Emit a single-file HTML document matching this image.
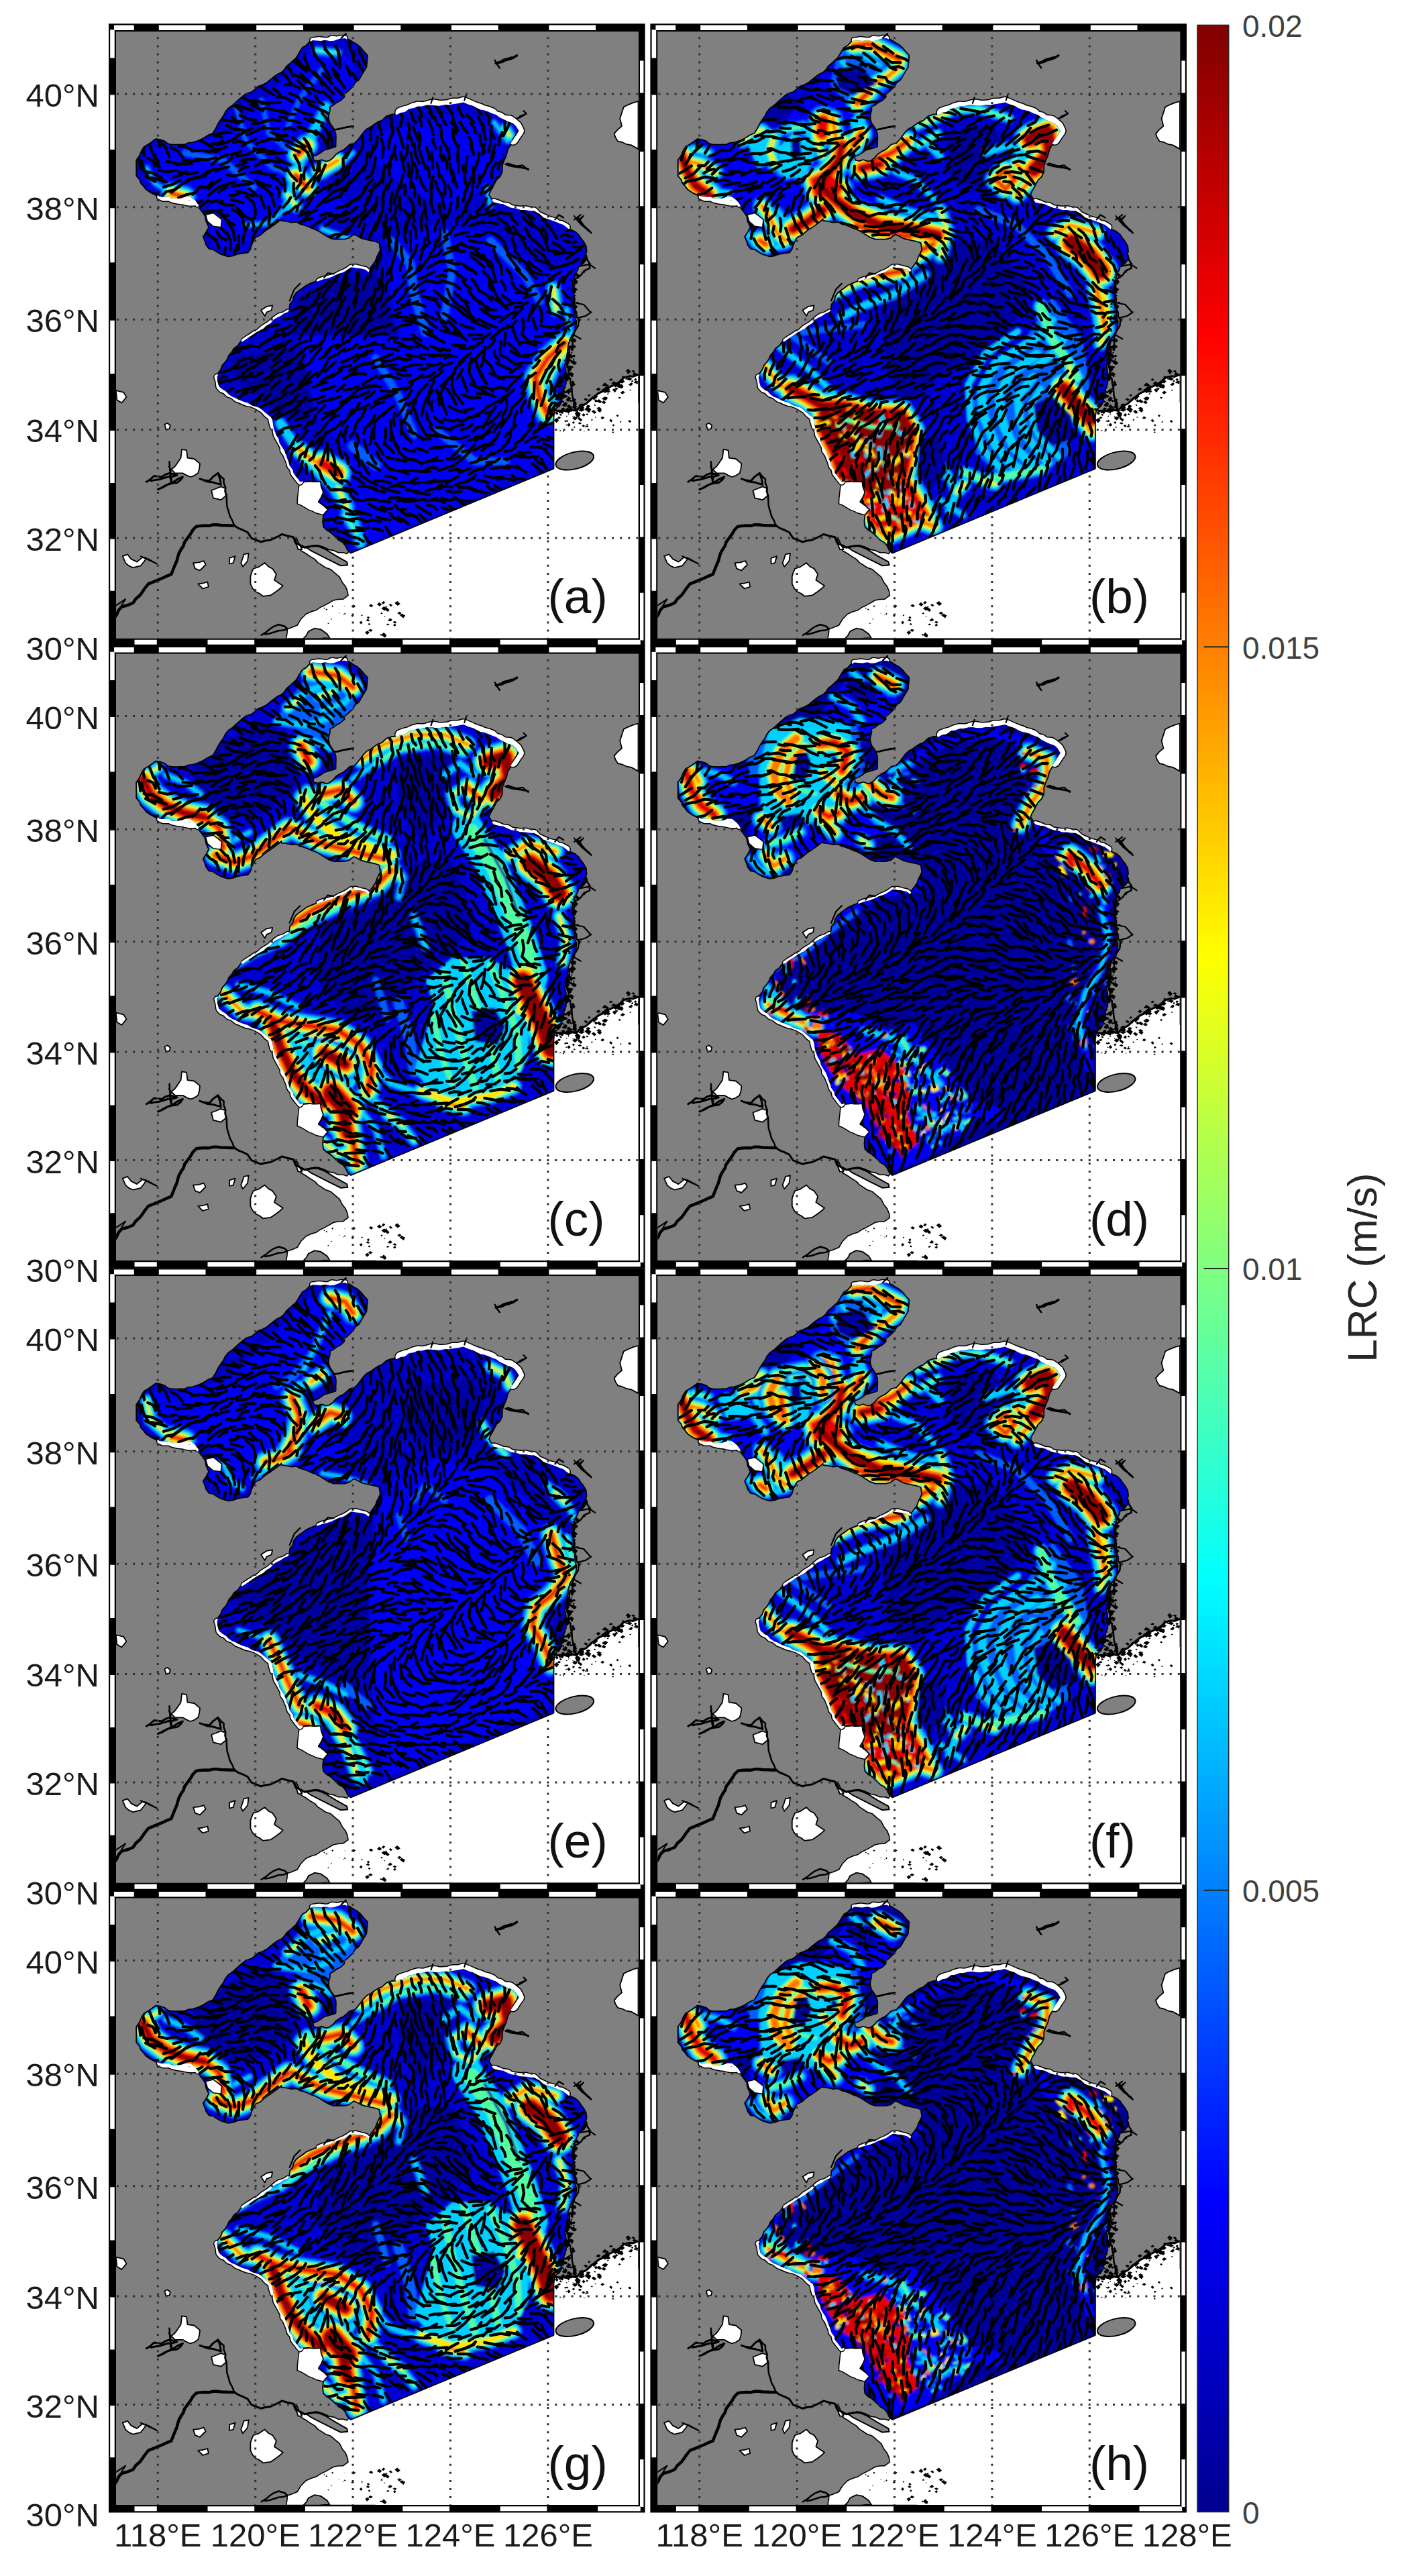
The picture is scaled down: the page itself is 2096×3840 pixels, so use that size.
<!DOCTYPE html>
<html><head><meta charset="utf-8"><title>LRC</title>
<style>html,body{margin:0;padding:0;background:#fff}svg{display:block}text{font-family:"Liberation Sans",Arial,sans-serif}</style></head><body>
<svg width="2096" height="3840" viewBox="0 0 2096 3840">
<defs>
<clipPath id="inner"><rect x="173.0" y="47.3" width="778.8" height="904.2"/></clipPath>
<clipPath id="seaclip"><path d="M465.9 59.9 L471.6 60.4 L478.4 60.9 L485.4 59.8 L491.5 61.3 L497.8 60.8 L506.0 57.8 L514.2 57.1 L521.2 60.6 L526.5 64.1 L531.7 66.8 L537.0 71.3 L542.4 78.0 L547.0 82.7 L546.3 91.8 L545.5 99.7 L541.7 105.7 L537.0 114.0 L533.9 119.0 L528.9 122.2 L525.6 128.2 L521.8 131.9 L516.7 136.8 L511.4 139.6 L512.5 144.2 L507.7 148.8 L501.5 152.1 L496.3 156.0 L491.1 158.4 L491.0 164.2 L489.0 172.0 L489.1 177.3 L491.1 184.0 L496.6 191.7 L499.7 199.7 L500.0 205.3 L499.7 211.6 L499.7 218.0 L490.8 220.7 L482.6 223.0 L477.1 227.2 L471.7 230.4 L465.5 232.5 L466.9 239.5 L473.9 241.0 L479.4 239.1 L486.0 241.5 L491.1 240.5 L497.2 235.9 L501.1 231.0 L506.9 226.9 L512.4 224.5 L516.7 221.0 L521.8 216.0 L529.0 214.6 L533.8 209.5 L537.5 204.6 L543.0 197.3 L548.0 192.5 L552.8 190.2 L559.7 185.3 L564.3 182.3 L569.4 180.5 L577.1 173.7 L584.3 171.4 L591.4 171.1 L597.0 168.0 L603.6 166.9 L609.8 162.2 L616.9 160.9 L623.6 158.6 L628.9 158.5 L636.4 156.8 L642.5 156.6 L647.7 157.6 L654.8 157.8 L662.7 156.3 L668.1 156.6 L675.6 155.3 L683.7 154.0 L690.9 152.4 L697.7 155.5 L705.3 158.1 L710.8 160.9 L716.3 163.4 L721.5 164.2 L727.9 166.6 L734.8 169.5 L739.4 171.0 L744.9 175.1 L751.3 178.2 L756.9 181.1 L764.8 183.7 L769.4 188.2 L773.4 195.0 L769.4 201.4 L764.8 207.9 L761.0 214.6 L756.3 222.1 L754.0 231.2 L750.6 239.1 L748.0 246.5 L747.8 256.2 L744.5 263.1 L739.6 267.5 L736.4 273.3 L733.8 278.5 L730.4 284.2 L727.9 290.4 L731.8 296.3 L736.4 301.7 L742.5 303.3 L750.4 304.3 L756.3 307.4 L763.1 309.9 L769.1 310.5 L776.2 313.1 L783.6 312.9 L788.7 313.9 L796.1 314.5 L803.8 318.5 L810.4 324.5 L818.4 326.9 L827.4 330.2 L834.0 332.9 L839.7 335.0 L844.5 338.7 L849.8 342.9 L856.9 346.2 L861.6 350.1 L864.7 354.8 L869.2 360.7 L872.9 367.2 L873.7 374.7 L872.1 379.9 L872.9 387.1 L868.0 392.5 L861.6 397.1 L860.2 402.4 L856.3 408.0 L855.9 413.7 L853.0 420.0 L852.7 426.3 L853.0 432.8 L854.5 438.6 L853.5 446.0 L853.0 453.8 L856.2 460.6 L856.0 466.0 L856.5 473.8 L858.4 478.6 L858.0 486.0 L855.6 493.2 L852.4 498.7 L849.0 505.0 L847.1 511.3 L845.6 517.2 L845.0 525.0 L843.9 531.1 L843.1 537.2 L841.0 545.0 L842.7 552.2 L843.4 559.4 L843.0 565.0 L843.0 571.9 L839.7 579.0 L840.0 585.0 L837.1 592.0 L836.0 600.0 L831.4 605.6 L826.0 611.0 L824.6 621.8 L824.6 698.0 L522.8 823.5 L518.8 819.4 L515.5 812.6 L511.4 807.8 L506.0 804.9 L501.9 800.9 L497.2 796.4 L492.0 791.8 L487.8 789.6 L482.9 785.0 L482.0 777.2 L482.9 767.9 L490.1 759.4 L486.4 756.4 L481.4 750.5 L475.8 748.0 L479.7 741.8 L482.9 733.8 L479.6 724.7 L478.7 716.7 L471.8 717.1 L466.0 717.2 L460.6 716.3 L452.5 716.9 L447.4 718.2 L441.4 710.6 L437.4 705.3 L436.4 700.5 L431.8 693.9 L430.1 687.8 L427.9 683.0 L426.0 676.9 L423.4 670.8 L419.5 665.1 L416.5 659.9 L415.2 653.8 L411.8 648.4 L408.6 640.5 L407.2 634.5 L406.2 626.8 L403.3 620.0 L403.3 621.8 L398.4 617.4 L391.7 612.0 L386.2 607.6 L380.5 606.0 L374.6 603.9 L369.1 600.6 L363.5 599.1 L357.9 596.8 L351.0 593.2 L346.2 591.5 L340.7 587.7 L337.1 583.6 L332.3 580.9 L326.5 576.3 L324.4 569.1 L323.6 562.1 L325.5 557.2 L329.8 551.7 L332.2 545.0 L336.5 540.5 L339.9 535.2 L341.8 530.3 L346.4 525.1 L349.4 519.9 L355.7 515.4 L358.2 511.2 L363.5 508.0 L370.2 503.4 L373.6 501.3 L380.5 496.6 L385.2 493.7 L392.4 489.9 L397.6 485.3 L403.5 481.7 L407.8 476.5 L411.8 473.9 L418.2 471.1 L423.8 467.1 L428.9 465.3 L432.2 460.8 L433.1 453.6 L437.0 449.3 L438.9 442.0 L442.2 437.2 L446.5 433.8 L452.7 429.5 L457.0 426.1 L462.8 423.4 L468.9 421.0 L475.5 418.7 L480.6 416.8 L489.1 414.7 L494.0 413.1 L501.1 409.5 L506.9 407.6 L513.0 405.2 L518.5 401.4 L523.6 398.3 L530.9 399.6 L538.3 400.2 L544.9 402.0 L549.4 405.7 L552.0 400.8 L556.8 394.6 L560.7 389.1 L562.4 383.6 L565.0 378.6 L567.9 372.5 L566.1 361.4 L558.8 358.9 L553.1 357.7 L544.9 356.1 L538.3 354.0 L532.3 350.5 L527.2 348.4 L519.9 354.0 L513.0 355.8 L504.6 355.7 L497.7 355.8 L490.1 353.0 L482.9 348.4 L477.0 344.7 L469.8 341.0 L464.4 339.2 L458.8 336.6 L452.4 334.2 L447.3 332.9 L442.2 329.9 L433.9 330.6 L427.3 329.0 L420.0 328.1 L420.4 324.5 L414.6 329.6 L409.8 333.2 L403.3 337.9 L397.6 341.6 L392.8 345.1 L386.8 350.3 L380.5 352.9 L377.6 357.9 L374.1 364.9 L372.4 371.2 L369.1 375.7 L362.9 376.5 L354.1 377.9 L347.0 380.5 L340.7 381.4 L335.9 380.2 L328.7 377.8 L323.1 374.4 L318.5 371.2 L312.2 370.0 L308.3 365.2 L306.0 358.2 L303.7 352.9 L308.2 346.3 L312.2 338.7 L308.1 329.8 L306.6 321.7 L302.6 316.0 L298.2 310.5 L295.2 304.6 L290.7 298.6 L283.8 293.2 L277.3 293.1 L269.9 295.5 L263.9 296.0 L256.5 296.3 L252.2 293.6 L245.8 293.6 L238.3 293.2 L232.4 290.1 L224.5 286.1 L218.4 281.8 L215.2 277.6 L210.6 272.5 L208.9 267.3 L204.1 261.9 L204.2 253.3 L204.1 246.3 L204.1 239.1 L208.5 232.9 L211.9 225.0 L215.5 219.2 L221.6 215.8 L226.1 212.7 L232.6 207.9 L238.7 209.0 L245.1 211.2 L249.2 214.8 L255.3 216.4 L262.2 216.5 L269.0 216.3 L275.3 216.4 L281.4 213.7 L287.4 213.2 L295.2 210.7 L301.5 208.0 L307.2 204.6 L311.6 201.8 L317.9 199.3 L322.7 191.5 L325.5 185.4 L329.3 179.4 L333.8 173.3 L336.5 167.7 L340.7 162.3 L346.5 158.3 L351.7 153.7 L357.8 148.1 L362.5 144.0 L368.1 140.0 L375.6 138.0 L380.5 133.9 L385.4 129.5 L391.7 127.4 L398.4 123.9 L403.3 119.7 L409.2 115.0 L414.4 111.3 L420.4 108.3 L424.7 104.2 L428.1 99.1 L433.9 94.3 L437.4 91.2 L441.8 87.2 L445.7 80.9 L448.3 76.5 L451.7 71.3 L456.8 68.7 L461.7 63.2Z"/></clipPath>
<filter id="b6" x="-20%" y="-20%" width="140%" height="140%"><feGaussianBlur stdDeviation="6"/></filter>
<filter id="b3" x="-20%" y="-20%" width="140%" height="140%"><feGaussianBlur stdDeviation="1.8"/></filter>
<filter id="b10" x="-20%" y="-20%" width="140%" height="140%"><feGaussianBlur stdDeviation="10"/></filter>
<linearGradient id="jet" x1="0" y1="1" x2="0" y2="0">
<stop offset="0" stop-color="#00008F"/>
<stop offset="0.125" stop-color="#0000FF"/>
<stop offset="0.375" stop-color="#00FFFF"/>
<stop offset="0.625" stop-color="#FFFF00"/>
<stop offset="0.875" stop-color="#FF0000"/>
<stop offset="1" stop-color="#800000"/>
</linearGradient>
<g id="base" clip-path="url(#inner)">
<rect x="162.0" y="35.2" width="799.6" height="927.8" fill="#808080"/>
<path d="M522.8 823.5 L824.6 698.0 L825.1 611.0 L832.8 612.0 L840.0 612.0 L847.1 613.0 L853.4 613.0 L859.4 612.3 L865.7 607.0 L873.9 601.8 L880.7 596.8 L885.8 591.2 L893.2 586.5 L899.0 583.3 L905.5 578.8 L912.2 575.4 L918.9 571.5 L925.4 567.4 L931.0 563.5 L938.6 560.8 L944.9 560.3 L952.0 558.2 L952.0 952.0 L426.6 952.0 L426.6 951.6 L428.0 943.9 L428.4 937.5 L434.0 935.7 L443.2 932.0 L448.8 922.7 L456.2 915.3 L464.1 911.8 L470.9 909.8 L477.6 905.4 L483.9 902.4 L489.4 899.4 L496.8 895.0 L503.6 893.5 L511.6 893.1 L519.0 887.6 L518.1 881.8 L515.3 874.6 L510.3 868.2 L506.1 859.9 L499.7 854.7 L493.1 848.8 L485.1 846.0 L478.3 841.4 L473.8 838.6 L469.3 833.6 L463.6 830.3 L455.9 825.0 L448.8 821.0 L445.9 814.3 L444.1 809.5 L442.3 803.5 L439.5 804.4 L442.2 811.2 L446.9 817.3 L453.1 816.0 L459.9 815.5 L467.9 814.1 L474.6 812.7 L481.6 815.9 L489.4 819.2 L497.2 820.6 L504.2 823.8 L511.7 823.7 L517.2 825.6 L520.9 821.0Z" fill="#fff" stroke="#000" stroke-width="1.6" stroke-linejoin="round"/>
<path d="M522.8 823.5 L824.6 698.0 L825.1 611.0 L840.0 614.0 L952.0 600.0 L952.0 952.0 L560.0 952.0Z" fill="#fff"/>
<path d="M452.5 951.6 L456.8 947.0 L459.9 941.2 L469.1 936.6 L478.3 938.4 L487.6 944.9 L491.7 951.6 L485.1 951.1 L477.6 951.9 L472.0 952.1 L465.3 952.1 L458.6 952.2Z" fill="#808080" stroke="#000" stroke-width="1.8"/>
<path d="M456.2 815.5 L470.9 812.7 L485.7 819.2 L500.5 828.4 L517.2 837.7 L518.1 842.3 L507.9 843.2 L493.1 835.8 L478.3 828.4 L463.6 821.0Z" fill="#808080" stroke="#000" stroke-width="2"/>
<path d="M951.5 151.0 L943.9 153.1 L937.3 155.8 L929.8 159.5 L927.1 167.8 L924.2 176.6 L927.0 187.9 L920.4 193.6 L915.6 199.3 L917.5 204.9 L921.3 210.7 L927.1 211.8 L934.4 215.2 L941.2 216.4 L951.5 222.1Z" fill="#fff" stroke="#000" stroke-width="1.8"/>
<path d="M447.4 718.2 L453.2 718.6 L459.3 717.9 L465.5 716.9 L473.2 716.5 L478.7 716.7 L481.0 725.2 L482.9 733.8 L479.3 740.9 L475.8 748.0 L480.1 752.3 L484.7 755.2 L490.1 759.4 L482.9 767.9 L471.6 765.1 L465.1 761.9 L460.1 760.1 L454.5 756.6 L448.6 753.1 L443.1 750.9 L443.4 743.1 L444.5 733.8 L445.3 726.2Z" fill="#fff" stroke="#000" stroke-width="1.5"/>
<ellipse cx="856.8" cy="686.5" rx="29" ry="12.5" transform="rotate(-14 856.8 686.5)" fill="#808080" stroke="#000" stroke-width="2"/>
<path d="M271.0 669.8 L278.1 671.2 L279.5 682.6 L289.5 684.0 L298.0 691.1 L297.2 698.5 L295.2 705.3 L289.9 708.8 L283.8 711.0 L277.7 708.4 L272.4 705.3 L261.0 705.3 L255.3 699.7 L260.2 696.0 L263.9 691.1 L269.6 682.6 L270.4 675.7Z" fill="#fff" stroke="#000" stroke-width="1.8" stroke-linejoin="round"/>
<path d="M315.1 731.0 L321.7 728.5 L329.3 725.3 L336.4 728.1 L336.4 739.5 L329.3 745.2 L317.9 742.3Z" fill="#fff" stroke="#000" stroke-width="1.8" stroke-linejoin="round"/>
<path d="M182.8 829.1 L189.9 826.3 L195.6 833.4 L204.1 837.6 L212.7 830.5 L218.4 831.9 L214.8 837.0 L209.8 843.3 L198.4 846.2 L192.0 843.4 L187.1 839.1Z" fill="#fff" stroke="#000" stroke-width="1.8" stroke-linejoin="round"/>
<path d="M288.1 839.1 L296.6 838.4 L303.7 836.2 L306.6 841.9 L302.9 845.5 L298.0 850.4 L290.9 847.6Z" fill="#fff" stroke="#000" stroke-width="1.8" stroke-linejoin="round"/>
<path d="M295.2 870.4 L302.6 869.5 L309.4 867.5 L310.8 874.6 L302.3 877.5Z" fill="#fff" stroke="#000" stroke-width="1.8" stroke-linejoin="round"/>
<path d="M342.1 831.9 L350.7 829.1 L347.8 839.1 L342.1 840.5Z" fill="#fff" stroke="#000" stroke-width="1.8" stroke-linejoin="round"/>
<path d="M363.5 826.3 L370.6 824.8 L369.1 836.2 L362.0 844.8 L359.2 839.1 L361.7 832.2Z" fill="#fff" stroke="#000" stroke-width="1.8" stroke-linejoin="round"/>
<path d="M377.7 847.6 L386.2 844.8 L394.8 839.1 L400.4 844.8 L406.1 847.6 L411.8 856.1 L409.0 864.7 L417.5 870.4 L421.8 873.2 L417.0 877.8 L411.8 881.7 L403.3 887.4 L391.9 888.8 L386.9 884.8 L380.5 881.7 L376.3 876.6 L373.4 870.4 L373.4 859.0 L375.3 853.1Z" fill="#fff" stroke="#000" stroke-width="1.8" stroke-linejoin="round"/>
<path d="M437.4 802.1 L443.1 804.9 L446.0 811.4 L450.2 819.1 L444.5 819.1 L442.3 812.9 L439.2 807.7Z" fill="#fff" stroke="#000" stroke-width="1.8" stroke-linejoin="round"/>
<path d="M245.4 632.8 L249.7 630.8 L253.9 634.2 L252.5 639.3 L247.4 639.9Z" fill="#fff" stroke="#000" stroke-width="1.8" stroke-linejoin="round"/>
<path d="M172.8 582.0 L184.2 584.8 L188.5 591.9 L181.4 600.5 L174.3 596.2 L173.6 588.8Z" fill="#fff" stroke="#000" stroke-width="1.8" stroke-linejoin="round"/>
<path d="M389.1 462.5 L397.6 456.8 L406.1 455.4 L404.7 462.5 L397.6 465.3 L394.8 471.0Z" fill="#fff" stroke="#000" stroke-width="1.8" stroke-linejoin="round"/>
<path d="M170.0 921.6 L173.7 916.7 L176.7 909.8 L181.4 904.5 L190.8 902.0 L198.4 898.8 L202.4 892.8 L208.7 887.3 L212.7 881.7 L216.0 876.8 L221.2 870.4 L227.6 867.8 L235.4 864.7 L242.3 861.8 L249.6 858.3 L255.3 856.1 L258.4 848.2 L261.0 841.9 L263.8 835.5 L264.8 831.2 L266.7 824.8 L270.3 818.3 L273.2 814.2 L275.3 807.8 L279.2 802.6 L283.8 796.4 L287.5 790.0 L292.3 785.0 L298.0 783.9 L305.8 783.5 L312.5 783.7 L317.9 782.2 L323.6 782.3 L329.5 782.9 L336.9 783.2 L342.1 783.5 L349.2 783.6" fill="none" stroke="#000" stroke-width="4.5" stroke-linecap="round" stroke-linejoin="round"/>
<path d="M349.2 783.6 L355.8 787.7 L361.5 789.8 L369.1 793.5 L374.8 802.1 L382.9 805.3 L389.1 807.8 L395.5 806.0 L403.3 804.9 L409.8 801.9 L413.8 800.0 L420.4 796.4 L428.2 798.8 L437.4 800.7 L443.1 810.6 L449.0 813.4 L454.5 816.3 L464.0 814.3 L471.6 813.5 L480.3 815.5 L488.6 819.1" fill="none" stroke="#000" stroke-width="3" stroke-linecap="round" stroke-linejoin="round"/>
<path d="M325.0 705.3 L329.2 710.4 L333.6 713.9 L333.5 719.7 L336.2 726.7 L335.4 732.4 L337.8 738.8 L337.9 745.2 L338.4 754.5 L340.7 762.2 L342.8 769.6 L346.6 776.4 L349.2 783.6" fill="none" stroke="#000" stroke-width="2.5" stroke-linecap="round" stroke-linejoin="round"/>
<path d="M218.4 718.2 L224.0 714.7 L229.7 709.6 L241.1 711.0 L245.9 707.7 L252.5 705.3 L263.9 708.2 L258.3 710.0 L250.2 710.8 L245.2 712.4 L237.0 714.7 L230.7 715.6 L225.1 716.7" fill="none" stroke="#000" stroke-width="3" stroke-linecap="round" stroke-linejoin="round"/>
<path d="M235.4 729.5 L242.5 726.7 L249.7 722.4 L255.9 720.6 L263.9 719.6 L269.1 715.6 L272.4 711.0 L265.5 713.8 L260.8 717.0 L253.0 721.0 L247.0 723.6 L241.8 726.3" fill="none" stroke="#000" stroke-width="3" stroke-linecap="round" stroke-linejoin="round"/>
<path d="M252.5 688.3 L253.1 697.6 L253.9 705.3 L253.7 712.0 L255.3 719.6 L255.7 713.7 L253.4 706.8 L254.4 700.7 L252.1 695.4" fill="none" stroke="#000" stroke-width="2.5" stroke-linecap="round" stroke-linejoin="round"/>
<path d="M298.0 713.9 L305.0 716.1 L312.2 716.7 L317.7 710.6 L325.0 705.3 L328.1 714.2 L329.3 722.4 L322.3 720.4 L317.5 718.9 L309.6 718.1 L303.5 715.9" fill="none" stroke="#000" stroke-width="3" stroke-linecap="round" stroke-linejoin="round"/>
<path d="M209.8 829.1 L215.4 832.0 L221.2 833.4 L226.7 836.5 L234.0 840.5 L228.9 838.0 L221.2 834.5 L216.6 831.8" fill="none" stroke="#000" stroke-width="2" stroke-linecap="round" stroke-linejoin="round"/>
<path d="M389.6 946.8 L396.0 942.9 L402.5 937.5 L408.1 933.8 L415.5 931.0 L424.7 933.8 L428.4 937.5 L422.9 939.4 L414.7 940.3 L409.8 942.0 L401.6 944.5 L395.3 945.5" fill="none" stroke="#000" stroke-width="2.5" stroke-linecap="round" stroke-linejoin="round"/>
<path d="M770.5 82.7 L764.7 86.3 L759.1 88.4 L752.5 90.1 L747.8 92.6 L739.2 94.1 L746.4 92.1 L751.0 89.2 L758.7 87.1 L763.3 85.8" fill="none" stroke="#000" stroke-width="3.5" stroke-linecap="round" stroke-linejoin="round"/>
<path d="M737.8 89.8 L741.3 96.3 L744.9 101.2 L740.4 95.1" fill="none" stroke="#000" stroke-width="2.5" stroke-linecap="round" stroke-linejoin="round"/>
<path d="M170.0 904.5 L178.5 898.8 L187.1 893.1 L181.4 901.7" fill="none" stroke="#000" stroke-width="2" stroke-linecap="round" stroke-linejoin="round"/>
<path d="M753.5 244.8 L761.9 247.7 L770.5 249.1 L778.1 250.1 L787.6 251.9 L781.7 250.8 L773.2 248.8 L767.9 247.5 L759.4 247.0" fill="none" stroke="#000" stroke-width="2.5" stroke-linecap="round" stroke-linejoin="round"/>
<path d="M770.5 176.6 L776.1 174.5 L781.9 170.9 L775.3 173.3" fill="none" stroke="#000" stroke-width="2.5" stroke-linecap="round" stroke-linejoin="round"/>
<path d="M855.9 321.7 L859.6 327.2 L862.6 330.7 L867.3 335.9 L873.0 340.0 L876.0 343.2 L881.5 347.3 L878.0 342.9 L872.0 339.6 L868.0 334.8 L864.7 330.2 L861.1 325.3" fill="none" stroke="#000" stroke-width="2" stroke-linecap="round" stroke-linejoin="round"/>
<path d="M861.6 330.2 L865.8 326.7 L870.1 321.7 L864.9 325.5" fill="none" stroke="#000" stroke-width="2" stroke-linecap="round" stroke-linejoin="round"/>
<path d="M497.2 193.6 L504.2 193.0 L511.4 190.8 L517.6 188.9 L525.6 187.9 L519.4 189.7 L510.7 190.4 L505.1 192.1" fill="none" stroke="#000" stroke-width="2" stroke-linecap="round" stroke-linejoin="round"/>
<path d="M508.5 57.1 L515.7 51.4" fill="none" stroke="#000" stroke-width="2" stroke-linecap="round" stroke-linejoin="round"/>
<path d="M465.9 59.9 L471.6 60.4 L478.4 60.9 L485.4 59.8 L491.5 61.3 L497.8 60.8 L506.0 57.8 L514.2 57.1 L521.2 60.6 L526.5 64.1 L531.7 66.8 L537.0 71.3 L542.4 78.0 L547.0 82.7 L546.3 91.8 L545.5 99.7 L541.7 105.7 L537.0 114.0 L533.9 119.0 L528.9 122.2 L525.6 128.2 L521.8 131.9 L516.7 136.8 L511.4 139.6 L512.5 144.2 L507.7 148.8 L501.5 152.1 L496.3 156.0 L491.1 158.4 L491.0 164.2 L489.0 172.0 L489.1 177.3 L491.1 184.0 L496.6 191.7 L499.7 199.7 L500.0 205.3 L499.7 211.6 L499.7 218.0 L490.8 220.7 L482.6 223.0 L477.1 227.2 L471.7 230.4 L465.5 232.5 L466.9 239.5 L473.9 241.0 L479.4 239.1 L486.0 241.5 L491.1 240.5 L497.2 235.9 L501.1 231.0 L506.9 226.9 L512.4 224.5 L516.7 221.0 L521.8 216.0 L529.0 214.6 L533.8 209.5 L537.5 204.6 L543.0 197.3 L548.0 192.5 L552.8 190.2 L559.7 185.3 L564.3 182.3 L569.4 180.5 L577.1 173.7 L584.3 171.4 L591.4 171.1 L597.0 168.0 L603.6 166.9 L609.8 162.2 L616.9 160.9 L623.6 158.6 L628.9 158.5 L636.4 156.8 L642.5 156.6 L647.7 157.6 L654.8 157.8 L662.7 156.3 L668.1 156.6 L675.6 155.3 L683.7 154.0 L690.9 152.4 L697.7 155.5 L705.3 158.1 L710.8 160.9 L716.3 163.4 L721.5 164.2 L727.9 166.6 L734.8 169.5 L739.4 171.0 L744.9 175.1 L751.3 178.2 L756.9 181.1 L764.8 183.7 L769.4 188.2 L773.4 195.0 L769.4 201.4 L764.8 207.9 L761.0 214.6 L756.3 222.1 L754.0 231.2 L750.6 239.1 L748.0 246.5 L747.8 256.2 L744.5 263.1 L739.6 267.5 L736.4 273.3 L733.8 278.5 L730.4 284.2 L727.9 290.4 L731.8 296.3 L736.4 301.7 L742.5 303.3 L750.4 304.3 L756.3 307.4 L763.1 309.9 L769.1 310.5 L776.2 313.1 L783.6 312.9 L788.7 313.9 L796.1 314.5 L803.8 318.5 L810.4 324.5 L818.4 326.9 L827.4 330.2 L834.0 332.9 L839.7 335.0 L844.5 338.7 L849.8 342.9 L856.9 346.2 L861.6 350.1 L864.7 354.8 L869.2 360.7 L872.9 367.2 L873.7 374.7 L872.1 379.9 L872.9 387.1 L868.0 392.5 L861.6 397.1 L860.2 402.4 L856.3 408.0 L855.9 413.7 L853.0 420.0 L852.7 426.3 L853.0 432.8 L854.5 438.6 L853.5 446.0 L853.0 453.8 L856.2 460.6 L856.0 466.0 L856.5 473.8 L858.4 478.6 L858.0 486.0 L855.6 493.2 L852.4 498.7 L849.0 505.0 L847.1 511.3 L845.6 517.2 L845.0 525.0 L843.9 531.1 L843.1 537.2 L841.0 545.0 L842.7 552.2 L843.4 559.4 L843.0 565.0 L843.0 571.9 L839.7 579.0 L840.0 585.0 L837.1 592.0 L836.0 600.0 L831.4 605.6 L826.0 611.0 L824.6 621.8 L824.6 698.0 L522.8 823.5 L518.8 819.4 L515.5 812.6 L511.4 807.8 L506.0 804.9 L501.9 800.9 L497.2 796.4 L492.0 791.8 L487.8 789.6 L482.9 785.0 L482.0 777.2 L482.9 767.9 L490.1 759.4 L486.4 756.4 L481.4 750.5 L475.8 748.0 L479.7 741.8 L482.9 733.8 L479.6 724.7 L478.7 716.7 L471.8 717.1 L466.0 717.2 L460.6 716.3 L452.5 716.9 L447.4 718.2 L441.4 710.6 L437.4 705.3 L436.4 700.5 L431.8 693.9 L430.1 687.8 L427.9 683.0 L426.0 676.9 L423.4 670.8 L419.5 665.1 L416.5 659.9 L415.2 653.8 L411.8 648.4 L408.6 640.5 L407.2 634.5 L406.2 626.8 L403.3 620.0 L403.3 621.8 L398.4 617.4 L391.7 612.0 L386.2 607.6 L380.5 606.0 L374.6 603.9 L369.1 600.6 L363.5 599.1 L357.9 596.8 L351.0 593.2 L346.2 591.5 L340.7 587.7 L337.1 583.6 L332.3 580.9 L326.5 576.3 L324.4 569.1 L323.6 562.1 L325.5 557.2 L329.8 551.7 L332.2 545.0 L336.5 540.5 L339.9 535.2 L341.8 530.3 L346.4 525.1 L349.4 519.9 L355.7 515.4 L358.2 511.2 L363.5 508.0 L370.2 503.4 L373.6 501.3 L380.5 496.6 L385.2 493.7 L392.4 489.9 L397.6 485.3 L403.5 481.7 L407.8 476.5 L411.8 473.9 L418.2 471.1 L423.8 467.1 L428.9 465.3 L432.2 460.8 L433.1 453.6 L437.0 449.3 L438.9 442.0 L442.2 437.2 L446.5 433.8 L452.7 429.5 L457.0 426.1 L462.8 423.4 L468.9 421.0 L475.5 418.7 L480.6 416.8 L489.1 414.7 L494.0 413.1 L501.1 409.5 L506.9 407.6 L513.0 405.2 L518.5 401.4 L523.6 398.3 L530.9 399.6 L538.3 400.2 L544.9 402.0 L549.4 405.7 L552.0 400.8 L556.8 394.6 L560.7 389.1 L562.4 383.6 L565.0 378.6 L567.9 372.5 L566.1 361.4 L558.8 358.9 L553.1 357.7 L544.9 356.1 L538.3 354.0 L532.3 350.5 L527.2 348.4 L519.9 354.0 L513.0 355.8 L504.6 355.7 L497.7 355.8 L490.1 353.0 L482.9 348.4 L477.0 344.7 L469.8 341.0 L464.4 339.2 L458.8 336.6 L452.4 334.2 L447.3 332.9 L442.2 329.9 L433.9 330.6 L427.3 329.0 L420.0 328.1 L420.4 324.5 L414.6 329.6 L409.8 333.2 L403.3 337.9 L397.6 341.6 L392.8 345.1 L386.8 350.3 L380.5 352.9 L377.6 357.9 L374.1 364.9 L372.4 371.2 L369.1 375.7 L362.9 376.5 L354.1 377.9 L347.0 380.5 L340.7 381.4 L335.9 380.2 L328.7 377.8 L323.1 374.4 L318.5 371.2 L312.2 370.0 L308.3 365.2 L306.0 358.2 L303.7 352.9 L308.2 346.3 L312.2 338.7 L308.1 329.8 L306.6 321.7 L302.6 316.0 L298.2 310.5 L295.2 304.6 L290.7 298.6 L283.8 293.2 L277.3 293.1 L269.9 295.5 L263.9 296.0 L256.5 296.3 L252.2 293.6 L245.8 293.6 L238.3 293.2 L232.4 290.1 L224.5 286.1 L218.4 281.8 L215.2 277.6 L210.6 272.5 L208.9 267.3 L204.1 261.9 L204.2 253.3 L204.1 246.3 L204.1 239.1 L208.5 232.9 L211.9 225.0 L215.5 219.2 L221.6 215.8 L226.1 212.7 L232.6 207.9 L238.7 209.0 L245.1 211.2 L249.2 214.8 L255.3 216.4 L262.2 216.5 L269.0 216.3 L275.3 216.4 L281.4 213.7 L287.4 213.2 L295.2 210.7 L301.5 208.0 L307.2 204.6 L311.6 201.8 L317.9 199.3 L322.7 191.5 L325.5 185.4 L329.3 179.4 L333.8 173.3 L336.5 167.7 L340.7 162.3 L346.5 158.3 L351.7 153.7 L357.8 148.1 L362.5 144.0 L368.1 140.0 L375.6 138.0 L380.5 133.9 L385.4 129.5 L391.7 127.4 L398.4 123.9 L403.3 119.7 L409.2 115.0 L414.4 111.3 L420.4 108.3 L424.7 104.2 L428.1 99.1 L433.9 94.3 L437.4 91.2 L441.8 87.2 L445.7 80.9 L448.3 76.5 L451.7 71.3 L456.8 68.7 L461.7 63.2Z" fill="none" stroke="#000" stroke-width="3.6" stroke-linejoin="round"/>
<path d="M597.0 168.0 L603.0 165.9 L609.5 164.3 L616.9 160.9 L623.2 159.3 L631.0 159.7 L637.3 158.2 L642.5 156.6 L647.9 156.2 L654.5 157.5 L660.1 157.5 L668.1 156.6 L674.6 154.6 L683.7 154.4 L690.9 152.4 L697.6 155.4 L704.5 158.4 L710.8 160.9 L715.2 162.2 L720.7 164.9 L727.9 166.6 L732.9 168.6 L738.5 173.7 L744.9 175.1 L750.3 179.3 L759.5 179.9 L764.8 183.7 L770.2 188.4 L773.4 195.0 L769.6 200.2 L764.8 207.9" fill="none" stroke="#000" stroke-width="18" stroke-linejoin="round" stroke-linecap="round"/>
<path d="M447.4 718.2 L442.4 711.9 L437.4 705.3 L436.1 699.0 L432.3 694.6 L430.5 687.8 L428.0 682.0 L426.0 676.9 L422.1 671.6 L421.6 666.1 L417.9 659.3 L414.4 653.0 L411.8 648.4 L410.4 640.6 L406.9 635.7 L404.9 628.6 L403.3 620.0 L403.3 621.8 L398.0 617.9 L392.3 611.3 L386.2 607.6 L381.2 604.7 L374.6 602.2 L367.8 600.8 L363.5 599.1 L356.2 595.9 L353.2 595.0 L346.2 589.3 L340.7 587.7 L335.5 582.5 L330.3 580.5 L326.5 576.3 L325.4 567.7 L323.6 562.1" fill="none" stroke="#000" stroke-width="11" stroke-linejoin="round" stroke-linecap="round"/>
<path d="M363.5 508.0 L370.5 503.2 L376.3 499.6 L380.5 496.6 L386.1 494.1 L391.4 489.1 L397.6 485.3 L401.3 483.0 L408.6 476.6 L411.8 473.9 L416.3 470.9 L423.3 469.0 L428.9 465.3" fill="none" stroke="#000" stroke-width="10" stroke-linejoin="round" stroke-linecap="round"/>
<path d="M295.2 304.6 L289.3 298.2 L283.8 293.2 L278.5 294.1 L269.2 295.9 L263.9 296.0 L256.1 294.3 L249.7 295.0 L245.8 294.3 L238.3 293.2 L243.7 295.6 L252.1 295.2 L256.5 297.6 L265.1 299.6 L271.1 300.2 L275.4 301.2 L282.3 302.5 L288.8 302.4" fill="none" stroke="#000" stroke-width="11" stroke-linejoin="round" stroke-linecap="round"/>
<path d="M736.4 301.7 L743.0 304.0 L749.4 306.8 L756.3 307.4 L761.4 310.9 L770.2 312.2 L776.2 313.1 L783.8 312.6 L790.5 314.5 L796.1 314.5 L802.1 320.7 L810.4 324.5 L818.7 328.1 L827.4 330.2 L831.8 333.6 L837.2 334.5 L844.5 338.7" fill="none" stroke="#000" stroke-width="13" stroke-linejoin="round" stroke-linecap="round"/>
<path d="M465.9 59.9 L472.0 59.6 L479.8 60.4 L485.2 61.1 L491.5 61.3 L498.6 60.3 L507.9 57.1 L514.2 57.1 L508.4 56.7 L502.6 58.2 L494.6 56.9 L490.1 59.6 L485.0 59.9 L476.8 58.7 L472.2 59.1" fill="none" stroke="#000" stroke-width="10" stroke-linejoin="round" stroke-linecap="round"/>
<path d="M475.5 418.7 L480.3 416.6 L487.0 414.8 L494.0 413.1 L499.7 411.5 L506.9 407.6 L512.7 405.3 L519.4 401.4 L523.6 398.3 L530.8 398.1 L538.3 400.2 L544.8 401.6 L549.4 405.7" fill="none" stroke="#000" stroke-width="10" stroke-linejoin="round" stroke-linecap="round"/>
<path d="M597.0 168.0 L603.0 165.9 L609.5 164.3 L616.9 160.9 L623.2 159.3 L631.0 159.7 L637.3 158.2 L642.5 156.6 L647.9 156.2 L654.5 157.5 L660.1 157.5 L668.1 156.6 L674.6 154.6 L683.7 154.4 L690.9 152.4 L697.6 155.4 L704.5 158.4 L710.8 160.9 L715.2 162.2 L720.7 164.9 L727.9 166.6 L732.9 168.6 L738.5 173.7 L744.9 175.1 L750.3 179.3 L759.5 179.9 L764.8 183.7 L770.2 188.4 L773.4 195.0 L769.6 200.2 L764.8 207.9" fill="none" stroke="#fff" stroke-width="15" stroke-linejoin="round" stroke-linecap="round"/>
<path d="M447.4 718.2 L442.4 711.9 L437.4 705.3 L436.1 699.0 L432.3 694.6 L430.5 687.8 L428.0 682.0 L426.0 676.9 L422.1 671.6 L421.6 666.1 L417.9 659.3 L414.4 653.0 L411.8 648.4 L410.4 640.6 L406.9 635.7 L404.9 628.6 L403.3 620.0 L403.3 621.8 L398.0 617.9 L392.3 611.3 L386.2 607.6 L381.2 604.7 L374.6 602.2 L367.8 600.8 L363.5 599.1 L356.2 595.9 L353.2 595.0 L346.2 589.3 L340.7 587.7 L335.5 582.5 L330.3 580.5 L326.5 576.3 L325.4 567.7 L323.6 562.1" fill="none" stroke="#fff" stroke-width="8" stroke-linejoin="round" stroke-linecap="round"/>
<path d="M363.5 508.0 L370.5 503.2 L376.3 499.6 L380.5 496.6 L386.1 494.1 L391.4 489.1 L397.6 485.3 L401.3 483.0 L408.6 476.6 L411.8 473.9 L416.3 470.9 L423.3 469.0 L428.9 465.3" fill="none" stroke="#fff" stroke-width="7" stroke-linejoin="round" stroke-linecap="round"/>
<path d="M295.2 304.6 L289.3 298.2 L283.8 293.2 L278.5 294.1 L269.2 295.9 L263.9 296.0 L256.1 294.3 L249.7 295.0 L245.8 294.3 L238.3 293.2 L243.7 295.6 L252.1 295.2 L256.5 297.6 L265.1 299.6 L271.1 300.2 L275.4 301.2 L282.3 302.5 L288.8 302.4" fill="none" stroke="#fff" stroke-width="8" stroke-linejoin="round" stroke-linecap="round"/>
<path d="M736.4 301.7 L743.0 304.0 L749.4 306.8 L756.3 307.4 L761.4 310.9 L770.2 312.2 L776.2 313.1 L783.8 312.6 L790.5 314.5 L796.1 314.5 L802.1 320.7 L810.4 324.5 L818.7 328.1 L827.4 330.2 L831.8 333.6 L837.2 334.5 L844.5 338.7" fill="none" stroke="#fff" stroke-width="10" stroke-linejoin="round" stroke-linecap="round"/>
<path d="M465.9 59.9 L472.0 59.6 L479.8 60.4 L485.2 61.1 L491.5 61.3 L498.6 60.3 L507.9 57.1 L514.2 57.1 L508.4 56.7 L502.6 58.2 L494.6 56.9 L490.1 59.6 L485.0 59.9 L476.8 58.7 L472.2 59.1" fill="none" stroke="#fff" stroke-width="7" stroke-linejoin="round" stroke-linecap="round"/>
<path d="M475.5 418.7 L480.3 416.6 L487.0 414.8 L494.0 413.1 L499.7 411.5 L506.9 407.6 L512.7 405.3 L519.4 401.4 L523.6 398.3 L530.8 398.1 L538.3 400.2 L544.8 401.6 L549.4 405.7" fill="none" stroke="#fff" stroke-width="7" stroke-linejoin="round" stroke-linecap="round"/>
<path d="M774.8 173.7 L784.8 169.4 L780.5 165.2" fill="none" stroke="#000" stroke-width="2.2" stroke-linecap="round" stroke-linejoin="round"/>
<path d="M756.3 243.4 L770.5 247.7 L779.1 246.3 L787.6 253.4" fill="none" stroke="#000" stroke-width="2.2" stroke-linecap="round" stroke-linejoin="round"/>
<path d="M861.6 324.5 L870.1 335.9 L881.5 347.3" fill="none" stroke="#000" stroke-width="2.2" stroke-linecap="round" stroke-linejoin="round"/>
<path d="M855.9 327.3 L865.8 320.2" fill="none" stroke="#000" stroke-width="2.2" stroke-linecap="round" stroke-linejoin="round"/>
<path d="M827.4 327.3 L833.1 320.2 L840.2 324.5" fill="none" stroke="#000" stroke-width="2.2" stroke-linecap="round" stroke-linejoin="round"/>
<path d="M692.3 149.5 L695.1 141.0" fill="none" stroke="#000" stroke-width="2.2" stroke-linecap="round" stroke-linejoin="round"/>
<path d="M642.5 153.8 L645.3 145.3" fill="none" stroke="#000" stroke-width="2.2" stroke-linecap="round" stroke-linejoin="round"/>
<path d="M861.6 397.1 L878.6 394.2 L887.2 399.9" fill="none" stroke="#000" stroke-width="2.2" stroke-linecap="round" stroke-linejoin="round"/>
<path d="M855.9 451.1 L870.1 454.0 L880.1 465.3" fill="none" stroke="#000" stroke-width="2.2" stroke-linecap="round" stroke-linejoin="round"/>
<path d="M861.6 473.9 L872.9 471.0 L881.5 465.3" fill="none" stroke="#000" stroke-width="2.2" stroke-linecap="round" stroke-linejoin="round"/>
<path d="M855.9 499.5 L865.8 505.2" fill="none" stroke="#000" stroke-width="2.2" stroke-linecap="round" stroke-linejoin="round"/>
<path d="M431.7 448.3 L438.8 431.2 L447.4 422.7" fill="none" stroke="#000" stroke-width="2.2" stroke-linecap="round" stroke-linejoin="round"/>
<path d="M482.9 414.1 L488.6 407.0 L497.2 408.4" fill="none" stroke="#000" stroke-width="2.2" stroke-linecap="round" stroke-linejoin="round"/>
<path d="M497.2 193.6 L511.4 190.8 L527.0 187.9" fill="none" stroke="#000" stroke-width="2.2" stroke-linecap="round" stroke-linejoin="round"/>
<path d="M508.5 57.1 L515.7 50.0" fill="none" stroke="#000" stroke-width="2.2" stroke-linecap="round" stroke-linejoin="round"/>
<path d="M275.3 216.4 L279.5 222.1 L272.4 224.9" fill="none" stroke="#000" stroke-width="2.2" stroke-linecap="round" stroke-linejoin="round"/>
<path d="M525.6 71.3 L537.0 77.0" fill="none" stroke="#000" stroke-width="2.2" stroke-linecap="round" stroke-linejoin="round"/>
<path d="M863.1 392.4l2.7 -2.4l3.1 1.6l-2.4 2.6ZM877.9 394.1l1.7 -1.9l2.1 0.9l-2.1 2.0ZM863.8 390.2l1.5 -1.4l1.3 0.9l-1.1 1.0ZM866.1 391.9l2.8 -2.8l3.1 2.5l-2.4 2.1ZM854.0 402.5l3.3 -2.6l3.1 2.2l-2.1 3.5ZM854.1 387.0l3.9 -4.3l3.1 2.4l-4.5 3.4ZM846.5 413.2l3.1 -3.3l3.0 1.7l-2.5 3.6ZM860.3 410.8l1.8 -1.1l2.2 1.1l-1.6 1.5ZM856.5 400.1l3.1 -2.1l3.3 2.0l-2.4 3.7ZM854.1 416.7l2.0 -1.7l2.7 1.8l-1.3 2.4ZM869.1 405.6l2.3 -1.8l2.0 1.3l-2.2 1.7ZM855.3 409.8l3.9 -3.5l4.5 4.0l-2.8 2.7ZM837.4 441.3l2.0 -2.1l2.7 1.2l-2.3 2.2ZM847.7 431.3l1.6 -1.9l1.5 1.5l-1.2 1.7ZM849.3 431.7l3.3 -2.1l3.1 2.8l-3.7 3.2ZM834.4 422.8l1.5 -1.2l1.6 0.8l-1.1 1.3ZM853.1 432.5l3.7 -4.4l4.5 3.4l-3.5 2.6ZM855.7 421.3l3.3 -3.8l2.6 2.9l-2.9 3.4ZM832.8 448.9l2.9 -3.0l3.8 2.7l-2.9 3.1ZM850.3 465.6l3.8 -4.2l3.9 3.7l-4.2 3.5ZM849.5 459.0l3.0 -2.0l3.6 3.3l-3.4 3.1ZM840.1 454.3l2.6 -2.9l2.2 2.5l-1.6 2.5ZM853.3 457.1l2.7 -2.7l3.7 1.8l-1.7 2.1ZM853.5 456.8l3.8 -3.7l4.0 3.9l-3.0 3.8ZM848.9 472.2l3.8 -4.3l3.9 3.2l-3.0 2.6ZM839.6 478.4l3.3 -3.8l3.2 2.0l-2.9 2.5ZM850.5 471.0l2.7 -2.2l3.6 3.0l-2.4 1.8ZM837.5 462.8l3.3 -3.1l3.2 3.2l-2.0 2.2ZM861.8 477.4l2.1 -1.4l1.7 1.8l-1.8 2.0ZM840.9 482.4l3.2 -2.3l3.5 1.9l-1.9 2.8ZM852.4 497.9l2.4 -2.4l2.6 2.1l-2.5 2.0ZM831.3 498.0l3.8 -4.0l3.4 3.0l-3.7 4.4ZM844.3 496.1l3.5 -4.1l3.8 3.1l-2.5 3.6ZM839.8 503.5l2.0 -2.3l2.8 2.2l-1.9 2.2ZM837.0 494.8l2.4 -1.5l2.5 2.0l-2.5 2.1ZM841.2 482.7l3.5 -2.5l3.5 3.4l-2.4 2.4ZM832.7 518.3l3.2 -3.8l3.5 3.4l-2.1 2.4ZM844.1 517.7l3.1 -2.8l4.0 2.6l-2.4 2.6ZM826.4 519.8l3.6 -4.3l4.0 3.1l-2.6 3.3ZM835.1 511.6l3.9 -3.6l4.1 3.8l-3.7 3.5ZM849.8 519.4l2.5 -3.0l3.4 1.7l-2.2 1.7ZM831.2 517.2l2.7 -2.1l2.5 2.3l-3.1 1.8ZM847.1 538.2l2.1 -2.1l2.1 1.5l-2.0 1.4ZM844.6 539.8l2.1 -1.5l2.4 1.6l-1.8 1.8ZM843.5 533.3l3.1 -3.0l3.4 3.1l-3.0 3.4ZM828.9 532.3l3.8 -3.0l3.7 4.0l-2.7 4.5ZM842.5 540.7l3.3 -2.5l2.8 3.3l-2.8 3.6ZM840.3 529.2l1.5 -1.1l1.9 1.6l-1.8 1.0ZM828.7 555.0l3.2 -2.3l2.7 1.8l-2.0 3.0ZM834.9 552.4l2.0 -1.4l2.6 2.1l-2.3 1.3ZM821.1 545.9l3.4 -2.7l3.7 2.8l-2.9 3.3ZM828.8 548.0l2.0 -1.7l2.4 1.5l-1.4 1.4ZM847.7 558.3l3.5 -3.6l4.6 3.1l-3.0 3.4ZM823.9 557.4l2.1 -2.5l2.7 2.1l-2.3 1.8ZM830.2 584.1l3.4 -3.6l3.6 3.2l-2.2 2.8ZM852.0 572.9l3.1 -3.0l2.9 3.3l-3.1 2.5ZM838.6 578.1l2.5 -3.0l2.9 2.3l-2.6 2.9ZM836.1 567.2l2.1 -1.8l1.8 1.3l-1.8 1.4ZM828.5 570.2l2.8 -3.3l3.2 3.0l-2.7 3.0ZM837.2 568.4l1.6 -1.9l1.4 1.3l-1.1 1.4ZM854.3 600.3l2.6 -2.3l3.0 1.8l-2.0 2.5ZM848.6 597.4l2.2 -1.4l2.1 1.2l-1.6 2.4ZM832.9 594.3l1.6 -1.9l2.2 0.9l-1.9 1.4ZM829.9 592.0l2.8 -3.3l3.5 2.2l-3.3 3.1ZM852.7 597.5l2.6 -1.9l2.2 2.2l-1.8 2.3ZM843.7 595.9l3.0 -2.5l3.7 2.4l-3.5 3.5ZM852.4 607.1l3.7 -4.0l4.4 2.7l-2.8 3.8ZM842.9 609.9l3.4 -2.4l3.2 3.7l-3.9 3.8ZM855.4 602.9l2.6 -2.5l2.2 2.1l-1.6 1.7ZM845.4 610.8l2.4 -2.2l2.3 1.7l-2.5 2.7ZM853.5 607.5l3.1 -3.2l2.8 2.3l-2.3 3.3ZM841.6 611.2l2.3 -2.1l2.9 2.4l-2.0 1.9ZM831.0 605.5l1.7 -1.6l1.9 1.6l-1.4 1.9ZM821.5 622.9l1.7 -1.4l2.2 1.6l-1.3 1.2ZM832.7 614.3l1.9 -1.9l2.1 1.9l-2.2 2.1ZM834.4 612.6l2.5 -2.1l3.3 2.5l-1.8 2.0ZM827.0 615.2l2.7 -1.9l3.0 2.6l-2.5 2.9ZM825.8 626.3l4.1 -3.2l3.4 3.4l-3.8 3.9ZM840.9 628.1l1.7 -1.6l2.2 0.9l-1.1 1.8ZM831.8 622.9l1.9 -2.0l2.3 1.3l-1.4 2.0ZM835.1 615.4l2.5 -3.0l3.0 2.0l-2.3 2.6ZM856.6 616.5l4.0 -4.0l5.2 3.9l-4.4 4.5ZM857.9 620.0l3.6 -3.9l3.8 2.7l-2.5 3.8ZM856.4 609.3l2.1 -1.8l2.1 2.3l-1.3 1.7ZM843.3 627.3l2.0 -1.3l2.2 1.7l-2.3 1.3ZM836.5 610.6l2.2 -2.3l2.6 1.4l-1.6 1.7ZM844.8 613.4l3.1 -3.4l3.4 2.1l-3.6 3.6ZM845.4 632.8l2.9 -2.2l2.4 3.1l-3.2 2.4ZM847.0 612.4l4.5 -4.4l4.2 2.3l-4.0 3.7ZM857.5 622.4l2.0 -1.4l2.0 1.3l-2.2 1.8ZM873.4 605.6l3.1 -2.1l3.9 1.6l-3.4 3.4ZM862.8 603.8l3.6 -2.4l4.0 2.9l-4.3 3.5ZM867.3 619.0l2.8 -3.2l2.4 2.7l-2.0 2.5ZM860.8 623.7l2.4 -1.9l2.1 1.7l-2.1 2.5ZM865.6 603.7l2.7 -2.4l3.7 2.7l-2.7 1.6ZM865.6 607.5l3.2 -2.8l2.6 3.5l-3.4 2.3ZM863.3 609.1l3.1 -2.4l3.1 2.3l-3.1 2.4ZM862.2 612.1l4.3 -4.1l5.4 3.0l-4.8 2.8ZM853.1 623.2l3.6 -2.6l3.8 3.6l-3.5 2.4ZM870.1 595.1l2.7 -1.8l3.7 2.1l-2.5 2.7ZM886.0 597.2l2.5 -2.1l2.0 1.8l-2.5 3.0ZM885.0 603.7l1.6 -1.2l1.6 1.4l-1.0 1.3ZM881.7 613.2l3.3 -2.3l4.2 3.5l-3.1 2.7ZM871.4 609.9l4.5 -4.1l5.5 4.5l-3.2 5.2ZM875.9 589.6l2.2 -2.1l2.7 1.6l-2.6 1.8ZM873.2 618.1l1.9 -2.2l2.1 1.6l-1.8 1.4ZM889.3 608.7l3.3 -2.2l4.3 2.2l-3.8 2.5ZM883.2 593.3l3.1 -2.0l2.6 1.9l-3.7 3.7ZM889.1 598.1l3.7 -3.1l4.3 3.6l-2.3 2.7ZM884.8 591.1l3.2 -2.3l3.6 2.1l-3.0 2.6ZM886.9 598.3l1.9 -2.3l2.2 1.5l-1.6 1.9ZM896.6 600.3l3.0 -3.5l3.9 3.0l-2.5 2.5ZM896.9 594.5l3.1 -2.6l4.1 2.1l-1.9 3.2ZM898.2 594.0l3.8 -2.9l4.3 2.0l-2.5 3.3ZM888.4 580.8l3.6 -3.3l3.4 2.5l-3.0 2.7ZM890.0 611.7l3.5 -3.9l3.7 3.4l-2.6 3.7ZM896.1 581.7l3.9 -2.6l4.4 4.2l-2.3 2.9ZM897.3 574.8l4.2 -4.6l4.3 3.0l-4.0 2.6ZM903.0 584.3l3.0 -3.5l4.2 2.3l-2.2 2.3ZM913.7 573.9l4.0 -3.3l4.3 2.4l-4.5 4.8ZM900.4 579.4l4.1 -2.6l3.6 3.9l-3.3 4.7ZM910.9 572.5l3.6 -4.2l3.8 2.0l-2.6 2.8ZM902.9 575.1l2.2 -2.2l2.8 1.6l-2.2 2.5ZM899.7 579.7l4.3 -4.3l4.1 3.8l-2.8 5.1ZM904.6 587.7l1.6 -1.6l1.6 1.1l-1.8 1.1ZM905.0 580.4l2.3 -2.2l2.1 2.4l-2.8 1.4ZM918.5 575.2l4.3 -3.9l3.9 3.6l-4.2 3.5ZM922.8 577.6l3.0 -3.3l3.7 2.5l-3.5 2.1ZM916.6 579.4l2.2 -1.9l2.8 2.1l-2.4 1.6ZM912.8 580.9l3.0 -1.9l3.5 2.8l-2.8 3.4ZM907.7 566.5l3.0 -2.6l3.2 2.0l-3.2 1.9ZM922.3 576.4l3.9 -2.9l3.4 2.7l-2.4 3.1ZM918.5 570.4l3.3 -2.1l4.2 2.0l-2.5 2.3ZM925.3 585.5l1.7 -1.4l1.7 1.1l-2.0 1.1ZM921.4 593.1l1.9 -1.7l2.4 1.0l-1.4 2.2ZM924.0 567.4l2.8 -1.8l2.3 3.0l-2.9 2.9ZM923.8 574.4l2.2 -2.0l3.0 1.6l-1.8 2.6ZM924.6 567.5l3.4 -2.2l3.5 3.2l-3.9 3.3ZM933.5 565.3l4.0 -3.3l5.1 2.5l-3.3 2.9ZM926.8 561.9l2.1 -1.9l2.1 1.6l-2.6 2.2ZM931.9 565.2l1.7 -1.7l1.7 1.1l-1.1 1.2ZM924.7 585.4l3.6 -2.8l3.7 2.2l-4.2 3.0ZM938.1 581.6l1.6 -1.2l1.6 0.9l-1.8 1.2ZM934.2 556.0l2.7 -2.0l2.2 1.6l-2.6 1.7ZM940.8 568.3l1.9 -2.0l1.8 1.8l-1.9 1.3ZM936.6 573.7l2.7 -2.3l3.6 1.7l-2.1 2.2ZM932.7 553.0l3.4 -3.2l4.4 3.7l-2.6 3.4ZM944.4 571.1l3.5 -4.1l4.6 2.2l-3.4 2.3ZM941.2 553.5l2.7 -2.1l2.9 1.8l-1.8 2.2ZM939.1 571.5l2.2 -1.5l2.2 1.7l-1.5 2.1ZM948.2 572.0l1.6 -1.3l1.6 0.8l-1.3 1.0ZM945.0 565.6l2.5 -1.9l2.0 1.8l-2.8 2.3ZM942.6 557.7l2.9 -2.8l4.0 2.1l-2.7 3.4ZM912.5 633.8l1.9 -1.6l2.0 1.3l-2.1 2.2ZM869.9 642.3l0.9 -0.6l1.0 0.6l-0.7 1.0ZM843.6 620.8l1.2 -1.2l1.1 0.6l-1.1 1.0ZM852.8 629.8l2.0 -1.8l2.3 1.6l-2.2 2.3ZM863.0 625.4l2.4 -1.9l2.9 2.2l-2.4 2.8ZM918.4 619.8l1.9 -1.7l2.2 1.4l-1.5 2.0ZM886.6 622.1l1.2 -1.0l1.1 1.0l-0.8 0.8ZM833.6 618.1l2.1 -1.4l2.2 2.0l-1.8 1.4ZM924.1 641.1l0.9 -0.7l1.0 0.9l-0.7 0.9ZM854.8 636.5l1.4 -1.1l1.7 1.4l-1.5 1.3ZM873.2 636.2l1.9 -2.1l2.5 1.1l-1.6 1.9ZM853.1 620.5l0.8 -0.8l1.1 0.9l-0.6 0.8ZM873.4 633.9l1.5 -1.8l2.1 0.8l-1.6 1.0ZM830.6 623.6l2.1 -2.5l1.8 1.5l-1.3 2.0ZM880.7 626.2l1.4 -1.5l1.8 0.9l-1.1 1.3ZM912.2 644.4l1.5 -1.5l1.7 1.5l-1.0 1.1ZM838.7 643.0l1.3 -1.1l1.1 0.9l-0.8 1.2ZM842.8 633.8l1.3 -1.0l1.4 0.9l-1.0 0.8ZM833.9 641.8l1.4 -0.9l1.2 1.1l-1.6 1.0ZM923.6 629.5l1.5 -1.7l1.6 0.8l-1.4 1.5ZM895.3 623.3l2.5 -2.8l3.5 1.9l-2.7 2.6ZM846.6 615.8l1.1 -0.7l0.9 0.8l-1.2 0.9ZM884.4 615.3l1.2 -1.4l1.0 1.0l-1.3 1.3ZM908.1 627.0l2.2 -2.5l2.8 2.5l-1.5 2.6ZM871.8 636.2l1.3 -1.4l1.0 1.1l-0.9 1.0ZM867.1 634.7l2.3 -1.8l2.7 1.6l-1.7 2.6ZM862.6 617.8l1.4 -1.5l1.3 1.3l-1.3 1.4ZM846.8 618.2l1.1 -0.9l1.1 0.5l-1.0 0.9ZM861.5 631.1l2.5 -1.8l3.3 1.7l-2.6 1.7ZM936.1 627.9l2.5 -1.9l2.6 2.3l-1.8 1.9ZM572.2 947.1l2.0 -1.4l2.0 2.2l-1.4 1.9ZM548.6 930.4l1.6 -1.6l2.2 1.7l-1.6 1.5ZM561.9 901.3l3.5 -3.6l3.8 3.2l-3.0 2.9ZM535.7 928.0l2.7 -2.5l2.2 2.4l-2.4 2.6ZM566.1 946.2l1.5 -1.3l2.0 1.4l-1.1 1.5ZM595.6 917.1l3.6 -2.4l5.0 2.9l-2.7 4.0ZM568.5 946.6l3.5 -3.8l3.9 3.8l-2.2 3.9ZM573.5 908.8l3.4 -3.0l3.8 3.5l-2.5 2.6ZM568.8 899.0l2.7 -2.9l2.9 1.7l-2.9 3.0ZM577.9 925.2l3.7 -4.0l3.3 2.7l-2.5 2.3ZM544.2 942.6l3.5 -2.3l3.2 2.6l-3.9 3.4ZM588.2 899.0l4.0 -2.9l4.7 4.1l-4.1 2.8ZM572.4 918.7l1.0 -0.8l1.0 0.9l-0.8 1.0ZM574.2 904.9l1.4 -1.4l1.5 0.8l-0.9 1.6ZM567.2 914.7l1.6 -1.9l1.9 1.5l-1.3 1.2ZM549.8 903.0l2.9 -2.5l3.7 2.2l-2.5 2.6ZM592.2 914.0l3.1 -2.3l3.6 2.1l-3.5 2.4ZM586.0 932.2l2.4 -2.7l2.4 2.2l-2.3 2.1ZM523.3 918.1l1.8 -1.6l2.5 1.2l-1.9 1.8ZM538.2 917.6l1.4 -1.6l1.3 1.1l-1.1 1.5ZM585.4 927.5l2.6 -1.7l3.5 1.5l-2.2 2.2ZM575.8 931.8l2.0 -2.3l2.8 1.0l-2.0 1.8ZM547.0 920.6l1.9 -2.0l2.3 2.1l-2.3 2.3ZM548.7 940.6l2.9 -3.0l4.1 1.6l-2.6 2.5ZM568.5 907.0l4.0 -2.9l4.1 2.3l-3.3 4.1ZM523.7 904.2l2.9 -2.9l3.7 1.9l-3.2 3.1ZM579.7 901.6l2.4 -1.5l3.2 2.6l-2.7 1.5ZM545.5 924.5l2.6 -1.7l3.3 1.8l-2.4 1.8ZM513.4 903.9l0.7 -0.6l0.7 0.7l-0.5 0.6ZM482.3 906.5l1.0 -0.9l1.1 1.0l-0.7 1.1ZM488.2 929.1l1.1 -0.9l1.3 1.1l-1.3 0.9ZM479.3 904.6l1.3 -1.4l1.6 0.8l-1.2 0.8ZM485.1 909.0l1.5 -1.4l1.9 0.8l-1.2 1.0ZM494.2 903.4l1.4 -1.1l1.6 1.3l-1.6 1.7ZM512.7 915.0l1.4 -1.2l1.4 1.3l-1.1 1.2ZM504.8 914.3l0.9 -0.8l1.0 0.5l-1.0 0.6ZM510.7 916.4l1.0 -0.7l0.8 0.7l-0.8 0.9ZM492.8 922.5l1.0 -0.6l1.1 1.1l-0.6 1.0Z" fill="#000"/>
<path d="M873.9 380.0 L875.5 387.4 L878.3 391.4 L879.2 399.8 L870.8 403.5 L866.2 410.0 L862.3 413.2 L855.4 417.0 L856.0 425.1 L854.3 431.2 L854.8 440.8 L856.8 446.0 L855.5 454.2 L856.4 460.1 L859.4 465.8 L859.5 471.9 L862.8 476.6 L862.0 485.6 L856.7 494.3 L855.9 496.8 L852.8 505.4 L853.9 514.2 L848.2 518.2 L848.8 525.2 L845.7 530.9 L846.8 536.7 L844.9 545.0 L847.7 549.4 L846.8 559.8 L850.2 564.8 L850.6 571.0 L852.4 577.9 L852.8 584.6 L853.1 588.9 L855.7 600.1 L855.4 604.4 L859.4 612.3" fill="none" stroke="#000" stroke-width="2.5"/>
<path d="M825.1 611.0 L831.3 612.4 L840.0 612.0 L847.4 613.8 L851.4 610.9 L859.4 612.3 L864.9 605.7 L873.9 601.8 L881.0 594.7 L885.8 591.2 L892.6 585.8 L899.0 583.3 L904.6 579.0 L912.2 575.4 L920.5 571.9 L925.4 567.4 L929.6 563.0 L938.6 560.8 L943.5 561.4 L952.0 558.2" fill="none" stroke="#000" stroke-width="3"/>
</g>
<g id="grid" clip-path="url(#inner)" stroke="#303030" stroke-width="3" stroke-dasharray="3 9.1" fill="none">
<path d="M235.3 55.3 V951.5"/>
<path d="M380.7 55.3 V951.5"/>
<path d="M526.1 55.3 V951.5"/>
<path d="M671.5 55.3 V951.5"/>
<path d="M816.9 55.3 V951.5"/>
<path d="M174.0 140.1 H951.8"/>
<path d="M174.0 308.8 H951.8"/>
<path d="M174.0 476.2 H951.8"/>
<path d="M174.0 640.4 H951.8"/>
<path d="M174.0 802.1 H951.8"/>
</g>
<g id="frame">
<path d="M162.0 35.2H961.6V963.0H162.0Z M173.0 47.3V951.5H951.8V47.3Z" fill="#000" fill-rule="evenodd"/>
<path d="M170.0 37.4h29.8v7.7h-29.8ZM236.8 37.4h69.7v7.7h-69.7ZM382.2 37.4h69.7v7.7h-69.7ZM527.6 37.4h69.7v7.7h-69.7ZM673.0 37.4h69.7v7.7h-69.7ZM818.4 37.4h69.7v7.7h-69.7ZM200.5 953.7h33.3v7.1h-33.3ZM309.5 953.7h69.7v7.1h-69.7ZM454.9 953.7h69.7v7.1h-69.7ZM600.3 953.7h69.7v7.1h-69.7ZM745.7 953.7h69.7v7.1h-69.7ZM891.1 953.7h63.7v7.1h-63.7ZM164.2 44.3v42.2h6.6v-42.2ZM164.2 141.6v81.5h6.6v-81.5ZM164.2 310.3v80.9h6.6v-80.9ZM164.2 477.7v79.3h6.6v-79.3ZM164.2 641.9v78.0h6.6v-78.0ZM164.2 803.6v77.2h6.6v-77.2ZM954.0 90.5v48.1h5.4v-48.1ZM954.0 226.1v81.2h5.4v-81.2ZM954.0 394.2v80.5h5.4v-80.5ZM954.0 560.0v78.9h5.4v-78.9ZM954.0 722.9v77.7h5.4v-77.7ZM954.0 883.8v70.7h5.4v-70.7Z" fill="#fff"/>
</g>
<g id="isl"><path d="M835.0 592.9l2.1 -2.4l1.9 1.7l-2.0 2.1ZM850.1 521.0l2.9 -3.2l2.3 3.1l-2.0 3.1ZM850.8 560.8l2.0 -1.6l1.7 1.9l-1.8 1.4ZM845.0 526.1l2.0 -1.9l2.2 1.9l-1.3 2.3ZM843.8 613.0l3.5 -3.9l3.0 2.7l-2.3 3.7ZM835.3 564.2l2.7 -2.9l3.1 1.5l-3.1 1.7ZM851.7 597.7l3.5 -4.1l3.9 2.2l-3.1 3.7ZM835.3 589.5l4.1 -2.5l4.5 2.1l-3.3 4.8ZM851.9 518.0l3.9 -4.0l3.3 3.1l-4.0 2.6ZM840.5 537.8l3.8 -4.3l5.1 3.6l-3.6 2.4ZM848.0 558.0l3.5 -2.2l2.9 2.0l-4.1 2.4ZM843.9 547.9l3.9 -2.6l3.7 3.7l-2.5 2.7ZM853.7 507.8l2.1 -1.9l2.2 2.3l-2.2 2.0ZM838.6 558.8l3.8 -2.5l4.4 2.5l-2.9 3.3ZM850.4 525.8l1.7 -1.0l1.5 0.9l-1.9 1.5ZM848.7 579.7l1.9 -2.3l2.0 1.5l-1.7 2.0ZM830.5 589.5l3.7 -3.2l3.6 3.8l-4.2 4.2ZM851.2 540.6l3.6 -4.2l4.5 4.0l-3.2 3.8ZM840.1 590.9l2.9 -2.4l3.8 2.1l-3.0 2.7ZM836.9 582.8l1.7 -1.7l1.5 1.2l-1.8 1.1ZM840.1 605.2l3.0 -3.0l2.5 1.5l-3.1 2.9ZM849.7 575.3l2.2 -1.6l3.1 1.2l-2.0 2.2ZM822.8 610.1l3.4 -2.2l3.6 3.0l-3.8 2.1ZM830.9 587.3l2.6 -3.1l3.4 1.4l-1.6 1.6ZM826.0 590.9l3.6 -3.9l4.7 3.8l-3.5 4.0ZM847.6 564.7l1.7 -1.6l2.4 1.2l-1.7 1.2ZM844.0 558.0l3.6 -2.8l3.9 2.2l-3.4 4.2ZM847.7 547.5l3.0 -2.2l3.7 1.9l-2.9 3.6ZM849.2 538.7l2.4 -2.4l2.2 1.9l-2.6 1.8ZM842.7 544.0l1.9 -1.9l2.5 1.6l-1.7 1.5ZM852.6 531.3l2.8 -2.8l2.7 1.7l-1.7 2.2ZM844.9 551.1l3.2 -3.2l4.2 3.1l-3.2 3.4ZM841.3 564.6l4.0 -4.5l4.1 4.1l-3.4 4.2ZM850.0 507.7l4.1 -3.5l5.4 3.7l-2.5 2.6ZM852.3 541.4l3.3 -3.1l4.3 2.3l-2.3 2.8ZM827.1 604.9l2.8 -2.2l2.9 1.6l-3.2 2.1ZM830.5 591.8l2.7 -1.6l3.1 2.1l-2.3 1.9ZM829.7 575.2l4.0 -3.6l4.7 3.0l-2.5 2.5ZM840.5 584.8l2.3 -2.1l3.0 1.8l-2.0 2.1ZM823.5 601.1l3.3 -3.1l4.0 2.0l-3.6 3.5ZM853.7 535.5l1.6 -1.5l1.4 1.0l-1.6 1.7ZM839.2 557.7l3.0 -2.6l3.1 2.2l-2.6 2.4ZM849.9 518.5l2.3 -2.4l3.1 2.1l-1.8 2.0ZM832.2 586.3l3.7 -2.3l5.1 3.1l-3.9 3.5ZM837.3 598.4l1.7 -1.3l2.2 1.9l-1.3 1.6ZM834.8 590.9l2.1 -2.3l1.9 1.5l-2.0 1.9ZM836.6 609.4l2.6 -1.9l3.4 1.4l-1.6 2.1ZM832.3 593.5l2.8 -1.8l2.7 2.9l-3.1 1.8ZM836.8 610.1l1.9 -1.5l2.6 1.1l-2.0 2.2ZM844.3 605.7l4.0 -2.7l4.9 4.3l-3.6 2.4ZM846.3 536.9l2.6 -2.7l2.4 1.3l-2.6 3.1ZM846.7 558.2l3.4 -3.4l4.4 1.8l-3.5 2.9ZM851.1 547.5l1.8 -2.1l2.4 1.9l-2.1 1.4ZM851.0 570.3l3.0 -3.0l2.6 2.7l-1.8 2.7ZM850.9 508.0l1.8 -1.4l1.6 1.6l-1.6 1.9ZM844.6 594.2l3.1 -2.9l4.0 2.4l-2.6 2.6ZM849.1 507.7l3.2 -2.7l3.4 1.8l-2.2 3.6ZM834.0 593.0l4.0 -3.7l5.0 2.4l-4.7 3.5ZM846.7 520.2l1.7 -1.0l2.1 1.6l-1.3 1.3ZM828.0 605.4l3.9 -4.3l4.1 3.0l-3.3 3.2ZM843.7 582.4l4.2 -2.8l4.1 3.4l-4.5 5.0ZM826.5 595.2l3.6 -2.6l3.8 1.9l-2.2 3.1ZM832.9 601.6l1.6 -1.6l1.5 0.9l-1.1 1.8ZM837.6 604.1l2.8 -2.8l2.8 2.0l-3.0 2.8ZM839.1 602.7l3.7 -4.1l3.5 3.3l-3.5 2.6ZM845.5 529.2l4.1 -2.5l5.6 4.3l-3.4 4.0ZM841.9 538.3l1.6 -1.6l1.5 1.3l-1.2 0.9ZM843.4 548.2l4.1 -3.7l5.7 3.0l-4.5 3.7ZM852.3 507.5l3.4 -3.2l3.6 1.7l-3.8 2.1ZM852.1 516.8l2.3 -1.8l2.2 1.8l-2.5 1.8ZM853.0 413.7l1.8 -2.1l1.5 1.4l-1.6 2.0ZM856.5 419.7l2.2 -2.4l2.8 1.8l-2.3 1.5ZM847.2 479.2l2.2 -1.5l3.0 1.6l-2.2 2.0ZM846.5 472.4l2.6 -2.2l3.1 2.7l-2.6 2.7ZM850.7 451.4l2.8 -2.5l2.3 2.0l-2.5 1.7ZM853.6 410.3l1.5 -1.8l1.3 1.0l-1.0 1.3ZM854.3 401.0l1.4 -1.0l1.5 0.8l-1.1 1.7ZM854.8 433.4l2.4 -2.4l2.6 1.8l-2.4 1.6ZM846.4 404.7l1.2 -1.1l1.1 1.0l-1.2 0.9ZM852.4 470.9l1.8 -1.6l1.5 1.5l-1.2 2.1ZM852.9 458.2l1.6 -1.0l1.4 1.1l-1.1 1.8ZM850.9 431.3l1.9 -1.6l1.7 1.7l-2.1 1.8ZM857.0 424.4l1.3 -1.3l1.3 0.8l-1.5 0.8ZM855.3 433.7l1.3 -1.4l1.0 0.8l-1.4 0.8ZM846.7 491.2l1.9 -1.5l2.2 1.7l-1.3 1.4ZM858.5 451.4l2.1 -2.0l2.6 1.9l-2.3 1.7ZM846.0 476.7l1.6 -1.0l2.1 0.9l-1.4 1.3ZM846.1 429.4l2.0 -1.8l2.2 1.8l-2.2 1.8ZM847.0 457.5l1.9 -1.5l2.3 1.1l-1.7 1.4ZM846.6 493.7l2.2 -1.8l2.6 1.1l-2.4 1.7ZM852.6 441.6l2.9 -2.7l3.2 1.6l-2.0 2.0ZM843.6 489.9l2.7 -2.1l3.4 2.1l-3.1 2.2ZM849.6 417.2l2.3 -1.6l2.7 2.3l-1.4 2.7ZM852.4 435.3l2.9 -2.8l3.9 2.7l-3.3 3.0ZM847.4 453.5l2.3 -2.6l2.0 2.3l-2.0 1.7Z" fill="#000"/><path d="M306.6 320.2 L317.9 317.4 L323.5 321.7 L330.7 327.3 L329.3 338.7 L317.9 337.3 L309.4 330.2Z" fill="#fff" stroke="#000" stroke-width="1.5"/></g>
<path id="stk0" d="M468.9 82.3l-2.5 -11.3l-2.0 -7.6M488.7 77.9l-3.8 -5.4l-2.8 -10.6M505.4 85.8l-1.6 -10.5l-4.1 -6.8M526.1 80.1l-3.7 -6.2l-1.4 -11.4M454.8 101.9l-7.7 -8.3l-11.1 -13.3M459.8 99.4l-5.7 -12.3l-0.1 -6.4M483.8 97.5l-10.3 -9.5l-4.9 -9.2M501.9 96.0l-6.6 -10.7l-10.8 -11.8M506.7 101.0l-0.2 -15.8l-2.4 -10.3M527.9 92.1l-1.7 -4.8l1.7 -9.4M546.0 98.5l-4.5 -10.2l-6.9 -15.5M437.1 113.2l-5.1 -9.8l-5.0 -5.0M456.8 106.5l-7.1 -5.7l-11.1 -9.7M474.1 115.9l-8.7 -8.5l-9.9 -8.2M492.2 116.4l-3.6 -8.0l-7.9 -10.9M505.0 113.5l-1.8 -3.0l-7.4 -8.3M522.0 112.7l-1.3 -6.4l-4.8 -7.9M547.5 113.8l-6.9 -8.8l-7.5 -13.2M413.9 121.0l-5.5 -5.3l-7.5 -2.5M434.9 125.7l-8.1 -11.6l-11.1 -10.0M455.5 122.3l-5.9 -6.1l-11.7 -4.8M466.4 127.8l-8.2 -8.0l-10.7 -10.1M480.7 127.2l-3.9 -10.3l-7.0 -8.7M495.1 124.7l-8.7 -9.5l-5.2 -5.5M514.0 131.0l-6.2 -9.1l-10.6 -12.1M534.1 135.3l-1.6 -13.9l-6.4 -12.0M407.8 141.2l-9.6 -5.7l-10.2 -6.5M417.7 141.4l-4.2 -4.6l-7.1 -5.4M447.0 131.4l-10.7 -5.0l-11.4 -0.3M462.8 139.1l-8.1 -7.4l-10.7 -11.7M478.1 138.0l-14.5 -6.0l-10.7 -0.6M497.3 139.9l-9.8 -10.4l-10.3 -11.0M509.2 141.5l-2.1 -4.1l-7.9 -6.8M383.2 156.2l-13.7 -6.7l-11.3 -6.6M400.3 155.6l-10.9 -3.5l-13.7 -2.9M417.8 152.8l-15.6 0.3l-11.5 1.2M436.2 152.3l-10.6 -6.7l-12.8 -1.5M449.9 152.5l-6.1 -8.5l-12.0 -5.0M469.0 151.9l-7.4 -0.5l-8.7 -5.1M482.0 155.9l-6.9 -4.5l-5.1 -9.1M496.5 152.0l-5.2 -7.3l-10.1 -8.2M360.5 166.2l-8.9 -7.5l-10.4 -4.0M377.4 165.2l-14.3 -5.3l-11.2 -3.3M392.2 165.4l-9.8 -5.4l-7.4 -3.2M409.4 164.2l-12.1 -3.1l-8.5 2.1M430.8 170.2l-7.8 -4.9l-13.3 -0.4M440.3 170.3l-11.1 -0.5l-11.3 -3.1M464.8 171.0l-11.6 -2.4l-13.5 -6.4M481.3 166.2l-9.7 -6.0l-12.3 -5.4M493.4 172.8l-9.0 -6.8l-6.7 -2.6M628.1 174.2l-0.2 -6.4l-5.6 -7.7M644.2 175.1l-2.9 -11.7l-6.1 -6.8M658.4 174.1l-5.6 -11.6l-6.4 -6.9M674.5 169.7l-9.1 -12.3l-3.3 -8.6M690.6 174.8l-4.0 -7.1l-3.4 -8.1M717.7 170.5l-8.0 -10.6l-10.4 -8.2M356.8 183.6l-10.3 -2.9l-14.9 -2.0M362.5 180.9l-9.9 -0.1l-6.4 -5.7M381.3 178.9l-9.5 -0.8l-14.1 -6.0M400.0 179.1l-14.7 4.4l-9.4 1.2M417.4 180.1l-12.8 -1.9l-11.7 3.8M430.0 179.8l-5.2 -4.9l-8.5 -0.5M447.4 183.5l-8.3 -3.1l-5.7 -0.7M467.0 182.6l-6.8 -3.2l-6.1 -2.8M481.8 184.1l-11.5 -4.8l-7.0 -3.1M497.8 191.7l-10.0 -13.8l-7.7 -9.2M583.9 190.6l-0.1 -12.5l-6.1 -9.7M596.4 189.0l3.2 -11.9l-1.0 -6.3M620.1 183.1l-4.9 -5.8l-2.2 -10.3M628.2 187.5l-0.4 -4.4l-3.5 -10.0M652.7 186.2l-3.6 -8.2l-9.1 -11.2M664.9 186.1l-5.0 -8.3l-2.9 -12.1M682.7 194.7l-6.0 -12.6l-3.0 -12.5M706.1 182.7l-4.3 -5.5l-5.9 -5.3M719.6 193.7l-1.0 -8.7l-5.6 -11.0M729.0 185.7l0.7 -11.2l-5.3 -5.8M752.7 193.8l-0.2 -11.4l-1.1 -8.4M330.4 204.5l-10.9 -2.9l-13.2 -6.6M344.4 197.7l-12.2 0.5l-12.0 2.7M363.4 193.8l-15.0 -1.2l-10.8 -5.9M376.1 190.9l-10.5 5.6l-13.5 6.7M394.8 188.5l-13.4 7.1l-13.5 5.6M415.0 191.5l-11.7 -0.4l-17.6 0.3M428.3 202.0l-11.1 -0.0l-13.3 -4.5M440.2 193.8l-7.9 -3.4l-9.1 2.5M459.4 195.7l-5.6 -4.8l-9.6 -1.2M471.8 201.3l-5.8 -5.4l-11.7 -1.4M490.8 206.5l-4.3 -12.3l-7.4 -6.9M552.7 208.2l-0.4 -15.3l4.9 -10.6M569.1 201.0l-2.7 -9.4l-1.9 -8.7M582.6 204.5l3.6 -8.2l-2.3 -10.2M607.8 206.8l2.7 -13.3l-2.1 -11.0M623.1 208.8l-4.9 -12.5l-2.0 -7.1M645.8 200.6l-1.5 -7.8l-5.8 -13.6M658.1 203.3l-0.5 -9.6l-2.1 -7.4M679.5 198.8l-0.9 -10.3l-6.3 -6.5M696.6 198.0l-4.9 -6.4l-6.6 -9.8M708.9 198.2l-1.7 -7.4l-5.9 -6.6M723.7 207.9l-2.1 -10.3l-1.0 -11.5M737.2 206.2l-4.8 -6.4l0.5 -11.9M750.4 202.3l7.5 -14.4l3.6 -9.9M765.3 208.9l6.7 -10.6l4.3 -12.7M238.1 219.4l-0.2 -6.0l-2.6 -7.8M316.5 219.9l-12.2 -8.3l-11.7 -3.5M332.0 210.3l-10.7 4.0l-8.7 0.6M352.0 205.9l-15.5 6.9l-11.9 2.9M363.8 212.1l-9.5 -1.5l-6.0 2.2M381.2 207.6l-12.4 5.1l-7.9 4.9M396.5 209.9l-7.5 0.9l-7.3 4.0M416.3 209.2l-11.7 -2.3l-14.4 3.3M435.5 212.9l-13.0 -4.1l-9.8 -4.9M454.7 218.5l-6.5 -4.4l-12.4 -9.0M463.7 223.5l-5.6 -11.5l-4.9 -5.9M487.9 217.4l-6.0 -13.1l-11.1 -9.5M495.3 219.2l-0.8 -9.5l-2.6 -11.9M541.1 214.5l-1.3 -11.1l-2.4 -6.4M558.1 222.6l3.6 -7.3l0.9 -12.1M579.1 221.5l2.1 -14.2l4.3 -10.5M601.3 219.8l-4.2 -15.0l-4.6 -13.6M615.1 216.8l-1.7 -7.5l-4.5 -11.9M624.6 219.8l2.3 -11.8l-2.4 -10.6M650.2 221.4l-5.0 -9.9l0.4 -5.4M669.4 223.4l-8.1 -10.1l-2.7 -7.4M681.3 218.1l-4.7 -10.5l-2.6 -15.3M703.1 222.9l-0.1 -10.2l-3.6 -8.3M722.8 227.6l-6.2 -14.7l-1.4 -12.3M728.3 226.2l3.0 -12.3l0.1 -12.1M743.0 216.1l2.4 -11.4l3.4 -7.8M215.1 231.7l-2.0 -9.6l2.8 -5.2M236.4 241.3l-7.6 -10.1l-5.6 -14.5M252.3 234.1l-5.6 -14.7l-9.4 -9.4M272.3 234.2l-8.2 -9.6l-9.7 -5.0M286.0 223.2l-9.7 -4.6l-9.2 -0.8M312.0 226.6l-9.9 -2.8l-15.9 1.6M329.2 222.3l-7.6 3.7l-12.8 -1.5M338.0 218.5l-8.6 3.4l-11.1 1.2M358.9 225.2l-7.0 3.7l-6.9 0.9M381.0 223.3l-12.9 7.3l-14.9 1.9M394.4 221.4l-7.2 2.2l-8.9 -2.6M410.9 226.3l-11.8 -1.2l-15.4 2.3M427.1 227.5l-17.0 1.0l-11.1 0.7M446.4 226.6l-10.9 -4.7l-8.9 -5.6M458.8 227.5l-9.1 -7.8l-13.6 -5.0M469.5 237.6l-7.3 -13.8l-5.5 -13.3M486.2 236.0l3.3 -15.0l-0.9 -13.8M515.9 235.0l5.3 -10.0l5.9 -13.3M527.9 239.4l6.9 -10.4l5.8 -10.2M551.9 234.2l2.5 -8.3l2.0 -8.9M570.0 234.6l1.8 -15.3l-3.5 -13.1M590.8 237.7l-3.4 -11.2l1.8 -9.4M601.5 239.1l5.8 -11.9l0.3 -10.9M625.0 243.4l-5.9 -13.6l-1.3 -15.4M640.2 237.6l-2.4 -12.1l-2.4 -6.3M660.0 239.3l-3.5 -7.9l0.6 -13.5M669.5 238.2l0.2 -8.8l-4.6 -10.3M683.8 241.9l-1.6 -13.7l1.5 -10.9M705.9 229.8l-1.3 -5.5l-2.8 -9.4M719.0 230.4l1.2 -8.2l2.2 -7.6M731.9 240.4l2.0 -10.7l4.5 -15.1M209.5 251.5l-1.4 -10.4l-2.6 -9.1M231.8 247.8l-3.5 -8.6l-8.0 -3.2M237.6 249.1l-4.0 -7.5l-2.5 -10.9M265.0 246.0l-6.3 -4.1l-10.3 -1.1M285.8 243.4l-12.8 1.1l-9.9 -0.2M297.4 239.8l-11.9 -0.1l-12.9 -1.1M322.0 235.0l-13.6 3.3l-16.2 -1.4M339.6 230.0l-14.8 7.1l-8.9 8.4M346.6 234.5l-6.7 6.8l-10.8 4.5M366.7 242.0l-7.0 3.7l-7.6 1.4M380.7 237.3l-13.1 0.0l-9.7 2.2M401.8 241.7l-12.4 0.7l-8.8 5.0M417.0 242.4l-16.0 -3.7l-11.2 0.6M432.6 245.8l-8.6 -3.2l-11.8 -7.4M447.6 254.1l-1.8 -10.4l-7.0 -12.0M468.8 253.5l-5.7 -13.7l-4.6 -12.2M476.3 255.0l-0.1 -10.9l0.6 -14.9M511.9 249.2l-0.4 -12.2l5.5 -8.2M519.3 254.9l2.8 -9.8l8.3 -9.5M541.8 254.9l4.3 -11.6l2.0 -15.4M556.9 251.7l1.8 -11.1l1.5 -5.2M576.2 249.4l7.3 -12.8l2.0 -9.9M602.8 255.4l-2.3 -11.9l-3.3 -16.7M613.2 257.3l1.5 -14.0l-1.9 -14.6M634.9 251.8l-5.7 -15.4l-3.5 -12.1M644.6 250.9l0.3 -9.3l-1.5 -14.4M666.5 252.1l-0.6 -10.3l-5.0 -10.1M683.6 257.0l-0.5 -14.1l-1.5 -9.7M694.1 257.3l0.3 -11.0l2.2 -13.3M706.4 256.1l6.0 -15.8l1.8 -12.5M724.8 249.8l9.0 -12.6l3.2 -10.6M742.6 251.7l2.5 -10.3l7.4 -4.8M222.3 266.0l-8.3 -14.5l-2.9 -11.8M241.3 265.4l-13.3 -7.4l-13.6 -2.7M262.1 254.0l-12.8 2.4l-12.2 -2.9M277.3 255.7l-6.8 4.9l-11.8 3.3M294.9 256.7l-15.1 2.7l-13.8 -3.3M311.3 254.7l-11.8 8.8l-14.8 3.3M322.6 251.8l-4.7 1.2l-10.6 6.4M341.0 248.9l-9.8 1.7l-9.4 4.5M364.7 258.8l-15.0 3.3l-11.4 -1.2M370.2 248.7l-8.0 1.5l-5.6 5.4M387.9 254.3l-6.1 2.2l-9.1 0.7M409.5 261.1l-11.6 -1.3l-16.4 -2.8M425.1 254.8l-6.0 -4.2l-8.6 -3.4M442.8 269.6l-8.4 -8.1l-7.2 -10.8M453.4 267.2l-0.4 -8.8l2.8 -8.8M465.8 267.5l6.9 -10.9l1.9 -15.6M474.7 269.9l5.8 -13.9l4.5 -10.3M499.8 260.5l7.7 -4.5l5.0 -7.4M510.1 264.7l3.0 -7.6l4.5 -7.8M527.7 266.4l10.5 -10.8l8.7 -11.4M545.6 266.0l7.2 -4.6l3.1 -7.3M570.7 272.7l1.3 -14.1l0.9 -11.7M580.7 261.0l-0.3 -7.6l2.1 -9.3M608.7 262.3l0.4 -10.9l-1.3 -8.9M620.6 266.0l1.5 -11.3l-4.5 -10.6M640.2 264.0l-0.7 -9.0l-2.2 -5.8M654.5 263.9l-0.4 -8.3l-3.1 -13.7M676.4 272.5l-3.7 -15.5l-2.1 -13.5M694.1 274.8l-1.8 -15.0l-3.1 -13.3M706.4 271.9l0.2 -8.7l-1.3 -13.2M715.9 268.5l7.0 -11.8l3.4 -11.1M733.2 265.5l0.4 -13.8l6.1 -8.8M231.1 270.6l-4.8 -2.7l-9.1 -4.9M248.1 271.1l-9.0 -2.9l-13.6 -3.1M268.6 268.6l-11.3 6.2l-13.3 4.0M281.1 267.5l-8.5 6.5l-13.5 9.2M305.9 262.8l-15.5 1.5l-12.6 6.4M315.8 271.6l-6.4 6.9l-8.9 1.0M328.9 267.3l-10.5 6.6l-7.8 7.7M350.2 271.4l-12.9 3.4l-9.9 3.6M372.7 274.5l-11.7 0.7l-14.2 2.5M376.9 273.2l-7.1 -2.5l-7.3 -1.2M403.3 277.6l-12.5 -3.6l-9.8 -5.3M420.2 275.7l-6.1 -7.4l-9.1 -4.3M425.0 285.0l-0.4 -7.6l-1.5 -11.3M442.3 280.9l5.8 -8.2l0.8 -11.9M450.4 285.9l8.1 -11.1l7.5 -8.6M465.2 278.7l4.4 -10.6l9.0 -8.9M489.2 284.2l9.6 -11.6l6.1 -6.0M501.2 275.8l9.1 -7.8l9.3 -9.6M514.7 284.4l6.7 -11.4l8.3 -7.1M542.4 282.8l4.6 -7.0l7.9 -7.6M551.1 284.8l11.8 -8.9l8.0 -10.8M578.4 281.3l1.2 -5.6l4.2 -8.9M598.1 279.4l0.2 -9.8l2.8 -9.6M612.3 279.8l-0.1 -15.7l2.6 -11.1M635.8 284.5l-7.2 -11.0l-3.0 -10.7M644.9 279.5l-1.6 -9.3l2.8 -6.7M663.5 289.6l-0.4 -15.7l-5.8 -12.1M681.6 279.2l-4.8 -13.6l-2.1 -10.6M693.2 287.2l4.8 -11.0l6.7 -14.5M711.3 278.7l3.6 -6.8l-0.1 -10.3M723.5 287.2l11.9 -10.7l6.3 -12.0M235.1 288.6l-9.6 0.3l-5.6 -4.9M257.4 284.0l-9.4 1.5l-6.0 6.1M268.0 277.8l-5.2 3.5l-7.1 5.3M290.4 287.8l-11.9 2.2l-12.2 4.8M298.5 278.0l-6.0 7.2l-5.7 4.5M327.5 277.9l-9.4 7.2l-7.9 6.5M338.8 278.9l-8.5 4.1l-4.0 3.5M358.6 286.6l-9.7 5.1l-6.2 -0.5M377.6 292.2l-12.8 -4.8l-12.4 -2.0M384.1 291.9l-3.7 -2.6l-8.5 -8.0M406.0 290.5l-8.8 -8.4l-13.5 -8.9M416.3 292.6l0.3 -6.5l-4.4 -7.5M439.1 292.1l-1.7 -12.1l0.6 -7.1M441.1 296.6l5.4 -5.4l5.5 -9.4M457.1 297.9l7.1 -6.3l10.3 -12.3M471.9 288.1l11.8 -7.4l8.7 -5.2M485.7 295.8l10.7 -9.7l13.8 -5.3M507.0 293.7l5.3 -12.6l9.6 -11.2M532.4 297.6l9.3 -10.7l4.1 -6.5M548.5 301.0l4.8 -13.4l5.5 -13.9M569.9 301.7l2.0 -14.1l5.0 -12.0M587.3 303.1l3.4 -12.1l5.0 -15.4M603.4 290.5l0.8 -4.5l-0.8 -10.4M617.9 293.2l0.5 -10.6l-3.3 -8.9M643.3 294.6l-0.5 -8.7l-1.1 -11.0M660.8 293.9l-8.0 -11.5l-3.8 -12.3M672.2 294.0l0.2 -7.7l-4.5 -10.0M690.4 300.3l2.6 -11.3l2.2 -9.5M700.1 298.3l3.7 -12.7l0.7 -12.3M717.4 288.8l3.2 -8.8l7.1 -4.9M301.5 298.7l-6.0 3.4l-11.6 2.2M310.5 298.7l-11.4 8.7l-5.9 3.7M331.2 300.0l-6.3 -1.2l-11.2 2.4M348.1 305.8l-12.5 -0.2l-10.3 -4.9M362.4 302.3l-10.9 -3.0l-6.8 -2.0M377.8 301.9l-7.4 -6.2l-3.4 -3.4M394.8 310.1l-4.4 -10.5l-1.6 -8.0M409.5 307.6l-2.4 -8.8l-2.8 -7.5M422.6 309.0l7.3 -8.8l3.5 -5.8M442.4 314.9l1.8 -8.0l7.4 -8.5M448.9 316.4l9.2 -10.3l8.9 -13.4M472.7 307.1l7.2 -4.7l3.7 -5.8M485.6 301.5l10.3 -5.2l7.7 -2.6M500.7 310.2l9.4 -1.6l12.6 -6.8M517.5 308.7l7.8 -9.2l11.5 -5.4M543.0 309.2l3.8 -6.9l2.3 -9.2M557.3 315.8l3.5 -10.5l1.2 -11.1M581.3 315.2l1.3 -14.6l2.2 -13.2M597.2 314.2l-1.5 -9.7l-0.0 -10.5M617.5 317.8l-1.9 -13.7l-5.7 -8.9M626.3 305.8l-1.8 -9.1l-0.1 -5.2M646.3 316.5l-3.4 -12.8l-0.3 -7.6M662.4 310.2l-2.5 -10.1l-1.4 -11.3M679.9 311.4l2.5 -6.6l0.1 -11.9M694.4 315.9l2.4 -13.4l6.9 -13.1M710.1 315.9l10.0 -9.2l5.0 -10.6M724.6 312.8l9.3 -8.3l13.2 -4.6M330.5 313.3l-15.6 1.5l-10.5 0.6M340.3 321.4l-4.7 -0.1l-10.6 -5.3M361.0 323.4l-7.5 -7.5l-7.5 -3.5M373.5 327.0l-9.9 -5.9l-10.3 -11.8M379.5 324.8l1.5 -10.2l-2.5 -9.8M400.8 334.5l1.5 -14.6l-1.7 -12.2M407.8 322.8l3.5 -6.5l6.1 -8.3M423.1 319.6l8.5 -3.6l9.5 -8.4M446.2 321.8l5.4 -2.3l8.8 -4.3M453.8 326.1l10.0 -9.3l8.5 -4.0M477.8 321.0l10.1 -3.2l6.4 1.0M490.9 321.8l16.0 -1.2l10.0 -5.8M509.5 322.0l12.9 -5.1l9.8 -8.3M523.5 328.8l12.2 -7.1l9.6 -8.8M541.6 326.8l9.7 -11.7l9.1 -11.2M566.4 326.8l3.7 -13.7l1.5 -13.0M583.4 326.7l5.7 -8.5l2.1 -11.8M608.8 330.4l-0.5 -9.7l-5.9 -7.7M617.4 329.7l-2.2 -11.9l1.6 -7.4M636.5 328.2l-2.4 -12.3l-1.6 -15.7M660.3 328.0l-4.1 -12.2l-1.5 -12.0M666.0 324.8l4.2 -10.8l2.2 -12.8M688.2 322.4l4.8 -10.2l2.6 -9.1M698.7 325.3l9.2 -0.8l7.8 -5.6M710.4 320.4l12.2 -1.2l14.0 -5.4M729.8 321.3l7.5 -1.7l8.1 -2.2M743.4 316.0l9.7 2.5l9.6 0.1M777.1 314.1l8.3 4.8l10.9 7.3M796.9 314.8l8.4 4.5l5.0 10.1M336.5 347.5l-9.4 -10.6l-10.4 -9.6M349.1 335.5l-11.3 -8.0l-8.1 -6.8M364.7 343.3l-2.9 -16.7l-3.0 -11.0M376.0 344.0l2.7 -6.2l-2.9 -11.2M387.2 338.8l2.4 -5.0l7.2 -10.2M392.6 345.9l12.9 -10.6l8.7 -6.9M447.0 331.3l9.6 -3.6l9.8 -2.0M462.5 340.7l9.0 -7.3l14.1 -9.5M484.9 336.4l11.8 -8.6l12.8 -7.7M504.3 330.4l9.4 0.2l4.7 -4.7M516.9 348.9l6.7 -11.6l8.3 -13.3M534.8 337.8l3.5 -10.5l6.4 -6.9M559.0 343.0l4.7 -11.6l3.0 -11.4M579.4 347.6l-4.3 -11.3l0.7 -16.5M594.3 349.2l-2.0 -12.5l-2.6 -11.7M604.9 347.1l1.6 -12.3l5.3 -14.3M629.1 344.2l-1.8 -13.1l2.7 -14.9M648.0 344.6l1.5 -8.1l4.3 -7.9M662.5 345.8l-1.0 -14.7l1.4 -11.0M680.3 334.5l1.5 -8.9l5.6 -3.9M690.9 335.8l5.3 -5.6l4.7 -10.5M700.5 336.4l9.8 -3.0l9.0 -2.9M717.3 332.0l12.8 -0.4l11.7 2.3M742.8 325.0l10.9 7.7l8.0 9.6M762.2 323.1l3.6 5.3l5.3 5.7M779.1 322.4l5.3 7.0l10.2 8.4M787.8 322.1l7.1 14.0l11.9 8.1M808.4 321.1l5.2 9.1l2.3 6.7M322.6 357.7l-9.1 -5.2l-6.2 -6.4M337.4 357.7l-9.5 -4.4l-4.7 -8.9M350.1 358.0l-3.1 -15.8l-7.4 -10.7M362.1 362.0l1.7 -13.1l7.0 -15.3M375.5 362.8l1.5 -9.3l7.1 -13.4M486.7 354.9l12.8 -5.2l15.0 -1.6M502.5 354.3l14.0 -11.9l8.6 -6.1M534.9 359.9l5.3 -14.8l3.8 -11.1M549.8 355.1l5.5 -11.3l4.8 -10.8M572.2 354.2l1.2 -12.9l-1.9 -9.7M582.5 360.8l-2.9 -9.6l2.1 -12.9M605.6 361.4l-3.2 -13.8l2.3 -14.2M620.2 355.6l-0.3 -12.3l-5.0 -9.6M638.2 358.9l-0.4 -14.6l-3.5 -10.7M652.7 360.6l3.5 -9.4l-0.1 -10.0M662.5 353.6l8.6 -6.0l5.9 -9.7M678.0 351.4l6.9 -3.0l12.5 -2.1M696.1 352.3l12.4 -0.4l7.8 -0.2M709.6 349.2l8.5 1.1l8.4 -4.5M731.2 346.1l5.3 1.8l7.9 5.7M753.1 340.3l7.2 6.4l7.6 2.1M765.6 338.3l7.1 11.0l9.2 6.5M783.6 340.1l6.2 13.0l9.0 7.5M808.1 339.1l5.8 7.4l1.5 10.9M816.8 335.1l9.2 13.0l4.1 7.4M836.7 351.5l6.0 -1.7l9.8 3.5M845.4 344.2l9.2 -1.3l7.2 2.4M326.8 369.9l-3.3 -8.7l-5.8 -7.1M343.6 371.7l-0.3 -13.9l-4.5 -9.9M355.3 371.8l0.7 -11.7l-0.1 -8.7M580.7 373.3l-0.8 -14.2l-4.3 -13.8M591.3 373.8l0.4 -13.1l-0.2 -7.2M612.1 374.5l-0.2 -16.5l-0.2 -13.2M628.1 373.9l3.7 -6.3l1.5 -12.0M641.2 378.5l6.7 -8.2l2.2 -13.0M653.8 367.2l7.4 -6.8l5.6 -4.4M667.3 370.5l12.6 -3.4l8.2 -5.4M688.6 364.9l11.4 3.8l13.4 2.0M699.9 358.5l8.1 1.9l10.8 1.2M723.3 362.2l7.4 3.5l7.3 2.5M739.4 349.1l11.2 10.2l5.3 11.6M763.3 354.3l2.6 9.2l2.3 6.9M776.6 356.2l4.2 3.9l3.6 9.4M792.9 356.6l8.1 5.8l9.6 10.2M806.8 346.8l5.8 11.7l3.7 11.3M824.5 361.3l9.2 5.3l8.2 7.2M842.1 358.8l8.9 2.6l7.3 -0.8M854.9 367.7l8.7 1.3l8.6 -3.6M335.6 384.8l-1.6 -6.1l2.2 -10.0M348.6 383.5l2.7 -11.3l2.7 -7.8M565.4 388.7l2.4 -8.2l-1.4 -11.2M586.0 389.5l3.9 -13.8l0.5 -14.5M600.1 385.1l-1.8 -9.5l-0.0 -8.0M611.3 387.6l7.8 -11.9l2.3 -10.5M626.1 387.1l4.6 -15.7l10.2 -10.2M643.8 382.7l9.4 -2.6l5.4 -7.5M661.0 379.2l12.5 -5.1l9.1 -4.1M679.0 372.6l8.7 2.4l5.3 -0.7M701.3 376.6l8.6 3.6l9.4 6.5M709.0 373.7l11.8 11.0l9.6 5.5M736.0 371.7l3.6 12.4l4.5 7.1M751.6 365.7l6.0 12.0l11.1 6.6M767.6 374.7l6.3 5.9l0.9 9.4M787.5 370.1l5.2 8.0l6.8 4.0M796.8 371.9l12.5 7.6l8.7 11.9M816.9 372.8l7.1 1.7l10.2 1.5M827.2 378.7l14.6 -2.1l11.0 0.2M844.1 385.9l10.8 -8.1l10.3 -6.7M561.2 401.2l1.5 -9.1l-1.0 -14.6M576.9 409.3l7.3 -13.4l2.0 -8.6M596.3 403.2l0.5 -5.9l4.0 -10.4M609.7 404.2l1.4 -7.4l1.7 -11.9M625.3 403.3l8.8 -12.1l6.8 -8.6M637.4 399.3l8.7 -5.0l8.5 -4.5M656.4 389.8l11.0 -0.6l6.9 -1.3M667.6 390.5l10.7 3.3l7.9 -1.2M690.7 393.8l6.0 4.4l6.6 5.4M701.1 381.8l8.7 6.0l11.9 10.6M720.3 379.8l6.0 13.0l6.8 7.4M739.1 385.6l7.5 10.1l1.6 13.4M756.6 379.8l6.9 9.0l11.4 14.6M773.0 383.9l9.9 6.8l9.2 11.7M787.6 390.1l8.4 7.3l10.8 6.7M798.8 386.6l11.3 3.7l14.2 6.8M820.0 401.0l10.8 -2.7l15.7 -3.9M846.9 393.3l9.6 -3.2l6.1 -4.6M862.4 400.8l6.4 -10.2l3.9 -8.5M500.5 420.3l0.5 -5.1l4.8 -8.0M510.7 424.0l3.2 -13.4l8.0 -8.9M532.6 419.6l2.1 -9.5l0.5 -5.0M552.1 411.6l0.3 -7.3l5.4 -7.4M568.9 423.3l0.6 -11.3l0.3 -11.2M584.2 417.8l-1.5 -12.8l1.6 -8.3M600.5 413.7l7.4 -9.2l5.9 -5.1M608.3 414.6l11.6 -8.2l7.1 -12.6M624.1 416.1l10.9 -4.6l11.5 -6.4M650.3 411.8l9.8 -1.5l4.8 1.5M662.1 403.1l8.6 -1.1l10.6 4.3M679.1 406.4l4.6 3.8l10.6 6.7M695.0 400.2l9.7 2.3l5.3 6.0M720.7 404.6l7.3 7.8l6.4 9.1M733.1 393.0l2.2 12.3l4.0 15.1M755.1 400.6l5.2 6.9l2.7 8.0M769.6 401.0l5.4 5.4l9.8 10.5M785.0 399.6l8.1 9.8l6.5 5.8M793.7 405.0l9.2 3.7l14.3 0.5M818.9 415.3l7.0 -4.0l9.4 -5.9M839.7 420.9l4.4 -9.2l7.9 -7.5M466.8 435.2l15.3 -7.7l9.4 -8.3M488.7 428.6l5.2 -3.9l4.3 -7.9M506.1 436.2l8.1 -8.6l3.6 -14.4M528.8 432.3l3.5 -11.4l-0.1 -14.2M541.6 430.6l2.1 -8.1l5.4 -9.1M563.9 431.3l2.8 -7.5l-1.9 -6.4M575.2 434.4l0.2 -9.1l4.7 -8.2M588.1 435.1l8.0 -6.2l8.2 -9.5M605.0 431.4l7.2 -2.4l5.1 -5.5M617.2 431.7l6.7 -6.6l12.6 -7.5M637.5 419.4l8.1 0.8l10.8 1.3M655.9 417.4l5.4 1.7l11.0 3.5M669.5 421.4l9.8 3.6l6.6 5.6M689.3 417.3l5.2 8.7l7.8 4.3M703.4 415.7l5.2 6.8l6.4 11.7M730.0 417.5l-0.4 10.4l4.3 4.7M747.4 418.5l4.7 7.4l1.4 6.3M762.9 420.4l4.8 8.9l5.8 4.0M775.6 425.5l8.9 6.2l6.1 0.9M784.2 433.9l10.7 -7.6l15.5 -2.3M806.6 424.5l9.0 -4.1l8.8 -3.9M831.7 428.1l1.8 -7.0l5.5 -7.6M448.2 446.1l8.6 -3.1l4.5 -6.9M468.8 448.7l4.5 -3.4l3.0 -8.7M480.4 443.7l4.1 -8.7l5.1 -6.0M501.8 448.2l4.9 -10.8l2.9 -12.0M506.8 446.6l4.4 -14.0l10.2 -8.4M527.2 452.0l2.2 -8.0l4.8 -12.5M552.9 455.0l4.3 -12.5l2.7 -12.2M566.2 448.0l3.6 -10.3l0.6 -13.7M575.3 448.8l10.9 -7.4l5.7 -7.9M592.4 451.0l10.0 -10.8l6.7 -11.5M609.5 441.3l8.3 -2.2l14.2 -6.3M629.0 441.3l10.6 2.5l12.2 1.6M647.2 432.8l8.5 7.5l13.0 8.7M666.8 431.0l4.6 12.3l10.6 10.5M677.6 435.9l10.3 10.0l10.2 5.3M698.9 433.2l5.5 8.1l11.2 11.4M713.9 433.1l12.1 6.6l6.4 8.5M733.8 426.2l6.9 15.7l7.9 9.7M748.4 440.1l3.8 3.0l8.6 5.7M770.2 436.5l6.5 -1.1l9.7 3.6M780.7 444.2l11.4 -4.3l7.4 -1.7M804.3 449.0l7.3 -10.5l2.1 -4.8M818.3 447.9l1.2 -9.0l2.5 -11.7M852.9 446.5l-8.5 -5.2l-5.5 -7.6M434.9 462.5l8.8 -3.8l9.1 -1.5M449.8 467.7l12.5 -10.3l9.5 -5.9M474.2 456.3l7.3 -5.4l4.1 -4.4M478.6 468.0l8.1 -11.3l11.1 -11.0M503.5 469.1l2.5 -12.6l8.3 -13.1M527.7 458.2l1.4 -4.7l2.8 -8.9M540.5 463.5l4.9 -11.8l6.6 -7.4M549.3 467.2l7.3 -8.2l6.5 -14.2M568.9 458.0l6.6 -9.9l5.5 -4.9M589.2 462.3l13.2 -5.4l8.0 -9.4M598.9 454.1l10.2 0.1l13.6 -5.0M617.7 452.8l9.1 1.2l6.9 2.9M636.3 444.1l12.7 4.0l7.1 10.0M658.3 444.6l8.8 8.0l10.2 4.5M677.5 450.4l9.3 6.8l5.6 2.5M691.7 449.4l5.4 7.4l3.7 12.5M706.1 445.1l12.8 7.3l8.0 11.7M726.1 456.9l5.1 5.1l8.2 0.2M732.8 442.8l11.8 7.1l12.1 11.0M752.6 456.1l12.4 -4.2l11.7 -1.2M768.2 458.2l7.5 -1.9l10.6 -5.5M791.2 468.4l8.3 -13.1l6.8 -9.4M819.9 464.1l-3.7 -10.2l-0.5 -13.1M839.3 464.1l-4.9 -8.8l-10.5 -9.3M865.6 460.2l-12.3 -5.3l-14.1 -2.2M421.9 475.6l13.7 -0.8l11.5 -6.4M440.3 478.8l6.8 -11.6l8.2 -8.4M460.6 486.2l7.1 -13.1l7.6 -12.4M480.7 481.8l9.3 -7.2l4.9 -10.1M497.3 476.7l4.4 -10.5l7.4 -11.6M509.5 481.4l7.5 -13.2l2.8 -10.9M522.1 479.4l7.7 -11.7l9.9 -6.6M545.6 483.4l5.4 -11.9l7.9 -10.8M565.6 472.3l6.7 -4.9l8.2 -7.1M581.8 472.0l7.8 -2.2l6.7 -3.6M590.5 472.5l14.0 0.2l14.9 3.7M611.8 469.7l10.0 2.8l11.0 -0.2M628.2 466.3l13.6 6.4l8.9 4.0M651.1 465.3l5.7 10.8l8.3 5.6M661.0 467.0l7.1 4.2l12.2 10.0M680.8 458.8l11.1 10.0l10.9 7.0M693.0 461.5l5.8 6.0l10.7 10.1M716.2 460.3l10.2 7.5l10.9 7.3M730.6 470.9l9.8 1.2l6.7 -0.2M744.7 479.7l13.8 -10.4l9.6 -4.8M764.3 474.2l5.5 -5.8l9.2 -9.1M786.9 477.9l4.7 -13.4l2.7 -10.0M807.2 479.7l0.6 -12.5l-3.6 -10.5M840.8 476.8l-9.9 -6.6l-15.1 -5.3M854.8 470.5l-13.7 -2.9l-8.3 -2.4M395.6 486.9l8.0 -0.4l11.4 -2.6M412.6 492.6l13.5 -2.8l7.9 -4.9M438.2 492.4l7.0 -10.2l10.3 -8.2M456.7 492.1l0.9 -8.4l6.5 -4.6M474.4 492.0l6.7 -8.9l4.8 -7.9M494.6 488.8l3.4 -10.6l1.0 -5.6M502.2 487.6l6.3 -6.3l4.2 -4.5M519.6 496.2l5.4 -9.2l8.1 -11.2M537.6 489.6l7.2 -8.3l11.0 -5.8M549.5 493.3l8.1 -2.5l13.6 -4.4M563.7 487.4l9.8 -0.2l10.0 -4.3M586.3 492.3l11.1 -6.8l15.7 -2.1M601.7 477.9l11.9 1.3l11.7 4.1M618.5 479.5l12.4 6.1l13.2 8.6M633.1 473.5l11.3 10.4l6.5 5.0M657.1 479.1l4.9 7.1l6.8 5.9M668.5 478.7l12.5 12.6l7.1 8.6M685.9 483.7l11.0 4.0l9.4 2.5M703.2 478.2l12.0 5.5l14.0 5.7M713.0 475.8l13.1 7.1l13.6 5.0M745.0 491.9l9.1 -4.0l3.1 -2.9M756.3 488.7l6.9 -3.7l7.2 -7.2M778.9 495.9l2.1 -8.8l-1.9 -12.6M800.2 491.0l-2.9 -5.7l-2.9 -10.9M834.2 485.0l-14.0 3.0l-14.6 -2.9M847.2 480.3l-10.5 4.7l-7.9 5.8M863.6 475.0l-9.8 8.1l-13.3 7.8M372.9 502.5l11.6 -8.5l12.7 -3.7M393.4 511.5l10.7 -6.2l7.7 -8.7M405.2 503.9l10.0 -3.8l7.7 -4.0M422.6 501.2l7.1 -3.4l9.0 -7.3M446.6 505.4l5.6 -11.1l3.2 -5.8M462.2 508.1l3.8 -13.3l7.0 -10.7M477.9 514.4l6.0 -9.9l2.8 -11.4M496.8 504.8l4.7 -8.6l10.6 -7.7M510.0 508.2l3.7 -12.9l5.1 -11.5M523.1 503.2l11.8 -7.2l7.8 -7.3M542.8 505.2l8.1 -11.3l14.0 -5.7M552.8 500.8l13.9 -3.0l11.0 0.1M578.5 506.5l4.1 -3.2l10.0 0.7M599.6 505.3l11.4 0.4l6.3 -1.0M614.3 498.0l6.3 5.6l7.0 4.0M631.4 494.0l5.6 3.9l11.5 4.1M638.5 493.2l11.9 10.8l11.8 6.7M656.2 492.1l15.7 4.0l11.8 4.2M677.3 492.8l8.8 6.4l9.6 8.4M699.4 499.5l11.1 -0.8l7.6 0.8M705.9 505.7l14.7 -1.7l9.6 -6.6M732.1 505.0l11.3 -10.3l8.8 -5.9M751.9 515.3l1.0 -10.6l0.8 -8.6M774.9 513.3l-6.4 -11.3l-4.6 -14.5M794.5 512.9l-7.7 -5.7l-8.7 -8.8M826.9 502.7l-12.5 -2.6l-16.4 2.0M833.4 495.1l-8.1 2.1l-13.6 0.3M843.3 492.8l-3.4 8.0l-8.2 10.0M350.7 521.2l13.4 -4.2l7.7 -1.8M362.7 520.0l13.5 -4.2l7.9 0.9M386.0 517.6l5.7 -5.6l7.8 -5.5M395.7 523.1l12.4 -5.6l14.1 -5.2M410.1 521.1l13.4 -5.4l9.5 -8.7M432.7 522.1l11.7 -9.3l12.3 -4.1M448.9 527.1l7.7 -9.0l13.2 -3.0M463.1 523.7l10.8 -8.1l9.4 -10.3M485.9 525.5l8.5 -8.5l9.7 -2.9M501.6 519.4l10.3 -7.4l8.9 -4.5M513.8 523.6l11.9 -4.8l7.1 -6.2M535.5 518.2l12.8 -3.0l11.0 -5.1M551.4 514.6l8.1 -1.5l12.3 1.0M571.1 518.2l11.9 1.2l10.6 2.8M588.1 508.9l11.2 4.2l12.0 7.0M594.0 516.2l12.1 0.3l17.9 0.9M614.8 505.6l8.5 6.9l14.3 7.9M641.8 515.8l5.8 2.1l8.6 5.7M647.4 518.1l10.4 2.7l12.5 1.0M674.5 514.0l6.6 0.8l11.3 0.2M685.5 518.9l11.0 0.8l9.3 -3.8M703.9 519.6l9.9 -7.2l6.0 -3.4M727.5 518.4l6.2 -5.5l4.2 -6.8M745.9 525.4l-0.2 -6.0l1.3 -10.9M774.2 529.4l-5.2 -8.1l-10.9 -9.3M799.3 515.0l-15.2 -4.6l-10.7 -0.2M804.8 510.9l-7.7 -1.8l-9.3 2.2M820.5 516.3l-7.7 6.5l-7.1 1.6M840.7 510.7l-8.0 5.1l-3.5 8.4M335.8 531.9l12.5 -5.4l9.0 -2.8M357.4 537.2l10.9 -3.2l6.9 1.0M374.2 539.4l12.2 -3.3l9.9 -5.6M388.3 536.2l8.2 -6.3l10.9 -1.4M407.5 537.4l8.9 -8.3l8.5 -8.3M425.3 540.9l14.3 -6.5l10.0 -11.0M445.2 543.3l5.7 -9.1l3.2 -4.8M464.3 536.6l5.8 -7.4l8.6 -10.5M477.0 534.8l6.8 -3.7l7.7 -9.7M488.6 534.6l14.4 -6.3l9.4 -8.0M509.4 539.9l14.2 -5.9l9.7 -5.2M528.3 538.8l11.6 -10.1l8.2 -6.1M542.3 530.5l9.1 -6.5l3.9 -1.2M557.1 538.6l15.3 -5.7l12.5 -5.3M569.0 538.3l10.8 -0.2l16.3 -5.3M593.2 533.7l12.0 3.2l7.2 -2.0M605.6 529.4l16.5 1.9l10.8 3.8M627.1 528.4l9.4 -0.0l9.5 3.1M643.0 529.6l15.3 0.2l12.4 -1.1M663.6 534.3l7.5 -3.9l9.8 1.3M685.2 539.7l8.8 -7.4l7.0 -5.4M701.1 541.7l9.4 -8.8l8.5 -9.6M717.4 546.2l3.7 -13.6l2.0 -15.2M743.4 537.4l-5.2 -6.5l-1.6 -7.1M767.4 542.3l-11.9 -8.6l-9.5 -4.6M786.4 532.1l-13.5 -1.9l-11.2 -6.7M800.7 524.5l-10.0 5.0l-9.6 -0.4M818.7 518.2l-10.9 9.3l-9.1 9.1M835.3 523.3l-9.4 11.8l-7.7 11.8M330.1 555.6l13.4 -4.7l12.7 -9.1M347.3 549.2l8.7 -0.8l11.8 -5.2M361.4 557.5l11.7 -8.7l7.0 -3.2M377.3 548.5l10.7 -9.3l9.7 -3.9M404.6 548.0l6.8 -5.9l6.3 -5.2M409.2 554.7l12.5 -8.4l11.2 -5.3M429.4 555.2l12.1 -4.2l10.0 -7.6M447.7 549.0l5.3 -2.2l9.1 -5.9M473.3 561.7l8.9 -12.3l5.8 -10.3M484.7 554.0l6.8 -6.6l8.6 -8.3M504.3 549.5l11.4 -3.6l7.1 -0.8M521.0 551.9l8.9 -3.8l12.4 -5.9M538.0 543.5l11.2 -1.5l7.8 -1.0M555.7 548.1l11.5 -2.7l5.7 -5.1M569.5 546.6l9.9 -1.6l11.7 -1.3M584.1 548.7l8.9 2.3l11.4 1.5M599.7 548.5l17.3 -4.9l12.1 0.3M625.6 550.1l7.9 0.4l6.5 -4.1M636.8 542.5l9.8 2.3l10.6 -3.3M654.6 550.7l6.8 -6.4l12.6 -3.3M673.8 559.7l6.4 -12.3l11.5 -10.9M699.6 556.1l0.7 -14.2l2.7 -8.4M719.6 564.9l-7.2 -16.8l-3.4 -10.9M736.9 555.6l-5.9 -11.1l-8.9 -8.7M762.2 551.5l-10.3 -4.5l-12.3 -6.1M776.4 545.8l-5.9 3.3l-10.1 6.6M792.0 541.0l-9.6 -0.4l-14.0 2.6M804.3 537.5l-4.8 6.9l-4.8 3.9M827.5 533.4l-5.8 12.0l-7.9 6.9M834.1 536.6l-1.9 7.6l2.5 9.5M325.2 568.3l5.9 -6.3l6.4 -1.2M341.7 568.2l11.4 -4.5l10.9 -3.5M363.2 565.4l5.8 -4.5l6.0 -5.2M370.0 561.2l10.0 -0.5l11.0 -5.2M394.1 565.6l9.9 -4.8l5.1 -8.4M403.7 566.3l6.6 -6.1l10.8 -2.3M428.9 564.7l4.1 -6.8l4.5 -4.8M446.3 573.4l6.6 -7.3l9.4 -12.2M455.0 571.3l9.1 -9.5l8.1 -5.8M477.2 569.2l13.4 -8.4l10.9 -4.0M488.5 563.5l8.4 -3.2l12.4 -9.0M512.2 565.0l9.8 -6.1l9.5 -8.4M522.2 559.4l11.1 -2.6l12.0 0.9M540.6 572.5l12.3 -7.0l8.4 -4.9M564.9 563.9l11.6 -3.6l6.4 -2.1M568.7 560.3l11.8 0.7l15.2 3.6M592.3 556.8l8.2 2.9l11.8 -0.2M610.1 569.6l7.8 -2.7l12.3 -8.0M630.6 562.3l10.5 -2.0l6.8 -4.8M640.8 567.3l12.1 -7.9l7.2 -6.8M657.1 575.5l11.8 -10.6l9.2 -9.2M680.7 565.0l5.4 -7.4l2.9 -7.2M708.1 572.2l-3.9 -6.2l-2.9 -6.9M724.9 572.0l-7.9 -15.6l-5.6 -9.7M751.1 565.5l-12.3 -5.7l-8.4 -2.8M769.2 561.5l-14.4 0.7l-12.0 1.2M779.1 557.4l-6.3 6.0l-5.5 5.6M798.4 556.1l-11.1 7.6l-9.8 13.1M815.5 550.8l-4.9 9.5l-5.7 12.0M826.2 547.6l-6.6 11.0l-4.8 12.2M844.4 557.7l-6.5 7.9l-3.9 10.1M313.6 580.5l13.0 -8.8l13.3 -5.3M329.7 584.8l7.9 -0.3l9.9 -5.9M352.6 584.5l8.1 -3.5l9.1 -2.1M362.6 586.2l9.7 -6.8l15.7 -5.1M375.7 585.1l12.7 -9.3l11.5 -3.9M404.5 580.2l6.9 -7.8l5.2 -4.1M421.3 584.1l7.3 -8.4l7.3 -3.3M433.9 586.2l3.7 -2.7l9.1 -5.7M446.1 579.2l7.0 -6.7l10.5 -3.4M466.9 576.9l12.0 -4.8l8.7 -2.5M479.2 581.6l11.1 -2.4l9.0 -3.4M502.6 582.9l7.1 -5.7l3.7 -3.6M512.5 581.6l12.6 -1.8l9.3 -4.3M532.2 581.7l13.1 -5.6l12.2 -1.9M546.8 577.8l8.6 -2.7l12.8 1.6M567.1 582.4l16.2 1.4l13.4 -3.8M586.5 580.2l6.9 0.3l9.9 -2.1M603.6 581.3l7.2 -4.2l4.2 -5.0M621.0 591.1l6.2 -8.6l9.6 -10.2M638.7 589.6l4.1 -13.0l4.6 -8.1M656.7 586.2l6.9 -12.0l4.9 -10.7M676.9 585.5l-3.1 -11.8l0.5 -13.3M696.8 583.4l-5.3 -13.0l-2.6 -8.1M726.8 586.1l-13.7 -8.2l-11.7 -5.5M734.7 583.3l-5.7 -4.2l-10.4 -3.0M754.3 579.1l-10.6 -1.5l-11.3 3.2M766.7 568.2l-6.6 7.3l-5.2 7.6M788.3 560.1l-3.8 14.7l-6.6 11.6M796.6 570.0l-0.3 9.5l-0.7 15.0M820.4 568.8l2.1 6.8l-1.6 11.7M834.9 562.1l-3.9 11.0l-7.6 9.9M352.5 596.8l7.1 -7.5l9.1 -3.8M375.1 600.3l7.0 -4.5l8.7 -7.9M393.5 597.7l3.8 -5.7l5.9 -4.5M403.9 598.5l12.3 -3.7l11.7 -9.5M431.3 602.4l6.6 -5.8l5.5 -8.2M443.7 598.9l8.7 -1.2l3.4 -5.9M459.6 596.9l12.5 -2.0l11.3 -4.6M474.4 600.8l12.2 -4.0l15.6 -3.8M489.1 596.7l6.6 -1.8l12.4 -4.3M507.1 599.9l12.1 -5.8l11.2 -10.0M522.3 592.8l12.1 -2.1l16.0 -6.9M543.2 595.1l8.6 -5.5l6.3 -5.9M557.8 598.8l9.1 -4.7l12.5 -5.3M572.6 593.7l11.3 -4.8l8.0 -4.5M596.0 598.5l11.5 -5.7l5.7 -11.0M609.0 603.4l9.6 -7.1l5.2 -10.1M638.7 601.2l0.8 -12.1l5.8 -7.1M655.1 603.4l-1.3 -11.4l-3.0 -11.5M679.8 602.5l-4.7 -9.5l-8.7 -13.4M689.9 602.1l-7.2 -9.9l-4.5 -4.9M715.3 593.0l-14.1 0.0l-12.7 -5.4M738.4 591.2l-12.5 -4.0l-14.9 -0.7M753.6 590.1l-12.3 8.8l-11.7 5.5M765.9 580.9l-12.4 11.6l-7.7 7.8M782.5 585.9l-2.3 4.7l-7.1 8.0M794.5 587.4l-4.4 8.0l-1.8 12.4M813.5 582.2l-2.8 11.7l-4.1 10.9M827.7 582.2l-1.6 7.5l-7.4 7.3M367.4 612.6l11.9 -8.9l8.5 -9.8M379.5 611.7l15.4 -8.2l11.4 -3.8M401.6 615.0l5.2 -1.3l8.7 -6.9M414.4 611.3l10.3 -8.1l14.3 -7.0M431.0 614.1l8.6 -4.9l8.7 -7.1M453.6 616.4l7.3 -3.0l11.2 -5.1M473.8 615.1l4.6 -4.2l5.8 -6.0M483.7 615.9l13.4 -2.7l11.2 -6.2M501.2 612.7l7.3 -7.9l13.1 -9.8M518.7 621.5l10.1 -7.9l6.9 -12.8M528.5 611.4l11.3 -2.9l10.5 -6.2M552.6 608.6l9.9 -7.0l9.6 -2.4M571.1 619.2l7.9 -8.4l8.2 -6.1M592.9 619.4l7.2 -8.9l5.1 -9.4M611.6 616.4l3.0 -8.0l5.2 -9.6M628.6 619.2l2.2 -11.3l5.9 -15.8M644.4 612.2l-2.0 -8.9l1.8 -5.6M665.8 617.6l-5.6 -14.5l-3.0 -13.3M694.3 614.6l-12.8 -2.5l-12.1 -6.5M705.4 608.7l-6.5 2.2l-7.2 1.1M728.8 605.3l-11.3 9.3l-10.9 5.6M738.7 606.5l-4.6 7.1l-10.3 2.5M755.6 595.9l-0.7 13.6l-6.6 12.7M771.6 600.1l-7.8 6.9l-3.9 10.5M783.5 597.5l-5.8 8.6l-0.7 8.1M800.9 596.4l-1.6 11.3l-5.3 16.0M823.0 600.5l-4.0 6.4l-1.6 10.0M840.3 597.0l-13.5 8.0l-8.3 12.1M391.8 627.6l15.6 -6.3l9.9 -6.4M411.2 624.6l11.3 -6.8l9.2 -4.1M429.9 625.5l5.0 -4.7l9.8 -8.6M441.3 626.3l10.3 -3.8l6.7 -2.6M459.3 630.2l8.2 -2.7l3.2 -8.2M479.9 625.3l9.1 -6.1l9.7 -2.4M491.6 626.2l8.0 -6.1l5.2 -0.6M510.5 633.4l9.9 -13.0l4.5 -11.0M532.3 629.5l7.3 -8.0l5.5 -11.8M550.5 634.8l2.6 -5.2l5.8 -10.6M558.9 629.0l6.1 -6.6l6.6 -6.1M587.9 634.1l-1.1 -6.0l1.3 -11.9M600.4 629.1l4.8 -6.1l3.1 -11.4M623.7 628.4l-2.5 -7.1l-3.0 -11.4M643.8 633.3l-6.5 -8.3l-1.7 -11.2M659.5 630.4l-7.8 -4.7l-4.5 -4.1M677.2 627.7l-6.6 -0.9l-9.4 -1.7M695.7 625.8l-7.5 2.4l-8.1 -3.0M713.8 619.6l-10.3 2.4l-7.1 1.0M733.3 613.4l-5.2 9.6l-7.8 15.2M746.9 613.6l-8.2 9.6l-11.0 9.7M761.8 615.9l-8.0 11.0l-7.5 10.3M771.0 613.8l-4.2 8.2l-0.3 11.9M794.4 620.1l-0.8 9.1l-5.3 5.1M815.4 619.7l-0.5 8.8l-6.3 4.6M829.6 609.5l-7.2 9.4l-5.7 8.3M415.6 643.9l8.4 -5.6l10.3 -2.1M434.8 640.7l3.8 -5.0l9.3 -1.8M453.6 639.1l4.8 -6.7l7.8 -1.2M468.8 650.4l10.6 -8.9l8.8 -11.3M485.9 645.0l13.7 -6.4l9.9 -10.0M510.7 650.5l4.5 -9.9l2.5 -4.9M522.0 651.8l7.2 -11.2l1.6 -8.8M542.2 646.1l1.4 -6.8l7.4 -8.2M557.6 654.0l-0.4 -10.7l1.3 -16.7M582.4 656.7l0.7 -14.3l-1.5 -15.4M598.2 647.2l0.3 -9.1l-1.7 -12.3M615.2 646.0l-5.2 -11.4l-7.5 -6.3M634.3 647.6l-5.9 -10.9l-8.0 -14.5M656.2 649.1l-6.0 -3.3l-9.6 -9.0M671.9 640.8l-10.7 -3.2l-10.5 -0.3M690.5 633.2l-7.6 0.6l-9.9 4.9M704.2 632.3l-5.8 4.7l-10.4 4.0M717.9 635.3l-5.3 1.2l-8.2 6.8M736.9 632.3l-12.0 12.6l-6.7 9.1M750.4 625.5l-8.7 9.3l-5.2 8.9M769.1 633.9l-10.4 10.4l-6.1 6.7M796.0 632.4l-10.3 12.7l-8.1 8.5M806.2 629.8l-3.1 10.8l-8.3 5.6M825.0 630.3l-10.7 3.6l-15.8 8.6M407.5 655.5l6.6 -7.8l7.0 -3.3M431.7 668.8l5.0 -9.5l7.2 -11.0M443.6 657.6l6.3 -5.2l8.3 -10.6M462.5 665.2l7.7 -4.5l7.4 -9.0M478.6 662.4l3.0 -10.3l3.9 -5.3M502.4 657.9l2.4 -8.0l3.2 -5.6M514.1 658.7l-0.4 -9.1l2.5 -7.0M531.2 668.4l3.1 -13.0l-2.3 -8.6M551.4 661.9l2.5 -10.4l1.6 -10.9M572.7 662.7l2.2 -13.2l-0.2 -11.1M593.6 667.4l-6.9 -12.2l-2.6 -9.2M612.8 658.9l-6.0 -5.5l-7.1 -9.8M631.4 655.4l-12.6 -9.2l-9.7 -3.8M641.4 654.3l-10.0 -0.1l-5.6 -2.7M663.8 651.8l-16.2 -2.7l-12.0 -0.1M679.2 652.1l-12.1 0.8l-8.7 -3.6M698.8 649.7l-13.0 4.2l-12.7 0.4M712.1 649.4l-5.5 4.3l-7.2 3.0M730.6 644.1l-13.5 6.1l-8.1 6.5M744.7 643.8l-6.2 11.2l-11.5 9.1M761.1 645.8l-0.2 5.8l-5.9 10.0M785.8 644.5l-7.7 10.9l-10.1 6.2M801.5 650.7l-10.3 3.3l-7.4 5.6M818.2 656.3l-11.0 -1.8l-5.3 3.8M831.8 652.0l-5.6 2.6l-9.4 -3.1M421.7 679.9l9.5 -11.9l6.3 -7.9M435.6 673.2l10.1 -6.4l6.3 -5.5M454.5 681.2l3.6 -13.6l8.1 -9.9M466.5 682.7l4.4 -10.5l7.1 -13.8M488.6 686.3l0.2 -10.0l-1.2 -16.0M510.0 682.8l-4.2 -12.9l-1.7 -11.7M534.4 682.5l-1.8 -9.3l-3.4 -12.6M548.3 674.8l-3.6 -11.6l-2.0 -7.8M570.9 677.2l-2.9 -5.4l-8.2 -11.4M586.9 675.0l-8.0 -9.0l-4.4 -4.1M595.5 673.7l-4.8 -7.8l-2.9 -6.8M618.3 672.6l-7.6 -0.6l-9.2 -3.7M637.0 674.1l-10.5 -4.3l-6.5 -1.6M659.6 666.7l-12.2 0.5l-6.5 1.5M681.2 665.3l-16.5 -0.2l-10.9 3.2M691.0 663.7l-10.1 10.5l-7.1 6.6M707.3 662.8l-7.2 8.1l-10.9 2.7M723.9 662.2l-10.1 4.9l-7.7 4.2M735.6 661.2l-10.0 5.0l-7.1 5.2M757.3 659.2l-9.4 10.3l-13.7 8.1M769.5 666.0l-8.1 5.8l-8.5 1.0M791.5 674.1l-9.6 0.2l-9.4 -0.5M814.0 668.8l-12.6 -2.7l-10.3 0.3M825.5 668.4l-8.7 -4.3l-6.6 -2.8M429.9 694.8l3.2 -12.2l4.1 -14.5M445.2 686.3l3.2 -8.2l7.9 -5.3M461.5 686.3l6.2 -5.5l1.2 -7.6M478.4 692.9l4.6 -14.0l2.3 -9.1M500.4 697.7l-2.6 -15.9l-4.7 -11.6M518.8 691.1l-0.7 -9.3l-3.7 -6.0M535.8 694.3l-1.6 -7.9l-5.2 -7.5M560.5 691.3l-3.5 -4.9l-4.2 -7.8M568.9 686.6l-5.8 -8.7l-0.8 -4.7M605.2 687.8l-17.4 -3.8l-11.9 -2.5M616.3 686.2l-11.9 -3.9l-9.5 -8.5M629.3 691.7l-10.6 -6.3l-16.4 -1.6M651.1 682.0l-10.3 5.4l-12.7 2.6M659.0 686.4l-8.7 0.4l-8.1 0.4M685.4 680.4l-8.3 3.9l-10.8 0.0M702.6 670.4l-11.0 11.5l-10.5 8.7M717.4 679.4l-5.5 8.3l-9.7 2.6M732.3 675.2l-7.0 7.9l-9.7 2.3M744.9 683.2l-7.3 5.4l-12.0 0.5M767.3 677.9l-7.1 5.2l-8.0 1.0M782.7 679.1l-16.0 0.4l-11.5 6.0M802.2 680.1l-12.9 1.6l-16.0 -0.5M810.9 691.6l-7.5 -1.0l-5.4 -6.7M830.8 690.9l-8.6 -9.0l-11.2 -12.1M442.1 710.1l6.4 -10.1l2.4 -12.1M456.8 706.4l0.6 -8.1l-1.5 -6.3M479.9 713.8l-3.1 -11.0l-7.0 -8.7M499.8 708.0l-0.3 -9.8l-5.8 -7.2M510.0 711.0l-1.7 -4.7l-5.5 -9.3M537.6 705.2l-8.7 -2.1l-6.6 -7.5M550.1 706.5l-6.1 -8.4l-5.6 -11.4M566.1 701.2l-11.7 -7.6l-6.2 -4.0M583.4 700.1l-5.1 -3.1l-5.8 -6.5M609.0 706.8l-9.6 -4.0l-15.5 -3.1M625.4 702.6l-11.0 -1.6l-12.5 0.7M641.1 702.6l-10.4 0.2l-11.6 -0.9M651.6 697.7l-9.6 -0.9l-8.1 3.9M677.1 693.5l-9.5 3.0l-13.4 4.8M685.7 700.4l-9.2 -0.5l-6.3 2.0M701.9 698.0l-10.3 3.5l-7.6 3.2M719.7 698.2l-11.4 2.9l-8.9 5.7M732.3 692.2l-6.3 1.4l-5.9 6.1M759.6 698.0l-13.2 -1.9l-15.1 2.7M771.7 697.4l-6.3 -1.7l-9.7 -1.2M784.1 704.1l-8.3 -5.1l-4.9 -4.9M812.1 708.2l-10.0 -10.3l-8.7 -7.0M821.3 708.7l-9.5 -14.0l-4.9 -11.2M469.6 721.2l-2.7 -6.4l-2.5 -12.0M485.2 721.5l-5.6 -10.6l-4.0 -10.2M509.8 720.5l-10.1 -6.9l-8.5 -12.4M521.9 722.6l-5.2 -5.8l-8.6 -0.4M542.1 721.1l-7.0 -6.0l-9.2 -4.4M562.3 723.0l-11.2 -5.2l-13.5 -9.3M582.1 720.2l-10.3 -3.0l-13.1 -0.4M590.3 713.8l-9.4 -4.2l-5.9 0.3M622.1 712.7l-11.3 6.2l-16.9 0.7M626.5 719.3l-9.5 1.6l-5.3 -3.0M649.0 715.2l-7.8 4.4l-10.1 -0.4M666.9 716.9l-12.6 0.7l-15.0 0.3M682.6 710.4l-11.2 6.0l-6.4 4.2M706.5 712.5l-11.1 5.1l-16.8 5.0M708.9 708.5l-4.3 4.5l-10.2 4.4M728.6 719.8l-7.8 -2.6l-9.0 -1.1M749.6 710.7l-10.9 1.9l-16.4 -3.2M767.4 716.0l-12.8 -2.5l-13.2 0.9M781.9 714.5l-11.9 -0.8l-7.5 -5.6M502.6 730.3l-9.5 0.0l-4.6 -5.1M523.0 734.0l-12.6 -3.7l-13.8 -0.9M532.3 736.1l-7.5 -6.3l-12.2 -2.6M560.3 728.2l-15.2 -2.9l-9.6 -0.4M574.0 733.6l-10.6 -1.7l-6.5 -3.3M595.3 734.2l-15.0 -3.4l-13.3 -5.5M602.9 725.8l-12.1 -2.1l-9.3 2.0M625.8 735.6l-12.7 -4.2l-7.1 -1.5M640.2 737.2l-8.3 -1.1l-13.5 -5.0M658.1 722.6l-8.8 5.6l-14.2 3.1M673.2 725.8l-8.9 -1.2l-11.0 4.4M687.7 732.8l-13.4 0.9l-8.1 -2.0M708.6 732.1l-11.1 -5.4l-14.7 -0.2M726.8 734.8l-12.7 -2.1l-13.5 -6.0M740.3 731.7l-8.3 -2.3l-5.8 -5.1M762.3 734.7l-14.8 -4.4l-10.5 -6.7M491.2 747.5l-7.9 -8.4l-9.1 -4.1M514.9 744.6l-11.4 2.4l-11.5 -1.4M522.3 747.4l-10.3 1.3l-6.4 -1.5M540.2 746.4l-11.3 -1.8l-6.2 -7.0M562.9 745.1l-13.8 -0.6l-8.5 2.0M581.4 748.3l-9.4 -1.4l-4.9 0.4M601.3 743.6l-7.9 -1.9l-13.5 1.0M622.0 745.3l-12.3 -2.2l-17.1 3.8M631.5 744.4l-16.2 2.6l-13.2 0.6M650.8 742.4l-11.7 4.0l-8.9 -1.8M662.5 749.1l-9.5 -3.7l-8.9 -0.4M678.8 743.8l-9.8 2.1l-11.5 -3.5M697.8 755.3l-9.9 -5.8l-10.3 -8.9M715.6 748.5l-16.4 -1.1l-11.1 -2.1M506.9 757.6l-11.9 -1.9l-12.9 1.2M526.0 763.4l-15.4 -7.7l-12.3 -2.5M539.4 765.4l-11.6 1.4l-11.5 -0.9M552.9 767.9l-14.7 -4.5l-9.3 -1.6M574.2 762.3l-12.6 -4.2l-11.6 -6.9M584.6 757.4l-6.3 1.4l-10.4 -3.3M604.9 759.3l-10.9 -0.4l-5.2 -6.2M619.9 769.2l-13.5 -0.9l-8.7 -6.3M642.5 767.2l-9.6 -5.8l-12.4 -7.9M651.2 759.4l-5.0 -5.0l-9.3 -1.2M673.9 765.2l-4.3 -5.1l-10.2 -3.4M685.9 761.2l-9.6 -2.3l-6.6 -5.1M501.9 772.5l-13.6 2.5l-12.4 -1.8M510.6 779.1l-8.3 0.2l-6.7 -5.7M527.3 777.0l-12.5 -3.2l-12.9 -2.7M542.7 775.8l-9.4 -3.1l-13.5 2.1M566.6 777.3l-10.9 -2.3l-11.4 2.9M581.5 775.2l-9.6 -1.3l-9.7 -3.1M598.4 777.8l-11.0 -5.4l-6.3 -7.2M608.5 780.7l-7.4 -5.9l-8.2 -3.9M626.9 777.4l-7.0 -7.4l-11.3 -4.5M643.3 781.0l-8.9 -5.8l-9.2 -8.6M502.3 787.1l-6.8 2.1l-11.6 2.0M523.0 800.2l-7.7 -4.6l-11.6 -4.4M543.2 790.7l-12.8 0.5l-16.4 0.4M549.1 786.8l-6.4 1.0l-11.4 -1.4M570.4 791.5l-4.6 -1.8l-10.6 -2.1M589.2 806.7l-7.3 -9.8l-7.4 -11.7M520.2 807.6l-13.8 -5.5l-14.8 -3.2M534.2 810.7l-13.3 -1.4l-11.3 -1.5M541.7 807.1l-8.0 -4.7l-13.5 -3.0M558.2 814.4l-9.3 -6.5l-5.9 -10.4" fill="none" stroke="#000" stroke-width="4.3" stroke-linecap="round" stroke-linejoin="round"/>
<path id="stk1" d="M437.0 75.9l12.9 -2.1l15.4 -4.3M462.9 72.6l6.1 -3.3l11.3 0.9M470.4 69.1l11.4 2.8l9.5 0.6M493.6 65.3l7.6 6.0l12.1 5.4M509.5 69.0l6.9 4.9l7.6 5.5M439.7 88.2l6.1 -1.3l8.6 -1.7M451.2 85.0l12.1 1.0l13.4 0.3M461.9 83.7l13.3 6.5l8.1 8.5M480.0 79.1l6.6 4.6l10.2 8.8M496.4 77.6l11.9 11.1l8.8 8.0M513.2 87.6l8.0 5.2l13.6 0.5M529.4 83.4l12.1 4.4l9.9 6.0M421.0 104.2l15.1 0.7l10.2 6.1M444.0 104.1l10.3 -0.1l7.7 -0.4M455.4 95.1l15.7 6.1l9.9 5.4M475.7 96.2l13.1 0.3l9.2 4.9M490.4 100.3l5.6 2.3l9.7 3.2M515.2 95.5l4.8 5.2l7.8 3.2M521.9 100.4l11.1 -1.2l6.5 2.9M395.3 124.0l9.8 -0.7l10.5 -3.1M407.1 118.6l12.6 1.5l14.2 0.7M437.3 108.9l8.3 3.7l10.7 6.4M441.9 118.6l14.5 1.8l14.3 4.4M472.6 113.9l7.5 2.3l5.2 8.0M481.1 114.6l9.2 4.4l8.4 1.4M501.6 114.1l10.7 1.4l4.7 7.1M516.2 121.9l7.7 2.5l11.6 -3.2M387.1 130.4l13.6 4.2l9.9 -0.2M408.1 132.1l10.9 2.7l11.4 0.7M425.8 133.2l11.0 -0.1l11.6 4.5M436.7 125.4l7.3 10.3l12.6 5.3M460.4 133.7l8.4 0.8l10.4 1.0M469.8 129.8l11.0 5.5l11.0 4.8M485.4 130.7l14.0 4.6l10.7 7.7M503.3 124.8l15.8 4.9l10.6 3.7M353.1 154.1l10.6 -3.4l7.4 2.2M368.4 148.9l11.5 0.5l8.9 3.5M386.4 147.9l10.0 -2.0l8.0 -2.4M397.9 144.8l10.7 3.6l15.9 8.3M410.9 141.1l10.2 4.1l14.0 4.2M430.7 142.1l10.0 4.8l7.8 -0.8M443.4 144.8l9.2 6.8l13.4 1.3M462.6 147.1l13.5 3.2l8.9 1.8M476.9 155.2l15.6 -3.3l13.5 -0.3M335.6 164.2l6.9 -6.9l10.5 -1.0M353.7 160.0l13.2 0.3l16.2 -0.8M379.7 160.9l7.2 4.4l6.3 1.1M387.7 160.5l11.7 8.1l11.9 5.8M411.7 165.3l9.3 -2.1l8.0 2.5M415.9 164.5l16.3 6.1l12.2 2.7M441.0 161.3l8.8 0.9l8.8 -0.4M450.2 162.1l12.7 3.7l15.1 -0.4M477.1 170.6l8.9 -3.5l9.0 -0.6M616.8 171.1l-7.9 -3.0l-9.2 -1.1M626.7 173.5l-6.2 -5.8l-11.7 -6.8M652.9 166.8l-14.0 -2.6l-14.0 -2.3M665.5 165.2l-10.2 1.6l-5.7 3.2M673.9 158.6l-9.0 5.0l-4.7 3.3M701.0 155.6l-11.4 8.4l-5.6 3.2M705.7 155.6l-4.9 7.6l-3.1 9.1M730.1 161.2l-5.3 7.4l-9.3 7.9M323.4 181.7l10.9 -3.2l14.7 -0.1M353.4 182.3l8.5 1.7l5.8 -1.4M362.4 181.3l11.7 1.6l14.7 4.2M383.9 184.8l13.1 0.3l10.9 -1.0M399.9 174.0l4.6 5.5l9.5 2.6M408.4 174.7l10.4 4.4l13.3 2.8M429.3 181.1l14.1 4.1l14.7 -0.9M446.1 183.1l13.4 -4.0l10.4 1.3M470.7 174.8l6.6 -0.6l9.7 1.7M588.5 190.5l-9.2 -10.8l-5.9 -8.6M612.4 187.8l-10.9 -5.1l-16.2 -7.6M619.4 181.3l-12.3 -3.1l-9.9 -2.7M643.4 171.5l-13.4 3.3l-7.6 4.9M652.9 175.9l-7.1 7.3l-11.5 5.2M674.6 172.6l-11.5 2.3l-13.7 5.3M688.9 175.8l-12.6 8.8l-10.3 6.2M705.8 178.4l-8.2 3.8l-2.9 6.4M721.4 168.0l-6.4 9.3l-2.3 10.4M741.2 171.8l-5.2 10.2l-10.8 5.1M318.2 203.6l6.6 -2.3l12.3 -6.6M338.1 196.7l14.9 -1.7l10.0 3.2M355.7 190.5l8.4 1.1l6.7 -0.2M377.5 198.9l6.9 -0.7l7.6 -0.9M391.6 188.1l10.0 6.1l10.1 4.0M412.7 194.3l5.6 0.0l10.3 5.7M423.0 199.2l9.9 -1.6l13.4 -2.7M448.4 201.2l5.5 -2.5l8.5 -2.9M452.2 198.1l12.9 -4.4l14.6 -3.3M474.8 203.1l8.1 -5.9l7.9 -9.5M556.3 204.1l0.7 -5.6l-3.6 -8.9M583.9 199.0l-9.2 -10.1l-11.4 -5.3M590.4 204.8l-8.6 -7.4l-8.3 -3.4M615.7 196.3l-12.5 2.3l-15.8 3.9M634.6 193.1l-11.9 4.8l-10.9 -0.6M648.4 189.6l-10.4 2.9l-6.0 5.6M663.0 186.7l-2.0 4.0l-7.8 6.9M675.1 185.2l-5.3 8.9l-7.9 14.5M697.1 180.2l-3.0 10.9l-8.2 12.6M715.0 185.6l-10.4 8.6l-12.6 10.0M728.8 190.8l-8.3 10.5l-4.6 4.7M755.9 186.5l-14.6 4.7l-12.2 6.7M767.4 193.7l-13.7 6.1l-12.4 3.1M231.2 221.1l1.4 -10.0l2.5 -15.8M286.6 216.5l6.8 -5.3l7.7 -3.3M293.2 217.5l9.4 -3.7l11.0 -5.3M308.8 212.3l11.5 -1.4l10.6 -5.8M328.1 203.2l16.2 0.3l11.1 3.5M345.3 205.0l14.9 2.1l10.5 1.8M364.4 209.5l8.4 -0.3l12.2 -2.6M379.2 210.8l11.3 -4.2l7.2 0.4M396.4 209.2l9.0 4.8l14.4 1.7M415.9 213.5l14.2 -0.4l11.2 0.4M426.8 209.4l13.8 -2.9l7.9 -1.3M450.6 218.9l5.9 -6.3l9.8 -6.1M466.4 217.1l4.8 -5.3l7.6 -6.4M484.7 222.5l7.8 -9.1l5.5 -6.1M548.2 217.6l-6.1 -6.6l-6.0 -5.8M567.6 215.4l-7.0 -4.8l-10.4 -5.9M589.7 218.0l-9.9 -6.8l-14.4 -9.9M608.5 206.6l-16.1 1.2l-12.2 6.3M622.7 205.0l-7.9 1.5l-10.8 0.9M631.9 207.5l-8.7 2.0l-4.3 3.5M655.8 200.5l-10.3 7.5l-7.2 9.9M667.6 208.6l-6.4 6.0l-3.2 5.7M690.9 205.1l-7.1 8.7l-5.1 4.2M711.6 200.8l-8.3 6.7l-11.0 9.3M718.0 202.9l-9.4 8.4l-3.8 3.3M741.4 201.4l-10.8 10.8l-12.7 6.5M754.1 210.5l-7.8 -0.1l-9.6 4.6M208.5 238.5l3.0 -10.6l4.2 -8.9M220.7 234.6l8.4 -9.8l9.9 -9.0M243.6 228.3l5.2 -8.5l2.0 -4.3M250.3 232.7l7.2 -2.3l11.6 -7.2M269.5 224.4l11.3 -0.3l5.6 -5.1M285.8 233.5l10.1 -7.3l12.2 -3.6M303.6 230.8l12.5 -1.9l13.9 -0.2M325.5 230.0l9.3 -2.9l7.1 -2.9M337.3 221.8l4.7 -0.5l10.7 4.8M355.1 226.9l9.0 0.8l13.2 5.4M371.8 228.1l14.9 1.5l14.3 -1.3M388.1 218.2l7.8 4.0l13.1 0.3M400.4 222.9l15.1 2.4l9.9 -2.0M421.1 231.9l13.0 -8.2l8.8 -7.4M445.6 237.8l9.1 -7.1l7.0 -7.7M459.3 231.4l4.5 -3.3l9.4 -8.8M476.9 236.4l4.8 -12.1l4.1 -16.0M543.1 236.1l-6.8 -5.6l-5.3 -10.5M561.7 228.1l-4.7 -5.6l-7.9 -3.0M577.4 229.1l-13.0 -0.6l-9.7 -4.8M596.9 222.5l-11.3 -0.9l-6.3 -2.9M613.0 216.5l-6.5 3.2l-10.8 7.1M623.9 216.2l-6.5 4.1l-6.0 4.7M644.6 216.1l-7.4 5.7l-12.3 10.2M663.5 216.4l-6.5 10.4l-3.4 6.1M672.8 216.3l-3.9 3.8l-8.3 8.7M702.7 222.2l-12.5 6.7l-7.2 3.0M711.8 222.7l-8.9 2.3l-5.7 4.4M728.6 226.6l-7.8 4.0l-10.8 0.8M751.0 229.2l-11.4 -4.1l-15.1 1.6M214.3 245.5l6.5 -10.3l1.2 -4.9M233.5 247.1l9.8 -0.2l5.2 -5.9M246.7 251.9l11.1 -9.8l11.8 -4.0M260.0 238.5l12.8 0.5l12.6 -3.8M280.3 240.6l10.3 -3.8l15.7 -0.5M299.7 238.7l13.4 4.0l8.6 -0.9M314.0 242.6l10.2 3.1l12.4 -0.1M334.8 244.4l10.9 -2.5l8.0 1.9M340.8 246.2l14.2 -4.5l11.4 -2.2M366.6 240.4l9.6 -2.7l15.1 -2.2M383.2 245.6l7.0 -1.8l10.0 0.2M393.2 239.6l9.4 -0.8l15.0 -5.8M416.4 252.2l11.9 -10.2l8.3 -9.0M438.0 250.5l1.8 -3.8l7.4 -8.0M456.8 250.1l1.8 -8.7l7.0 -10.8M494.4 253.2l-1.8 -13.3l-1.2 -13.5M517.7 249.4l-4.8 -7.7l-9.0 -6.0M538.9 252.8l-11.6 -9.7l-11.3 -7.4M557.1 245.9l-11.0 -6.3l-15.2 -5.5M572.7 234.9l-13.6 2.7l-13.3 0.5M593.5 240.6l-12.4 2.3l-8.8 -0.7M608.3 234.6l-15.7 4.0l-12.4 1.5M625.4 230.6l-13.7 7.6l-8.3 10.4M642.1 230.5l-13.3 7.2l-12.2 7.6M659.0 235.5l-7.3 6.1l-9.0 7.1M676.1 231.1l-7.7 5.7l-13.0 5.7M690.6 236.9l-9.3 5.4l-6.4 0.1M706.5 232.2l-11.7 3.4l-14.1 6.4M719.5 242.8l-8.4 -3.0l-7.6 2.6M747.7 240.0l-13.7 -3.9l-10.1 -3.2M201.9 260.3l8.8 -4.7l12.7 -8.3M214.2 265.3l12.4 -6.2l10.2 -10.5M241.7 258.1l8.0 -4.6l7.6 -1.4M254.3 259.8l10.3 -10.1l12.8 -5.1M266.3 258.2l11.2 2.6l8.9 -2.2M280.1 256.1l12.0 0.1l15.2 1.2M298.4 261.3l15.2 -7.0l12.4 -1.4M321.9 258.0l12.8 -1.2l8.4 -0.2M337.4 256.3l10.4 -4.8l9.2 -5.4M360.1 255.6l11.7 -3.2l7.0 -3.9M372.1 262.4l9.3 -6.1l3.5 -3.1M387.9 266.8l9.7 -5.9l6.3 -8.8M414.6 266.4l7.6 -8.7l5.2 -3.5M426.2 260.1l2.8 -3.2l6.6 -7.6M445.7 272.1l0.6 -12.3l0.0 -15.9M462.4 265.9l3.5 -6.8l0.5 -11.5M484.0 268.7l-0.9 -9.0l-5.2 -7.1M514.3 261.6l-8.2 -4.5l-7.5 -6.7M532.5 257.5l-7.1 -4.7l-11.0 -1.1M546.1 256.7l-9.9 -7.2l-12.3 -3.1M563.5 256.3l-9.7 -1.2l-13.7 -6.0M571.6 256.4l-5.4 5.4l-8.3 0.1M590.4 258.2l-8.9 1.9l-6.5 1.5M610.1 248.6l-3.9 3.2l-6.6 6.1M624.4 253.4l-7.9 4.7l-3.5 6.1M641.9 252.8l-6.2 6.5l-4.4 3.1M665.0 253.3l-8.5 4.0l-5.1 1.7M681.0 247.1l-9.4 5.1l-3.7 7.7M698.9 248.6l-9.4 1.7l-10.5 7.3M714.8 258.2l-13.8 -2.3l-9.9 1.7M725.3 256.8l-8.1 -1.6l-5.4 -4.4M747.7 256.7l-7.7 -2.6l-11.0 -4.2M211.8 274.6l4.3 -4.0l9.9 -2.0M228.9 268.5l13.7 -4.6l12.9 1.3M246.4 272.0l8.2 -4.1l6.6 -2.0M259.4 270.3l11.9 -2.1l9.1 1.1M273.5 275.9l13.4 -2.6l8.3 -1.2M293.6 277.5l12.1 -1.9l14.0 -4.7M314.5 277.4l10.3 -0.3l6.0 -5.3M335.3 272.6l7.0 -4.3l6.4 -3.1M342.7 278.3l10.5 -5.7l9.2 -7.6M365.4 274.5l8.9 -1.5l9.6 -6.1M380.0 274.1l9.3 -3.1l4.1 -7.3M406.5 280.2l4.6 -7.5l2.7 -6.0M419.6 281.3l0.3 -12.7l6.1 -13.4M437.9 285.2l2.2 -16.3l2.1 -12.7M459.5 286.8l-4.7 -14.6l0.1 -8.8M484.4 280.1l-7.3 -9.5l-9.4 -11.6M503.6 281.2l-13.8 -3.7l-9.3 -9.5M515.2 279.8l-6.3 -5.3l-8.1 -5.7M539.4 275.2l-13.1 -0.6l-15.6 -1.9M557.1 267.7l-9.6 3.5l-14.2 6.3M574.4 264.1l-10.1 8.5l-15.0 5.7M584.7 269.3l-7.1 3.8l-9.3 8.4M610.2 266.3l-10.0 6.4l-14.3 8.7M619.9 265.8l-8.1 1.7l-10.8 6.9M639.0 257.3l-6.9 9.1l-11.5 9.0M655.3 265.0l-10.2 6.3l-4.8 1.4M679.9 264.2l-14.3 4.7l-12.4 8.5M691.5 263.7l-10.1 2.4l-12.9 6.9M703.3 276.6l-4.7 -5.3l-9.7 -0.9M729.1 275.7l-14.7 -8.9l-10.4 -3.1M738.5 278.8l-9.9 -12.6l-5.8 -7.6M231.9 290.6l11.2 -2.2l10.7 -8.0M255.0 292.0l15.7 -2.3l11.2 -0.9M270.3 295.9l6.0 -6.6l10.4 -4.3M290.1 285.3l13.6 -2.4l11.0 -3.7M308.8 285.8l8.5 -4.9l10.4 -2.1M322.8 296.1l9.7 -6.6l10.4 -3.1M336.6 290.6l10.3 -5.3l9.2 -6.5M352.9 291.5l6.3 -8.6l10.6 -4.7M376.5 297.7l8.4 -8.4l4.3 -7.8M396.2 299.2l0.1 -10.3l4.3 -8.4M416.0 298.4l-1.0 -9.6l0.4 -14.5M438.5 299.7l-0.3 -8.9l-5.3 -10.4M460.7 297.5l-5.0 -9.9l-9.3 -10.5M473.7 299.4l-10.6 -11.9l-5.7 -9.3M491.1 290.9l-12.1 -4.1l-7.7 -7.2M509.1 295.2l-14.3 -7.1l-9.8 -2.1M531.0 281.2l-8.7 -1.9l-14.4 3.3M551.5 287.7l-12.8 1.4l-12.2 5.0M565.2 276.6l-11.9 5.4l-9.7 7.3M578.4 281.3l-7.9 3.6l-9.4 8.1M593.6 285.4l-12.8 7.1l-6.8 3.9M610.1 282.2l-10.5 4.6l-9.7 10.0M635.5 284.2l-13.1 6.2l-7.2 5.1M640.2 278.9l-6.8 1.9l-8.2 4.8M669.3 284.0l-9.1 1.6l-11.9 -3.0M680.1 286.5l-9.9 2.6l-14.0 2.6M699.8 287.7l-13.1 -2.0l-11.0 -5.7M716.0 294.2l-4.5 -5.9l-9.6 -9.1M726.8 292.9l-7.4 -8.4l-8.6 -3.4M283.2 305.1l8.1 -7.9l7.1 -2.2M300.5 310.1l2.3 -5.9l8.1 -6.9M318.5 309.3l7.3 -9.1l7.1 -12.2M331.9 313.6l4.4 -12.5l10.0 -12.8M343.8 306.2l5.9 -7.3l10.8 -7.6M371.5 315.9l4.2 -11.0l1.2 -12.1M384.3 309.6l3.7 -9.8l2.3 -7.3M413.1 314.4l-5.1 -11.7l0.6 -9.2M437.0 316.2l-6.5 -9.5l-11.9 -11.7M455.4 312.3l-6.0 -5.0l-11.0 -7.8M474.0 303.4l-10.3 -1.1l-10.2 -7.0M486.2 304.4l-6.7 -2.9l-10.7 -0.4M508.8 305.4l-10.5 -0.2l-11.3 -0.1M521.8 307.9l-14.3 1.7l-8.9 -4.2M541.9 305.9l-11.6 -1.2l-14.4 2.5M554.6 297.4l-10.6 3.8l-9.4 9.7M577.0 297.5l-16.0 0.9l-11.4 5.9M590.7 300.5l-15.7 6.5l-11.5 2.1M604.4 297.5l-5.1 2.1l-8.9 2.8M620.6 292.6l-14.1 3.5l-12.4 5.1M637.1 299.7l-5.7 2.3l-9.7 0.1M660.2 306.0l-8.2 -4.0l-13.0 1.4M676.0 302.3l-9.8 -3.4l-8.9 -2.9M690.2 298.7l-13.3 -1.8l-11.6 -1.5M700.6 309.9l-5.3 -4.8l-3.8 -7.9M717.6 305.6l-3.8 -8.6l-5.7 -2.7M734.6 310.6l-3.5 -13.0l0.2 -8.2M738.2 318.3l5.3 -10.1l6.0 -14.1M314.5 325.8l3.1 -7.0l2.9 -6.9M334.7 329.2l-0.1 -7.2l2.6 -10.9M337.3 328.9l10.5 -9.4l4.6 -15.0M362.0 321.5l3.8 -7.3l2.2 -6.8M388.3 331.0l-1.7 -10.2l-4.1 -8.4M406.2 321.6l-1.9 -10.0l-3.3 -8.0M422.3 323.5l-5.6 -9.2l-3.5 -8.7M436.4 327.0l-5.8 -13.1l-8.3 -11.1M461.6 323.3l-5.5 -4.0l-8.0 -9.8M481.0 316.9l-12.2 -2.7l-7.8 -0.2M489.2 322.7l-5.8 -1.8l-8.2 -4.2M513.8 319.1l-11.0 -1.1l-15.8 4.8M528.3 315.9l-6.9 -0.7l-11.3 3.0M544.1 314.1l-10.8 0.4l-5.9 5.4M563.7 312.4l-10.2 8.9l-11.8 6.5M576.9 312.4l-13.1 7.4l-8.9 8.0M597.2 310.5l-8.9 -0.2l-6.8 4.1M610.1 307.8l-7.2 5.7l-6.0 3.3M633.0 315.2l-8.2 0.7l-12.1 -4.2M652.3 318.7l-13.8 0.0l-10.4 -3.0M668.9 324.8l-12.7 -3.6l-9.5 -7.0M675.6 324.0l-6.1 -3.4l-9.0 -8.8M695.3 330.4l-7.6 -12.7l-1.9 -14.4M711.1 334.1l-3.5 -13.8l1.2 -11.2M725.0 323.5l-2.3 -12.0l1.8 -7.5M734.9 318.3l6.5 -7.7l5.4 -4.0M744.1 322.0l12.7 -6.1l8.5 -11.1M760.0 322.9l10.0 -4.3l11.7 -1.3M782.3 316.1l4.3 3.2l9.3 2.0M793.6 312.9l8.2 6.2l13.5 10.2M317.1 343.6l4.0 -10.7l1.5 -10.1M337.9 348.4l0.1 -13.3l-3.1 -11.9M355.9 344.9l1.1 -8.1l-1.4 -11.2M379.3 338.2l-2.1 -8.4l-3.8 -9.9M398.5 343.0l-9.6 -14.0l-6.6 -10.0M417.0 338.2l-9.5 -10.3l-4.4 -5.4M470.5 339.5l-9.0 -3.4l-15.0 -3.8M481.5 330.0l-6.6 -0.1l-11.3 -4.3M511.1 336.0l-15.7 2.3l-13.5 -1.6M521.8 330.7l-10.2 0.4l-5.9 6.1M538.5 333.7l-15.2 0.8l-11.0 0.7M552.5 332.6l-6.0 3.8l-7.2 4.3M578.2 331.8l-13.8 4.4l-13.0 5.8M590.0 326.7l-14.4 0.4l-10.3 5.9M606.9 327.8l-9.3 0.4l-15.2 0.5M618.4 331.9l-11.6 -1.2l-6.9 -2.1M633.4 330.8l-8.8 -4.3l-9.7 -2.2M649.5 333.2l-4.9 -6.4l-6.8 -2.0M669.2 344.0l-7.5 -6.6l-8.2 -11.2M680.0 341.5l-2.9 -7.5l-0.2 -10.8M699.2 339.3l3.4 -14.1l2.0 -9.2M712.8 342.4l-0.3 -7.7l5.2 -8.4M729.5 337.6l5.5 -5.7l6.9 -8.0M735.5 333.3l13.5 -0.3l9.1 -5.3M752.5 334.8l13.1 1.1l11.0 2.1M769.1 329.9l9.6 -1.6l7.0 0.7M789.4 323.9l9.5 3.5l10.0 3.7M818.0 325.5l0.3 7.6l5.8 8.7M823.3 319.5l8.9 11.5l4.4 14.1M312.0 355.6l2.8 -13.1l-2.4 -10.8M334.4 356.9l-3.8 -14.9l-1.6 -11.3M346.7 352.1l-2.2 -5.7l1.9 -9.1M371.1 363.9l-4.0 -14.1l-3.4 -9.5M393.8 358.7l-6.0 -10.5l-8.3 -13.3M502.4 345.3l-13.9 -1.2l-15.7 1.9M517.6 349.9l-13.9 -0.3l-10.1 1.1M526.8 344.6l-9.5 -1.8l-13.3 0.9M548.4 340.9l-15.9 2.9l-10.9 3.6M561.8 345.3l-9.6 -0.5l-13.5 -0.4M578.7 351.6l-14.4 1.7l-12.7 -3.9M594.3 354.3l-11.8 -4.0l-12.4 -2.7M617.5 353.0l-8.6 -3.8l-10.0 -4.8M634.5 345.7l-10.6 0.7l-15.4 -4.9M644.8 363.4l-4.2 -12.6l-8.3 -12.7M660.7 356.3l-8.1 -9.8l-8.7 -9.9M671.0 360.4l-4.0 -6.6l1.6 -11.2M688.7 357.8l2.4 -12.9l-1.4 -16.0M696.4 353.8l4.9 -9.9l9.2 -11.6M711.2 352.7l9.5 -5.2l12.0 -10.7M732.5 345.1l12.9 2.7l9.9 -0.1M741.5 348.1l11.3 -0.1l9.1 -0.2M766.0 345.2l9.5 3.4l7.2 3.2M786.1 339.1l9.7 10.3l9.0 5.1M800.6 341.9l6.8 5.2l7.8 11.0M823.2 343.8l1.5 5.0l3.1 9.1M840.6 345.8l0.9 9.1l3.8 4.6M331.6 374.5l-10.5 -9.6l-4.6 -8.8M351.2 378.1l-8.9 -10.4l-4.3 -13.7M360.8 368.3l-4.3 -8.2l-1.6 -7.1M379.2 371.4l-4.8 -8.8l-7.3 -5.5M586.9 373.2l-8.7 -5.4l-5.9 -6.8M604.7 372.8l-6.3 -11.1l-11.3 -8.3M612.9 363.8l-2.8 -6.9l-8.5 -1.7M640.3 372.6l-10.7 -12.7l-8.6 -7.6M647.5 372.5l-4.9 -15.2l-0.9 -9.5M662.6 369.7l1.5 -12.3l6.8 -8.9M674.6 381.8l5.1 -16.5l1.4 -12.4M693.9 366.3l5.7 -9.9l1.9 -4.8M708.1 363.2l8.1 -6.6l3.4 -2.1M721.4 365.5l12.1 3.7l7.2 -2.3M741.0 358.3l9.4 6.3l11.2 1.6M749.7 355.8l9.9 7.6l13.0 6.7M778.8 357.6l6.7 7.4l5.9 3.7M794.5 347.3l5.1 14.1l5.4 11.6M810.9 351.1l4.5 11.5l6.9 13.1M825.4 359.3l5.4 8.1l4.2 4.7M848.0 354.6l4.2 7.0l1.6 6.7M352.8 384.5l-7.4 -5.9l-3.7 -6.2M575.8 388.2l-11.7 -8.0l-9.9 -2.5M589.6 379.7l-5.3 -5.1l-5.3 -5.1M610.0 395.6l-4.5 -10.4l-7.8 -14.9M618.9 387.5l-2.8 -11.2l-1.7 -14.6M643.2 385.6l-2.7 -12.6l0.0 -6.6M649.5 382.8l-1.2 -8.3l3.8 -6.4M660.6 388.3l7.0 -10.6l10.6 -11.6M683.5 383.2l12.2 -10.8l7.6 -7.1M695.1 381.6l3.7 -6.0l8.5 -1.9M708.9 376.4l10.2 2.4l15.6 0.3M737.4 372.9l3.3 1.9l8.6 7.2M754.3 370.7l4.5 7.9l5.7 4.1M764.1 368.8l10.5 6.5l11.6 6.0M790.0 374.9l6.6 4.3l1.1 9.9M801.5 375.4l4.4 9.4l3.7 6.0M813.6 375.6l4.7 10.2l8.9 4.6M838.8 370.8l6.6 7.3l3.4 7.5M858.4 368.0l5.6 12.2l1.1 10.4M570.6 399.4l-6.5 -2.6l-5.3 -5.1M584.6 401.3l-4.3 -6.7l-7.4 -9.9M603.4 396.3l-1.4 -6.2l-5.5 -7.5M607.8 407.5l3.1 -8.7l0.5 -13.8M625.0 405.4l4.5 -10.9l5.1 -7.8M637.0 402.9l5.6 -9.6l10.4 -10.4M655.7 398.2l5.0 -6.7l8.8 -7.9M670.9 394.6l8.1 -2.8l7.3 -5.8M685.5 390.8l11.1 -0.6l13.5 -2.9M705.2 398.1l8.7 1.4l10.5 -0.8M720.6 389.8l6.8 2.0l5.9 6.1M738.3 387.0l11.7 1.7l9.3 6.5M765.4 383.0l3.3 4.5l3.9 8.3M772.2 383.3l5.3 6.3l5.9 9.6M792.2 384.7l4.4 3.3l8.6 9.0M808.2 380.3l4.3 11.6l9.0 8.4M832.2 387.6l3.9 6.1l6.1 10.8M841.8 384.7l10.5 9.4l4.9 13.0M858.1 381.9l12.1 9.6l8.7 5.3M509.7 414.8l-5.0 -5.4l-5.8 -5.2M524.9 420.5l-9.7 -5.1l-12.9 -10.5M541.5 410.2l-5.4 -8.2l-10.4 -2.8M559.5 421.2l-8.9 -11.4l-3.3 -14.1M573.1 414.9l-3.6 -12.7l-2.1 -7.1M583.3 422.2l0.9 -15.0l-3.5 -11.4M602.1 417.7l4.7 -11.3l0.0 -7.4M614.3 420.8l8.2 -9.3l2.4 -7.4M632.1 416.2l7.9 -5.2l12.2 -9.0M645.8 416.2l10.1 -6.7l5.0 -11.6M665.5 415.5l6.8 0.2l7.5 -3.8M678.3 406.4l12.0 4.0l12.4 2.5M690.2 403.4l13.5 3.9l10.5 2.6M709.8 408.3l13.2 5.7l14.6 0.7M733.1 403.1l7.2 2.9l8.4 8.1M745.5 399.8l5.3 5.1l7.5 11.0M771.2 398.3l5.9 9.7l6.0 8.8M786.6 393.1l2.7 13.6l7.8 14.4M796.8 402.6l3.4 6.2l9.3 7.1M821.8 400.5l6.1 12.3l2.4 7.8M834.7 397.1l2.8 13.0l7.8 7.7M484.6 425.2l-6.4 -4.8l-10.4 -4.8M501.7 426.6l-2.8 -9.1l-8.2 -4.8M516.5 433.6l-7.4 -5.0l-8.6 -6.8M533.7 438.5l-4.3 -6.5l-0.6 -12.2M548.0 428.8l-3.4 -7.0l-6.9 -5.4M559.2 436.2l-0.4 -7.1l-0.6 -10.0M574.6 440.5l5.0 -13.5l-0.9 -11.2M598.0 434.4l-0.4 -11.0l0.7 -11.2M612.0 437.0l5.6 -10.9l4.3 -10.3M619.6 437.5l6.1 -8.1l4.6 -11.5M637.2 428.2l8.5 -9.1l5.0 -5.6M657.2 423.6l6.7 -0.4l11.4 0.4M671.0 426.1l7.7 -1.3l8.0 -0.9M691.2 420.9l10.6 2.1l8.7 7.7M702.9 424.5l9.8 5.4l8.4 1.0M717.4 419.1l12.9 4.7l11.6 6.9M742.1 412.7l5.1 11.7l7.0 6.5M757.4 411.6l8.1 7.5l12.8 11.2M769.8 420.7l7.5 4.6l13.3 9.6M796.1 416.1l3.0 4.8l7.7 9.4M812.4 421.0l8.6 7.2l2.8 6.3M821.5 421.0l8.9 9.2l12.3 7.3M454.4 446.2l-6.3 -5.6l-4.7 -9.5M475.7 448.9l-9.2 -12.4l-5.0 -13.0M491.0 448.2l-2.8 -11.1l-7.8 -6.3M505.2 446.1l-7.0 -10.2l-9.0 -4.3M519.0 445.1l0.4 -5.1l-4.0 -8.5M533.6 453.4l-1.3 -12.8l3.3 -13.3M550.5 454.2l-3.9 -7.7l-0.1 -13.6M564.8 443.1l1.0 -9.4l6.0 -7.4M575.8 453.7l7.6 -13.2l4.3 -12.7M601.0 445.0l4.4 -1.2l7.6 -5.9M609.6 446.3l8.3 -11.2l10.2 -8.2M627.8 444.0l9.3 -4.9l14.2 1.1M647.4 439.9l13.7 0.1l9.5 2.4M659.7 437.4l7.4 2.0l7.2 0.7M685.0 436.8l6.6 3.7l5.6 3.8M695.8 434.1l12.0 3.2l11.7 2.2M712.9 427.8l8.3 8.9l9.6 9.0M725.7 433.3l9.3 4.1l9.4 8.5M753.5 435.7l7.0 7.6l7.0 1.8M768.3 433.9l6.5 5.5l9.3 8.7M785.0 428.5l7.1 9.5l5.3 9.9M800.4 434.4l7.7 6.0l4.8 8.2M812.0 434.3l11.8 8.3l6.2 5.6M834.7 433.0l9.3 -0.1l12.7 4.9M450.2 469.6l-1.6 -12.3l-5.9 -11.5M467.4 460.6l-8.2 -6.4l-2.7 -7.2M481.8 464.7l-7.7 -7.1l-5.1 -11.3M497.7 457.3l-2.1 -6.3l-7.3 -6.6M510.3 465.5l1.8 -9.2l-1.1 -8.5M530.4 473.0l3.6 -17.0l-0.9 -12.8M543.0 469.4l4.0 -12.2l4.5 -7.8M556.8 466.6l2.1 -8.5l3.8 -9.2M570.9 464.6l4.7 -12.4l10.6 -12.5M582.5 468.1l9.4 -11.7l7.3 -6.9M597.8 465.4l12.5 -7.9l13.1 -3.8M621.8 451.0l9.9 -2.0l14.2 2.2M636.2 453.2l7.6 -1.5l11.6 2.4M656.2 449.1l11.3 5.5l6.5 2.3M670.0 457.5l6.0 0.5l10.4 -0.0M693.8 450.9l7.6 5.5l6.2 4.1M705.3 443.5l9.7 11.3l9.4 10.6M719.0 448.2l5.4 10.1l11.0 11.2M738.8 446.7l11.2 6.3l7.8 11.1M757.2 452.6l6.6 7.1l1.7 5.1M772.4 444.7l8.2 8.8l7.4 11.3M786.0 451.2l11.4 1.4l17.0 5.7M803.1 453.8l17.1 3.3l11.8 1.6M816.6 444.6l15.4 5.2l10.7 6.4M839.0 450.3l11.4 -1.9l7.9 2.7M439.1 484.7l-4.6 -8.8l-7.2 -13.5M449.3 486.2l-2.3 -10.9l-3.1 -12.5M469.2 482.9l2.6 -13.8l-0.5 -8.8M488.1 479.7l3.4 -5.1l-1.7 -11.0M500.9 483.5l-0.6 -12.6l-2.7 -14.2M514.0 479.3l6.9 -4.5l1.5 -10.4M526.9 480.1l4.7 -11.6l9.4 -7.9M549.4 482.9l8.9 -12.5l5.3 -7.4M557.6 478.7l7.4 -6.0l9.2 -3.4M572.9 477.8l12.0 -3.6l10.3 -8.8M595.0 477.6l12.5 -3.9l9.0 -7.5M607.3 477.6l13.2 -3.6l13.5 -7.5M629.9 471.6l7.2 -5.4l8.3 -0.5M650.3 463.7l8.4 3.0l7.7 3.3M664.5 465.5l8.2 -0.9l8.2 1.9M676.1 466.3l6.3 7.9l11.5 6.5M703.2 464.0l4.9 3.0l8.0 5.2M706.2 460.6l10.4 8.3l15.8 5.8M733.0 464.8l8.5 4.3l3.9 7.9M746.8 467.4l6.4 7.3l4.6 2.0M763.4 461.9l7.5 5.4l8.8 2.2M776.2 463.4l15.6 2.3l11.1 3.2M794.6 472.3l5.4 -1.3l11.2 3.5M819.8 463.4l6.5 3.6l12.0 -0.1M837.3 472.9l5.4 -7.0l11.1 -1.0M844.4 474.1l10.9 0.5l11.9 -4.2M410.0 488.8l-0.2 -4.2l-4.9 -8.9M431.6 501.3l-7.5 -9.4l-1.7 -13.9M443.7 497.0l-1.2 -8.5l1.7 -8.5M460.5 490.3l4.1 -5.8l-1.3 -10.0M477.0 497.4l4.0 -6.8l3.5 -8.0M492.4 495.4l6.9 -10.7l3.8 -5.6M511.9 492.1l1.1 -9.2l4.9 -4.0M519.6 494.1l3.3 -5.9l2.5 -7.6M540.8 496.4l5.8 -10.2l10.4 -10.0M549.5 487.9l6.1 -4.7l9.9 -5.1M565.8 491.7l10.4 -4.5l8.8 -0.2M589.8 489.9l10.5 -1.8l7.5 -5.6M602.7 488.8l15.3 -3.6l11.4 -0.4M618.5 485.9l10.8 2.5l14.3 -3.0M630.7 489.4l14.5 -1.8l13.5 -0.2M653.7 489.2l13.1 0.6l12.4 -1.6M665.0 480.3l14.6 1.8l13.2 7.7M688.8 480.7l4.7 2.5l9.7 2.6M706.4 482.9l12.8 2.1l10.9 4.4M722.5 485.0l10.2 5.0l9.3 0.5M733.3 482.2l11.1 8.2l10.0 2.5M755.0 488.1l15.8 0.8l12.1 1.2M770.9 479.4l11.1 2.9l12.1 4.6M788.1 486.0l9.0 -0.3l8.5 5.7M807.2 486.5l4.9 1.7l10.0 -2.4M827.0 488.6l9.9 -2.5l5.5 -5.6M844.8 487.4l8.6 -7.3l8.6 -2.5M369.8 517.1l-0.8 -11.0l-2.4 -12.4M386.9 514.4l-2.1 -14.1l-7.6 -12.3M406.6 513.4l-4.5 -10.7l-5.9 -15.5M414.1 515.8l-2.7 -16.3l-0.4 -13.2M430.4 507.7l1.6 -13.4l7.1 -8.9M448.8 504.7l0.9 -11.0l3.2 -6.1M460.3 510.2l2.8 -6.0l5.4 -8.9M482.0 508.5l6.5 -6.5l8.1 -9.5M493.4 504.4l5.9 -5.2l4.5 -7.9M510.0 505.9l14.2 -9.8l9.7 -4.7M525.3 508.3l10.4 -5.4l12.3 -10.2M547.7 506.8l8.6 -11.5l7.8 -5.9M557.0 503.1l11.1 -4.9l11.1 0.7M574.6 502.7l9.6 -4.0l5.7 0.7M589.7 507.3l15.5 -7.1l11.4 -2.4M615.5 500.4l9.7 -1.8l4.5 2.4M629.1 500.5l10.6 3.4l12.1 2.2M640.4 502.7l12.4 2.2l16.8 -0.3M663.5 503.4l6.8 -1.3l11.6 3.6M677.7 492.6l12.6 4.9l9.1 6.6M697.8 501.8l8.9 1.6l14.6 0.5M710.5 501.9l14.6 1.4l9.3 1.6M736.5 497.5l7.6 4.4l4.3 3.4M745.3 491.9l8.7 5.0l6.4 4.8M765.7 495.7l15.0 7.1l9.1 2.5M778.4 501.8l13.3 -1.7l15.0 -2.6M795.2 506.3l7.5 0.3l11.4 -3.3M816.4 500.8l7.8 -3.0l7.3 0.6M828.5 507.4l9.7 -9.9l6.8 -5.5M360.9 524.6l-0.2 -11.1l-2.5 -8.1M372.1 525.5l-4.5 -5.7l-0.1 -10.0M395.1 528.2l1.5 -7.4l-1.6 -7.3M403.3 531.7l10.1 -8.6l7.5 -13.2M421.3 524.5l5.1 -7.3l8.5 -11.1M438.7 526.3l4.7 -7.0l0.1 -8.7M456.9 530.9l8.4 -10.3l3.7 -11.7M467.2 525.5l13.6 -8.6l11.3 -6.5M481.8 527.5l4.7 -9.4l8.0 -13.5M499.3 523.0l7.2 -6.1l8.0 -6.6M514.7 515.2l7.0 -3.6l9.7 -2.8M536.4 528.4l12.8 -9.3l7.1 -7.1M559.0 522.0l8.4 -1.5l4.9 -5.8M569.8 517.4l12.2 -4.2l7.4 -5.4M585.5 523.7l12.0 -4.5l8.7 -3.7M603.0 514.1l12.9 -4.5l9.6 0.8M612.3 512.1l14.9 3.3l9.0 3.5M636.8 510.5l12.0 2.5l14.6 -0.5M649.4 514.6l8.9 1.7l12.9 4.5M671.9 520.9l9.5 -3.7l6.4 1.7M687.4 511.3l12.2 4.1l10.1 1.2M707.5 519.9l10.2 -2.1l12.7 1.3M723.8 512.6l8.1 1.1l14.0 1.9M741.2 511.0l10.4 6.2l8.4 0.7M749.9 520.6l15.9 -3.2l10.3 -6.3M777.4 519.0l6.9 -0.5l9.3 -3.7M794.1 517.5l7.4 -4.0l10.6 -8.0M806.9 523.5l12.9 -12.7l8.1 -7.6M826.1 524.9l10.6 -9.3l9.2 -12.7M842.5 523.9l2.3 -9.6l4.9 -8.2M346.3 539.6l-2.2 -9.1l1.7 -13.0M356.8 547.0l6.4 -16.3l6.4 -10.4M386.0 536.5l-1.0 -11.6l3.8 -8.1M396.6 538.7l2.2 -8.4l5.8 -8.4M412.8 546.3l2.8 -12.4l8.0 -8.4M426.5 536.7l6.8 -9.2l12.7 -6.2M444.8 534.2l7.9 -1.7l7.5 -7.7M459.4 538.2l6.6 -4.1l9.2 -3.0M474.0 530.5l8.0 -6.1l8.4 -1.0M492.3 532.5l7.4 -5.6l9.2 -4.1M506.7 533.5l8.8 -0.8l8.4 -3.3M522.4 535.3l8.4 -1.6l14.2 -2.4M535.8 537.4l15.2 -3.5l13.8 0.9M552.5 543.1l13.0 -10.1l12.6 -4.9M577.2 527.4l14.9 -0.6l11.7 1.3M590.8 529.0l14.5 -0.2l14.3 -1.3M601.5 532.3l12.9 0.0l15.4 -4.6M627.0 532.6l13.6 5.1l12.9 2.0M642.8 530.6l10.4 3.0l9.6 1.0M660.4 528.6l6.8 2.8l11.0 2.1M682.5 523.8l8.7 2.8l12.8 5.3M689.3 526.7l15.2 2.7l13.1 6.1M711.6 522.8l14.2 7.2l13.4 1.5M722.1 530.5l14.3 -0.5l13.1 -0.6M742.1 531.7l13.5 -2.1l8.3 0.8M763.7 536.7l6.5 -0.3l11.7 -4.7M776.5 539.4l7.8 -8.1l12.1 -7.2M795.4 535.2l10.9 -4.2l6.9 -3.9M813.5 543.3l6.0 -10.9l9.9 -12.2M832.0 539.7l8.7 -8.7l4.2 -10.3M339.8 558.5l1.2 -5.3l4.5 -9.7M351.4 549.9l1.5 -9.2l6.0 -4.5M366.8 552.9l5.4 -5.6l5.5 -7.8M382.9 560.4l7.2 -10.5l7.2 -15.0M403.3 551.2l7.8 -1.4l3.9 -6.9M418.4 557.4l7.7 -9.1l10.3 -11.2M435.2 552.4l6.5 -5.8l5.8 -2.4M450.4 551.5l6.8 -2.2l10.9 -7.3M462.9 555.8l10.3 -5.6l6.6 -3.5M483.4 546.4l9.5 -1.1l13.7 -5.0M508.4 549.0l5.6 -4.7l5.0 -4.7M515.9 548.0l9.4 -3.4l8.2 1.7M531.3 552.3l10.3 -2.4l10.3 -5.3M553.7 553.1l9.5 -0.2l8.0 -5.2M570.4 550.9l6.2 -6.2l9.5 -3.1M586.5 541.1l8.8 -0.4l6.9 1.8M605.1 551.1l10.9 -4.2l12.5 -4.2M619.3 551.2l6.7 -2.2l11.0 -0.5M632.9 541.9l14.8 0.1l9.7 -0.5M653.1 546.9l10.6 2.3l5.2 0.1M667.6 545.6l12.5 -2.9l17.2 -1.1M690.4 549.5l7.2 -2.6l10.3 1.2M706.7 551.7l10.8 -4.8l8.1 -0.8M725.9 549.6l8.4 -2.9l11.8 0.9M737.9 545.0l11.6 0.0l17.4 -4.3M761.0 553.3l7.4 -2.8l8.3 -4.9M765.2 548.8l12.7 -6.5l13.0 -2.3M791.8 554.5l5.0 -7.2l9.8 -3.4M813.6 560.7l3.9 -12.4l8.7 -7.9M825.9 550.0l1.0 -6.0l6.5 -10.3M332.6 565.7l-0.5 -7.4l2.5 -9.3M344.9 574.9l3.6 -13.3l8.6 -8.2M352.9 565.7l7.7 -4.0l8.0 -9.5M376.9 573.7l11.2 -8.6l6.5 -6.7M387.6 569.5l10.0 -7.1l6.7 -12.6M402.4 568.7l12.7 -6.3l10.2 -7.6M420.5 564.4l7.3 0.6l11.2 -4.6M439.2 561.6l11.1 -4.4l11.1 -4.4M455.6 560.0l9.0 0.6l11.7 -4.8M471.5 565.4l7.7 -6.6l13.3 -3.8M491.6 567.1l6.8 -1.8l7.7 -3.6M502.3 565.0l10.7 -5.5l15.5 -8.7M518.1 561.6l14.5 -2.0l12.8 -2.5M540.9 563.4l4.9 -3.1l10.4 -3.1M553.5 562.5l10.6 -3.4l12.1 -1.4M579.4 566.9l4.4 -4.4l10.4 -5.0M594.1 560.6l10.4 -0.6l6.1 -5.1M612.8 564.0l12.3 -2.3l8.1 -2.5M623.7 566.5l9.8 -9.6l15.1 -4.9M643.1 558.6l16.7 3.3l11.5 -2.1M657.2 560.1l13.1 -0.9l7.8 -4.7M681.9 565.9l11.6 -6.1l10.2 -4.0M703.1 570.0l4.1 -7.6l8.7 -2.9M712.5 565.8l14.9 -0.9l12.0 -3.5M731.3 562.3l10.6 -4.3l11.1 -0.6M747.8 566.5l9.4 -4.8l7.7 -6.7M769.4 575.7l5.2 -12.7l10.0 -10.2M787.5 563.0l2.9 -3.8l8.7 -8.0M805.3 573.1l8.6 -11.0l4.8 -9.2M821.1 572.2l3.8 -12.6l6.6 -13.9M838.4 565.7l-2.8 -7.0l2.0 -8.8M329.1 585.5l7.4 -7.0l10.1 -7.9M343.9 581.3l9.5 -5.6l10.8 -10.8M364.4 579.6l9.4 -7.1l13.9 -2.0M380.5 576.7l9.7 -5.8l7.2 -1.2M398.6 579.8l4.7 -7.7l8.7 -3.4M420.8 583.1l8.7 -6.8l8.6 -0.9M428.6 582.9l10.5 -5.2l10.3 -5.8M442.9 586.4l14.3 -7.4l10.6 -5.9M462.0 580.5l8.1 -6.4l13.2 -8.4M483.3 584.5l8.3 0.1l9.1 -5.3M501.3 584.2l10.5 -6.2l15.6 -3.7M509.7 579.8l14.3 -3.2l11.1 -8.6M530.3 579.2l11.6 -4.0l13.0 -4.7M556.0 578.5l7.6 -3.3l8.3 -3.1M568.7 579.1l9.4 -3.8l6.0 -1.8M587.8 581.1l8.8 -2.0l10.1 -7.4M607.4 575.4l10.0 -3.4l7.3 0.2M623.9 584.7l6.4 -5.2l6.3 -2.2M638.8 584.0l8.1 -3.6l6.0 -0.9M645.7 578.0l12.4 -1.2l17.0 -2.6M668.2 584.1l15.5 -2.2l10.2 -7.8M689.9 585.6l12.0 -9.7l10.9 -8.6M706.2 581.5l9.6 -4.7l9.8 -1.1M727.2 587.4l9.1 -11.3l4.0 -5.3M745.5 585.5l6.8 -2.1l4.9 -7.8M757.0 586.3l7.5 -9.6l11.4 -8.1M778.3 591.0l8.5 -13.5l6.5 -10.0M792.1 587.2l8.7 -8.0l6.0 -11.5M814.0 591.7l2.9 -9.2l3.6 -11.3M827.0 593.6l0.6 -16.0l1.6 -11.3M357.7 596.6l9.7 -7.4l7.2 -6.4M366.9 593.3l10.5 -1.3l16.1 -0.5M395.3 589.6l9.4 -1.6l8.3 0.7M401.5 593.6l17.1 3.3l11.8 -1.7M423.2 595.3l16.5 -4.4l11.6 -6.1M439.5 601.8l9.0 -8.1l12.4 -3.4M455.8 595.3l10.6 -0.5l14.5 -4.2M476.3 597.5l10.1 -7.6l14.3 -2.2M488.7 605.5l7.8 -10.2l10.3 -5.9M504.1 594.6l14.7 -3.2l9.0 -1.7M525.9 599.0l13.8 -5.0l10.3 -1.2M542.5 594.4l15.2 -1.5l12.0 -6.9M566.3 601.2l5.2 -8.2l4.1 -2.4M580.3 597.2l3.6 -2.0l9.5 -5.1M596.1 608.1l7.9 -9.0l11.4 -12.8M604.6 604.6l12.8 -6.6l10.7 -7.5M626.0 604.8l11.1 -9.9l8.0 -13.0M645.1 594.0l8.2 -6.0l12.7 -5.3M664.5 601.0l5.4 -7.5l10.5 -6.7M679.6 597.7l10.7 -3.3l8.8 -8.0M693.6 597.3l7.0 -4.5l10.2 -3.6M715.7 596.5l7.4 -7.5l6.4 -4.2M727.0 601.5l5.5 -3.6l10.9 -7.2M747.2 605.2l10.6 -11.8l7.5 -10.8M766.1 603.3l1.0 -7.4l5.0 -10.4M785.7 608.4l6.0 -12.8l8.7 -12.4M807.4 604.2l2.5 -7.9l3.4 -12.2M826.6 596.8l1.0 -6.0l-3.8 -10.7M397.3 611.0l10.5 0.7l16.4 -3.2M407.7 610.7l12.2 -0.5l15.9 -0.6M432.5 609.3l15.0 -3.0l12.7 -3.4M446.9 621.0l12.5 -7.2l11.6 -9.4M469.2 617.5l9.2 -8.7l9.4 -7.2M487.5 612.2l6.3 -3.2l5.6 -6.7M503.6 607.6l2.9 -7.5l8.8 -1.7M520.8 614.0l8.2 -6.0l10.6 -8.7M539.8 616.1l2.9 -6.0l5.6 -7.0M553.9 620.1l7.4 -9.7l6.7 -13.0M567.1 619.0l7.6 -9.6l8.8 -9.2M582.2 617.1l8.6 -7.1l13.2 -6.2M610.0 612.8l7.8 -3.7l2.8 -6.5M623.1 613.8l8.1 -9.6l6.0 -4.2M641.8 617.1l5.6 -8.5l9.1 -2.9M649.0 618.3l11.2 -7.0l14.8 -7.9M676.4 619.6l3.9 -9.0l5.7 -4.9M686.3 610.4l9.5 -7.8l5.3 -4.2M712.1 619.5l3.9 -8.5l6.8 -8.7M721.6 611.7l7.0 -5.4l4.9 -7.8M739.6 617.9l9.6 -9.1l4.2 -14.3M765.9 617.3l3.7 -7.8l0.4 -6.2M778.0 619.4l-1.3 -10.6l2.4 -6.5M798.3 624.1l0.3 -14.8l3.3 -12.4M817.0 617.6l-0.2 -8.6l-4.2 -5.9M407.1 622.9l10.9 -0.2l7.5 -1.5M419.7 624.8l11.5 -5.7l13.8 -6.0M442.5 631.0l12.9 -10.7l10.8 -7.5M466.3 624.6l9.1 -5.4l3.1 -4.5M483.2 624.1l4.7 -2.9l6.4 -6.0M488.5 630.6l13.9 -10.0l9.5 -8.7M509.1 628.8l13.2 -4.1l11.0 -9.5M525.1 635.1l7.7 -13.2l6.0 -8.7M546.5 623.7l5.6 -1.4l7.1 -6.7M564.3 626.9l12.1 -8.3l7.0 -7.0M580.2 633.2l5.7 -5.7l4.6 -11.1M596.6 629.6l3.7 -7.9l9.0 -1.9M607.2 630.8l5.9 -9.0l11.1 -4.8M635.9 634.5l7.5 -10.3l4.7 -8.8M641.5 632.9l8.3 -10.1l12.4 -7.6M666.7 631.3l4.6 -3.7l7.1 -7.1M685.1 627.7l5.0 -10.9l3.0 -5.9M701.8 638.7l5.5 -11.6l8.8 -12.7M713.7 632.5l8.0 -6.4l9.5 -9.0M737.8 627.5l4.4 -6.1l7.0 -7.8M754.5 635.9l-0.1 -15.3l5.8 -13.2M772.3 635.5l0.6 -9.5l5.5 -12.4M794.5 632.8l0.8 -14.7l-3.2 -12.6M806.9 634.2l1.1 -10.9l4.1 -11.9M826.7 632.2l-3.6 -9.4l-2.3 -13.2M399.4 637.7l14.1 -2.4l9.4 -2.4M412.3 642.2l6.1 -3.9l11.4 -0.2M431.2 643.2l14.1 -3.7l8.3 -7.8M454.5 652.5l9.9 -10.2l8.7 -13.1M467.6 646.9l8.5 -10.0l13.4 -6.6M490.4 652.8l9.9 -13.7l5.1 -8.0M503.6 646.7l6.3 -10.0l6.1 -11.3M518.8 655.0l7.0 -13.6l3.6 -10.8M536.6 653.0l9.0 -8.1l9.8 -13.2M556.6 647.7l4.2 -7.9l0.3 -6.2M565.8 654.5l7.3 -10.9l8.6 -12.0M586.2 645.7l5.4 -5.3l4.9 -10.7M608.8 646.0l7.8 -7.8l5.7 -5.7M628.9 650.1l2.5 -10.2l3.4 -6.7M641.3 654.5l1.3 -14.0l5.9 -10.4M657.7 644.3l9.1 -6.9l9.2 -12.5M669.1 641.8l7.4 -7.7l8.6 -7.9M697.2 641.9l3.3 -9.7l0.4 -4.3M712.7 645.9l2.5 -3.1l7.0 -7.4M721.9 652.5l7.8 -13.2l5.1 -10.9M748.2 641.3l3.8 -8.6l-0.8 -6.6M756.7 652.5l3.7 -13.1l9.0 -12.4M777.9 655.1l2.2 -11.5l2.7 -16.4M796.0 650.0l1.0 -14.2l3.2 -12.3M819.3 650.4l1.1 -6.9l-4.1 -12.8M412.9 656.0l8.1 -2.8l7.8 -5.3M426.4 660.1l10.1 -2.4l4.7 -2.1M437.6 666.8l9.9 -12.4l9.3 -10.5M458.9 665.2l10.0 -6.5l8.0 -11.0M482.3 660.6l6.0 -8.3l6.9 -6.6M495.8 658.3l1.1 -9.7l4.6 -7.5M519.0 661.7l1.5 -4.9l6.1 -10.7M536.7 661.5l1.6 -8.9l3.0 -13.1M545.8 659.5l4.7 -9.9l7.4 -10.4M564.2 663.1l0.8 -12.0l1.5 -8.6M580.2 664.1l1.4 -9.6l7.3 -11.1M593.4 655.7l3.4 -7.4l7.6 -6.0M620.1 667.9l2.4 -11.1l5.3 -14.0M630.4 663.9l2.7 -5.9l5.5 -10.9M648.7 663.6l3.0 -6.7l4.3 -9.3M665.0 662.0l5.8 -6.2l2.1 -7.0M682.8 662.9l4.8 -5.7l4.2 -5.8M700.1 668.9l9.6 -10.5l10.0 -10.2M719.3 668.8l8.1 -11.9l2.3 -15.8M739.3 667.7l3.6 -12.8l2.1 -10.4M750.4 663.9l3.3 -10.5l8.3 -9.8M768.4 667.3l3.1 -12.3l-2.5 -15.4M787.1 657.7l4.5 -8.1l-0.9 -7.9M805.4 661.9l-0.1 -6.8l3.5 -11.0M435.6 672.5l8.5 -6.7l13.8 -5.8M457.3 673.7l7.2 -4.2l2.7 -9.2M468.2 678.8l8.9 -10.1l6.7 -13.8M488.9 687.3l0.7 -16.2l1.4 -10.7M510.9 684.5l2.9 -16.2l-0.2 -10.6M526.3 682.8l5.0 -10.5l-0.7 -13.9M543.6 673.0l2.5 -9.8l6.7 -5.7M556.2 679.9l4.2 -14.4l8.8 -10.6M566.3 675.3l4.5 -11.3l9.7 -10.0M593.7 673.1l6.5 -6.3l0.6 -7.2M609.5 675.4l9.0 -8.3l4.7 -13.2M623.1 686.6l3.5 -15.0l7.4 -10.6M637.7 681.2l4.3 -9.1l5.4 -5.8M657.1 677.2l4.6 -8.6l-1.2 -10.1M672.8 684.3l4.9 -9.3l9.7 -12.0M690.9 686.2l5.3 -14.9l8.4 -9.3M707.8 675.3l2.1 -10.6l2.1 -11.2M727.2 681.5l8.8 -13.3l6.3 -8.0M745.3 682.6l4.1 -12.4l3.6 -13.1M761.6 679.6l5.8 -8.5l4.4 -13.4M786.8 678.6l0.8 -8.8l-2.7 -8.8M800.0 679.6l2.5 -11.2l1.3 -16.2M822.5 678.5l-4.9 -12.1l-5.4 -14.6M426.3 692.1l4.9 -7.9l9.3 -7.5M444.4 693.8l4.8 -6.9l1.8 -6.2M469.2 695.9l-0.8 -7.8l4.6 -9.2M483.2 693.0l5.6 -10.9l2.0 -5.2M497.8 695.0l5.1 -10.8l-0.5 -9.7M514.9 695.9l3.3 -7.3l-0.6 -10.2M536.7 702.1l1.3 -11.0l-1.7 -14.7M556.7 694.1l2.4 -10.7l-3.5 -8.4M568.7 690.2l2.2 -6.1l0.3 -8.7M585.6 692.8l-3.9 -14.5l1.8 -10.1M606.0 698.0l0.5 -11.5l-0.0 -7.8M610.6 698.4l4.4 -13.9l10.0 -10.0M633.8 696.1l-0.4 -9.9l4.9 -12.6M648.9 695.4l1.2 -5.6l2.0 -9.8M663.5 701.3l6.6 -12.5l1.7 -15.8M685.4 687.9l5.9 -9.8l0.0 -4.8M703.2 696.0l1.3 -6.7l3.1 -12.4M720.9 697.5l5.7 -6.0l7.2 -11.2M735.8 699.0l3.4 -12.5l2.7 -10.4M752.4 693.7l5.0 -6.9l-0.6 -9.5M771.3 692.9l5.4 -10.1l-0.2 -13.4M794.6 692.5l-1.9 -8.6l3.4 -8.5M810.6 698.4l3.0 -12.2l0.5 -13.7M826.6 695.8l-1.1 -6.0l-4.1 -9.9M432.4 713.5l7.3 -11.2l8.9 -13.1M465.5 714.0l-4.5 -8.7l1.0 -11.2M478.1 706.0l-1.1 -7.3l1.6 -7.6M493.8 715.8l-0.3 -10.4l0.6 -15.8M511.6 703.7l0.5 -8.6l3.3 -9.1M523.0 708.1l0.6 -14.7l1.4 -8.9M541.8 709.2l-2.1 -7.2l-2.9 -8.3M562.7 706.5l0.2 -5.1l1.8 -10.1M572.3 711.3l3.7 -11.9l2.0 -7.4M595.0 710.8l4.7 -8.9l0.3 -7.4M610.5 717.7l7.5 -12.0l3.0 -14.6M624.9 711.4l2.2 -8.7l-1.8 -6.2M642.2 713.9l3.5 -11.9l4.7 -7.7M659.4 711.4l5.8 -6.0l7.9 -9.4M682.7 708.6l3.2 -8.4l1.1 -6.9M684.9 708.5l6.4 -12.3l12.2 -6.4M711.3 706.6l7.0 -9.7l3.7 -11.3M727.5 707.9l7.2 -9.9l5.4 -5.4M751.1 707.9l3.3 -10.8l-0.1 -9.1M768.5 706.1l1.9 -8.3l-1.7 -7.1M781.0 718.3l-2.3 -16.0l1.6 -11.9M806.3 706.3l-2.9 -12.3l-3.4 -10.8M824.2 710.3l-0.3 -16.4l-6.0 -10.6M447.9 724.7l3.0 -11.8l-2.8 -7.5M468.2 722.1l-1.1 -11.2l-2.0 -9.0M480.4 726.2l-0.1 -8.9l-0.6 -8.4M505.4 725.9l-4.5 -12.0l-4.0 -7.3M524.4 723.3l-3.6 -12.0l-1.3 -8.7M531.5 731.6l0.2 -13.5l3.5 -14.2M545.4 726.0l2.2 -12.1l4.9 -16.3M564.0 720.2l0.1 -9.9l1.5 -8.7M591.7 727.4l0.9 -8.8l-3.0 -9.7M600.1 722.5l3.1 -7.1l4.0 -6.9M616.2 720.3l-0.2 -8.6l1.4 -7.6M632.8 729.0l5.4 -9.6l0.4 -14.4M652.7 724.9l4.1 -13.3l0.4 -14.9M666.4 726.5l5.1 -13.6l0.3 -8.0M682.1 721.4l3.9 -4.9l2.5 -8.2M703.3 729.7l1.8 -11.5l7.7 -10.0M718.9 726.4l3.8 -11.8l6.1 -11.4M741.6 731.3l1.0 -12.9l2.8 -16.2M750.6 724.8l4.9 -10.3l3.8 -7.5M766.1 723.5l4.2 -3.8l2.8 -8.8M784.6 724.4l4.0 -13.5l4.7 -13.6M495.2 740.7l-4.7 -13.0l-1.2 -13.6M508.4 741.2l-1.8 -11.6l2.7 -16.7M531.5 740.3l0.2 -9.6l-2.4 -10.0M540.3 736.7l-1.8 -8.6l1.3 -13.2M556.6 733.5l0.3 -9.4l1.0 -6.8M580.9 743.6l-3.9 -12.5l0.4 -13.9M593.2 734.3l6.4 -5.3l2.8 -10.7M603.8 744.9l7.5 -13.9l2.1 -8.1M622.5 733.6l3.2 -8.7l1.8 -7.3M644.4 731.6l4.7 -6.8l3.6 -4.9M658.0 742.9l2.6 -17.0l5.1 -11.0M668.7 743.5l10.8 -7.6l9.8 -11.0M690.3 737.8l5.5 -12.8l3.6 -8.3M701.1 745.7l7.4 -11.6l9.4 -11.7M723.7 739.0l3.3 -3.7l8.5 -8.7M743.0 737.9l5.9 -8.0l5.4 -10.9M480.6 756.7l-3.3 -13.0l2.0 -7.2M504.8 749.1l-2.7 -9.6l-2.7 -5.6M521.9 752.7l1.8 -4.7l-0.9 -10.4M539.5 756.9l0.1 -15.0l2.1 -12.6M551.7 754.9l1.9 -11.4l-2.1 -16.6M567.2 755.3l5.4 -7.2l-0.5 -10.2M583.3 760.9l3.8 -9.1l7.4 -12.3M597.2 753.2l7.9 -6.4l3.4 -10.9M619.8 754.1l4.2 -13.5l-0.3 -9.2M632.3 757.3l7.6 -11.7l4.1 -7.9M647.0 754.2l0.3 -7.4l5.7 -7.0M664.9 747.7l7.8 -5.3l4.0 -7.1M680.3 751.8l2.9 -6.5l8.4 -5.3M694.1 754.4l5.2 -7.8l8.3 -3.3M494.1 769.5l-1.0 -13.9l-1.4 -13.1M516.2 779.1l-2.8 -16.5l-3.8 -10.9M528.1 765.6l-2.9 -8.6l-2.7 -9.0M545.6 775.6l-1.3 -11.7l0.2 -8.9M560.1 774.0l0.2 -9.6l3.2 -14.8M577.8 775.2l6.2 -10.9l3.7 -10.3M588.3 777.7l5.1 -11.7l0.6 -14.5M608.1 778.3l4.0 -16.2l2.8 -12.1M626.0 770.9l3.5 -10.3l5.8 -10.4M637.9 768.3l9.2 -13.6l5.4 -9.4M659.0 771.4l5.3 -8.0l8.6 -7.2M488.7 790.2l0.4 -6.8l-2.1 -12.3M509.6 793.9l-4.1 -11.3l-7.5 -14.6M517.8 782.5l1.7 -6.7l-1.6 -12.3M539.5 792.0l-1.7 -14.4l-1.7 -11.3M550.2 783.5l0.5 -5.0l-3.5 -8.8M564.6 786.1l3.0 -13.5l2.6 -8.6M584.3 789.4l4.9 -8.2l0.2 -10.0M600.1 780.5l1.9 -10.3l3.7 -5.6M607.9 789.4l7.4 -6.8l11.3 -9.8M496.0 795.7l0.1 -6.4l-5.1 -10.0M514.8 802.8l-5.0 -9.6l-2.2 -5.4M523.3 806.9l-0.2 -9.3l3.9 -11.6M541.1 800.7l2.5 -11.4l-1.8 -5.5M558.4 799.8l5.0 -10.8l5.9 -14.4M577.9 802.3l6.4 -11.0l2.9 -11.1M515.8 818.6l2.1 -14.4l0.3 -9.7M535.9 816.0l2.7 -8.1l2.1 -5.4M523.5 831.6l-1.8 -11.5l-0.4 -10.1" fill="none" stroke="#000" stroke-width="4.3" stroke-linecap="round" stroke-linejoin="round"/>
</defs>
<rect width="2096" height="3840" fill="#fff"/>
<g transform="translate(0.0,0.0)">
<use href="#base"/><use href="#grid"/>
<g clip-path="url(#seaclip)"><rect x="173.0" y="47.3" width="778.8" height="904.2" fill="#0000cc"/>
<g filter="url(#b3)" stroke-linecap="round" stroke-linejoin="round" fill="none"><path d="M640.0 227.8 L731.0 210.7 L736.7 279.0 L674.1 307.4 L628.6 279.0Z" fill="#0000a0" stroke="#0000a0" stroke-width="0.0"/><path d="M446.5 438.3 L560.3 404.2 L594.4 499.7 L435.1 499.7Z" fill="#0000a0" stroke="#0000a0" stroke-width="0.0"/><path d="M344.1 534.1 L435.1 517.1 L480.6 585.3 L457.9 630.9 L412.4 613.8 L355.5 568.3Z" fill="#0000a0" stroke="#0000a0" stroke-width="0.0"/><path d="M605.8 699.1 L674.1 642.2 L731.0 670.7 L674.1 739.0Z" fill="#0000a0" stroke="#0000a0" stroke-width="0.0"/><path d="M218.9 222.1 L275.8 210.7 L332.7 205.0 L401.0 142.4 L457.9 79.8 L526.2 85.5 L531.8 142.4 L480.6 187.9 L457.9 227.8 L480.6 279.0 L526.2 307.4 L480.6 335.9 L401.0 347.3 L332.7 375.7 L309.9 347.3 L315.6 301.7 L264.4 290.4 L213.2 267.6Z" fill="#0000fa" stroke="#0000fa" stroke-width="0.0"/><path d="M560.3 199.3 L674.1 170.9 L753.7 187.9 L742.4 267.6 L674.1 313.1 L605.8 279.0 L560.3 244.8Z" fill="#0000fa" stroke="#0000fa" stroke-width="0.0"/><path d="M594.4 347.3 L651.3 335.9 L731.0 347.3 L816.3 404.2 L861.9 392.8 L861.9 499.7 L594.4 499.7 L577.4 409.8Z" fill="#0000fa" stroke="#0000fa" stroke-width="0.0"/><path d="M446.5 500.0 L861.9 500.0 L822.0 613.8 L822.0 687.8 L674.1 756.0 L526.2 818.6 L480.6 767.4 L514.8 670.7 L469.3 613.8Z" fill="#0000fa" stroke="#0000fa" stroke-width="0.0"/><path d="M349.8 153.8 L366.8 210.7 L406.7 250.5 L457.9 267.6" stroke="#0060ff" stroke-width="6.0"/><path d="M389.6 148.1 L401.0 199.3 L435.1 227.8" stroke="#0060ff" stroke-width="6.0"/><path d="M366.8 335.9 L401.0 333.0 L429.4 307.4" stroke="#0060ff" stroke-width="9.0"/><path d="M480.6 102.6 L446.5 148.1 L429.4 187.9" stroke="#0060ff" stroke-width="6.0"/><path d="M472.1 75.3 L503.4 78.7" stroke="#0060ff" stroke-width="14.0"/><path d="M218.9 250.5 L230.3 273.3 L253.0 287.5" stroke="#0060ff" stroke-width="9.0"/><path d="M255.9 288.1 L275.8 293.8" stroke="#0060ff" stroke-width="33.0"/><path d="M275.8 227.8 L332.7 239.1 L378.2 279.0" stroke="#0060ff" stroke-width="8.0"/><path d="M486.3 159.5 L463.6 205.0 L440.8 256.2 L429.4 307.4" stroke="#0060ff" stroke-width="18.0"/><path d="M457.9 216.4 L443.7 230.6" stroke="#0060ff" stroke-width="34.0"/><path d="M440.8 261.9 L457.9 279.0" stroke="#0060ff" stroke-width="34.0"/><path d="M474.9 256.2 L503.4 239.1" stroke="#0060ff" stroke-width="28.0"/><path d="M429.4 290.4 L440.8 307.4" stroke="#0060ff" stroke-width="21.0"/><path d="M480.6 341.6 L526.2 358.6 L560.3 367.2" stroke="#0060ff" stroke-width="11.0"/><path d="M526.2 227.8 L503.4 250.5" stroke="#0060ff" stroke-width="10.0"/><path d="M753.7 192.5 L759.4 202.2" stroke="#0060ff" stroke-width="21.0"/><path d="M736.7 182.2 L756.6 210.7" stroke="#0060ff" stroke-width="10.0"/><path d="M583.1 358.6 L611.5 392.8 L617.2 438.3 L634.3 495.2" stroke="#0060ff" stroke-width="12.0"/><path d="M731.0 358.6 L782.2 409.8 L805.0 449.7" stroke="#0060ff" stroke-width="10.0"/><path d="M662.7 347.3 L674.1 404.2 L662.7 472.4" stroke="#0060ff" stroke-width="10.0"/><path d="M725.3 279.0 L731.0 307.4" stroke="#0060ff" stroke-width="9.0"/><path d="M824.9 429.8 L828.9 461.1" stroke="#0060ff" stroke-width="22.0"/><path d="M844.8 461.1 L851.6 499.7" stroke="#0060ff" stroke-width="11.0"/><path d="M850.5 500.0 L839.1 522.8" stroke="#0060ff" stroke-width="10.0"/><path d="M841.9 511.4 L816.3 534.1 L798.1 562.6 L803.8 591.0 L816.3 616.6" stroke="#0060ff" stroke-width="35.0"/><path d="M853.3 511.4 L827.7 542.7 L816.3 568.3" stroke="#0060ff" stroke-width="21.0"/><path d="M822.0 579.7 L830.6 608.1" stroke="#0060ff" stroke-width="11.0"/><path d="M418.0 630.9 L452.2 682.1 L497.7 727.6 L526.2 773.1 L537.5 810.1" stroke="#0060ff" stroke-width="18.0"/><path d="M480.6 690.6 L503.4 704.8" stroke="#0060ff" stroke-width="42.0"/><path d="M446.5 670.7 L469.3 687.8" stroke="#0060ff" stroke-width="29.0"/><path d="M503.4 727.6 L517.6 756.0" stroke="#0060ff" stroke-width="22.0"/><path d="M514.8 767.4 L531.8 795.9" stroke="#0060ff" stroke-width="16.0"/><path d="M526.2 665.0 L560.3 693.5" stroke="#0060ff" stroke-width="14.0"/><path d="M651.3 642.2 L708.2 687.8 L753.7 687.8" stroke="#0060ff" stroke-width="10.0"/><path d="M560.3 534.1 L594.4 591.0 L617.2 647.9" stroke="#0060ff" stroke-width="10.0"/><path d="M366.8 335.9 L401.0 333.0 L429.4 307.4" stroke="#00d0ff" stroke-width="3.0"/><path d="M472.1 75.3 L503.4 78.7" stroke="#00d0ff" stroke-width="8.0"/><path d="M218.9 250.5 L230.3 273.3 L253.0 287.5" stroke="#00d0ff" stroke-width="3.0"/><path d="M255.9 288.1 L275.8 293.8" stroke="#00d0ff" stroke-width="27.0"/><path d="M486.3 159.5 L463.6 205.0 L440.8 256.2 L429.4 307.4" stroke="#00d0ff" stroke-width="12.0"/><path d="M457.9 216.4 L443.7 230.6" stroke="#00d0ff" stroke-width="28.0"/><path d="M440.8 261.9 L457.9 279.0" stroke="#00d0ff" stroke-width="28.0"/><path d="M474.9 256.2 L503.4 239.1" stroke="#00d0ff" stroke-width="22.0"/><path d="M429.4 290.4 L440.8 307.4" stroke="#00d0ff" stroke-width="15.0"/><path d="M480.6 341.6 L526.2 358.6 L560.3 367.2" stroke="#00d0ff" stroke-width="5.0"/><path d="M526.2 227.8 L503.4 250.5" stroke="#00d0ff" stroke-width="4.0"/><path d="M753.7 192.5 L759.4 202.2" stroke="#00d0ff" stroke-width="15.0"/><path d="M736.7 182.2 L756.6 210.7" stroke="#00d0ff" stroke-width="4.0"/><path d="M725.3 279.0 L731.0 307.4" stroke="#00d0ff" stroke-width="3.0"/><path d="M824.9 429.8 L828.9 461.1" stroke="#00d0ff" stroke-width="16.0"/><path d="M844.8 461.1 L851.6 499.7" stroke="#00d0ff" stroke-width="5.0"/><path d="M850.5 500.0 L839.1 522.8" stroke="#00d0ff" stroke-width="4.0"/><path d="M841.9 511.4 L816.3 534.1 L798.1 562.6 L803.8 591.0 L816.3 616.6" stroke="#00d0ff" stroke-width="29.0"/><path d="M853.3 511.4 L827.7 542.7 L816.3 568.3" stroke="#00d0ff" stroke-width="15.0"/><path d="M822.0 579.7 L830.6 608.1" stroke="#00d0ff" stroke-width="5.0"/><path d="M418.0 630.9 L452.2 682.1 L497.7 727.6 L526.2 773.1 L537.5 810.1" stroke="#00d0ff" stroke-width="12.0"/><path d="M480.6 690.6 L503.4 704.8" stroke="#00d0ff" stroke-width="36.0"/><path d="M446.5 670.7 L469.3 687.8" stroke="#00d0ff" stroke-width="23.0"/><path d="M503.4 727.6 L517.6 756.0" stroke="#00d0ff" stroke-width="16.0"/><path d="M514.8 767.4 L531.8 795.9" stroke="#00d0ff" stroke-width="10.0"/><path d="M472.1 75.3 L503.4 78.7" stroke="#50ffa0" stroke-width="2.0"/><path d="M255.9 288.1 L275.8 293.8" stroke="#50ffa0" stroke-width="21.0"/><path d="M457.9 216.4 L443.7 230.6" stroke="#50ffa0" stroke-width="22.0"/><path d="M440.8 261.9 L457.9 279.0" stroke="#50ffa0" stroke-width="22.0"/><path d="M474.9 256.2 L503.4 239.1" stroke="#50ffa0" stroke-width="16.0"/><path d="M429.4 290.4 L440.8 307.4" stroke="#50ffa0" stroke-width="9.0"/><path d="M753.7 192.5 L759.4 202.2" stroke="#50ffa0" stroke-width="9.0"/><path d="M824.9 429.8 L828.9 461.1" stroke="#50ffa0" stroke-width="10.0"/><path d="M841.9 511.4 L816.3 534.1 L798.1 562.6 L803.8 591.0 L816.3 616.6" stroke="#50ffa0" stroke-width="23.0"/><path d="M853.3 511.4 L827.7 542.7 L816.3 568.3" stroke="#50ffa0" stroke-width="9.0"/><path d="M480.6 690.6 L503.4 704.8" stroke="#50ffa0" stroke-width="30.0"/><path d="M446.5 670.7 L469.3 687.8" stroke="#50ffa0" stroke-width="17.0"/><path d="M503.4 727.6 L517.6 756.0" stroke="#50ffa0" stroke-width="10.0"/><path d="M514.8 767.4 L531.8 795.9" stroke="#50ffa0" stroke-width="4.0"/><path d="M255.9 288.1 L275.8 293.8" stroke="#ffe800" stroke-width="15.0"/><path d="M457.9 216.4 L443.7 230.6" stroke="#ffe800" stroke-width="16.0"/><path d="M440.8 261.9 L457.9 279.0" stroke="#ffe800" stroke-width="16.0"/><path d="M474.9 256.2 L503.4 239.1" stroke="#ffe800" stroke-width="10.0"/><path d="M429.4 290.4 L440.8 307.4" stroke="#ffe800" stroke-width="3.0"/><path d="M753.7 192.5 L759.4 202.2" stroke="#ffe800" stroke-width="3.0"/><path d="M824.9 429.8 L828.9 461.1" stroke="#ffe800" stroke-width="4.0"/><path d="M841.9 511.4 L816.3 534.1 L798.1 562.6 L803.8 591.0 L816.3 616.6" stroke="#ffe800" stroke-width="17.0"/><path d="M853.3 511.4 L827.7 542.7 L816.3 568.3" stroke="#ffe800" stroke-width="3.0"/><path d="M480.6 690.6 L503.4 704.8" stroke="#ffe800" stroke-width="24.0"/><path d="M446.5 670.7 L469.3 687.8" stroke="#ffe800" stroke-width="11.0"/><path d="M503.4 727.6 L517.6 756.0" stroke="#ffe800" stroke-width="4.0"/><path d="M255.9 288.1 L275.8 293.8" stroke="#ff7800" stroke-width="9.0"/><path d="M457.9 216.4 L443.7 230.6" stroke="#ff7800" stroke-width="10.0"/><path d="M440.8 261.9 L457.9 279.0" stroke="#ff7800" stroke-width="10.0"/><path d="M474.9 256.2 L503.4 239.1" stroke="#ff7800" stroke-width="4.0"/><path d="M841.9 511.4 L816.3 534.1 L798.1 562.6 L803.8 591.0 L816.3 616.6" stroke="#ff7800" stroke-width="11.0"/><path d="M480.6 690.6 L503.4 704.8" stroke="#ff7800" stroke-width="18.0"/><path d="M446.5 670.7 L469.3 687.8" stroke="#ff7800" stroke-width="5.0"/><path d="M255.9 288.1 L275.8 293.8" stroke="#e80000" stroke-width="3.0"/><path d="M457.9 216.4 L443.7 230.6" stroke="#e80000" stroke-width="4.0"/><path d="M440.8 261.9 L457.9 279.0" stroke="#e80000" stroke-width="4.0"/><path d="M841.9 511.4 L816.3 534.1 L798.1 562.6 L803.8 591.0 L816.3 616.6" stroke="#e80000" stroke-width="5.0"/><path d="M480.6 690.6 L503.4 704.8" stroke="#e80000" stroke-width="12.0"/></g>
<use href="#stk0"/>
</g>
<use href="#isl"/>
<use href="#frame"/>
<text x="816.5" y="914" font-size="73" fill="#111">(a)</text>
</g>
<g transform="translate(807.4,0.0)">
<use href="#base"/><use href="#grid"/>
<g clip-path="url(#seaclip)"><rect x="173.0" y="47.3" width="778.8" height="904.2" fill="#0000d4"/>
<g filter="url(#b3)" stroke-linecap="round" stroke-linejoin="round" fill="none"><path d="M503.4 438.3 L594.4 358.6 L674.1 358.6 L731.0 438.3 L674.1 529.3 L605.8 552.1 L537.5 609.0 L514.8 540.7Z" fill="#0000a0" stroke="#0000a0" stroke-width="0.0"/><path d="M605.8 199.3 L674.1 187.9 L696.9 233.5 L662.7 290.4 L611.5 267.6Z" fill="#0000a0" stroke="#0000a0" stroke-width="0.0"/><path d="M275.8 239.1 L349.8 227.8 L349.8 267.6 L287.2 267.6Z" fill="#0000a0" stroke="#0000a0" stroke-width="0.0"/><path d="M328.6 159.5 L368.4 142.4 L396.8 165.2 L362.7 187.9 L334.2 182.2Z" fill="#0000a0" stroke="#0000a0" stroke-width="0.0"/><path d="M260.3 239.1 L311.5 244.8 L322.9 267.6 L277.3 267.6Z" fill="#0000a0" stroke="#0000a0" stroke-width="0.0"/><path d="M311.5 273.3 L374.1 267.6 L391.1 296.0 L351.3 307.4 L317.2 296.0Z" fill="#0000a0" stroke="#0000a0" stroke-width="0.0"/><path d="M218.9 222.1 L275.8 210.7 L332.7 205.0 L401.0 142.4 L457.9 79.8 L526.2 85.5 L531.8 142.4 L480.6 187.9 L457.9 227.8 L480.6 279.0 L526.2 307.4 L480.6 335.9 L401.0 347.3 L332.7 375.7 L309.9 347.3 L315.6 301.7 L264.4 290.4 L213.2 267.6Z" fill="#0000fa" stroke="#0000fa" stroke-width="0.0"/><path d="M442.4 74.1 L476.5 65.6 L533.4 85.5 L539.1 108.3 L493.6 153.8 L459.4 159.5 L431.0 125.3Z" fill="#0060ff" stroke="#0060ff" stroke-width="0.0"/><path d="M351.3 199.3 L374.1 187.9 L399.7 199.3 L402.5 233.5 L385.5 261.9 L357.0 256.2 L345.6 227.8 L351.3 199.3" stroke="#0060ff" stroke-width="14.0"/><path d="M345.6 205.0 L339.9 224.9 L347.0 244.8" stroke="#0060ff" stroke-width="24.0"/><path d="M362.7 193.6 L391.1 187.9" stroke="#0060ff" stroke-width="17.0"/><path d="M419.6 179.4 L418.2 199.3" stroke="#0060ff" stroke-width="44.0"/><path d="M433.8 176.6 L439.5 210.7" stroke="#0060ff" stroke-width="29.0"/><path d="M408.2 210.7 L419.6 233.5" stroke="#0060ff" stroke-width="22.0"/><path d="M448.0 216.4 L442.4 239.1 L425.3 261.9 L419.6 276.1" stroke="#0060ff" stroke-width="42.0"/><path d="M413.9 276.1 L442.4 301.7 L470.8 321.7 L504.9 335.9 L547.6 341.6 L590.3 350.1" stroke="#0060ff" stroke-width="45.0"/><path d="M476.5 310.3 L519.2 324.5 L561.8 334.5" stroke="#0060ff" stroke-width="23.0"/><path d="M504.9 296.0 L547.6 314.5 L584.6 323.1" stroke="#0060ff" stroke-width="13.0"/><path d="M402.5 267.6 L425.3 256.2 L448.0 279.0 L436.7 296.0 L408.2 290.4Z" fill="#0060ff" stroke="#0060ff" stroke-width="32.0"/><path d="M374.1 341.6 L396.8 330.2 L419.6 313.1" stroke="#0060ff" stroke-width="43.0"/><path d="M328.6 307.4 L339.9 324.5 L351.3 347.3 L362.7 358.6" stroke="#0060ff" stroke-width="29.0"/><path d="M351.3 313.1 L368.4 335.9" stroke="#0060ff" stroke-width="12.0"/><path d="M305.8 347.3 L317.2 364.3 L339.9 370.0 L362.7 367.2" stroke="#0060ff" stroke-width="13.0"/><path d="M325.7 358.6 L334.2 364.3" stroke="#0060ff" stroke-width="33.0"/><path d="M209.1 233.5 L217.6 256.2 L229.0 276.1 L248.9 290.4" stroke="#0060ff" stroke-width="43.0"/><path d="M214.8 239.1 L237.5 244.8 L257.4 256.2" stroke="#0060ff" stroke-width="28.0"/><path d="M226.1 222.1 L248.9 227.8" stroke="#0060ff" stroke-width="16.0"/><path d="M300.1 210.7 L311.5 199.3 L328.6 193.6" stroke="#0060ff" stroke-width="22.0"/><path d="M465.1 68.4 L487.9 65.6 L510.6 77.0 L533.4 88.4" stroke="#0060ff" stroke-width="34.0"/><path d="M499.3 122.5 L516.3 114.0 L533.4 99.7" stroke="#0060ff" stroke-width="29.0"/><path d="M470.8 153.8 L487.9 136.7" stroke="#0060ff" stroke-width="34.0"/><path d="M448.0 91.2 L465.1 114.0 L476.5 133.9" stroke="#0060ff" stroke-width="13.0"/><path d="M482.2 85.5 L504.9 96.9" stroke="#0060ff" stroke-width="12.0"/><path d="M516.3 82.7 L533.4 94.1" stroke="#0060ff" stroke-width="16.0"/><path d="M465.1 216.4 L476.5 199.3" stroke="#0060ff" stroke-width="35.0"/><path d="M493.6 239.1 L522.0 227.8 L544.8 210.7" stroke="#0060ff" stroke-width="35.0"/><path d="M499.3 247.7 L527.7 236.3" stroke="#0060ff" stroke-width="21.0"/><path d="M476.5 250.5 L504.9 244.8" stroke="#0060ff" stroke-width="41.0"/><path d="M527.7 256.2 L556.2 267.6 L584.6 296.0" stroke="#0060ff" stroke-width="13.0"/><path d="M561.8 216.4 L590.3 199.3" stroke="#0060ff" stroke-width="17.0"/><path d="M469.3 335.9 L503.4 347.3 L548.9 352.9" stroke="#0060ff" stroke-width="34.0"/><path d="M560.3 187.9 L605.8 165.2 L651.3 162.3 L696.9 176.6" stroke="#0060ff" stroke-width="17.0"/><path d="M571.7 182.2 L605.8 168.0" stroke="#0060ff" stroke-width="21.0"/><path d="M537.5 222.1 L571.7 210.7 L594.4 233.5" stroke="#0060ff" stroke-width="14.0"/><path d="M728.1 207.9 L753.7 196.5 L759.4 227.8 L733.8 253.4" stroke="#0060ff" stroke-width="50.0"/><path d="M676.9 267.6 L691.2 253.4 L705.4 267.6 L691.2 281.8 L676.9 267.6" stroke="#0060ff" stroke-width="33.0"/><path d="M708.2 244.8 L731.0 267.6 L708.2 290.4" stroke="#0060ff" stroke-width="29.0"/><path d="M662.7 227.8 L696.9 216.4 L719.6 233.5" stroke="#0060ff" stroke-width="14.0"/><path d="M651.3 313.1 L708.2 335.9 L753.7 381.4 L787.9 438.3" stroke="#0060ff" stroke-width="12.0"/><path d="M765.1 347.3 L787.9 335.9 L827.7 347.3" stroke="#0060ff" stroke-width="28.0"/><path d="M790.7 361.5 L816.3 381.4 L833.4 404.2" stroke="#0060ff" stroke-width="54.0"/><path d="M839.1 438.3 L844.8 472.4 L833.4 512.3" stroke="#0060ff" stroke-width="23.0"/><path d="M721.3 505.3 L761.1 442.8 L806.7 505.3 L818.0 579.3 L778.2 619.1 L789.6 676.0 L746.9 704.5 L690.0 715.9 L647.3 676.0 L641.7 596.4 L670.1 539.5Z" fill="#0060ff" stroke="#0060ff" stroke-width="0.0"/><path d="M744.1 457.0 L761.1 505.3 L783.9 539.5 L798.1 562.2" stroke="#0060ff" stroke-width="24.0"/><path d="M786.8 545.2 L789.6 573.6" stroke="#0060ff" stroke-width="22.0"/><path d="M778.2 579.3 L798.1 604.9 L818.0 624.8" stroke="#0060ff" stroke-width="49.0"/><path d="M815.2 639.1 L820.9 644.8" stroke="#0060ff" stroke-width="29.0"/><path d="M744.1 630.5 L761.1 624.8" stroke="#0060ff" stroke-width="12.0"/><path d="M826.6 428.5 L835.1 462.7 L840.8 491.1" stroke="#0060ff" stroke-width="31.0"/><path d="M818.0 437.1 L826.6 476.9 L829.4 513.9" stroke="#0060ff" stroke-width="12.0"/><path d="M630.3 704.5 L661.6 715.9 L690.0 710.2 L721.3 704.5 L746.9 698.8" stroke="#0060ff" stroke-width="21.0"/><path d="M655.9 715.9 L675.8 721.6" stroke="#0060ff" stroke-width="22.0"/><path d="M618.9 732.9 L630.3 721.6" stroke="#0060ff" stroke-width="23.0"/><path d="M567.7 778.5 L584.8 784.2" stroke="#0060ff" stroke-width="30.0"/><path d="M579.1 698.8 L604.7 710.2 L618.9 732.9 L607.5 761.4" stroke="#0060ff" stroke-width="15.0"/><path d="M560.3 665.9 L594.4 688.6 L617.2 722.8" stroke="#0060ff" stroke-width="13.0"/><path d="M554.6 711.4 L583.1 756.9" stroke="#0060ff" stroke-width="13.0"/><path d="M594.4 745.5 L628.6 768.3" stroke="#0060ff" stroke-width="12.0"/><path d="M417.2 602.1 L451.3 602.1 L491.1 613.5 L536.7 613.5 L553.7 641.9 L548.0 676.0 L542.4 704.5 L525.3 732.9 L496.8 741.5 L468.4 715.9 L445.6 710.2 L434.2 676.0 L417.2 641.9Z" fill="#0060ff" stroke="#0060ff" stroke-width="38.0"/><path d="M371.7 579.3 L394.4 590.7 L417.2 604.9" stroke="#0060ff" stroke-width="44.0"/><path d="M479.8 738.6 L542.4 710.2 L576.5 769.9 L513.9 800.1 L491.1 775.6Z" fill="#0060ff" stroke="#0060ff" stroke-width="32.0"/><path d="M383.9 586.2 L418.0 609.0" stroke="#0060ff" stroke-width="35.0"/><path d="M332.7 546.4 L355.5 574.9 L389.6 586.2" stroke="#0060ff" stroke-width="28.0"/><path d="M355.5 518.0 L401.0 552.1 L435.1 586.2" stroke="#0060ff" stroke-width="13.0"/><path d="M349.8 483.8 L389.6 512.3 L429.4 540.7" stroke="#0060ff" stroke-width="10.0"/><path d="M435.1 438.3 L469.3 421.2 L514.8 409.8 L560.3 387.1 L583.1 370.0" stroke="#0060ff" stroke-width="23.0"/><path d="M560.3 375.7 L583.1 364.3" stroke="#0060ff" stroke-width="34.0"/><path d="M503.4 409.8 L537.5 404.2" stroke="#0060ff" stroke-width="34.0"/><path d="M446.5 472.4 L480.6 455.4 L526.2 438.3 L571.7 409.8" stroke="#0060ff" stroke-width="15.0"/><path d="M389.6 495.2 L435.1 489.5 L480.6 483.8" stroke="#0060ff" stroke-width="10.0"/><path d="M594.4 313.1 L605.8 347.3 L594.4 381.4" stroke="#0060ff" stroke-width="22.0"/><path d="M305.8 210.7 L334.2 187.9 L357.0 199.3 L351.3 239.1 L322.9 250.5Z" fill="#00d0ff" stroke="#00d0ff" stroke-width="0.0"/><path d="M351.3 222.1 L374.1 199.3 L402.5 210.7 L396.8 256.2 L362.7 267.6Z" fill="#00d0ff" stroke="#00d0ff" stroke-width="0.0"/><path d="M476.5 159.5 L487.9 199.3 L470.8 210.7 L459.4 182.2Z" fill="#00d0ff" stroke="#00d0ff" stroke-width="0.0"/><path d="M243.2 279.0 L285.9 284.7 L277.3 296.0 L248.9 293.2Z" fill="#00d0ff" stroke="#00d0ff" stroke-width="0.0"/><path d="M351.3 199.3 L374.1 187.9 L399.7 199.3 L402.5 233.5 L385.5 261.9 L357.0 256.2 L345.6 227.8 L351.3 199.3" stroke="#00d0ff" stroke-width="8.0"/><path d="M345.6 205.0 L339.9 224.9 L347.0 244.8" stroke="#00d0ff" stroke-width="18.0"/><path d="M362.7 193.6 L391.1 187.9" stroke="#00d0ff" stroke-width="11.0"/><path d="M419.6 179.4 L418.2 199.3" stroke="#00d0ff" stroke-width="38.0"/><path d="M433.8 176.6 L439.5 210.7" stroke="#00d0ff" stroke-width="23.0"/><path d="M408.2 210.7 L419.6 233.5" stroke="#00d0ff" stroke-width="16.0"/><path d="M448.0 216.4 L442.4 239.1 L425.3 261.9 L419.6 276.1" stroke="#00d0ff" stroke-width="36.0"/><path d="M413.9 276.1 L442.4 301.7 L470.8 321.7 L504.9 335.9 L547.6 341.6 L590.3 350.1" stroke="#00d0ff" stroke-width="39.0"/><path d="M476.5 310.3 L519.2 324.5 L561.8 334.5" stroke="#00d0ff" stroke-width="17.0"/><path d="M504.9 296.0 L547.6 314.5 L584.6 323.1" stroke="#00d0ff" stroke-width="7.0"/><path d="M402.5 267.6 L425.3 256.2 L448.0 279.0 L436.7 296.0 L408.2 290.4Z" fill="#00d0ff" stroke="#00d0ff" stroke-width="26.0"/><path d="M374.1 341.6 L396.8 330.2 L419.6 313.1" stroke="#00d0ff" stroke-width="37.0"/><path d="M328.6 307.4 L339.9 324.5 L351.3 347.3 L362.7 358.6" stroke="#00d0ff" stroke-width="23.0"/><path d="M351.3 313.1 L368.4 335.9" stroke="#00d0ff" stroke-width="6.0"/><path d="M305.8 347.3 L317.2 364.3 L339.9 370.0 L362.7 367.2" stroke="#00d0ff" stroke-width="7.0"/><path d="M325.7 358.6 L334.2 364.3" stroke="#00d0ff" stroke-width="27.0"/><path d="M209.1 233.5 L217.6 256.2 L229.0 276.1 L248.9 290.4" stroke="#00d0ff" stroke-width="37.0"/><path d="M214.8 239.1 L237.5 244.8 L257.4 256.2" stroke="#00d0ff" stroke-width="22.0"/><path d="M226.1 222.1 L248.9 227.8" stroke="#00d0ff" stroke-width="10.0"/><path d="M300.1 210.7 L311.5 199.3 L328.6 193.6" stroke="#00d0ff" stroke-width="16.0"/><path d="M465.1 68.4 L487.9 65.6 L510.6 77.0 L533.4 88.4" stroke="#00d0ff" stroke-width="28.0"/><path d="M499.3 122.5 L516.3 114.0 L533.4 99.7" stroke="#00d0ff" stroke-width="23.0"/><path d="M470.8 153.8 L487.9 136.7" stroke="#00d0ff" stroke-width="28.0"/><path d="M448.0 91.2 L465.1 114.0 L476.5 133.9" stroke="#00d0ff" stroke-width="7.0"/><path d="M482.2 85.5 L504.9 96.9" stroke="#00d0ff" stroke-width="6.0"/><path d="M516.3 82.7 L533.4 94.1" stroke="#00d0ff" stroke-width="10.0"/><path d="M465.1 216.4 L476.5 199.3" stroke="#00d0ff" stroke-width="29.0"/><path d="M493.6 239.1 L522.0 227.8 L544.8 210.7" stroke="#00d0ff" stroke-width="29.0"/><path d="M499.3 247.7 L527.7 236.3" stroke="#00d0ff" stroke-width="15.0"/><path d="M476.5 250.5 L504.9 244.8" stroke="#00d0ff" stroke-width="35.0"/><path d="M527.7 256.2 L556.2 267.6 L584.6 296.0" stroke="#00d0ff" stroke-width="7.0"/><path d="M561.8 216.4 L590.3 199.3" stroke="#00d0ff" stroke-width="11.0"/><path d="M469.3 335.9 L503.4 347.3 L548.9 352.9" stroke="#00d0ff" stroke-width="28.0"/><path d="M560.3 187.9 L605.8 165.2 L651.3 162.3 L696.9 176.6" stroke="#00d0ff" stroke-width="11.0"/><path d="M571.7 182.2 L605.8 168.0" stroke="#00d0ff" stroke-width="15.0"/><path d="M537.5 222.1 L571.7 210.7 L594.4 233.5" stroke="#00d0ff" stroke-width="8.0"/><path d="M728.1 207.9 L753.7 196.5 L759.4 227.8 L733.8 253.4" stroke="#00d0ff" stroke-width="44.0"/><path d="M676.9 267.6 L691.2 253.4 L705.4 267.6 L691.2 281.8 L676.9 267.6" stroke="#00d0ff" stroke-width="27.0"/><path d="M708.2 244.8 L731.0 267.6 L708.2 290.4" stroke="#00d0ff" stroke-width="23.0"/><path d="M662.7 227.8 L696.9 216.4 L719.6 233.5" stroke="#00d0ff" stroke-width="8.0"/><path d="M765.1 347.3 L787.9 335.9 L827.7 347.3" stroke="#00d0ff" stroke-width="22.0"/><path d="M790.7 361.5 L816.3 381.4 L833.4 404.2" stroke="#00d0ff" stroke-width="48.0"/><path d="M839.1 438.3 L844.8 472.4 L833.4 512.3" stroke="#00d0ff" stroke-width="17.0"/><path d="M721.3 513.9 L675.8 542.3 L655.9 579.3 L658.7 619.1 L675.8 661.8 L698.6 690.3 L721.3 704.5" stroke="#00d0ff" stroke-width="13.0"/><path d="M738.4 528.1 L698.6 556.6 L681.5 590.7 L687.2 630.5 L704.2 667.5 L732.7 693.1" stroke="#00d0ff" stroke-width="13.0"/><path d="M732.7 562.2 L709.9 590.7 L712.8 624.8 L727.0 656.1 L755.5 690.3" stroke="#00d0ff" stroke-width="12.0"/><path d="M709.9 494.0 L661.6 528.1 L636.0 573.6 L638.8 624.8 L658.7 670.4 L687.2 701.7" stroke="#00d0ff" stroke-width="10.0"/><path d="M744.1 579.3 L729.9 602.1 L732.7 630.5 L746.9 659.0 L772.5 681.7" stroke="#00d0ff" stroke-width="9.0"/><path d="M761.1 476.9 L744.1 499.7 L721.3 513.9" stroke="#00d0ff" stroke-width="11.0"/><path d="M778.2 505.3 L761.1 528.1 L738.4 545.2" stroke="#00d0ff" stroke-width="11.0"/><path d="M744.1 457.0 L761.1 505.3 L783.9 539.5 L798.1 562.2" stroke="#00d0ff" stroke-width="18.0"/><path d="M786.8 545.2 L789.6 573.6" stroke="#00d0ff" stroke-width="16.0"/><path d="M778.2 579.3 L798.1 604.9 L818.0 624.8" stroke="#00d0ff" stroke-width="43.0"/><path d="M815.2 639.1 L820.9 644.8" stroke="#00d0ff" stroke-width="23.0"/><path d="M744.1 630.5 L761.1 624.8" stroke="#00d0ff" stroke-width="6.0"/><path d="M826.6 428.5 L835.1 462.7 L840.8 491.1" stroke="#00d0ff" stroke-width="25.0"/><path d="M818.0 437.1 L826.6 476.9 L829.4 513.9" stroke="#00d0ff" stroke-width="6.0"/><path d="M630.3 704.5 L661.6 715.9 L690.0 710.2 L721.3 704.5 L746.9 698.8" stroke="#00d0ff" stroke-width="15.0"/><path d="M655.9 715.9 L675.8 721.6" stroke="#00d0ff" stroke-width="16.0"/><path d="M618.9 732.9 L630.3 721.6" stroke="#00d0ff" stroke-width="17.0"/><path d="M567.7 778.5 L584.8 784.2" stroke="#00d0ff" stroke-width="24.0"/><path d="M579.1 698.8 L604.7 710.2 L618.9 732.9 L607.5 761.4" stroke="#00d0ff" stroke-width="9.0"/><path d="M560.3 665.9 L594.4 688.6 L617.2 722.8" stroke="#00d0ff" stroke-width="7.0"/><path d="M554.6 711.4 L583.1 756.9" stroke="#00d0ff" stroke-width="7.0"/><path d="M594.4 745.5 L628.6 768.3" stroke="#00d0ff" stroke-width="6.0"/><path d="M417.2 602.1 L451.3 602.1 L491.1 613.5 L536.7 613.5 L553.7 641.9 L548.0 676.0 L542.4 704.5 L525.3 732.9 L496.8 741.5 L468.4 715.9 L445.6 710.2 L434.2 676.0 L417.2 641.9Z" fill="#00d0ff" stroke="#00d0ff" stroke-width="32.0"/><path d="M371.7 579.3 L394.4 590.7 L417.2 604.9" stroke="#00d0ff" stroke-width="38.0"/><path d="M479.8 738.6 L542.4 710.2 L576.5 769.9 L513.9 800.1 L491.1 775.6Z" fill="#00d0ff" stroke="#00d0ff" stroke-width="26.0"/><path d="M383.9 586.2 L418.0 609.0" stroke="#00d0ff" stroke-width="29.0"/><path d="M332.7 546.4 L355.5 574.9 L389.6 586.2" stroke="#00d0ff" stroke-width="22.0"/><path d="M355.5 518.0 L401.0 552.1 L435.1 586.2" stroke="#00d0ff" stroke-width="7.0"/><path d="M435.1 438.3 L469.3 421.2 L514.8 409.8 L560.3 387.1 L583.1 370.0" stroke="#00d0ff" stroke-width="17.0"/><path d="M560.3 375.7 L583.1 364.3" stroke="#00d0ff" stroke-width="28.0"/><path d="M503.4 409.8 L537.5 404.2" stroke="#00d0ff" stroke-width="28.0"/><path d="M446.5 472.4 L480.6 455.4 L526.2 438.3 L571.7 409.8" stroke="#00d0ff" stroke-width="9.0"/><path d="M594.4 313.1 L605.8 347.3 L594.4 381.4" stroke="#00d0ff" stroke-width="16.0"/><path d="M345.6 205.0 L339.9 224.9 L347.0 244.8" stroke="#50ffa0" stroke-width="12.0"/><path d="M362.7 193.6 L391.1 187.9" stroke="#50ffa0" stroke-width="5.0"/><path d="M419.6 179.4 L418.2 199.3" stroke="#50ffa0" stroke-width="32.0"/><path d="M433.8 176.6 L439.5 210.7" stroke="#50ffa0" stroke-width="17.0"/><path d="M408.2 210.7 L419.6 233.5" stroke="#50ffa0" stroke-width="10.0"/><path d="M448.0 216.4 L442.4 239.1 L425.3 261.9 L419.6 276.1" stroke="#50ffa0" stroke-width="30.0"/><path d="M413.9 276.1 L442.4 301.7 L470.8 321.7 L504.9 335.9 L547.6 341.6 L590.3 350.1" stroke="#50ffa0" stroke-width="33.0"/><path d="M476.5 310.3 L519.2 324.5 L561.8 334.5" stroke="#50ffa0" stroke-width="11.0"/><path d="M402.5 267.6 L425.3 256.2 L448.0 279.0 L436.7 296.0 L408.2 290.4Z" fill="#50ffa0" stroke="#50ffa0" stroke-width="20.0"/><path d="M374.1 341.6 L396.8 330.2 L419.6 313.1" stroke="#50ffa0" stroke-width="31.0"/><path d="M328.6 307.4 L339.9 324.5 L351.3 347.3 L362.7 358.6" stroke="#50ffa0" stroke-width="17.0"/><path d="M325.7 358.6 L334.2 364.3" stroke="#50ffa0" stroke-width="21.0"/><path d="M209.1 233.5 L217.6 256.2 L229.0 276.1 L248.9 290.4" stroke="#50ffa0" stroke-width="31.0"/><path d="M214.8 239.1 L237.5 244.8 L257.4 256.2" stroke="#50ffa0" stroke-width="16.0"/><path d="M226.1 222.1 L248.9 227.8" stroke="#50ffa0" stroke-width="4.0"/><path d="M300.1 210.7 L311.5 199.3 L328.6 193.6" stroke="#50ffa0" stroke-width="10.0"/><path d="M465.1 68.4 L487.9 65.6 L510.6 77.0 L533.4 88.4" stroke="#50ffa0" stroke-width="22.0"/><path d="M499.3 122.5 L516.3 114.0 L533.4 99.7" stroke="#50ffa0" stroke-width="17.0"/><path d="M470.8 153.8 L487.9 136.7" stroke="#50ffa0" stroke-width="22.0"/><path d="M516.3 82.7 L533.4 94.1" stroke="#50ffa0" stroke-width="4.0"/><path d="M465.1 216.4 L476.5 199.3" stroke="#50ffa0" stroke-width="23.0"/><path d="M493.6 239.1 L522.0 227.8 L544.8 210.7" stroke="#50ffa0" stroke-width="23.0"/><path d="M499.3 247.7 L527.7 236.3" stroke="#50ffa0" stroke-width="9.0"/><path d="M476.5 250.5 L504.9 244.8" stroke="#50ffa0" stroke-width="29.0"/><path d="M561.8 216.4 L590.3 199.3" stroke="#50ffa0" stroke-width="5.0"/><path d="M469.3 335.9 L503.4 347.3 L548.9 352.9" stroke="#50ffa0" stroke-width="22.0"/><path d="M560.3 187.9 L605.8 165.2 L651.3 162.3 L696.9 176.6" stroke="#50ffa0" stroke-width="5.0"/><path d="M571.7 182.2 L605.8 168.0" stroke="#50ffa0" stroke-width="9.0"/><path d="M728.1 207.9 L753.7 196.5 L759.4 227.8 L733.8 253.4" stroke="#50ffa0" stroke-width="38.0"/><path d="M676.9 267.6 L691.2 253.4 L705.4 267.6 L691.2 281.8 L676.9 267.6" stroke="#50ffa0" stroke-width="21.0"/><path d="M708.2 244.8 L731.0 267.6 L708.2 290.4" stroke="#50ffa0" stroke-width="17.0"/><path d="M765.1 347.3 L787.9 335.9 L827.7 347.3" stroke="#50ffa0" stroke-width="16.0"/><path d="M790.7 361.5 L816.3 381.4 L833.4 404.2" stroke="#50ffa0" stroke-width="42.0"/><path d="M839.1 438.3 L844.8 472.4 L833.4 512.3" stroke="#50ffa0" stroke-width="11.0"/><path d="M744.1 457.0 L761.1 505.3 L783.9 539.5 L798.1 562.2" stroke="#50ffa0" stroke-width="12.0"/><path d="M786.8 545.2 L789.6 573.6" stroke="#50ffa0" stroke-width="10.0"/><path d="M778.2 579.3 L798.1 604.9 L818.0 624.8" stroke="#50ffa0" stroke-width="37.0"/><path d="M815.2 639.1 L820.9 644.8" stroke="#50ffa0" stroke-width="17.0"/><path d="M826.6 428.5 L835.1 462.7 L840.8 491.1" stroke="#50ffa0" stroke-width="19.0"/><path d="M630.3 704.5 L661.6 715.9 L690.0 710.2 L721.3 704.5 L746.9 698.8" stroke="#50ffa0" stroke-width="9.0"/><path d="M655.9 715.9 L675.8 721.6" stroke="#50ffa0" stroke-width="10.0"/><path d="M618.9 732.9 L630.3 721.6" stroke="#50ffa0" stroke-width="11.0"/><path d="M567.7 778.5 L584.8 784.2" stroke="#50ffa0" stroke-width="18.0"/><path d="M417.2 602.1 L451.3 602.1 L491.1 613.5 L536.7 613.5 L553.7 641.9 L548.0 676.0 L542.4 704.5 L525.3 732.9 L496.8 741.5 L468.4 715.9 L445.6 710.2 L434.2 676.0 L417.2 641.9Z" fill="#50ffa0" stroke="#50ffa0" stroke-width="26.0"/><path d="M371.7 579.3 L394.4 590.7 L417.2 604.9" stroke="#50ffa0" stroke-width="32.0"/><path d="M479.8 738.6 L542.4 710.2 L576.5 769.9 L513.9 800.1 L491.1 775.6Z" fill="#50ffa0" stroke="#50ffa0" stroke-width="20.0"/><path d="M383.9 586.2 L418.0 609.0" stroke="#50ffa0" stroke-width="23.0"/><path d="M332.7 546.4 L355.5 574.9 L389.6 586.2" stroke="#50ffa0" stroke-width="16.0"/><path d="M435.1 438.3 L469.3 421.2 L514.8 409.8 L560.3 387.1 L583.1 370.0" stroke="#50ffa0" stroke-width="11.0"/><path d="M560.3 375.7 L583.1 364.3" stroke="#50ffa0" stroke-width="22.0"/><path d="M503.4 409.8 L537.5 404.2" stroke="#50ffa0" stroke-width="22.0"/><path d="M594.4 313.1 L605.8 347.3 L594.4 381.4" stroke="#50ffa0" stroke-width="10.0"/><path d="M345.6 205.0 L339.9 224.9 L347.0 244.8" stroke="#ffe800" stroke-width="6.0"/><path d="M419.6 179.4 L418.2 199.3" stroke="#ffe800" stroke-width="26.0"/><path d="M433.8 176.6 L439.5 210.7" stroke="#ffe800" stroke-width="11.0"/><path d="M408.2 210.7 L419.6 233.5" stroke="#ffe800" stroke-width="4.0"/><path d="M448.0 216.4 L442.4 239.1 L425.3 261.9 L419.6 276.1" stroke="#ffe800" stroke-width="24.0"/><path d="M413.9 276.1 L442.4 301.7 L470.8 321.7 L504.9 335.9 L547.6 341.6 L590.3 350.1" stroke="#ffe800" stroke-width="27.0"/><path d="M476.5 310.3 L519.2 324.5 L561.8 334.5" stroke="#ffe800" stroke-width="5.0"/><path d="M402.5 267.6 L425.3 256.2 L448.0 279.0 L436.7 296.0 L408.2 290.4Z" fill="#ffe800" stroke="#ffe800" stroke-width="14.0"/><path d="M374.1 341.6 L396.8 330.2 L419.6 313.1" stroke="#ffe800" stroke-width="25.0"/><path d="M328.6 307.4 L339.9 324.5 L351.3 347.3 L362.7 358.6" stroke="#ffe800" stroke-width="11.0"/><path d="M325.7 358.6 L334.2 364.3" stroke="#ffe800" stroke-width="15.0"/><path d="M209.1 233.5 L217.6 256.2 L229.0 276.1 L248.9 290.4" stroke="#ffe800" stroke-width="25.0"/><path d="M214.8 239.1 L237.5 244.8 L257.4 256.2" stroke="#ffe800" stroke-width="10.0"/><path d="M300.1 210.7 L311.5 199.3 L328.6 193.6" stroke="#ffe800" stroke-width="4.0"/><path d="M465.1 68.4 L487.9 65.6 L510.6 77.0 L533.4 88.4" stroke="#ffe800" stroke-width="16.0"/><path d="M499.3 122.5 L516.3 114.0 L533.4 99.7" stroke="#ffe800" stroke-width="11.0"/><path d="M470.8 153.8 L487.9 136.7" stroke="#ffe800" stroke-width="16.0"/><path d="M465.1 216.4 L476.5 199.3" stroke="#ffe800" stroke-width="17.0"/><path d="M493.6 239.1 L522.0 227.8 L544.8 210.7" stroke="#ffe800" stroke-width="17.0"/><path d="M499.3 247.7 L527.7 236.3" stroke="#ffe800" stroke-width="3.0"/><path d="M476.5 250.5 L504.9 244.8" stroke="#ffe800" stroke-width="23.0"/><path d="M469.3 335.9 L503.4 347.3 L548.9 352.9" stroke="#ffe800" stroke-width="16.0"/><path d="M571.7 182.2 L605.8 168.0" stroke="#ffe800" stroke-width="3.0"/><path d="M728.1 207.9 L753.7 196.5 L759.4 227.8 L733.8 253.4" stroke="#ffe800" stroke-width="32.0"/><path d="M676.9 267.6 L691.2 253.4 L705.4 267.6 L691.2 281.8 L676.9 267.6" stroke="#ffe800" stroke-width="15.0"/><path d="M708.2 244.8 L731.0 267.6 L708.2 290.4" stroke="#ffe800" stroke-width="11.0"/><path d="M765.1 347.3 L787.9 335.9 L827.7 347.3" stroke="#ffe800" stroke-width="10.0"/><path d="M790.7 361.5 L816.3 381.4 L833.4 404.2" stroke="#ffe800" stroke-width="36.0"/><path d="M839.1 438.3 L844.8 472.4 L833.4 512.3" stroke="#ffe800" stroke-width="5.0"/><path d="M786.8 545.2 L789.6 573.6" stroke="#ffe800" stroke-width="4.0"/><path d="M778.2 579.3 L798.1 604.9 L818.0 624.8" stroke="#ffe800" stroke-width="31.0"/><path d="M815.2 639.1 L820.9 644.8" stroke="#ffe800" stroke-width="11.0"/><path d="M826.6 428.5 L835.1 462.7 L840.8 491.1" stroke="#ffe800" stroke-width="13.0"/><path d="M655.9 715.9 L675.8 721.6" stroke="#ffe800" stroke-width="4.0"/><path d="M618.9 732.9 L630.3 721.6" stroke="#ffe800" stroke-width="5.0"/><path d="M567.7 778.5 L584.8 784.2" stroke="#ffe800" stroke-width="12.0"/><path d="M417.2 602.1 L451.3 602.1 L491.1 613.5 L536.7 613.5 L553.7 641.9 L548.0 676.0 L542.4 704.5 L525.3 732.9 L496.8 741.5 L468.4 715.9 L445.6 710.2 L434.2 676.0 L417.2 641.9Z" fill="#ffe800" stroke="#ffe800" stroke-width="20.0"/><path d="M371.7 579.3 L394.4 590.7 L417.2 604.9" stroke="#ffe800" stroke-width="26.0"/><path d="M479.8 738.6 L542.4 710.2 L576.5 769.9 L513.9 800.1 L491.1 775.6Z" fill="#ffe800" stroke="#ffe800" stroke-width="14.0"/><path d="M383.9 586.2 L418.0 609.0" stroke="#ffe800" stroke-width="17.0"/><path d="M332.7 546.4 L355.5 574.9 L389.6 586.2" stroke="#ffe800" stroke-width="10.0"/><path d="M435.1 438.3 L469.3 421.2 L514.8 409.8 L560.3 387.1 L583.1 370.0" stroke="#ffe800" stroke-width="5.0"/><path d="M560.3 375.7 L583.1 364.3" stroke="#ffe800" stroke-width="16.0"/><path d="M503.4 409.8 L537.5 404.2" stroke="#ffe800" stroke-width="16.0"/><path d="M594.4 313.1 L605.8 347.3 L594.4 381.4" stroke="#ffe800" stroke-width="4.0"/><path d="M419.6 179.4 L418.2 199.3" stroke="#ff7800" stroke-width="20.0"/><path d="M433.8 176.6 L439.5 210.7" stroke="#ff7800" stroke-width="5.0"/><path d="M448.0 216.4 L442.4 239.1 L425.3 261.9 L419.6 276.1" stroke="#ff7800" stroke-width="18.0"/><path d="M413.9 276.1 L442.4 301.7 L470.8 321.7 L504.9 335.9 L547.6 341.6 L590.3 350.1" stroke="#ff7800" stroke-width="21.0"/><path d="M402.5 267.6 L425.3 256.2 L448.0 279.0 L436.7 296.0 L408.2 290.4Z" fill="#ff7800" stroke="#ff7800" stroke-width="8.0"/><path d="M374.1 341.6 L396.8 330.2 L419.6 313.1" stroke="#ff7800" stroke-width="19.0"/><path d="M328.6 307.4 L339.9 324.5 L351.3 347.3 L362.7 358.6" stroke="#ff7800" stroke-width="5.0"/><path d="M325.7 358.6 L334.2 364.3" stroke="#ff7800" stroke-width="9.0"/><path d="M209.1 233.5 L217.6 256.2 L229.0 276.1 L248.9 290.4" stroke="#ff7800" stroke-width="19.0"/><path d="M214.8 239.1 L237.5 244.8 L257.4 256.2" stroke="#ff7800" stroke-width="4.0"/><path d="M465.1 68.4 L487.9 65.6 L510.6 77.0 L533.4 88.4" stroke="#ff7800" stroke-width="10.0"/><path d="M499.3 122.5 L516.3 114.0 L533.4 99.7" stroke="#ff7800" stroke-width="5.0"/><path d="M470.8 153.8 L487.9 136.7" stroke="#ff7800" stroke-width="10.0"/><path d="M465.1 216.4 L476.5 199.3" stroke="#ff7800" stroke-width="11.0"/><path d="M493.6 239.1 L522.0 227.8 L544.8 210.7" stroke="#ff7800" stroke-width="11.0"/><path d="M476.5 250.5 L504.9 244.8" stroke="#ff7800" stroke-width="17.0"/><path d="M469.3 335.9 L503.4 347.3 L548.9 352.9" stroke="#ff7800" stroke-width="10.0"/><path d="M728.1 207.9 L753.7 196.5 L759.4 227.8 L733.8 253.4" stroke="#ff7800" stroke-width="26.0"/><path d="M676.9 267.6 L691.2 253.4 L705.4 267.6 L691.2 281.8 L676.9 267.6" stroke="#ff7800" stroke-width="9.0"/><path d="M708.2 244.8 L731.0 267.6 L708.2 290.4" stroke="#ff7800" stroke-width="5.0"/><path d="M765.1 347.3 L787.9 335.9 L827.7 347.3" stroke="#ff7800" stroke-width="4.0"/><path d="M790.7 361.5 L816.3 381.4 L833.4 404.2" stroke="#ff7800" stroke-width="30.0"/><path d="M778.2 579.3 L798.1 604.9 L818.0 624.8" stroke="#ff7800" stroke-width="25.0"/><path d="M815.2 639.1 L820.9 644.8" stroke="#ff7800" stroke-width="5.0"/><path d="M826.6 428.5 L835.1 462.7 L840.8 491.1" stroke="#ff7800" stroke-width="7.0"/><path d="M567.7 778.5 L584.8 784.2" stroke="#ff7800" stroke-width="6.0"/><path d="M417.2 602.1 L451.3 602.1 L491.1 613.5 L536.7 613.5 L553.7 641.9 L548.0 676.0 L542.4 704.5 L525.3 732.9 L496.8 741.5 L468.4 715.9 L445.6 710.2 L434.2 676.0 L417.2 641.9Z" fill="#ff7800" stroke="#ff7800" stroke-width="14.0"/><path d="M371.7 579.3 L394.4 590.7 L417.2 604.9" stroke="#ff7800" stroke-width="20.0"/><path d="M479.8 738.6 L542.4 710.2 L576.5 769.9 L513.9 800.1 L491.1 775.6Z" fill="#ff7800" stroke="#ff7800" stroke-width="8.0"/><path d="M383.9 586.2 L418.0 609.0" stroke="#ff7800" stroke-width="11.0"/><path d="M332.7 546.4 L355.5 574.9 L389.6 586.2" stroke="#ff7800" stroke-width="4.0"/><path d="M560.3 375.7 L583.1 364.3" stroke="#ff7800" stroke-width="10.0"/><path d="M503.4 409.8 L537.5 404.2" stroke="#ff7800" stroke-width="10.0"/><path d="M419.6 179.4 L418.2 199.3" stroke="#e80000" stroke-width="14.0"/><path d="M448.0 216.4 L442.4 239.1 L425.3 261.9 L419.6 276.1" stroke="#e80000" stroke-width="12.0"/><path d="M413.9 276.1 L442.4 301.7 L470.8 321.7 L504.9 335.9 L547.6 341.6 L590.3 350.1" stroke="#e80000" stroke-width="15.0"/><path d="M402.5 267.6 L425.3 256.2 L448.0 279.0 L436.7 296.0 L408.2 290.4Z" fill="#e80000" stroke="#e80000" stroke-width="2.0"/><path d="M374.1 341.6 L396.8 330.2 L419.6 313.1" stroke="#e80000" stroke-width="13.0"/><path d="M325.7 358.6 L334.2 364.3" stroke="#e80000" stroke-width="3.0"/><path d="M209.1 233.5 L217.6 256.2 L229.0 276.1 L248.9 290.4" stroke="#e80000" stroke-width="13.0"/><path d="M465.1 68.4 L487.9 65.6 L510.6 77.0 L533.4 88.4" stroke="#e80000" stroke-width="4.0"/><path d="M470.8 153.8 L487.9 136.7" stroke="#e80000" stroke-width="4.0"/><path d="M465.1 216.4 L476.5 199.3" stroke="#e80000" stroke-width="5.0"/><path d="M493.6 239.1 L522.0 227.8 L544.8 210.7" stroke="#e80000" stroke-width="5.0"/><path d="M476.5 250.5 L504.9 244.8" stroke="#e80000" stroke-width="11.0"/><path d="M469.3 335.9 L503.4 347.3 L548.9 352.9" stroke="#e80000" stroke-width="4.0"/><path d="M728.1 207.9 L753.7 196.5 L759.4 227.8 L733.8 253.4" stroke="#e80000" stroke-width="20.0"/><path d="M676.9 267.6 L691.2 253.4 L705.4 267.6 L691.2 281.8 L676.9 267.6" stroke="#e80000" stroke-width="3.0"/><path d="M790.7 361.5 L816.3 381.4 L833.4 404.2" stroke="#e80000" stroke-width="24.0"/><path d="M778.2 579.3 L798.1 604.9 L818.0 624.8" stroke="#e80000" stroke-width="19.0"/><path d="M417.2 602.1 L451.3 602.1 L491.1 613.5 L536.7 613.5 L553.7 641.9 L548.0 676.0 L542.4 704.5 L525.3 732.9 L496.8 741.5 L468.4 715.9 L445.6 710.2 L434.2 676.0 L417.2 641.9Z" fill="#e80000" stroke="#e80000" stroke-width="8.0"/><path d="M371.7 579.3 L394.4 590.7 L417.2 604.9" stroke="#e80000" stroke-width="14.0"/><path d="M479.8 738.6 L542.4 710.2 L576.5 769.9 L513.9 800.1 L491.1 775.6Z" fill="#e80000" stroke="#e80000" stroke-width="2.0"/><path d="M383.9 586.2 L418.0 609.0" stroke="#e80000" stroke-width="5.0"/><path d="M560.3 375.7 L583.1 364.3" stroke="#e80000" stroke-width="4.0"/><path d="M503.4 409.8 L537.5 404.2" stroke="#e80000" stroke-width="4.0"/><path d="M448.0 216.4 L442.4 239.1 L425.3 261.9 L419.6 276.1" stroke="#8c0000" stroke-width="6.0"/><path d="M413.9 276.1 L442.4 301.7 L470.8 321.7 L504.9 335.9 L547.6 341.6 L590.3 350.1" stroke="#8c0000" stroke-width="9.0"/><path d="M374.1 341.6 L396.8 330.2 L419.6 313.1" stroke="#8c0000" stroke-width="7.0"/><path d="M209.1 233.5 L217.6 256.2 L229.0 276.1 L248.9 290.4" stroke="#8c0000" stroke-width="7.0"/><path d="M476.5 250.5 L504.9 244.8" stroke="#8c0000" stroke-width="5.0"/><path d="M728.1 207.9 L753.7 196.5 L759.4 227.8 L733.8 253.4" stroke="#8c0000" stroke-width="14.0"/><path d="M790.7 361.5 L816.3 381.4 L833.4 404.2" stroke="#8c0000" stroke-width="18.0"/><path d="M778.2 579.3 L798.1 604.9 L818.0 624.8" stroke="#8c0000" stroke-width="13.0"/><path d="M417.2 602.1 L451.3 602.1 L491.1 613.5 L536.7 613.5 L553.7 641.9 L548.0 676.0 L542.4 704.5 L525.3 732.9 L496.8 741.5 L468.4 715.9 L445.6 710.2 L434.2 676.0 L417.2 641.9Z" fill="#8c0000" stroke="#8c0000" stroke-width="2.0"/><path d="M371.7 579.3 L394.4 590.7 L417.2 604.9" stroke="#8c0000" stroke-width="8.0"/><path d="M732.7 602.1 L761.1 590.7 L789.6 619.1 L795.3 653.3 L761.1 664.7 L738.4 641.9Z" fill="#0000a0" stroke="#0000a0" stroke-width="0.0"/><path d="M436.7 102.6 L476.5 96.9 L499.3 125.3 L465.1 142.4 L442.4 131.0Z" fill="#0000a0" stroke="#0000a0" stroke-width="0.0"/><path d="M503.9 668.9 L505.0 682.7" stroke="#00d0ff" stroke-width="6.9"/><path d="M464.0 669.6 L464.9 679.6" stroke="#00d0ff" stroke-width="6.3"/><path d="M470.2 649.6 L473.7 661.8" stroke="#00d0ff" stroke-width="4.5"/><path d="M484.9 670.6 L484.3 679.8" stroke="#00d0ff" stroke-width="5.3"/><path d="M507.0 635.7 L503.2 648.7" stroke="#00d0ff" stroke-width="6.5"/><path d="M484.2 654.4 L493.7 663.7" stroke="#00d0ff" stroke-width="5.2"/><path d="M505.3 622.4 L506.0 633.4" stroke="#00d0ff" stroke-width="4.0"/><path d="M533.2 645.0 L541.4 648.8" stroke="#00d0ff" stroke-width="5.9"/><path d="M506.7 619.7 L510.9 632.3" stroke="#00d0ff" stroke-width="6.6"/><path d="M486.6 704.5 L483.2 709.1" stroke="#00d0ff" stroke-width="5.1"/><path d="M513.5 667.7 L515.6 674.1" stroke="#00d0ff" stroke-width="3.9"/><path d="M471.7 647.7 L462.1 648.8" stroke="#00d0ff" stroke-width="3.3"/><path d="M540.0 672.8 L545.9 679.8" stroke="#00d0ff" stroke-width="4.5"/><path d="M500.2 699.7 L486.5 702.3" stroke="#00d0ff" stroke-width="3.6"/><path d="M519.2 707.9 L519.2 711.7" stroke="#00d0ff" stroke-width="5.1"/><path d="M510.1 693.1 L511.9 694.7" stroke="#00d0ff" stroke-width="4.4"/><path d="M451.4 629.8 L450.5 640.5" stroke="#00d0ff" stroke-width="3.3"/><path d="M506.8 734.5 L510.6 735.1" stroke="#00d0ff" stroke-width="5.1"/><path d="M555.1 776.6 L563.9 778.1" stroke="#00d0ff" stroke-width="4.6"/><path d="M520.3 733.0 L517.3 733.8" stroke="#00d0ff" stroke-width="6.7"/><path d="M534.5 726.2 L539.7 726.7" stroke="#00d0ff" stroke-width="3.6"/><path d="M506.9 786.3 L505.1 787.9" stroke="#00d0ff" stroke-width="3.0"/><path d="M507.3 745.6 L513.1 753.9" stroke="#00d0ff" stroke-width="5.2"/><path d="M502.9 738.1 L507.3 742.8" stroke="#00d0ff" stroke-width="4.0"/><path d="M512.6 744.4 L513.6 752.2" stroke="#00d0ff" stroke-width="5.5"/><path d="M536.4 737.4 L542.8 742.0" stroke="#00d0ff" stroke-width="6.2"/><path d="M551.2 750.6 L552.3 754.1" stroke="#00d0ff" stroke-width="6.7"/><path d="M489.6 755.6 L494.3 755.7" stroke="#00d0ff" stroke-width="4.8"/><path d="M515.6 753.0 L510.4 760.5" stroke="#00d0ff" stroke-width="5.7"/><path d="M448.9 634.5 L441.7 634.6" stroke="#50ffa0" stroke-width="6.1"/><path d="M508.4 688.7 L504.1 689.3" stroke="#50ffa0" stroke-width="3.1"/><path d="M530.1 631.9 L526.6 642.0" stroke="#50ffa0" stroke-width="5.5"/><path d="M451.3 624.8 L491.1 636.2 L519.6 636.2" stroke="#50ffa0" stroke-width="6.0"/><path d="M531.1 775.7 L532.5 777.9" stroke="#50ffa0" stroke-width="4.3"/><path d="M521.7 770.7 L527.7 772.5" stroke="#50ffa0" stroke-width="4.8"/><path d="M472.7 663.7 L467.9 670.6" stroke="#ffe800" stroke-width="5.6"/><path d="M427.4 629.6 L414.5 634.0" stroke="#ffe800" stroke-width="6.0"/><path d="M521.3 683.0 L520.8 685.8" stroke="#ffe800" stroke-width="5.2"/><path d="M502.7 718.3 L500.9 724.2" stroke="#ffe800" stroke-width="4.2"/><path d="M477.2 658.9 L470.4 662.7" stroke="#ffe800" stroke-width="3.2"/><path d="M548.1 675.4 L540.5 676.5" stroke="#ffe800" stroke-width="6.6"/><path d="M467.1 623.5 L469.2 632.5" stroke="#ffe800" stroke-width="5.3"/><path d="M469.4 619.6 L468.7 621.8" stroke="#ffe800" stroke-width="5.6"/><path d="M533.5 683.5 L526.2 690.7" stroke="#ffe800" stroke-width="6.2"/><path d="M482.7 670.6 L489.9 676.5" stroke="#ffe800" stroke-width="4.8"/><path d="M503.6 688.4 L496.4 698.4" stroke="#ffe800" stroke-width="5.7"/><path d="M445.3 648.8 L452.7 653.8" stroke="#ffe800" stroke-width="3.3"/><path d="M490.3 670.6 L496.0 680.7" stroke="#ffe800" stroke-width="4.1"/><path d="M465.4 643.6 L463.7 644.8" stroke="#ffe800" stroke-width="5.7"/><path d="M462.7 647.6 L485.5 664.7" stroke="#ffe800" stroke-width="4.0"/><path d="M542.8 741.3 L538.5 741.8" stroke="#ffe800" stroke-width="4.3"/><path d="M497.6 745.5 L487.0 747.0" stroke="#ffe800" stroke-width="5.1"/><path d="M534.3 745.9 L532.8 750.6" stroke="#ffe800" stroke-width="5.2"/><path d="M498.8 731.6 L496.0 732.6" stroke="#ffe800" stroke-width="3.7"/><path d="M497.8 741.7 L502.5 744.4" stroke="#ffe800" stroke-width="5.8"/><path d="M521.8 734.4 L524.1 735.9" stroke="#ffe800" stroke-width="5.7"/><path d="M516.3 786.5 L513.4 789.3" stroke="#ffe800" stroke-width="5.5"/><path d="M547.8 764.9 L544.7 767.1" stroke="#ffe800" stroke-width="6.6"/><path d="M533.1 742.7 L540.2 750.4" stroke="#ffe800" stroke-width="4.0"/><path d="M530.6 741.5 L526.5 747.2" stroke="#ffe800" stroke-width="6.3"/><path d="M519.0 788.8 L517.6 791.2" stroke="#ffe800" stroke-width="5.1"/><path d="M514.8 795.8 L509.4 800.7" stroke="#ffe800" stroke-width="3.1"/><path d="M571.5 771.9 L579.7 773.6" stroke="#ffe800" stroke-width="5.3"/><path d="M510.9 771.0 L502.1 773.8" stroke="#ffe800" stroke-width="6.2"/><path d="M533.3 742.1 L523.3 742.6" stroke="#ffe800" stroke-width="3.5"/><path d="M538.3 737.9 L535.7 739.6" stroke="#ffe800" stroke-width="5.0"/><path d="M478.8 655.9 L485.4 656.4" stroke="#ff7800" stroke-width="3.4"/><path d="M452.4 642.5 L454.0 647.2" stroke="#ff7800" stroke-width="6.5"/><path d="M436.1 621.9 L439.2 622.1" stroke="#ff7800" stroke-width="4.8"/><path d="M460.0 607.9 L457.5 610.9" stroke="#ff7800" stroke-width="7.0"/><path d="M528.8 714.0 L541.6 718.1" stroke="#ff7800" stroke-width="5.4"/><path d="M465.7 646.4 L468.9 647.2" stroke="#ff7800" stroke-width="3.3"/><path d="M528.4 708.0 L520.4 709.3" stroke="#ff7800" stroke-width="5.7"/><path d="M439.3 630.2 L449.5 633.2" stroke="#ff7800" stroke-width="3.7"/><path d="M488.5 688.5 L489.8 699.3" stroke="#ff7800" stroke-width="3.4"/><path d="M545.6 667.2 L541.9 673.7" stroke="#ff7800" stroke-width="5.7"/><path d="M565.0 763.2 L570.3 766.5" stroke="#ff7800" stroke-width="3.4"/><path d="M532.6 741.6 L528.2 751.8" stroke="#ff7800" stroke-width="4.8"/><path d="M531.5 722.8 L526.9 723.2" stroke="#ff7800" stroke-width="5.8"/><path d="M542.9 739.1 L544.3 740.5" stroke="#ff7800" stroke-width="3.5"/><path d="M510.2 790.1 L507.2 791.0" stroke="#ff7800" stroke-width="6.3"/><path d="M494.5 760.5 L494.4 770.5" stroke="#ff7800" stroke-width="3.3"/><path d="M557.9 770.5 L555.6 773.9" stroke="#ff7800" stroke-width="6.7"/><path d="M534.3 781.3 L542.5 781.9" stroke="#ff7800" stroke-width="6.7"/><path d="M533.6 784.2 L541.3 790.1" stroke="#ff7800" stroke-width="4.0"/><path d="M542.0 734.5 L539.6 741.8" stroke="#ff7800" stroke-width="4.0"/><path d="M552.2 741.5 L549.9 743.9" stroke="#ff7800" stroke-width="3.2"/><path d="M442.2 675.6 L443.1 677.5" stroke="#e80000" stroke-width="5.3"/><path d="M518.4 614.4 L520.3 627.4" stroke="#e80000" stroke-width="5.2"/><path d="M431.3 611.2 L432.2 615.2" stroke="#e80000" stroke-width="3.6"/><path d="M502.0 627.4 L498.0 632.6" stroke="#e80000" stroke-width="5.2"/><path d="M536.5 710.0 L541.1 722.3" stroke="#e80000" stroke-width="6.5"/><path d="M471.5 681.1 L478.9 688.6" stroke="#e80000" stroke-width="5.8"/><path d="M450.9 700.2 L452.5 706.9" stroke="#e80000" stroke-width="6.2"/><path d="M469.9 687.8 L464.8 694.3" stroke="#e80000" stroke-width="6.6"/><path d="M439.9 681.6 L433.6 685.1" stroke="#e80000" stroke-width="4.2"/><path d="M450.5 682.2 L438.8 685.0" stroke="#e80000" stroke-width="6.5"/><path d="M442.6 615.8 L445.5 619.0" stroke="#e80000" stroke-width="3.2"/><path d="M528.7 756.7 L522.9 758.1" stroke="#8c0000" stroke-width="3.7"/><path d="M524.3 786.3 L532.6 790.0" stroke="#8c0000" stroke-width="4.1"/><path d="M536.0 765.8 L532.3 769.8" stroke="#8c0000" stroke-width="6.7"/><path d="M509.1 738.3 L508.5 746.0" stroke="#8c0000" stroke-width="5.2"/><path d="M371.2 207.9 L385.5 207.9 L388.3 233.5 L374.1 239.1Z" fill="#0000a0" stroke="#0000a0" stroke-width="0.0"/><path d="M562.3 653.3 L593.6 647.6 L604.9 704.5 L576.5 732.9 L559.4 704.5Z" fill="#0000a0" stroke="#0000a0" stroke-width="0.0"/></g>
<use href="#stk1"/>
</g>
<use href="#isl"/>
<use href="#frame"/>
<text x="816.5" y="914" font-size="73" fill="#111">(b)</text>
</g>
<g transform="translate(0.0,927.5)">
<use href="#base"/><use href="#grid"/>
<g clip-path="url(#seaclip)"><rect x="173.0" y="47.3" width="778.8" height="904.2" fill="#0000d4"/>
<g filter="url(#b3)" stroke-linecap="round" stroke-linejoin="round" fill="none"><path d="M480.6 449.7 L560.3 415.5 L617.2 358.6 L674.1 358.6 L708.2 438.3 L674.1 495.2 L617.2 529.3 L560.3 597.6 L514.8 586.2 L469.3 529.3Z" fill="#0000a0" stroke="#0000a0" stroke-width="0.0"/><path d="M287.2 210.7 L344.1 170.9 L401.0 153.8 L457.9 199.3 L435.1 256.2 L389.6 284.7 L332.7 290.4 L292.9 256.2Z" fill="#0000a0" stroke="#0000a0" stroke-width="0.0"/><path d="M594.4 205.0 L674.1 193.6 L662.7 279.0 L628.6 324.5 L594.4 279.0Z" fill="#0000a0" stroke="#0000a0" stroke-width="0.0"/><path d="M412.4 142.4 L457.9 79.8 L526.2 85.5 L531.8 142.4 L480.6 182.2Z" fill="#0060ff" stroke="#0060ff" stroke-width="0.0"/><path d="M463.6 74.1 L503.4 79.8 L526.2 96.9" stroke="#0060ff" stroke-width="34.0"/><path d="M429.4 125.3 L457.9 102.6 L492.0 91.2" stroke="#0060ff" stroke-width="15.0"/><path d="M480.6 131.0 L514.8 119.7 L526.2 102.6" stroke="#0060ff" stroke-width="14.0"/><path d="M412.4 148.1 L457.9 153.8 L492.0 142.4" stroke="#0060ff" stroke-width="14.0"/><path d="M429.4 128.2 L446.5 114.0" stroke="#0060ff" stroke-width="21.0"/><path d="M474.9 111.1 L497.7 102.6" stroke="#0060ff" stroke-width="21.0"/><path d="M213.2 233.5 L224.6 256.2 L247.3 273.3 L275.8 284.7 L304.2 290.4" stroke="#0060ff" stroke-width="42.0"/><path d="M218.9 227.8 L236.0 216.4" stroke="#0060ff" stroke-width="21.0"/><path d="M247.3 227.8 L275.8 239.1 L298.6 256.2" stroke="#0060ff" stroke-width="12.0"/><path d="M304.2 290.4 L327.0 307.4 L332.7 335.9" stroke="#0060ff" stroke-width="35.0"/><path d="M321.3 347.3 L349.8 358.6 L378.2 347.3 L406.7 324.5 L429.4 307.4" stroke="#0060ff" stroke-width="35.0"/><path d="M349.8 324.5 L372.5 313.1" stroke="#0060ff" stroke-width="11.0"/><path d="M449.3 185.1 L460.7 207.9" stroke="#0060ff" stroke-width="38.0"/><path d="M469.3 176.6 L492.0 187.9" stroke="#0060ff" stroke-width="14.0"/><path d="M452.2 261.9 L469.3 290.4 L503.4 318.8 L548.9 335.9 L583.1 347.3" stroke="#0060ff" stroke-width="31.0"/><path d="M435.1 307.4 L480.6 330.2 L526.2 341.6 L571.7 352.9" stroke="#0060ff" stroke-width="34.0"/><path d="M457.9 250.5 L492.0 279.0 L537.5 307.4 L577.4 324.5" stroke="#0060ff" stroke-width="20.0"/><path d="M480.6 256.2 L509.1 249.4 L526.2 267.6" stroke="#0060ff" stroke-width="35.0"/><path d="M526.2 233.5 L560.3 210.7" stroke="#0060ff" stroke-width="12.0"/><path d="M537.5 205.0 L571.7 182.2 L617.2 168.0 L662.7 168.0 L696.9 182.2" stroke="#0060ff" stroke-width="28.0"/><path d="M560.3 210.7 L594.4 189.1 L651.3 180.5 L691.2 194.8" stroke="#0060ff" stroke-width="18.0"/><path d="M728.1 207.9 L753.7 200.5 L759.4 233.5 L736.7 255.1" stroke="#0060ff" stroke-width="50.0"/><path d="M674.1 256.2 L696.9 244.8 L719.6 267.6 L702.5 290.4 L679.8 279.0 L674.1 256.2" stroke="#0060ff" stroke-width="21.0"/><path d="M696.9 246.0 L716.8 264.8" stroke="#0060ff" stroke-width="33.0"/><path d="M662.7 227.8 L685.5 210.7 L708.2 227.8" stroke="#0060ff" stroke-width="13.0"/><path d="M759.4 347.3 L787.9 330.2 L827.7 341.6" stroke="#0060ff" stroke-width="28.0"/><path d="M790.7 358.6 L816.3 378.5 L833.4 404.2" stroke="#0060ff" stroke-width="54.0"/><path d="M833.4 438.3 L844.8 472.4 L839.1 506.6" stroke="#0060ff" stroke-width="22.0"/><path d="M790.7 511.4 L782.2 545.5 L773.7 579.7" stroke="#0060ff" stroke-width="25.0"/><path d="M779.4 534.1 L794.7 568.3 L810.6 602.4 L822.0 636.6" stroke="#0060ff" stroke-width="56.0"/><path d="M628.6 699.1 L674.1 715.1 L731.0 706.0 L765.1 692.3" stroke="#0060ff" stroke-width="27.0"/><path d="M662.7 716.2 L691.2 723.0" stroke="#0060ff" stroke-width="28.0"/><path d="M594.4 568.3 L611.5 625.2 L617.2 670.7" stroke="#0060ff" stroke-width="16.0"/><path d="M560.3 534.1 L577.4 591.0" stroke="#0060ff" stroke-width="10.0"/><path d="M554.6 659.3 L583.1 687.8 L617.2 699.1" stroke="#0060ff" stroke-width="13.0"/><path d="M537.5 727.6 L560.3 756.0 L571.7 795.9" stroke="#0060ff" stroke-width="12.0"/><path d="M560.3 716.2 L594.4 744.7 L617.2 773.1" stroke="#0060ff" stroke-width="17.0"/><path d="M577.4 733.3 L600.1 750.4" stroke="#0060ff" stroke-width="21.0"/><path d="M617.2 438.3 L634.3 483.8" stroke="#0060ff" stroke-width="13.0"/><path d="M383.9 579.7 L412.4 593.9 L457.9 601.3 L503.4 608.1 L537.5 630.9 L554.6 665.0 L548.9 699.1" stroke="#0060ff" stroke-width="36.0"/><path d="M406.7 599.6 L418.0 633.7 L435.1 670.7 L457.9 699.1 L480.6 716.2" stroke="#0060ff" stroke-width="45.0"/><path d="M494.9 702.0 L517.6 727.6" stroke="#0060ff" stroke-width="58.0"/><path d="M511.9 727.6 L517.6 761.7" stroke="#0060ff" stroke-width="48.0"/><path d="M480.6 773.1 L503.4 793.0 L531.8 784.5" stroke="#0060ff" stroke-width="22.0"/><path d="M503.4 750.4 L526.2 773.1 L531.8 807.3" stroke="#0060ff" stroke-width="35.0"/><path d="M332.7 552.1 L361.1 580.5 L401.0 586.2" stroke="#0060ff" stroke-width="28.0"/><path d="M349.8 512.3 L378.2 495.2 L418.0 478.1 L457.9 449.7 L503.4 426.9 L548.9 409.8" stroke="#0060ff" stroke-width="14.0"/><path d="M418.0 478.1 L457.9 449.7 L503.4 426.9" stroke="#0060ff" stroke-width="16.0"/><path d="M435.1 449.7 L469.3 426.9 L514.8 409.8 L560.3 392.8 L583.1 370.0" stroke="#0060ff" stroke-width="34.0"/><path d="M446.5 438.3 L480.6 422.4" stroke="#0060ff" stroke-width="21.0"/><path d="M355.5 540.7 L401.0 552.1 L446.5 574.9" stroke="#0060ff" stroke-width="12.0"/><path d="M583.1 358.6 L600.1 381.4 L594.4 409.8" stroke="#0060ff" stroke-width="12.0"/><path d="M585.9 364.3 L597.3 381.4" stroke="#0060ff" stroke-width="21.0"/><path d="M463.6 74.1 L503.4 79.8 L526.2 96.9" stroke="#00d0ff" stroke-width="28.0"/><path d="M429.4 125.3 L457.9 102.6 L492.0 91.2" stroke="#00d0ff" stroke-width="9.0"/><path d="M480.6 131.0 L514.8 119.7 L526.2 102.6" stroke="#00d0ff" stroke-width="8.0"/><path d="M412.4 148.1 L457.9 153.8 L492.0 142.4" stroke="#00d0ff" stroke-width="8.0"/><path d="M429.4 128.2 L446.5 114.0" stroke="#00d0ff" stroke-width="15.0"/><path d="M474.9 111.1 L497.7 102.6" stroke="#00d0ff" stroke-width="15.0"/><path d="M213.2 233.5 L224.6 256.2 L247.3 273.3 L275.8 284.7 L304.2 290.4" stroke="#00d0ff" stroke-width="36.0"/><path d="M218.9 227.8 L236.0 216.4" stroke="#00d0ff" stroke-width="15.0"/><path d="M247.3 227.8 L275.8 239.1 L298.6 256.2" stroke="#00d0ff" stroke-width="6.0"/><path d="M304.2 290.4 L327.0 307.4 L332.7 335.9" stroke="#00d0ff" stroke-width="29.0"/><path d="M321.3 347.3 L349.8 358.6 L378.2 347.3 L406.7 324.5 L429.4 307.4" stroke="#00d0ff" stroke-width="29.0"/><path d="M349.8 324.5 L372.5 313.1" stroke="#00d0ff" stroke-width="5.0"/><path d="M449.3 185.1 L460.7 207.9" stroke="#00d0ff" stroke-width="32.0"/><path d="M469.3 176.6 L492.0 187.9" stroke="#00d0ff" stroke-width="8.0"/><path d="M452.2 261.9 L469.3 290.4 L503.4 318.8 L548.9 335.9 L583.1 347.3" stroke="#00d0ff" stroke-width="25.0"/><path d="M435.1 307.4 L480.6 330.2 L526.2 341.6 L571.7 352.9" stroke="#00d0ff" stroke-width="28.0"/><path d="M457.9 250.5 L492.0 279.0 L537.5 307.4 L577.4 324.5" stroke="#00d0ff" stroke-width="14.0"/><path d="M480.6 256.2 L509.1 249.4 L526.2 267.6" stroke="#00d0ff" stroke-width="29.0"/><path d="M526.2 233.5 L560.3 210.7" stroke="#00d0ff" stroke-width="6.0"/><path d="M537.5 205.0 L571.7 182.2 L617.2 168.0 L662.7 168.0 L696.9 182.2" stroke="#00d0ff" stroke-width="22.0"/><path d="M560.3 210.7 L594.4 189.1 L651.3 180.5 L691.2 194.8" stroke="#00d0ff" stroke-width="12.0"/><path d="M728.1 207.9 L753.7 200.5 L759.4 233.5 L736.7 255.1" stroke="#00d0ff" stroke-width="44.0"/><path d="M674.1 256.2 L696.9 244.8 L719.6 267.6 L702.5 290.4 L679.8 279.0 L674.1 256.2" stroke="#00d0ff" stroke-width="15.0"/><path d="M696.9 246.0 L716.8 264.8" stroke="#00d0ff" stroke-width="27.0"/><path d="M662.7 227.8 L685.5 210.7 L708.2 227.8" stroke="#00d0ff" stroke-width="7.0"/><path d="M696.9 307.4 L731.0 358.6 L753.7 415.5 L776.5 472.4 L793.6 529.3" stroke="#00d0ff" stroke-width="46.0"/><path d="M759.4 347.3 L787.9 330.2 L827.7 341.6" stroke="#00d0ff" stroke-width="22.0"/><path d="M790.7 358.6 L816.3 378.5 L833.4 404.2" stroke="#00d0ff" stroke-width="48.0"/><path d="M833.4 438.3 L844.8 472.4 L839.1 506.6" stroke="#00d0ff" stroke-width="16.0"/><path d="M790.7 511.4 L782.2 545.5 L773.7 579.7" stroke="#00d0ff" stroke-width="19.0"/><path d="M779.4 534.1 L794.7 568.3 L810.6 602.4 L822.0 636.6" stroke="#00d0ff" stroke-width="50.0"/><path d="M634.3 534.1 L674.1 500.0 L731.0 500.0 L765.1 522.8 L787.9 568.3 L787.9 647.9 L765.1 693.5 L708.2 710.5 L651.3 704.8 L617.2 670.7 L634.3 613.8 L645.6 568.3Z" fill="#00d0ff" stroke="#00d0ff" stroke-width="0.0"/><path d="M628.6 699.1 L674.1 715.1 L731.0 706.0 L765.1 692.3" stroke="#00d0ff" stroke-width="21.0"/><path d="M662.7 716.2 L691.2 723.0" stroke="#00d0ff" stroke-width="22.0"/><path d="M554.6 659.3 L583.1 687.8 L617.2 699.1" stroke="#00d0ff" stroke-width="7.0"/><path d="M537.5 727.6 L560.3 756.0 L571.7 795.9" stroke="#00d0ff" stroke-width="6.0"/><path d="M560.3 716.2 L594.4 744.7 L617.2 773.1" stroke="#00d0ff" stroke-width="11.0"/><path d="M577.4 733.3 L600.1 750.4" stroke="#00d0ff" stroke-width="15.0"/><path d="M617.2 438.3 L634.3 483.8" stroke="#00d0ff" stroke-width="7.0"/><path d="M429.4 613.8 L480.6 611.0 L526.2 625.2 L543.2 665.0 L526.2 693.5 L480.6 687.8 L446.5 665.0Z" fill="#00d0ff" stroke="#00d0ff" stroke-width="0.0"/><path d="M383.9 579.7 L412.4 593.9 L457.9 601.3 L503.4 608.1 L537.5 630.9 L554.6 665.0 L548.9 699.1" stroke="#00d0ff" stroke-width="30.0"/><path d="M406.7 599.6 L418.0 633.7 L435.1 670.7 L457.9 699.1 L480.6 716.2" stroke="#00d0ff" stroke-width="39.0"/><path d="M494.9 702.0 L517.6 727.6" stroke="#00d0ff" stroke-width="52.0"/><path d="M511.9 727.6 L517.6 761.7" stroke="#00d0ff" stroke-width="42.0"/><path d="M480.6 773.1 L503.4 793.0 L531.8 784.5" stroke="#00d0ff" stroke-width="16.0"/><path d="M503.4 750.4 L526.2 773.1 L531.8 807.3" stroke="#00d0ff" stroke-width="29.0"/><path d="M332.7 552.1 L361.1 580.5 L401.0 586.2" stroke="#00d0ff" stroke-width="22.0"/><path d="M349.8 512.3 L378.2 495.2 L418.0 478.1 L457.9 449.7 L503.4 426.9 L548.9 409.8" stroke="#00d0ff" stroke-width="8.0"/><path d="M418.0 478.1 L457.9 449.7 L503.4 426.9" stroke="#00d0ff" stroke-width="10.0"/><path d="M435.1 449.7 L469.3 426.9 L514.8 409.8 L560.3 392.8 L583.1 370.0" stroke="#00d0ff" stroke-width="28.0"/><path d="M446.5 438.3 L480.6 422.4" stroke="#00d0ff" stroke-width="15.0"/><path d="M355.5 540.7 L401.0 552.1 L446.5 574.9" stroke="#00d0ff" stroke-width="6.0"/><path d="M583.1 358.6 L600.1 381.4 L594.4 409.8" stroke="#00d0ff" stroke-width="6.0"/><path d="M585.9 364.3 L597.3 381.4" stroke="#00d0ff" stroke-width="15.0"/><path d="M463.6 74.1 L503.4 79.8 L526.2 96.9" stroke="#50ffa0" stroke-width="22.0"/><path d="M429.4 128.2 L446.5 114.0" stroke="#50ffa0" stroke-width="9.0"/><path d="M474.9 111.1 L497.7 102.6" stroke="#50ffa0" stroke-width="9.0"/><path d="M213.2 233.5 L224.6 256.2 L247.3 273.3 L275.8 284.7 L304.2 290.4" stroke="#50ffa0" stroke-width="30.0"/><path d="M218.9 227.8 L236.0 216.4" stroke="#50ffa0" stroke-width="9.0"/><path d="M304.2 290.4 L327.0 307.4 L332.7 335.9" stroke="#50ffa0" stroke-width="23.0"/><path d="M321.3 347.3 L349.8 358.6 L378.2 347.3 L406.7 324.5 L429.4 307.4" stroke="#50ffa0" stroke-width="23.0"/><path d="M449.3 185.1 L460.7 207.9" stroke="#50ffa0" stroke-width="26.0"/><path d="M452.2 261.9 L469.3 290.4 L503.4 318.8 L548.9 335.9 L583.1 347.3" stroke="#50ffa0" stroke-width="19.0"/><path d="M435.1 307.4 L480.6 330.2 L526.2 341.6 L571.7 352.9" stroke="#50ffa0" stroke-width="22.0"/><path d="M457.9 250.5 L492.0 279.0 L537.5 307.4 L577.4 324.5" stroke="#50ffa0" stroke-width="8.0"/><path d="M480.6 256.2 L509.1 249.4 L526.2 267.6" stroke="#50ffa0" stroke-width="23.0"/><path d="M537.5 205.0 L571.7 182.2 L617.2 168.0 L662.7 168.0 L696.9 182.2" stroke="#50ffa0" stroke-width="16.0"/><path d="M560.3 210.7 L594.4 189.1 L651.3 180.5 L691.2 194.8" stroke="#50ffa0" stroke-width="6.0"/><path d="M728.1 207.9 L753.7 200.5 L759.4 233.5 L736.7 255.1" stroke="#50ffa0" stroke-width="38.0"/><path d="M674.1 256.2 L696.9 244.8 L719.6 267.6 L702.5 290.4 L679.8 279.0 L674.1 256.2" stroke="#50ffa0" stroke-width="9.0"/><path d="M696.9 246.0 L716.8 264.8" stroke="#50ffa0" stroke-width="21.0"/><path d="M702.5 313.1 L736.7 364.3 L759.4 421.2 L782.2 478.1 L794.7 523.6" stroke="#50ffa0" stroke-width="24.0"/><path d="M759.4 347.3 L787.9 330.2 L827.7 341.6" stroke="#50ffa0" stroke-width="16.0"/><path d="M790.7 358.6 L816.3 378.5 L833.4 404.2" stroke="#50ffa0" stroke-width="42.0"/><path d="M833.4 438.3 L844.8 472.4 L839.1 506.6" stroke="#50ffa0" stroke-width="10.0"/><path d="M790.7 511.4 L782.2 545.5 L773.7 579.7" stroke="#50ffa0" stroke-width="13.0"/><path d="M779.4 534.1 L794.7 568.3 L810.6 602.4 L822.0 636.6" stroke="#50ffa0" stroke-width="44.0"/><path d="M662.7 522.8 L674.1 579.7 L691.2 642.2 L708.2 693.5" stroke="#50ffa0" stroke-width="10.0"/><path d="M691.2 505.7 L708.2 562.6 L731.0 625.2 L742.4 682.1" stroke="#50ffa0" stroke-width="10.0"/><path d="M731.0 511.4 L753.7 562.6 L770.8 613.8 L773.7 665.0" stroke="#50ffa0" stroke-width="10.0"/><path d="M645.6 585.3 L657.0 642.2 L674.1 687.8" stroke="#50ffa0" stroke-width="8.0"/><path d="M628.6 699.1 L674.1 715.1 L731.0 706.0 L765.1 692.3" stroke="#50ffa0" stroke-width="15.0"/><path d="M662.7 716.2 L691.2 723.0" stroke="#50ffa0" stroke-width="16.0"/><path d="M560.3 716.2 L594.4 744.7 L617.2 773.1" stroke="#50ffa0" stroke-width="5.0"/><path d="M577.4 733.3 L600.1 750.4" stroke="#50ffa0" stroke-width="9.0"/><path d="M440.8 622.3 L480.6 636.6 L503.4 670.7" stroke="#50ffa0" stroke-width="6.0"/><path d="M383.9 579.7 L412.4 593.9 L457.9 601.3 L503.4 608.1 L537.5 630.9 L554.6 665.0 L548.9 699.1" stroke="#50ffa0" stroke-width="24.0"/><path d="M406.7 599.6 L418.0 633.7 L435.1 670.7 L457.9 699.1 L480.6 716.2" stroke="#50ffa0" stroke-width="33.0"/><path d="M494.9 702.0 L517.6 727.6" stroke="#50ffa0" stroke-width="46.0"/><path d="M511.9 727.6 L517.6 761.7" stroke="#50ffa0" stroke-width="36.0"/><path d="M480.6 773.1 L503.4 793.0 L531.8 784.5" stroke="#50ffa0" stroke-width="10.0"/><path d="M503.4 750.4 L526.2 773.1 L531.8 807.3" stroke="#50ffa0" stroke-width="23.0"/><path d="M332.7 552.1 L361.1 580.5 L401.0 586.2" stroke="#50ffa0" stroke-width="16.0"/><path d="M418.0 478.1 L457.9 449.7 L503.4 426.9" stroke="#50ffa0" stroke-width="4.0"/><path d="M435.1 449.7 L469.3 426.9 L514.8 409.8 L560.3 392.8 L583.1 370.0" stroke="#50ffa0" stroke-width="22.0"/><path d="M446.5 438.3 L480.6 422.4" stroke="#50ffa0" stroke-width="9.0"/><path d="M585.9 364.3 L597.3 381.4" stroke="#50ffa0" stroke-width="9.0"/><path d="M463.6 74.1 L503.4 79.8 L526.2 96.9" stroke="#ffe800" stroke-width="16.0"/><path d="M429.4 128.2 L446.5 114.0" stroke="#ffe800" stroke-width="3.0"/><path d="M474.9 111.1 L497.7 102.6" stroke="#ffe800" stroke-width="3.0"/><path d="M213.2 233.5 L224.6 256.2 L247.3 273.3 L275.8 284.7 L304.2 290.4" stroke="#ffe800" stroke-width="24.0"/><path d="M218.9 227.8 L236.0 216.4" stroke="#ffe800" stroke-width="3.0"/><path d="M304.2 290.4 L327.0 307.4 L332.7 335.9" stroke="#ffe800" stroke-width="17.0"/><path d="M321.3 347.3 L349.8 358.6 L378.2 347.3 L406.7 324.5 L429.4 307.4" stroke="#ffe800" stroke-width="17.0"/><path d="M449.3 185.1 L460.7 207.9" stroke="#ffe800" stroke-width="20.0"/><path d="M452.2 261.9 L469.3 290.4 L503.4 318.8 L548.9 335.9 L583.1 347.3" stroke="#ffe800" stroke-width="13.0"/><path d="M435.1 307.4 L480.6 330.2 L526.2 341.6 L571.7 352.9" stroke="#ffe800" stroke-width="16.0"/><path d="M480.6 256.2 L509.1 249.4 L526.2 267.6" stroke="#ffe800" stroke-width="17.0"/><path d="M537.5 205.0 L571.7 182.2 L617.2 168.0 L662.7 168.0 L696.9 182.2" stroke="#ffe800" stroke-width="10.0"/><path d="M728.1 207.9 L753.7 200.5 L759.4 233.5 L736.7 255.1" stroke="#ffe800" stroke-width="32.0"/><path d="M674.1 256.2 L696.9 244.8 L719.6 267.6 L702.5 290.4 L679.8 279.0 L674.1 256.2" stroke="#ffe800" stroke-width="3.0"/><path d="M696.9 246.0 L716.8 264.8" stroke="#ffe800" stroke-width="15.0"/><path d="M759.4 347.3 L787.9 330.2 L827.7 341.6" stroke="#ffe800" stroke-width="10.0"/><path d="M790.7 358.6 L816.3 378.5 L833.4 404.2" stroke="#ffe800" stroke-width="36.0"/><path d="M833.4 438.3 L844.8 472.4 L839.1 506.6" stroke="#ffe800" stroke-width="4.0"/><path d="M790.7 511.4 L782.2 545.5 L773.7 579.7" stroke="#ffe800" stroke-width="7.0"/><path d="M779.4 534.1 L794.7 568.3 L810.6 602.4 L822.0 636.6" stroke="#ffe800" stroke-width="38.0"/><path d="M628.6 699.1 L674.1 715.1 L731.0 706.0 L765.1 692.3" stroke="#ffe800" stroke-width="9.0"/><path d="M662.7 716.2 L691.2 723.0" stroke="#ffe800" stroke-width="10.0"/><path d="M577.4 733.3 L600.1 750.4" stroke="#ffe800" stroke-width="3.0"/><path d="M457.9 614.9 L503.4 622.9" stroke="#ffe800" stroke-width="4.0"/><path d="M383.9 579.7 L412.4 593.9 L457.9 601.3 L503.4 608.1 L537.5 630.9 L554.6 665.0 L548.9 699.1" stroke="#ffe800" stroke-width="18.0"/><path d="M406.7 599.6 L418.0 633.7 L435.1 670.7 L457.9 699.1 L480.6 716.2" stroke="#ffe800" stroke-width="27.0"/><path d="M494.9 702.0 L517.6 727.6" stroke="#ffe800" stroke-width="40.0"/><path d="M511.9 727.6 L517.6 761.7" stroke="#ffe800" stroke-width="30.0"/><path d="M480.6 773.1 L503.4 793.0 L531.8 784.5" stroke="#ffe800" stroke-width="4.0"/><path d="M503.4 750.4 L526.2 773.1 L531.8 807.3" stroke="#ffe800" stroke-width="17.0"/><path d="M332.7 552.1 L361.1 580.5 L401.0 586.2" stroke="#ffe800" stroke-width="10.0"/><path d="M435.1 449.7 L469.3 426.9 L514.8 409.8 L560.3 392.8 L583.1 370.0" stroke="#ffe800" stroke-width="16.0"/><path d="M446.5 438.3 L480.6 422.4" stroke="#ffe800" stroke-width="3.0"/><path d="M585.9 364.3 L597.3 381.4" stroke="#ffe800" stroke-width="3.0"/><path d="M463.6 74.1 L503.4 79.8 L526.2 96.9" stroke="#ff7800" stroke-width="10.0"/><path d="M213.2 233.5 L224.6 256.2 L247.3 273.3 L275.8 284.7 L304.2 290.4" stroke="#ff7800" stroke-width="18.0"/><path d="M304.2 290.4 L327.0 307.4 L332.7 335.9" stroke="#ff7800" stroke-width="11.0"/><path d="M321.3 347.3 L349.8 358.6 L378.2 347.3 L406.7 324.5 L429.4 307.4" stroke="#ff7800" stroke-width="11.0"/><path d="M449.3 185.1 L460.7 207.9" stroke="#ff7800" stroke-width="14.0"/><path d="M435.1 307.4 L480.6 330.2 L526.2 341.6 L571.7 352.9" stroke="#ff7800" stroke-width="10.0"/><path d="M480.6 256.2 L509.1 249.4 L526.2 267.6" stroke="#ff7800" stroke-width="11.0"/><path d="M537.5 205.0 L571.7 182.2 L617.2 168.0 L662.7 168.0 L696.9 182.2" stroke="#ff7800" stroke-width="4.0"/><path d="M728.1 207.9 L753.7 200.5 L759.4 233.5 L736.7 255.1" stroke="#ff7800" stroke-width="26.0"/><path d="M696.9 246.0 L716.8 264.8" stroke="#ff7800" stroke-width="9.0"/><path d="M759.4 347.3 L787.9 330.2 L827.7 341.6" stroke="#ff7800" stroke-width="4.0"/><path d="M790.7 358.6 L816.3 378.5 L833.4 404.2" stroke="#ff7800" stroke-width="30.0"/><path d="M779.4 534.1 L794.7 568.3 L810.6 602.4 L822.0 636.6" stroke="#ff7800" stroke-width="32.0"/><path d="M662.7 716.2 L691.2 723.0" stroke="#ff7800" stroke-width="4.0"/><path d="M383.9 579.7 L412.4 593.9 L457.9 601.3 L503.4 608.1 L537.5 630.9 L554.6 665.0 L548.9 699.1" stroke="#ff7800" stroke-width="12.0"/><path d="M406.7 599.6 L418.0 633.7 L435.1 670.7 L457.9 699.1 L480.6 716.2" stroke="#ff7800" stroke-width="21.0"/><path d="M494.9 702.0 L517.6 727.6" stroke="#ff7800" stroke-width="34.0"/><path d="M511.9 727.6 L517.6 761.7" stroke="#ff7800" stroke-width="24.0"/><path d="M503.4 750.4 L526.2 773.1 L531.8 807.3" stroke="#ff7800" stroke-width="11.0"/><path d="M332.7 552.1 L361.1 580.5 L401.0 586.2" stroke="#ff7800" stroke-width="4.0"/><path d="M435.1 449.7 L469.3 426.9 L514.8 409.8 L560.3 392.8 L583.1 370.0" stroke="#ff7800" stroke-width="10.0"/><path d="M463.6 74.1 L503.4 79.8 L526.2 96.9" stroke="#e80000" stroke-width="4.0"/><path d="M213.2 233.5 L224.6 256.2 L247.3 273.3 L275.8 284.7 L304.2 290.4" stroke="#e80000" stroke-width="12.0"/><path d="M304.2 290.4 L327.0 307.4 L332.7 335.9" stroke="#e80000" stroke-width="5.0"/><path d="M321.3 347.3 L349.8 358.6 L378.2 347.3 L406.7 324.5 L429.4 307.4" stroke="#e80000" stroke-width="5.0"/><path d="M449.3 185.1 L460.7 207.9" stroke="#e80000" stroke-width="8.0"/><path d="M435.1 307.4 L480.6 330.2 L526.2 341.6 L571.7 352.9" stroke="#e80000" stroke-width="4.0"/><path d="M480.6 256.2 L509.1 249.4 L526.2 267.6" stroke="#e80000" stroke-width="5.0"/><path d="M728.1 207.9 L753.7 200.5 L759.4 233.5 L736.7 255.1" stroke="#e80000" stroke-width="20.0"/><path d="M696.9 246.0 L716.8 264.8" stroke="#e80000" stroke-width="3.0"/><path d="M790.7 358.6 L816.3 378.5 L833.4 404.2" stroke="#e80000" stroke-width="24.0"/><path d="M779.4 534.1 L794.7 568.3 L810.6 602.4 L822.0 636.6" stroke="#e80000" stroke-width="26.0"/><path d="M383.9 579.7 L412.4 593.9 L457.9 601.3 L503.4 608.1 L537.5 630.9 L554.6 665.0 L548.9 699.1" stroke="#e80000" stroke-width="6.0"/><path d="M406.7 599.6 L418.0 633.7 L435.1 670.7 L457.9 699.1 L480.6 716.2" stroke="#e80000" stroke-width="15.0"/><path d="M494.9 702.0 L517.6 727.6" stroke="#e80000" stroke-width="28.0"/><path d="M511.9 727.6 L517.6 761.7" stroke="#e80000" stroke-width="18.0"/><path d="M503.4 750.4 L526.2 773.1 L531.8 807.3" stroke="#e80000" stroke-width="5.0"/><path d="M435.1 449.7 L469.3 426.9 L514.8 409.8 L560.3 392.8 L583.1 370.0" stroke="#e80000" stroke-width="4.0"/><path d="M213.2 233.5 L224.6 256.2 L247.3 273.3 L275.8 284.7 L304.2 290.4" stroke="#8c0000" stroke-width="6.0"/><path d="M728.1 207.9 L753.7 200.5 L759.4 233.5 L736.7 255.1" stroke="#8c0000" stroke-width="14.0"/><path d="M790.7 358.6 L816.3 378.5 L833.4 404.2" stroke="#8c0000" stroke-width="18.0"/><path d="M779.4 534.1 L794.7 568.3 L810.6 602.4 L822.0 636.6" stroke="#8c0000" stroke-width="20.0"/><path d="M406.7 599.6 L418.0 633.7 L435.1 670.7 L457.9 699.1 L480.6 716.2" stroke="#8c0000" stroke-width="9.0"/><path d="M494.9 702.0 L517.6 727.6" stroke="#8c0000" stroke-width="22.0"/><path d="M511.9 727.6 L517.6 761.7" stroke="#8c0000" stroke-width="12.0"/><path d="M722.5 324.5 L753.7 381.4 L773.7 438.3" stroke="#0000a0" stroke-width="4.0"/><path d="M702.5 579.7 L736.7 574.0 L753.7 602.4 L742.4 630.9 L708.2 625.2Z" fill="#0000a0" stroke="#0000a0" stroke-width="0.0"/><path d="M483.5 642.2 L514.8 659.3" stroke="#0060ff" stroke-width="46.0"/><path d="M483.5 642.2 L514.8 659.3" stroke="#00d0ff" stroke-width="40.0"/><path d="M483.5 642.2 L514.8 659.3" stroke="#50ffa0" stroke-width="34.0"/><path d="M483.5 642.2 L514.8 659.3" stroke="#ffe800" stroke-width="28.0"/><path d="M483.5 642.2 L514.8 659.3" stroke="#ff7800" stroke-width="22.0"/><path d="M483.5 642.2 L514.8 659.3" stroke="#e80000" stroke-width="16.0"/><path d="M483.5 642.2 L514.8 659.3" stroke="#8c0000" stroke-width="10.0"/></g>
<use href="#stk0"/>
</g>
<use href="#isl"/>
<use href="#frame"/>
<text x="816.5" y="914" font-size="73" fill="#111">(c)</text>
</g>
<g transform="translate(807.4,927.5)">
<use href="#base"/><use href="#grid"/>
<g clip-path="url(#seaclip)"><rect x="173.0" y="47.3" width="778.8" height="904.2" fill="#000098"/>
<g filter="url(#b3)" stroke-linecap="round" stroke-linejoin="round" fill="none"><path d="M213.2 222.1 L304.2 205.0 L315.6 279.0 L264.4 290.4 L213.2 267.6Z" fill="#0000fa" stroke="#0000fa" stroke-width="0.0"/><path d="M412.4 142.4 L457.9 79.8 L526.2 85.5 L531.8 142.4 L480.6 182.2Z" fill="#0000fa" stroke="#0000fa" stroke-width="0.0"/><path d="M309.9 296.0 L412.4 301.7 L480.6 279.0 L526.2 307.4 L480.6 335.9 L401.0 347.3 L332.7 375.7 L309.9 347.3Z" fill="#0000fa" stroke="#0000fa" stroke-width="0.0"/><path d="M332.7 552.1 L355.5 495.2 L401.0 461.1 L446.5 432.6 L503.4 404.2 L560.3 392.8" stroke="#0000fa" stroke-width="16.0"/><path d="M537.5 222.1 L571.7 193.6 L617.2 170.9 L674.1 165.2 L731.0 182.2" stroke="#0000fa" stroke-width="14.0"/><path d="M753.7 210.7 L731.0 279.0 L753.7 335.9 L799.3 358.6" stroke="#0000fa" stroke-width="14.0"/><path d="M839.1 415.5 L844.8 483.8 L816.3 552.1 L805.0 609.0 L816.3 665.9" stroke="#0000fa" stroke-width="14.0"/><path d="M548.9 609.0 L594.4 665.9 L628.6 722.8 L674.1 734.2" stroke="#0000fa" stroke-width="24.0"/><path d="M378.9 580.9 L464.2 580.9 L578.0 637.8 L663.4 734.6 L578.0 797.2 L521.1 819.9 L481.3 780.1 L435.8 711.8 L407.3 637.8Z" fill="#0000fa" stroke="#0000fa" stroke-width="0.0"/><path d="M304.2 187.9 L349.8 153.8 L418.0 142.4 L469.3 153.8 L480.6 210.7 L457.9 267.6 L412.4 301.7 L349.8 307.4 L315.6 267.6Z" fill="#0060ff" stroke="#0060ff" stroke-width="0.0"/><path d="M379.8 173.2 L357.0 193.1 L345.6 221.6 L351.3 250.0 L368.4 267.1" stroke="#0060ff" stroke-width="35.0"/><path d="M391.1 187.4 L368.4 210.2 L362.7 235.8 L374.1 255.7" stroke="#0060ff" stroke-width="31.0"/><path d="M396.8 198.8 L379.8 221.6 L385.5 250.0 L408.2 255.7" stroke="#0060ff" stroke-width="18.0"/><path d="M413.9 181.7 L436.7 178.9 L456.6 193.1 L448.0 221.6" stroke="#0060ff" stroke-width="38.0"/><path d="M419.6 224.4 L436.7 238.6" stroke="#0060ff" stroke-width="29.0"/><path d="M442.4 255.7 L459.4 267.1 L476.5 261.4" stroke="#0060ff" stroke-width="38.0"/><path d="M413.9 281.3 L428.1 289.9 L442.4 284.2" stroke="#0060ff" stroke-width="36.0"/><path d="M419.6 295.5 L436.7 312.6" stroke="#0060ff" stroke-width="29.0"/><path d="M334.2 346.8 L345.6 363.8 L362.7 352.4" stroke="#0060ff" stroke-width="30.0"/><path d="M339.9 329.7 L362.7 324.0 L385.5 312.6" stroke="#0060ff" stroke-width="19.0"/><path d="M311.5 352.4 L325.7 369.5 L351.3 375.2" stroke="#0060ff" stroke-width="14.0"/><path d="M328.6 292.7 L342.8 304.1" stroke="#0060ff" stroke-width="31.0"/><path d="M214.8 221.6 L223.3 250.0 L237.5 272.8 L257.4 287.0" stroke="#0060ff" stroke-width="39.0"/><path d="M226.1 221.6 L234.7 238.6" stroke="#0060ff" stroke-width="28.0"/><path d="M243.2 221.6 L266.0 227.3 L285.9 238.6" stroke="#0060ff" stroke-width="12.0"/><path d="M502.1 82.2 L524.9 93.6" stroke="#0060ff" stroke-width="35.0"/><path d="M433.8 110.6 L462.3 124.8 L476.5 147.6" stroke="#0060ff" stroke-width="14.0"/><path d="M462.3 73.6 L482.2 90.7" stroke="#0060ff" stroke-width="12.0"/><path d="M519.2 104.9 L533.4 90.7" stroke="#0060ff" stroke-width="12.0"/><path d="M487.9 238.6 L504.9 255.7 L522.0 261.4" stroke="#0060ff" stroke-width="35.0"/><path d="M476.5 272.8 L499.3 295.5 L527.7 312.6 L547.6 335.4" stroke="#0060ff" stroke-width="12.0"/><path d="M476.5 324.0 L487.9 332.5" stroke="#0060ff" stroke-width="21.0"/><path d="M519.2 221.6 L547.6 210.2" stroke="#0060ff" stroke-width="11.0"/><path d="M465.1 215.9 L476.5 198.8" stroke="#0060ff" stroke-width="11.0"/><path d="M502.3 242.7 L503.0 251.8" stroke="#0060ff" stroke-width="6.9"/><path d="M535.8 271.7 L537.7 273.5" stroke="#0060ff" stroke-width="9.0"/><path d="M523.4 265.9 L519.8 267.6" stroke="#0060ff" stroke-width="5.2"/><path d="M551.4 212.0 L551.1 212.3" stroke="#0060ff" stroke-width="8.1"/><path d="M505.2 246.7 L498.2 248.4" stroke="#0060ff" stroke-width="6.0"/><path d="M520.3 249.2 L516.7 251.3" stroke="#0060ff" stroke-width="6.9"/><path d="M558.6 278.3 L554.5 283.9" stroke="#0060ff" stroke-width="5.6"/><path d="M546.0 225.7 L541.0 225.7" stroke="#0060ff" stroke-width="5.5"/><path d="M483.5 215.0 L485.5 217.2" stroke="#0060ff" stroke-width="7.4"/><path d="M725.3 193.6 L753.7 205.0 L753.7 239.1 L731.0 267.6 L713.9 301.7" stroke="#0060ff" stroke-width="30.0"/><path d="M734.4 236.4 L734.8 239.3" stroke="#0060ff" stroke-width="5.2"/><path d="M720.6 308.7 L716.6 309.4" stroke="#0060ff" stroke-width="7.1"/><path d="M787.9 347.3 L816.3 370.0 L833.4 392.8" stroke="#0060ff" stroke-width="38.0"/><path d="M788.9 410.5 L790.5 413.6" stroke="#0060ff" stroke-width="6.6"/><path d="M834.9 364.0 L836.5 364.3" stroke="#0060ff" stroke-width="8.9"/><path d="M833.4 426.9 L844.8 472.4 L833.4 518.0 L810.6 552.1 L799.3 597.6 L810.6 631.7" stroke="#0060ff" stroke-width="11.0"/><path d="M840.9 602.0 L848.5 602.9" stroke="#0060ff" stroke-width="4.7"/><path d="M825.6 630.6 L828.8 630.8" stroke="#0060ff" stroke-width="6.4"/><path d="M841.4 598.6 L836.4 603.4" stroke="#0060ff" stroke-width="7.5"/><path d="M828.1 499.3 L831.3 503.4" stroke="#0060ff" stroke-width="7.4"/><path d="M818.4 475.2 L818.5 476.1" stroke="#0060ff" stroke-width="8.0"/><path d="M788.8 558.4 L784.9 560.7" stroke="#0060ff" stroke-width="8.0"/><path d="M820.4 532.1 L828.2 537.4" stroke="#0060ff" stroke-width="7.4"/><path d="M841.5 475.6 L841.3 478.9" stroke="#0060ff" stroke-width="8.9"/><path d="M850.8 522.3 L851.0 525.0" stroke="#0060ff" stroke-width="6.4"/><path d="M792.7 513.5 L793.4 519.8" stroke="#0060ff" stroke-width="5.8"/><path d="M794.3 620.1 L798.9 625.3" stroke="#0060ff" stroke-width="7.2"/><path d="M827.3 551.8 L823.8 552.5" stroke="#0060ff" stroke-width="8.3"/><path d="M786.8 476.7 L788.3 482.6" stroke="#0060ff" stroke-width="7.9"/><path d="M842.4 536.2 L843.3 538.3" stroke="#0060ff" stroke-width="8.8"/><path d="M832.6 486.8 L832.0 488.1" stroke="#0060ff" stroke-width="4.5"/><path d="M790.0 566.9 L797.1 568.4" stroke="#0060ff" stroke-width="4.2"/><path d="M339.1 569.6 L373.2 589.5 L407.3 603.7" stroke="#0060ff" stroke-width="30.0"/><path d="M480.6 609.0 L526.2 620.4 L560.3 654.5 L594.4 688.6" stroke="#0060ff" stroke-width="13.0"/><path d="M560.3 722.8 L594.4 756.9 L628.6 745.5" stroke="#0060ff" stroke-width="13.0"/><path d="M537.5 620.4 L548.9 643.1" stroke="#0060ff" stroke-width="16.0"/><path d="M519.3 789.2 L521.2 789.5" stroke="#0060ff" stroke-width="4.7"/><path d="M619.1 698.5 L619.9 704.8" stroke="#0060ff" stroke-width="6.3"/><path d="M565.1 635.9 L565.8 636.5" stroke="#0060ff" stroke-width="4.1"/><path d="M526.2 678.8 L522.6 685.1" stroke="#0060ff" stroke-width="4.5"/><path d="M564.0 636.2 L557.3 638.9" stroke="#0060ff" stroke-width="5.4"/><path d="M541.5 772.5 L541.0 774.0" stroke="#0060ff" stroke-width="6.7"/><path d="M534.2 668.7 L538.3 671.6" stroke="#0060ff" stroke-width="4.8"/><path d="M524.1 657.0 L524.7 658.7" stroke="#0060ff" stroke-width="4.8"/><path d="M623.4 710.9 L623.1 712.3" stroke="#0060ff" stroke-width="6.0"/><path d="M506.0 718.0 L506.1 718.1" stroke="#0060ff" stroke-width="5.9"/><path d="M586.0 773.4 L584.2 773.6" stroke="#0060ff" stroke-width="6.2"/><path d="M565.5 691.8 L569.1 693.1" stroke="#0060ff" stroke-width="7.6"/><path d="M542.2 642.5 L542.7 642.7" stroke="#0060ff" stroke-width="5.1"/><path d="M635.4 728.1 L630.1 728.4" stroke="#0060ff" stroke-width="7.7"/><path d="M583.1 760.8 L585.7 765.0" stroke="#0060ff" stroke-width="5.9"/><path d="M518.8 656.6 L522.7 665.6" stroke="#0060ff" stroke-width="8.7"/><path d="M542.3 789.9 L540.2 791.3" stroke="#0060ff" stroke-width="7.0"/><path d="M546.9 728.0 L539.6 733.7" stroke="#0060ff" stroke-width="4.7"/><path d="M528.8 710.4 L523.3 712.8" stroke="#0060ff" stroke-width="7.3"/><path d="M637.1 719.0 L638.2 720.1" stroke="#0060ff" stroke-width="5.9"/><path d="M503.3 662.7 L504.9 663.4" stroke="#0060ff" stroke-width="6.2"/><path d="M332.7 540.7 L366.8 574.9 L401.0 609.0" stroke="#0060ff" stroke-width="14.0"/><path d="M377.1 566.4 L375.2 571.6" stroke="#0060ff" stroke-width="4.2"/><path d="M412.4 605.0 L413.9 606.3" stroke="#0060ff" stroke-width="8.0"/><path d="M387.6 502.8 L386.1 503.6" stroke="#0060ff" stroke-width="5.3"/><path d="M396.5 557.8 L397.0 558.3" stroke="#0060ff" stroke-width="4.7"/><path d="M344.1 518.0 L389.6 495.2 L429.4 461.1 L469.3 432.6" stroke="#0060ff" stroke-width="8.0"/><path d="M339.9 159.0 L385.5 141.9 L459.4 153.3 L465.1 198.8 L448.0 255.7 L413.9 295.5 L362.7 306.9 L328.6 278.5 L322.9 221.6Z" fill="#00d0ff" stroke="#00d0ff" stroke-width="0.0"/><path d="M379.8 173.2 L357.0 193.1 L345.6 221.6 L351.3 250.0 L368.4 267.1" stroke="#00d0ff" stroke-width="29.0"/><path d="M391.1 187.4 L368.4 210.2 L362.7 235.8 L374.1 255.7" stroke="#00d0ff" stroke-width="25.0"/><path d="M396.8 198.8 L379.8 221.6 L385.5 250.0 L408.2 255.7" stroke="#00d0ff" stroke-width="12.0"/><path d="M413.9 181.7 L436.7 178.9 L456.6 193.1 L448.0 221.6" stroke="#00d0ff" stroke-width="32.0"/><path d="M419.6 224.4 L436.7 238.6" stroke="#00d0ff" stroke-width="23.0"/><path d="M442.4 255.7 L459.4 267.1 L476.5 261.4" stroke="#00d0ff" stroke-width="32.0"/><path d="M413.9 281.3 L428.1 289.9 L442.4 284.2" stroke="#00d0ff" stroke-width="30.0"/><path d="M419.6 295.5 L436.7 312.6" stroke="#00d0ff" stroke-width="23.0"/><path d="M334.2 346.8 L345.6 363.8 L362.7 352.4" stroke="#00d0ff" stroke-width="24.0"/><path d="M339.9 329.7 L362.7 324.0 L385.5 312.6" stroke="#00d0ff" stroke-width="13.0"/><path d="M311.5 352.4 L325.7 369.5 L351.3 375.2" stroke="#00d0ff" stroke-width="8.0"/><path d="M328.6 292.7 L342.8 304.1" stroke="#00d0ff" stroke-width="25.0"/><path d="M214.8 221.6 L223.3 250.0 L237.5 272.8 L257.4 287.0" stroke="#00d0ff" stroke-width="33.0"/><path d="M226.1 221.6 L234.7 238.6" stroke="#00d0ff" stroke-width="22.0"/><path d="M243.2 221.6 L266.0 227.3 L285.9 238.6" stroke="#00d0ff" stroke-width="6.0"/><path d="M502.1 82.2 L524.9 93.6" stroke="#00d0ff" stroke-width="29.0"/><path d="M433.8 110.6 L462.3 124.8 L476.5 147.6" stroke="#00d0ff" stroke-width="8.0"/><path d="M462.3 73.6 L482.2 90.7" stroke="#00d0ff" stroke-width="6.0"/><path d="M519.2 104.9 L533.4 90.7" stroke="#00d0ff" stroke-width="6.0"/><path d="M487.9 238.6 L504.9 255.7 L522.0 261.4" stroke="#00d0ff" stroke-width="29.0"/><path d="M476.5 272.8 L499.3 295.5 L527.7 312.6 L547.6 335.4" stroke="#00d0ff" stroke-width="6.0"/><path d="M476.5 324.0 L487.9 332.5" stroke="#00d0ff" stroke-width="15.0"/><path d="M519.2 221.6 L547.6 210.2" stroke="#00d0ff" stroke-width="5.0"/><path d="M465.1 215.9 L476.5 198.8" stroke="#00d0ff" stroke-width="5.0"/><path d="M553.5 234.7 L561.9 237.4" stroke="#00d0ff" stroke-width="4.7"/><path d="M529.3 231.8 L524.4 239.4" stroke="#00d0ff" stroke-width="8.6"/><path d="M530.0 244.9 L535.6 249.3" stroke="#00d0ff" stroke-width="8.2"/><path d="M532.8 222.0 L530.8 226.4" stroke="#00d0ff" stroke-width="6.4"/><path d="M519.5 232.4 L519.4 232.8" stroke="#00d0ff" stroke-width="4.2"/><path d="M725.3 193.6 L753.7 205.0 L753.7 239.1 L731.0 267.6 L713.9 301.7" stroke="#00d0ff" stroke-width="24.0"/><path d="M736.9 220.1 L736.7 222.3" stroke="#00d0ff" stroke-width="5.4"/><path d="M713.3 196.1 L722.7 196.9" stroke="#00d0ff" stroke-width="7.2"/><path d="M718.8 217.8 L717.6 220.7" stroke="#00d0ff" stroke-width="7.7"/><path d="M756.0 297.4 L760.2 304.8" stroke="#00d0ff" stroke-width="5.9"/><path d="M718.8 286.6 L718.6 287.0" stroke="#00d0ff" stroke-width="5.4"/><path d="M750.4 262.8 L749.2 263.0" stroke="#00d0ff" stroke-width="5.5"/><path d="M753.7 220.6 L759.2 227.7" stroke="#00d0ff" stroke-width="5.3"/><path d="M787.9 347.3 L816.3 370.0 L833.4 392.8" stroke="#00d0ff" stroke-width="32.0"/><path d="M825.4 403.4 L819.0 408.8" stroke="#00d0ff" stroke-width="5.2"/><path d="M802.8 405.2 L802.3 406.5" stroke="#00d0ff" stroke-width="4.6"/><path d="M837.7 412.8 L839.0 418.1" stroke="#00d0ff" stroke-width="5.9"/><path d="M828.1 349.1 L832.1 356.1" stroke="#00d0ff" stroke-width="5.0"/><path d="M833.4 426.9 L844.8 472.4 L833.4 518.0 L810.6 552.1 L799.3 597.6 L810.6 631.7" stroke="#00d0ff" stroke-width="5.0"/><path d="M796.9 612.0 L796.5 614.0" stroke="#00d0ff" stroke-width="8.0"/><path d="M801.8 598.3 L806.0 605.6" stroke="#00d0ff" stroke-width="4.5"/><path d="M841.1 457.7 L845.9 461.2" stroke="#00d0ff" stroke-width="7.3"/><path d="M841.8 632.7 L846.3 637.1" stroke="#00d0ff" stroke-width="6.1"/><path d="M793.9 603.1 L787.7 603.8" stroke="#00d0ff" stroke-width="4.9"/><path d="M339.1 569.6 L373.2 589.5 L407.3 603.7" stroke="#00d0ff" stroke-width="24.0"/><path d="M480.6 609.0 L526.2 620.4 L560.3 654.5 L594.4 688.6" stroke="#00d0ff" stroke-width="7.0"/><path d="M560.3 722.8 L594.4 756.9 L628.6 745.5" stroke="#00d0ff" stroke-width="7.0"/><path d="M537.5 620.4 L548.9 643.1" stroke="#00d0ff" stroke-width="10.0"/><path d="M490.5 644.3 L488.3 648.7" stroke="#00d0ff" stroke-width="8.5"/><path d="M570.9 699.1 L563.6 702.6" stroke="#00d0ff" stroke-width="8.6"/><path d="M573.7 666.2 L575.9 668.0" stroke="#00d0ff" stroke-width="4.2"/><path d="M494.3 611.5 L494.1 611.8" stroke="#00d0ff" stroke-width="7.8"/><path d="M591.2 740.9 L591.9 748.0" stroke="#00d0ff" stroke-width="6.0"/><path d="M584.8 734.0 L584.9 735.0" stroke="#00d0ff" stroke-width="7.3"/><path d="M592.2 670.5 L586.9 676.7" stroke="#00d0ff" stroke-width="7.0"/><path d="M554.2 753.4 L559.4 754.7" stroke="#00d0ff" stroke-width="8.6"/><path d="M538.2 637.2 L537.7 637.6" stroke="#00d0ff" stroke-width="4.9"/><path d="M332.7 540.7 L366.8 574.9 L401.0 609.0" stroke="#00d0ff" stroke-width="8.0"/><path d="M377.1 534.8 L376.1 536.4" stroke="#00d0ff" stroke-width="5.7"/><path d="M375.9 582.8 L377.5 583.1" stroke="#00d0ff" stroke-width="4.7"/><path d="M423.2 589.3 L425.1 592.8" stroke="#00d0ff" stroke-width="4.2"/><path d="M381.1 562.1 L382.5 566.0" stroke="#00d0ff" stroke-width="7.2"/><path d="M387.0 566.6 L382.0 572.1" stroke="#00d0ff" stroke-width="6.9"/><path d="M366.5 512.5 L364.2 522.1" stroke="#00d0ff" stroke-width="4.1"/><path d="M380.8 580.7 L386.3 581.9" stroke="#00d0ff" stroke-width="7.2"/><path d="M412.4 601.1 L412.6 602.9" stroke="#00d0ff" stroke-width="6.8"/><path d="M379.8 173.2 L357.0 193.1 L345.6 221.6 L351.3 250.0 L368.4 267.1" stroke="#50ffa0" stroke-width="23.0"/><path d="M391.1 187.4 L368.4 210.2 L362.7 235.8 L374.1 255.7" stroke="#50ffa0" stroke-width="19.0"/><path d="M396.8 198.8 L379.8 221.6 L385.5 250.0 L408.2 255.7" stroke="#50ffa0" stroke-width="6.0"/><path d="M413.9 181.7 L436.7 178.9 L456.6 193.1 L448.0 221.6" stroke="#50ffa0" stroke-width="26.0"/><path d="M419.6 224.4 L436.7 238.6" stroke="#50ffa0" stroke-width="17.0"/><path d="M442.4 255.7 L459.4 267.1 L476.5 261.4" stroke="#50ffa0" stroke-width="26.0"/><path d="M413.9 281.3 L428.1 289.9 L442.4 284.2" stroke="#50ffa0" stroke-width="24.0"/><path d="M419.6 295.5 L436.7 312.6" stroke="#50ffa0" stroke-width="17.0"/><path d="M334.2 346.8 L345.6 363.8 L362.7 352.4" stroke="#50ffa0" stroke-width="18.0"/><path d="M339.9 329.7 L362.7 324.0 L385.5 312.6" stroke="#50ffa0" stroke-width="7.0"/><path d="M328.6 292.7 L342.8 304.1" stroke="#50ffa0" stroke-width="19.0"/><path d="M214.8 221.6 L223.3 250.0 L237.5 272.8 L257.4 287.0" stroke="#50ffa0" stroke-width="27.0"/><path d="M226.1 221.6 L234.7 238.6" stroke="#50ffa0" stroke-width="16.0"/><path d="M502.1 82.2 L524.9 93.6" stroke="#50ffa0" stroke-width="23.0"/><path d="M487.9 238.6 L504.9 255.7 L522.0 261.4" stroke="#50ffa0" stroke-width="23.0"/><path d="M476.5 324.0 L487.9 332.5" stroke="#50ffa0" stroke-width="9.0"/><path d="M725.3 193.6 L753.7 205.0 L753.7 239.1 L731.0 267.6 L713.9 301.7" stroke="#50ffa0" stroke-width="18.0"/><path d="M787.9 347.3 L816.3 370.0 L833.4 392.8" stroke="#50ffa0" stroke-width="26.0"/><path d="M339.1 569.6 L373.2 589.5 L407.3 603.7" stroke="#50ffa0" stroke-width="18.0"/><path d="M537.5 620.4 L548.9 643.1" stroke="#50ffa0" stroke-width="4.0"/><path d="M515.1 750.3 L514.1 750.9" stroke="#50ffa0" stroke-width="5.9"/><path d="M578.6 745.7 L579.9 748.7" stroke="#50ffa0" stroke-width="7.2"/><path d="M569.4 636.7 L563.5 638.4" stroke="#50ffa0" stroke-width="7.7"/><path d="M625.8 700.4 L630.5 706.7" stroke="#50ffa0" stroke-width="8.2"/><path d="M514.0 671.3 L514.7 673.2" stroke="#50ffa0" stroke-width="5.9"/><path d="M598.5 668.5 L604.0 672.3" stroke="#50ffa0" stroke-width="8.1"/><path d="M508.5 696.8 L500.9 703.1" stroke="#50ffa0" stroke-width="7.1"/><path d="M527.4 762.0 L524.8 762.9" stroke="#50ffa0" stroke-width="6.1"/><path d="M535.1 656.7 L544.6 658.7" stroke="#50ffa0" stroke-width="8.5"/><path d="M509.8 725.0 L503.8 731.5" stroke="#50ffa0" stroke-width="6.4"/><path d="M379.8 173.2 L357.0 193.1 L345.6 221.6 L351.3 250.0 L368.4 267.1" stroke="#ffe800" stroke-width="17.0"/><path d="M391.1 187.4 L368.4 210.2 L362.7 235.8 L374.1 255.7" stroke="#ffe800" stroke-width="13.0"/><path d="M413.9 181.7 L436.7 178.9 L456.6 193.1 L448.0 221.6" stroke="#ffe800" stroke-width="20.0"/><path d="M419.6 224.4 L436.7 238.6" stroke="#ffe800" stroke-width="11.0"/><path d="M442.4 255.7 L459.4 267.1 L476.5 261.4" stroke="#ffe800" stroke-width="20.0"/><path d="M413.9 281.3 L428.1 289.9 L442.4 284.2" stroke="#ffe800" stroke-width="18.0"/><path d="M419.6 295.5 L436.7 312.6" stroke="#ffe800" stroke-width="11.0"/><path d="M334.2 346.8 L345.6 363.8 L362.7 352.4" stroke="#ffe800" stroke-width="12.0"/><path d="M328.6 292.7 L342.8 304.1" stroke="#ffe800" stroke-width="13.0"/><path d="M214.8 221.6 L223.3 250.0 L237.5 272.8 L257.4 287.0" stroke="#ffe800" stroke-width="21.0"/><path d="M226.1 221.6 L234.7 238.6" stroke="#ffe800" stroke-width="10.0"/><path d="M502.1 82.2 L524.9 93.6" stroke="#ffe800" stroke-width="17.0"/><path d="M487.9 238.6 L504.9 255.7 L522.0 261.4" stroke="#ffe800" stroke-width="17.0"/><path d="M476.5 324.0 L487.9 332.5" stroke="#ffe800" stroke-width="3.0"/><path d="M725.3 193.6 L753.7 205.0 L753.7 239.1 L731.0 267.6 L713.9 301.7" stroke="#ffe800" stroke-width="12.0"/><path d="M787.9 347.3 L816.3 370.0 L833.4 392.8" stroke="#ffe800" stroke-width="20.0"/><path d="M770.1 350.2 L773.5 353.4" stroke="#ffe800" stroke-width="6.7"/><path d="M855.6 359.9 L854.7 362.7" stroke="#ffe800" stroke-width="4.0"/><path d="M830.7 366.6 L832.7 369.6" stroke="#ffe800" stroke-width="7.5"/><path d="M840.2 345.7 L848.7 346.7" stroke="#ffe800" stroke-width="8.7"/><path d="M773.9 366.9 L778.4 374.9" stroke="#ffe800" stroke-width="8.6"/><path d="M817.9 364.3 L815.4 366.1" stroke="#ffe800" stroke-width="7.1"/><path d="M805.2 351.2 L803.8 351.9" stroke="#ffe800" stroke-width="5.5"/><path d="M835.7 379.5 L831.2 380.9" stroke="#ffe800" stroke-width="4.6"/><path d="M339.1 569.6 L373.2 589.5 L407.3 603.7" stroke="#ffe800" stroke-width="12.0"/><path d="M379.8 173.2 L357.0 193.1 L345.6 221.6 L351.3 250.0 L368.4 267.1" stroke="#ff7800" stroke-width="11.0"/><path d="M391.1 187.4 L368.4 210.2 L362.7 235.8 L374.1 255.7" stroke="#ff7800" stroke-width="7.0"/><path d="M413.9 181.7 L436.7 178.9 L456.6 193.1 L448.0 221.6" stroke="#ff7800" stroke-width="14.0"/><path d="M419.6 224.4 L436.7 238.6" stroke="#ff7800" stroke-width="5.0"/><path d="M442.4 255.7 L459.4 267.1 L476.5 261.4" stroke="#ff7800" stroke-width="14.0"/><path d="M413.9 281.3 L428.1 289.9 L442.4 284.2" stroke="#ff7800" stroke-width="12.0"/><path d="M419.6 295.5 L436.7 312.6" stroke="#ff7800" stroke-width="5.0"/><path d="M334.2 346.8 L345.6 363.8 L362.7 352.4" stroke="#ff7800" stroke-width="6.0"/><path d="M328.6 292.7 L342.8 304.1" stroke="#ff7800" stroke-width="7.0"/><path d="M214.8 221.6 L223.3 250.0 L237.5 272.8 L257.4 287.0" stroke="#ff7800" stroke-width="15.0"/><path d="M226.1 221.6 L234.7 238.6" stroke="#ff7800" stroke-width="4.0"/><path d="M502.1 82.2 L524.9 93.6" stroke="#ff7800" stroke-width="11.0"/><path d="M487.9 238.6 L504.9 255.7 L522.0 261.4" stroke="#ff7800" stroke-width="11.0"/><path d="M725.3 193.6 L753.7 205.0 L753.7 239.1 L731.0 267.6 L713.9 301.7" stroke="#ff7800" stroke-width="6.0"/><path d="M787.9 347.3 L816.3 370.0 L833.4 392.8" stroke="#ff7800" stroke-width="14.0"/><path d="M808.9 624.0 L806.6 628.7" stroke="#ff7800" stroke-width="7.5"/><path d="M808.6 462.1 L808.1 463.1" stroke="#ff7800" stroke-width="5.6"/><path d="M796.7 534.6 L791.5 537.6" stroke="#ff7800" stroke-width="8.4"/><path d="M820.8 475.9 L820.9 476.0" stroke="#ff7800" stroke-width="8.5"/><path d="M815.6 582.2 L815.6 582.4" stroke="#ff7800" stroke-width="5.3"/><path d="M339.1 569.6 L373.2 589.5 L407.3 603.7" stroke="#ff7800" stroke-width="6.0"/><path d="M406.6 599.3 L414.7 602.2" stroke="#ff7800" stroke-width="8.4"/><path d="M357.8 554.5 L357.6 554.6" stroke="#ff7800" stroke-width="8.0"/><path d="M349.6 536.9 L353.8 545.6" stroke="#ff7800" stroke-width="4.7"/><path d="M387.8 502.6 L392.2 508.6" stroke="#ff7800" stroke-width="4.6"/><path d="M405.7 576.5 L402.2 577.9" stroke="#ff7800" stroke-width="5.2"/><path d="M413.9 181.7 L436.7 178.9 L456.6 193.1 L448.0 221.6" stroke="#e80000" stroke-width="8.0"/><path d="M442.4 255.7 L459.4 267.1 L476.5 261.4" stroke="#e80000" stroke-width="8.0"/><path d="M413.9 281.3 L428.1 289.9 L442.4 284.2" stroke="#e80000" stroke-width="6.0"/><path d="M214.8 221.6 L223.3 250.0 L237.5 272.8 L257.4 287.0" stroke="#e80000" stroke-width="9.0"/><path d="M502.1 82.2 L524.9 93.6" stroke="#e80000" stroke-width="5.0"/><path d="M487.9 238.6 L504.9 255.7 L522.0 261.4" stroke="#e80000" stroke-width="5.0"/><path d="M717.3 195.7 L721.9 197.1" stroke="#e80000" stroke-width="4.1"/><path d="M718.1 214.6 L717.2 214.8" stroke="#e80000" stroke-width="8.3"/><path d="M736.8 221.5 L731.5 223.6" stroke="#e80000" stroke-width="8.2"/><path d="M736.0 243.9 L735.2 245.2" stroke="#e80000" stroke-width="4.3"/><path d="M759.7 265.4 L760.9 267.8" stroke="#e80000" stroke-width="7.7"/><path d="M722.6 255.3 L723.6 255.5" stroke="#e80000" stroke-width="5.1"/><path d="M707.7 308.5 L700.4 309.4" stroke="#e80000" stroke-width="4.1"/><path d="M787.9 347.3 L816.3 370.0 L833.4 392.8" stroke="#e80000" stroke-width="8.0"/><path d="M820.6 337.1 L824.1 339.3" stroke="#e80000" stroke-width="8.3"/><path d="M785.4 355.5 L790.8 362.4" stroke="#e80000" stroke-width="8.8"/><path d="M817.3 397.6 L815.5 397.8" stroke="#e80000" stroke-width="5.0"/><path d="M783.0 378.9 L782.4 378.9" stroke="#e80000" stroke-width="4.1"/><path d="M846.5 377.1 L840.3 378.0" stroke="#e80000" stroke-width="4.6"/><path d="M816.7 372.8 L820.2 379.4" stroke="#e80000" stroke-width="5.3"/><path d="M809.0 426.8 L810.4 436.5" stroke="#e80000" stroke-width="6.4"/><path d="M844.6 384.3 L844.7 390.6" stroke="#e80000" stroke-width="5.7"/><path d="M413.0 609.4 L441.5 615.1 L469.9 646.4 L504.1 637.8 L538.2 666.3 L549.6 700.4 L543.9 734.6 L561.0 774.4 L538.2 791.5 L509.8 768.7 L492.7 734.6 L481.3 711.8 L452.9 694.7 L430.1 666.3 L415.9 637.8Z" fill="#e80000" stroke="#e80000" stroke-width="3.0"/><path d="M373.9 513.0 L371.6 514.4" stroke="#e80000" stroke-width="5.5"/><path d="M372.4 503.3 L367.6 506.7" stroke="#e80000" stroke-width="7.3"/><path d="M356.6 565.4 L353.3 566.2" stroke="#e80000" stroke-width="5.4"/><path d="M369.0 507.4 L373.0 511.8" stroke="#e80000" stroke-width="4.3"/><path d="M397.4 563.2 L397.0 568.6" stroke="#e80000" stroke-width="6.7"/><path d="M416.0 583.4 L424.7 584.4" stroke="#e80000" stroke-width="7.0"/><path d="M393.3 576.4 L399.0 577.9" stroke="#e80000" stroke-width="4.2"/><path d="M294.4 233.0 L325.7 227.3 L325.7 284.2 L300.1 284.2Z" fill="#0000fa" stroke="#0000fa" stroke-width="0.0"/><path d="M371.9 576.3 L371.7 577.6" stroke="#0060ff" stroke-width="4.7"/><path d="M384.1 592.3 L376.3 594.3" stroke="#0060ff" stroke-width="4.1"/><path d="M345.2 572.9 L345.1 573.1" stroke="#0060ff" stroke-width="7.4"/><path d="M412.3 591.8 L410.5 591.8" stroke="#0060ff" stroke-width="8.8"/><path d="M401.7 595.6 L401.0 600.4" stroke="#0060ff" stroke-width="6.7"/><path d="M600.3 696.5 L595.6 697.7" stroke="#0060ff" stroke-width="3.4"/><path d="M568.9 727.8 L561.4 733.2" stroke="#0060ff" stroke-width="3.1"/><path d="M600.3 760.8 L598.7 760.9" stroke="#0060ff" stroke-width="3.3"/><path d="M598.6 696.8 L602.1 705.0" stroke="#0060ff" stroke-width="3.1"/><path d="M568.5 702.7 L569.7 705.2" stroke="#0060ff" stroke-width="6.0"/><path d="M532.0 640.1 L531.5 644.6" stroke="#0060ff" stroke-width="5.7"/><path d="M553.0 633.5 L560.0 633.7" stroke="#0060ff" stroke-width="5.4"/><path d="M608.9 755.4 L607.2 755.9" stroke="#0060ff" stroke-width="4.6"/><path d="M513.5 634.4 L513.4 634.5" stroke="#0060ff" stroke-width="4.6"/><path d="M526.1 713.7 L527.7 716.8" stroke="#00d0ff" stroke-width="5.0"/><path d="M455.1 679.6 L455.2 679.9" stroke="#00d0ff" stroke-width="3.7"/><path d="M459.2 635.6 L459.7 643.0" stroke="#00d0ff" stroke-width="5.8"/><path d="M489.4 646.8 L489.2 648.2" stroke="#00d0ff" stroke-width="3.1"/><path d="M476.9 703.3 L478.7 707.1" stroke="#00d0ff" stroke-width="3.4"/><path d="M507.1 683.1 L498.6 687.9" stroke="#00d0ff" stroke-width="3.1"/><path d="M477.6 666.9 L479.3 674.5" stroke="#00d0ff" stroke-width="3.1"/><path d="M494.5 691.9 L496.0 701.7" stroke="#00d0ff" stroke-width="3.6"/><path d="M441.5 625.9 L444.5 630.6" stroke="#00d0ff" stroke-width="4.5"/><path d="M446.7 686.7 L449.0 686.9" stroke="#00d0ff" stroke-width="4.4"/><path d="M511.3 678.3 L513.1 688.0" stroke="#00d0ff" stroke-width="3.4"/><path d="M435.4 652.4 L431.8 655.3" stroke="#00d0ff" stroke-width="5.4"/><path d="M363.7 593.9 L356.8 600.7" stroke="#00d0ff" stroke-width="5.1"/><path d="M359.0 591.8 L363.4 594.8" stroke="#00d0ff" stroke-width="6.9"/><path d="M569.0 738.5 L560.4 740.0" stroke="#00d0ff" stroke-width="3.7"/><path d="M596.1 712.3 L595.3 714.0" stroke="#00d0ff" stroke-width="5.4"/><path d="M577.6 768.3 L577.0 774.2" stroke="#00d0ff" stroke-width="4.0"/><path d="M603.9 708.4 L601.4 711.9" stroke="#00d0ff" stroke-width="5.6"/><path d="M586.8 685.4 L580.0 691.8" stroke="#00d0ff" stroke-width="5.2"/><path d="M598.6 745.3 L607.3 748.3" stroke="#00d0ff" stroke-width="4.1"/><path d="M524.3 641.1 L525.4 643.7" stroke="#00d0ff" stroke-width="5.1"/><path d="M589.9 772.9 L595.2 776.9" stroke="#00d0ff" stroke-width="3.2"/><path d="M525.5 646.1 L524.0 649.6" stroke="#00d0ff" stroke-width="5.2"/><path d="M521.0 623.0 L519.6 626.2" stroke="#00d0ff" stroke-width="3.1"/><path d="M541.9 679.8 L545.2 683.3" stroke="#00d0ff" stroke-width="5.7"/><path d="M533.2 645.2 L526.2 645.4" stroke="#00d0ff" stroke-width="3.7"/><path d="M547.4 690.3 L551.1 698.0" stroke="#00d0ff" stroke-width="5.3"/><path d="M547.5 670.9 L546.0 674.8" stroke="#00d0ff" stroke-width="5.0"/><path d="M624.4 750.7 L628.1 755.8" stroke="#00d0ff" stroke-width="5.9"/><path d="M547.3 644.2 L547.3 644.9" stroke="#00d0ff" stroke-width="4.3"/><path d="M581.7 675.3 L578.3 677.2" stroke="#00d0ff" stroke-width="4.5"/><path d="M614.7 704.1 L621.1 710.1" stroke="#00d0ff" stroke-width="4.0"/><path d="M558.6 672.0 L558.7 680.9" stroke="#00d0ff" stroke-width="5.0"/><path d="M616.5 729.2 L622.5 736.0" stroke="#00d0ff" stroke-width="3.2"/><path d="M621.7 710.7 L629.3 711.0" stroke="#00d0ff" stroke-width="3.5"/><path d="M524.3 610.8 L523.1 611.1" stroke="#00d0ff" stroke-width="5.0"/><path d="M602.5 721.6 L602.5 722.0" stroke="#00d0ff" stroke-width="4.5"/><path d="M537.7 644.1 L537.6 648.1" stroke="#00d0ff" stroke-width="3.1"/><path d="M559.4 654.7 L549.6 656.5" stroke="#00d0ff" stroke-width="3.1"/><path d="M554.6 690.4 L554.5 691.1" stroke="#00d0ff" stroke-width="3.9"/><path d="M395.3 598.3 L396.4 598.4" stroke="#50ffa0" stroke-width="5.9"/><path d="M342.7 563.5 L346.1 564.1" stroke="#50ffa0" stroke-width="9.0"/><path d="M412.2 591.0 L411.7 591.1" stroke="#50ffa0" stroke-width="6.9"/><path d="M355.8 568.9 L349.8 569.7" stroke="#50ffa0" stroke-width="6.9"/><path d="M537.5 626.1 L542.7 629.5" stroke="#50ffa0" stroke-width="3.9"/><path d="M595.1 760.5 L596.3 762.3" stroke="#50ffa0" stroke-width="3.0"/><path d="M637.8 742.7 L631.2 747.0" stroke="#50ffa0" stroke-width="5.0"/><path d="M551.2 640.6 L554.1 646.7" stroke="#50ffa0" stroke-width="4.0"/><path d="M561.8 697.8 L554.5 701.9" stroke="#50ffa0" stroke-width="5.4"/><path d="M553.1 646.8 L557.2 650.8" stroke="#50ffa0" stroke-width="5.4"/><path d="M607.9 702.5 L610.2 705.0" stroke="#50ffa0" stroke-width="4.1"/><path d="M572.6 739.4 L572.8 739.6" stroke="#50ffa0" stroke-width="4.7"/><path d="M620.4 738.9 L614.7 740.5" stroke="#50ffa0" stroke-width="3.0"/><path d="M584.1 781.2 L583.4 781.6" stroke="#50ffa0" stroke-width="4.4"/><path d="M554.6 695.3 L552.1 700.4" stroke="#50ffa0" stroke-width="4.2"/><path d="M540.3 677.3 L536.1 681.4" stroke="#50ffa0" stroke-width="5.7"/><path d="M596.0 710.2 L593.4 713.9" stroke="#50ffa0" stroke-width="3.3"/><path d="M430.4 620.1 L431.3 621.0" stroke="#ffe800" stroke-width="4.6"/><path d="M443.8 677.9 L440.8 687.0" stroke="#ffe800" stroke-width="4.9"/><path d="M540.8 736.2 L535.8 737.6" stroke="#ffe800" stroke-width="4.4"/><path d="M487.8 702.7 L487.4 707.2" stroke="#ffe800" stroke-width="4.9"/><path d="M542.7 780.9 L534.0 784.0" stroke="#ffe800" stroke-width="3.8"/><path d="M534.3 764.1 L533.8 768.1" stroke="#ffe800" stroke-width="5.1"/><path d="M486.2 668.9 L485.9 669.4" stroke="#ffe800" stroke-width="4.7"/><path d="M451.8 642.4 L451.2 648.6" stroke="#ffe800" stroke-width="3.8"/><path d="M511.5 678.7 L508.0 683.7" stroke="#ffe800" stroke-width="3.2"/><path d="M494.0 653.9 L495.8 655.1" stroke="#ffe800" stroke-width="4.3"/><path d="M499.8 681.1 L502.1 683.2" stroke="#ffe800" stroke-width="5.3"/><path d="M451.8 674.9 L446.5 682.0" stroke="#ffe800" stroke-width="3.9"/><path d="M420.2 627.9 L425.8 630.8" stroke="#ffe800" stroke-width="6.9"/><path d="M474.4 660.7 L467.0 661.2" stroke="#ffe800" stroke-width="4.0"/><path d="M508.6 688.0 L500.8 691.3" stroke="#ffe800" stroke-width="3.1"/><path d="M443.7 674.3 L445.5 682.4" stroke="#ffe800" stroke-width="3.2"/><path d="M525.4 751.4 L524.8 754.2" stroke="#ffe800" stroke-width="4.5"/><path d="M509.7 681.8 L512.2 685.0" stroke="#ffe800" stroke-width="4.2"/><path d="M603.4 693.8 L607.1 698.1" stroke="#ffe800" stroke-width="3.8"/><path d="M617.5 750.7 L617.7 755.4" stroke="#ffe800" stroke-width="4.4"/><path d="M596.2 741.7 L595.5 749.4" stroke="#ffe800" stroke-width="3.3"/><path d="M588.6 692.1 L581.6 695.4" stroke="#ffe800" stroke-width="5.0"/><path d="M583.1 744.7 L583.2 745.2" stroke="#ffe800" stroke-width="5.4"/><path d="M597.1 727.7 L597.1 727.8" stroke="#ffe800" stroke-width="5.6"/><path d="M543.1 669.8 L548.2 675.7" stroke="#ffe800" stroke-width="3.5"/><path d="M550.9 649.9 L549.1 651.0" stroke="#ffe800" stroke-width="3.1"/><path d="M570.4 699.3 L564.3 700.1" stroke="#ffe800" stroke-width="4.2"/><path d="M606.3 733.1 L602.2 740.9" stroke="#ffe800" stroke-width="4.0"/><path d="M570.8 758.6 L567.1 763.4" stroke="#ffe800" stroke-width="3.8"/><path d="M591.0 695.8 L583.4 698.6" stroke="#ffe800" stroke-width="4.3"/><path d="M566.2 667.5 L566.5 668.3" stroke="#ffe800" stroke-width="4.9"/><path d="M565.8 671.9 L567.4 673.3" stroke="#ffe800" stroke-width="3.2"/><path d="M423.4 625.9 L423.3 626.5" stroke="#ff7800" stroke-width="6.8"/><path d="M474.5 674.7 L483.0 679.1" stroke="#ff7800" stroke-width="3.7"/><path d="M546.1 751.4 L547.4 755.2" stroke="#ff7800" stroke-width="4.9"/><path d="M529.8 669.9 L526.6 673.3" stroke="#ff7800" stroke-width="3.3"/><path d="M522.5 772.9 L514.8 775.9" stroke="#ff7800" stroke-width="3.5"/><path d="M479.2 685.3 L483.6 686.3" stroke="#ff7800" stroke-width="4.0"/><path d="M510.3 739.8 L505.4 745.6" stroke="#ff7800" stroke-width="5.0"/><path d="M518.8 702.8 L512.7 706.9" stroke="#ff7800" stroke-width="3.6"/><path d="M509.2 693.2 L508.5 693.4" stroke="#ff7800" stroke-width="4.1"/><path d="M510.1 664.2 L509.6 665.3" stroke="#ff7800" stroke-width="3.3"/><path d="M424.6 624.1 L433.5 627.7" stroke="#ff7800" stroke-width="6.9"/><path d="M518.9 694.2 L511.3 696.3" stroke="#ff7800" stroke-width="6.3"/><path d="M494.8 668.7 L486.0 669.0" stroke="#ff7800" stroke-width="4.1"/><path d="M484.6 683.7 L490.4 686.8" stroke="#ff7800" stroke-width="5.1"/><path d="M496.8 674.4 L496.7 674.6" stroke="#ff7800" stroke-width="6.2"/><path d="M508.4 680.5 L510.4 680.6" stroke="#ff7800" stroke-width="6.6"/><path d="M472.2 703.7 L475.4 705.3" stroke="#ff7800" stroke-width="6.9"/><path d="M610.3 709.2 L619.2 709.4" stroke="#ff7800" stroke-width="4.7"/><path d="M569.7 720.9 L573.1 724.7" stroke="#ff7800" stroke-width="3.4"/><path d="M577.2 728.3 L578.8 729.3" stroke="#ff7800" stroke-width="3.9"/><path d="M513.0 614.4 L511.3 618.8" stroke="#ff7800" stroke-width="3.7"/><path d="M539.1 658.9 L537.4 663.6" stroke="#ff7800" stroke-width="5.9"/><path d="M569.4 658.6 L569.7 661.9" stroke="#ff7800" stroke-width="4.2"/><path d="M574.7 753.4 L576.4 754.2" stroke="#ff7800" stroke-width="5.9"/><path d="M544.8 688.1 L540.4 694.9" stroke="#ff7800" stroke-width="4.0"/><path d="M405.5 588.5 L408.6 589.8" stroke="#e80000" stroke-width="7.6"/><path d="M396.0 607.6 L396.9 608.3" stroke="#e80000" stroke-width="5.2"/><path d="M393.6 605.3 L395.0 607.4" stroke="#e80000" stroke-width="5.7"/><path d="M355.5 576.2 L364.4 578.8" stroke="#e80000" stroke-width="7.9"/><path d="M348.1 576.0 L340.9 583.0" stroke="#e80000" stroke-width="5.5"/><path d="M460.9 636.9 L460.9 637.6" stroke="#8c0000" stroke-width="4.5"/><path d="M506.3 715.5 L508.2 721.0" stroke="#8c0000" stroke-width="6.9"/><path d="M455.9 635.7 L454.8 641.3" stroke="#8c0000" stroke-width="5.7"/><path d="M440.8 627.1 L438.8 632.4" stroke="#8c0000" stroke-width="5.0"/><path d="M466.5 654.6 L471.6 659.5" stroke="#8c0000" stroke-width="5.3"/><path d="M521.0 661.8 L521.3 663.0" stroke="#8c0000" stroke-width="6.0"/><path d="M426.9 658.5 L426.5 659.0" stroke="#8c0000" stroke-width="5.6"/><path d="M479.5 709.4 L472.0 712.8" stroke="#8c0000" stroke-width="4.1"/><path d="M447.4 651.9 L454.3 656.4" stroke="#8c0000" stroke-width="4.1"/><path d="M503.3 667.4 L502.9 674.3" stroke="#8c0000" stroke-width="5.5"/><path d="M508.2 761.4 L501.1 767.1" stroke="#8c0000" stroke-width="6.0"/><path d="M503.5 717.9 L506.5 723.8" stroke="#8c0000" stroke-width="5.2"/><path d="M542.2 750.8 L549.1 754.3" stroke="#8c0000" stroke-width="3.6"/><path d="M491.6 697.2 L500.2 698.8" stroke="#8c0000" stroke-width="3.8"/><path d="M419.3 627.2 L415.2 631.0" stroke="#8c0000" stroke-width="6.6"/><path d="M529.0 772.7 L524.9 781.2" stroke="#8c0000" stroke-width="4.5"/><path d="M450.5 634.4 L448.3 634.7" stroke="#8c0000" stroke-width="4.6"/><path d="M467.2 670.9 L471.6 671.2" stroke="#8c0000" stroke-width="4.3"/><path d="M505.3 702.7 L504.2 703.0" stroke="#8c0000" stroke-width="3.9"/><path d="M506.9 755.4 L511.6 759.3" stroke="#8c0000" stroke-width="4.1"/><path d="M510.4 727.8 L505.3 729.6" stroke="#8c0000" stroke-width="6.9"/><path d="M440.5 658.4 L437.8 658.7" stroke="#8c0000" stroke-width="6.9"/><path d="M510.1 654.6 L509.3 655.1" stroke="#8c0000" stroke-width="3.6"/><path d="M490.5 701.2 L488.4 709.2" stroke="#8c0000" stroke-width="6.6"/><path d="M449.2 657.4 L443.6 663.1" stroke="#8c0000" stroke-width="5.0"/><path d="M492.2 729.4 L492.8 736.9" stroke="#8c0000" stroke-width="6.2"/><path d="M515.5 722.5 L515.7 722.5" stroke="#8c0000" stroke-width="4.1"/><path d="M512.5 735.4 L512.3 738.3" stroke="#8c0000" stroke-width="4.9"/><path d="M534.3 785.7 L537.8 795.0" stroke="#8c0000" stroke-width="6.7"/><path d="M545.8 697.9 L544.3 698.2" stroke="#8c0000" stroke-width="5.7"/><path d="M474.6 677.9 L483.0 677.9" stroke="#8c0000" stroke-width="6.0"/><path d="M468.1 680.9 L468.9 684.5" stroke="#8c0000" stroke-width="4.1"/><path d="M508.4 661.5 L507.0 670.5" stroke="#8c0000" stroke-width="3.7"/><path d="M444.1 658.6 L443.0 663.4" stroke="#8c0000" stroke-width="4.4"/><path d="M545.5 695.6 L545.5 695.6" stroke="#8c0000" stroke-width="6.7"/><path d="M535.2 765.2 L537.5 766.0" stroke="#8c0000" stroke-width="3.6"/><path d="M508.8 748.7 L508.2 749.2" stroke="#8c0000" stroke-width="3.0"/><path d="M491.2 689.0 L491.8 689.9" stroke="#8c0000" stroke-width="6.8"/><path d="M441.4 656.9 L441.5 657.0" stroke="#8c0000" stroke-width="4.8"/><path d="M518.4 666.6 L508.6 668.7" stroke="#8c0000" stroke-width="4.3"/><path d="M483.1 677.3 L483.9 679.0" stroke="#8c0000" stroke-width="6.6"/><path d="M533.1 749.0 L533.6 752.7" stroke="#8c0000" stroke-width="6.2"/><path d="M422.2 644.9 L426.6 652.8" stroke="#8c0000" stroke-width="4.1"/><path d="M459.9 659.6 L457.7 666.5" stroke="#8c0000" stroke-width="6.2"/><path d="M488.8 680.7 L491.2 681.2" stroke="#8c0000" stroke-width="3.1"/><path d="M425.5 627.0 L415.6 627.8" stroke="#8c0000" stroke-width="3.7"/><path d="M449.6 654.1 L446.9 654.9" stroke="#8c0000" stroke-width="3.8"/><path d="M441.8 623.1 L444.8 626.3" stroke="#8c0000" stroke-width="6.1"/><path d="M521.4 775.8 L523.7 783.7" stroke="#8c0000" stroke-width="4.5"/><path d="M467.9 701.3 L470.9 702.9" stroke="#8c0000" stroke-width="3.7"/><path d="M502.9 725.3 L499.6 733.7" stroke="#8c0000" stroke-width="6.3"/><path d="M379.8 198.8 L396.8 193.1 L402.5 215.9 L391.1 238.6 L374.1 233.0Z" fill="#0000a0" stroke="#0000a0" stroke-width="0.0"/><path d="M435.2 203.1 L438.1 205.9" stroke="#0000a0" stroke-width="8.0"/><path d="M351.3 289.9 L385.5 284.2 L396.8 301.2 L362.7 312.6Z" fill="#0000a0" stroke="#0000a0" stroke-width="0.0"/><path d="M453.7 85.0 L493.6 87.9 L499.3 119.2 L465.1 119.2Z" fill="#0000a0" stroke="#0000a0" stroke-width="0.0"/><path d="M503.8 752.9 L497.0 757.3" stroke="#0000a0" stroke-width="6.0"/><path d="M445.7 650.7 L445.8 654.1" stroke="#0000a0" stroke-width="6.9"/><path d="M450.3 662.7 L454.3 669.3" stroke="#0000a0" stroke-width="5.2"/><path d="M458.6 648.6 L455.6 650.3" stroke="#0000a0" stroke-width="5.8"/><path d="M514.1 735.6 L514.9 735.7" stroke="#0000a0" stroke-width="5.5"/><path d="M525.7 682.2 L532.8 683.4" stroke="#0000a0" stroke-width="5.9"/><path d="M514.6 705.8 L513.8 706.1" stroke="#0000a0" stroke-width="4.5"/><path d="M543.8 695.9 L549.2 696.4" stroke="#0000a0" stroke-width="4.6"/><path d="M522.4 701.3 L526.4 704.2" stroke="#0000a0" stroke-width="6.1"/><path d="M501.2 722.3 L501.4 722.6" stroke="#0000a0" stroke-width="3.2"/><path d="M524.5 753.6 L521.9 755.1" stroke="#0000a0" stroke-width="3.2"/><path d="M445.9 683.0 L452.9 687.6" stroke="#0000a0" stroke-width="3.9"/></g>
<use href="#stk1"/>
</g>
<use href="#isl"/>
<use href="#frame"/>
<text x="816.5" y="914" font-size="73" fill="#111">(d)</text>
</g>
<g transform="translate(0.0,1855.0)">
<use href="#base"/><use href="#grid"/>
<g clip-path="url(#seaclip)"><rect x="173.0" y="47.3" width="778.8" height="904.2" fill="#0000c4"/>
<g filter="url(#b3)" stroke-linecap="round" stroke-linejoin="round" fill="none"><path d="M349.8 529.3 L435.1 449.7 L503.4 415.5 L554.6 404.2 L554.6 609.0 L526.2 665.9 L480.6 631.7 L412.4 586.2Z" fill="#0000a0" stroke="#0000a0" stroke-width="0.0"/><path d="M605.8 210.7 L708.2 199.3 L731.0 279.0 L662.7 307.4 L605.8 279.0Z" fill="#0000a0" stroke="#0000a0" stroke-width="0.0"/><path d="M662.7 609.0 L731.0 597.6 L742.4 665.9 L674.1 700.0Z" fill="#0000a0" stroke="#0000a0" stroke-width="0.0"/><path d="M560.3 404.2 L594.4 335.9 L651.3 318.8 L731.0 335.9 L787.9 381.4 L822.0 438.3 L822.0 688.6 L674.1 751.2 L571.7 796.8 L554.6 665.9 L548.9 495.2Z" fill="#0000fa" stroke="#0000fa" stroke-width="0.0"/><path d="M218.9 222.1 L275.8 210.7 L332.7 205.0 L401.0 142.4 L457.9 79.8 L526.2 85.5 L531.8 142.4 L480.6 187.9 L457.9 227.8 L480.6 279.0 L526.2 307.4 L480.6 335.9 L401.0 347.3 L332.7 375.7 L309.9 347.3 L315.6 301.7 L264.4 290.4 L213.2 267.6Z" fill="#0000fa" stroke="#0000fa" stroke-width="0.0"/><path d="M412.4 210.7 L435.1 199.3 L457.9 170.9" stroke="#0060ff" stroke-width="10.0"/><path d="M492.0 102.6 L469.3 153.8 L452.2 187.9" stroke="#0060ff" stroke-width="11.0"/><path d="M492.0 79.8 L514.8 85.5 L526.2 102.6" stroke="#0060ff" stroke-width="33.0"/><path d="M435.1 227.8 L446.5 256.2 L440.8 284.7 L429.4 307.4" stroke="#0060ff" stroke-width="34.0"/><path d="M463.6 205.0 L480.6 193.6" stroke="#0060ff" stroke-width="27.0"/><path d="M469.3 267.6 L492.0 250.5 L509.1 256.2" stroke="#0060ff" stroke-width="34.0"/><path d="M492.0 244.8 L514.8 267.6" stroke="#0060ff" stroke-width="16.0"/><path d="M218.9 233.5 L224.6 261.9 L247.3 281.8" stroke="#0060ff" stroke-width="21.0"/><path d="M255.9 286.9 L275.8 291.5" stroke="#0060ff" stroke-width="33.0"/><path d="M395.3 324.5 L418.0 318.8 L435.1 307.4" stroke="#0060ff" stroke-width="33.0"/><path d="M332.7 324.5 L344.1 352.9 L361.1 364.3" stroke="#0060ff" stroke-width="11.0"/><path d="M378.2 347.3 L401.0 335.9" stroke="#0060ff" stroke-width="10.0"/><path d="M480.6 341.6 L514.8 347.3 L548.9 358.6" stroke="#0060ff" stroke-width="10.0"/><path d="M731.0 182.2 L753.7 193.6 L759.4 210.7" stroke="#0060ff" stroke-width="21.0"/><path d="M719.6 267.6 L731.0 290.4 L753.7 313.1" stroke="#0060ff" stroke-width="16.0"/><path d="M816.3 358.6 L844.8 381.4 L856.2 409.8" stroke="#0060ff" stroke-width="13.0"/><path d="M827.7 370.0 L841.9 384.2" stroke="#0060ff" stroke-width="21.0"/><path d="M822.0 432.6 L833.4 472.4 L844.8 495.2 L822.0 523.6 L799.3 540.7 L793.6 569.2 L810.6 597.6 L822.0 626.1" stroke="#0060ff" stroke-width="34.0"/><path d="M844.8 438.3 L856.2 483.8 L833.4 523.6" stroke="#0060ff" stroke-width="17.0"/><path d="M617.2 381.4 L634.3 358.6 L662.7 381.4" stroke="#0060ff" stroke-width="8.0"/><path d="M594.4 404.2 L605.8 438.3" stroke="#0060ff" stroke-width="8.0"/><path d="M731.0 381.4 L776.5 426.9 L799.3 472.4" stroke="#0060ff" stroke-width="14.0"/><path d="M401.0 591.0 L418.0 625.2 L432.3 659.3 L446.5 687.8" stroke="#0060ff" stroke-width="33.0"/><path d="M472.1 687.8 L497.7 699.1 L514.8 721.9" stroke="#0060ff" stroke-width="39.0"/><path d="M503.4 727.6 L520.5 756.0 L531.8 790.2" stroke="#0060ff" stroke-width="23.0"/><path d="M526.2 739.0 L548.9 784.5" stroke="#0060ff" stroke-width="17.0"/><path d="M446.5 642.2 L480.6 653.6 L514.8 670.7" stroke="#0060ff" stroke-width="13.0"/><path d="M514.8 659.3 L548.9 687.8" stroke="#0060ff" stroke-width="12.0"/><path d="M446.5 713.4 L463.6 719.1" stroke="#0060ff" stroke-width="33.0"/><path d="M355.5 574.9 L389.6 586.2" stroke="#0060ff" stroke-width="10.0"/><path d="M492.0 102.6 L469.3 153.8 L452.2 187.9" stroke="#00d0ff" stroke-width="5.0"/><path d="M492.0 79.8 L514.8 85.5 L526.2 102.6" stroke="#00d0ff" stroke-width="27.0"/><path d="M446.5 210.7 L443.7 256.2 L429.4 307.4" stroke="#00d0ff" stroke-width="14.0"/><path d="M435.1 227.8 L446.5 256.2 L440.8 284.7 L429.4 307.4" stroke="#00d0ff" stroke-width="28.0"/><path d="M463.6 205.0 L480.6 193.6" stroke="#00d0ff" stroke-width="21.0"/><path d="M469.3 267.6 L492.0 250.5 L509.1 256.2" stroke="#00d0ff" stroke-width="28.0"/><path d="M492.0 244.8 L514.8 267.6" stroke="#00d0ff" stroke-width="10.0"/><path d="M218.9 233.5 L224.6 261.9 L247.3 281.8" stroke="#00d0ff" stroke-width="15.0"/><path d="M255.9 286.9 L275.8 291.5" stroke="#00d0ff" stroke-width="27.0"/><path d="M395.3 324.5 L418.0 318.8 L435.1 307.4" stroke="#00d0ff" stroke-width="27.0"/><path d="M332.7 324.5 L344.1 352.9 L361.1 364.3" stroke="#00d0ff" stroke-width="5.0"/><path d="M378.2 347.3 L401.0 335.9" stroke="#00d0ff" stroke-width="4.0"/><path d="M480.6 341.6 L514.8 347.3 L548.9 358.6" stroke="#00d0ff" stroke-width="4.0"/><path d="M731.0 182.2 L753.7 193.6 L759.4 210.7" stroke="#00d0ff" stroke-width="15.0"/><path d="M719.6 267.6 L731.0 290.4 L753.7 313.1" stroke="#00d0ff" stroke-width="10.0"/><path d="M816.3 358.6 L844.8 381.4 L856.2 409.8" stroke="#00d0ff" stroke-width="7.0"/><path d="M827.7 370.0 L841.9 384.2" stroke="#00d0ff" stroke-width="15.0"/><path d="M822.0 432.6 L833.4 472.4 L844.8 495.2 L822.0 523.6 L799.3 540.7 L793.6 569.2 L810.6 597.6 L822.0 626.1" stroke="#00d0ff" stroke-width="28.0"/><path d="M844.8 438.3 L856.2 483.8 L833.4 523.6" stroke="#00d0ff" stroke-width="11.0"/><path d="M401.0 591.0 L418.0 625.2 L432.3 659.3 L446.5 687.8" stroke="#00d0ff" stroke-width="27.0"/><path d="M480.6 687.8 L514.8 739.0 L537.5 795.9" stroke="#00d0ff" stroke-width="22.0"/><path d="M472.1 687.8 L497.7 699.1 L514.8 721.9" stroke="#00d0ff" stroke-width="33.0"/><path d="M503.4 727.6 L520.5 756.0 L531.8 790.2" stroke="#00d0ff" stroke-width="17.0"/><path d="M526.2 739.0 L548.9 784.5" stroke="#00d0ff" stroke-width="11.0"/><path d="M446.5 642.2 L480.6 653.6 L514.8 670.7" stroke="#00d0ff" stroke-width="7.0"/><path d="M446.5 713.4 L463.6 719.1" stroke="#00d0ff" stroke-width="27.0"/><path d="M355.5 574.9 L389.6 586.2" stroke="#00d0ff" stroke-width="4.0"/><path d="M492.0 79.8 L514.8 85.5 L526.2 102.6" stroke="#50ffa0" stroke-width="21.0"/><path d="M435.1 227.8 L446.5 256.2 L440.8 284.7 L429.4 307.4" stroke="#50ffa0" stroke-width="22.0"/><path d="M463.6 205.0 L480.6 193.6" stroke="#50ffa0" stroke-width="15.0"/><path d="M469.3 267.6 L492.0 250.5 L509.1 256.2" stroke="#50ffa0" stroke-width="22.0"/><path d="M492.0 244.8 L514.8 267.6" stroke="#50ffa0" stroke-width="4.0"/><path d="M218.9 233.5 L224.6 261.9 L247.3 281.8" stroke="#50ffa0" stroke-width="9.0"/><path d="M255.9 286.9 L275.8 291.5" stroke="#50ffa0" stroke-width="21.0"/><path d="M395.3 324.5 L418.0 318.8 L435.1 307.4" stroke="#50ffa0" stroke-width="21.0"/><path d="M731.0 182.2 L753.7 193.6 L759.4 210.7" stroke="#50ffa0" stroke-width="9.0"/><path d="M719.6 267.6 L731.0 290.4 L753.7 313.1" stroke="#50ffa0" stroke-width="4.0"/><path d="M827.7 370.0 L841.9 384.2" stroke="#50ffa0" stroke-width="9.0"/><path d="M822.0 432.6 L833.4 472.4 L844.8 495.2 L822.0 523.6 L799.3 540.7 L793.6 569.2 L810.6 597.6 L822.0 626.1" stroke="#50ffa0" stroke-width="22.0"/><path d="M844.8 438.3 L856.2 483.8 L833.4 523.6" stroke="#50ffa0" stroke-width="5.0"/><path d="M401.0 591.0 L418.0 625.2 L432.3 659.3 L446.5 687.8" stroke="#50ffa0" stroke-width="21.0"/><path d="M472.1 687.8 L497.7 699.1 L514.8 721.9" stroke="#50ffa0" stroke-width="27.0"/><path d="M503.4 727.6 L520.5 756.0 L531.8 790.2" stroke="#50ffa0" stroke-width="11.0"/><path d="M526.2 739.0 L548.9 784.5" stroke="#50ffa0" stroke-width="5.0"/><path d="M446.5 713.4 L463.6 719.1" stroke="#50ffa0" stroke-width="21.0"/><path d="M492.0 79.8 L514.8 85.5 L526.2 102.6" stroke="#ffe800" stroke-width="15.0"/><path d="M435.1 227.8 L446.5 256.2 L440.8 284.7 L429.4 307.4" stroke="#ffe800" stroke-width="16.0"/><path d="M463.6 205.0 L480.6 193.6" stroke="#ffe800" stroke-width="9.0"/><path d="M469.3 267.6 L492.0 250.5 L509.1 256.2" stroke="#ffe800" stroke-width="16.0"/><path d="M218.9 233.5 L224.6 261.9 L247.3 281.8" stroke="#ffe800" stroke-width="3.0"/><path d="M255.9 286.9 L275.8 291.5" stroke="#ffe800" stroke-width="15.0"/><path d="M395.3 324.5 L418.0 318.8 L435.1 307.4" stroke="#ffe800" stroke-width="15.0"/><path d="M731.0 182.2 L753.7 193.6 L759.4 210.7" stroke="#ffe800" stroke-width="3.0"/><path d="M827.7 370.0 L841.9 384.2" stroke="#ffe800" stroke-width="3.0"/><path d="M822.0 432.6 L833.4 472.4 L844.8 495.2 L822.0 523.6 L799.3 540.7 L793.6 569.2 L810.6 597.6 L822.0 626.1" stroke="#ffe800" stroke-width="16.0"/><path d="M401.0 591.0 L418.0 625.2 L432.3 659.3 L446.5 687.8" stroke="#ffe800" stroke-width="15.0"/><path d="M472.1 687.8 L497.7 699.1 L514.8 721.9" stroke="#ffe800" stroke-width="21.0"/><path d="M503.4 727.6 L520.5 756.0 L531.8 790.2" stroke="#ffe800" stroke-width="5.0"/><path d="M446.5 713.4 L463.6 719.1" stroke="#ffe800" stroke-width="15.0"/><path d="M492.0 79.8 L514.8 85.5 L526.2 102.6" stroke="#ff7800" stroke-width="9.0"/><path d="M435.1 227.8 L446.5 256.2 L440.8 284.7 L429.4 307.4" stroke="#ff7800" stroke-width="10.0"/><path d="M463.6 205.0 L480.6 193.6" stroke="#ff7800" stroke-width="3.0"/><path d="M469.3 267.6 L492.0 250.5 L509.1 256.2" stroke="#ff7800" stroke-width="10.0"/><path d="M255.9 286.9 L275.8 291.5" stroke="#ff7800" stroke-width="9.0"/><path d="M395.3 324.5 L418.0 318.8 L435.1 307.4" stroke="#ff7800" stroke-width="9.0"/><path d="M822.0 432.6 L833.4 472.4 L844.8 495.2 L822.0 523.6 L799.3 540.7 L793.6 569.2 L810.6 597.6 L822.0 626.1" stroke="#ff7800" stroke-width="10.0"/><path d="M401.0 591.0 L418.0 625.2 L432.3 659.3 L446.5 687.8" stroke="#ff7800" stroke-width="9.0"/><path d="M472.1 687.8 L497.7 699.1 L514.8 721.9" stroke="#ff7800" stroke-width="15.0"/><path d="M446.5 713.4 L463.6 719.1" stroke="#ff7800" stroke-width="9.0"/><path d="M492.0 79.8 L514.8 85.5 L526.2 102.6" stroke="#e80000" stroke-width="3.0"/><path d="M435.1 227.8 L446.5 256.2 L440.8 284.7 L429.4 307.4" stroke="#e80000" stroke-width="4.0"/><path d="M469.3 267.6 L492.0 250.5 L509.1 256.2" stroke="#e80000" stroke-width="4.0"/><path d="M255.9 286.9 L275.8 291.5" stroke="#e80000" stroke-width="3.0"/><path d="M395.3 324.5 L418.0 318.8 L435.1 307.4" stroke="#e80000" stroke-width="3.0"/><path d="M822.0 432.6 L833.4 472.4 L844.8 495.2 L822.0 523.6 L799.3 540.7 L793.6 569.2 L810.6 597.6 L822.0 626.1" stroke="#e80000" stroke-width="4.0"/><path d="M401.0 591.0 L418.0 625.2 L432.3 659.3 L446.5 687.8" stroke="#e80000" stroke-width="3.0"/><path d="M472.1 687.8 L497.7 699.1 L514.8 721.9" stroke="#e80000" stroke-width="9.0"/><path d="M446.5 713.4 L463.6 719.1" stroke="#e80000" stroke-width="3.0"/></g>
<use href="#stk0"/>
</g>
<use href="#isl"/>
<use href="#frame"/>
<text x="816.5" y="914" font-size="73" fill="#111">(e)</text>
</g>
<g transform="translate(807.4,1855.0)">
<use href="#base"/><use href="#grid"/>
<g clip-path="url(#seaclip)"><rect x="173.0" y="47.3" width="778.8" height="904.2" fill="#0000d4"/>
<g filter="url(#b3)" stroke-linecap="round" stroke-linejoin="round" fill="none"><path d="M503.4 438.3 L594.4 358.6 L674.1 358.6 L731.0 438.3 L674.1 529.3 L605.8 552.1 L537.5 609.0 L514.8 540.7Z" fill="#0000a0" stroke="#0000a0" stroke-width="0.0"/><path d="M605.8 199.3 L674.1 187.9 L696.9 233.5 L662.7 290.4 L611.5 267.6Z" fill="#0000a0" stroke="#0000a0" stroke-width="0.0"/><path d="M275.8 239.1 L349.8 227.8 L349.8 267.6 L287.2 267.6Z" fill="#0000a0" stroke="#0000a0" stroke-width="0.0"/><path d="M328.6 159.5 L368.4 142.4 L396.8 165.2 L362.7 187.9 L334.2 182.2Z" fill="#0000a0" stroke="#0000a0" stroke-width="0.0"/><path d="M260.3 239.1 L311.5 244.8 L322.9 267.6 L277.3 267.6Z" fill="#0000a0" stroke="#0000a0" stroke-width="0.0"/><path d="M311.5 273.3 L374.1 267.6 L391.1 296.0 L351.3 307.4 L317.2 296.0Z" fill="#0000a0" stroke="#0000a0" stroke-width="0.0"/><path d="M218.9 222.1 L275.8 210.7 L332.7 205.0 L401.0 142.4 L457.9 79.8 L526.2 85.5 L531.8 142.4 L480.6 187.9 L457.9 227.8 L480.6 279.0 L526.2 307.4 L480.6 335.9 L401.0 347.3 L332.7 375.7 L309.9 347.3 L315.6 301.7 L264.4 290.4 L213.2 267.6Z" fill="#0000fa" stroke="#0000fa" stroke-width="0.0"/><path d="M442.4 74.1 L476.5 65.6 L533.4 85.5 L539.1 108.3 L493.6 153.8 L459.4 159.5 L431.0 125.3Z" fill="#0060ff" stroke="#0060ff" stroke-width="0.0"/><path d="M351.3 199.3 L374.1 187.9 L399.7 199.3 L402.5 233.5 L385.5 261.9 L357.0 256.2 L345.6 227.8 L351.3 199.3" stroke="#0060ff" stroke-width="14.0"/><path d="M345.6 205.0 L339.9 224.9 L347.0 244.8" stroke="#0060ff" stroke-width="24.0"/><path d="M362.7 193.6 L391.1 187.9" stroke="#0060ff" stroke-width="17.0"/><path d="M419.6 179.4 L418.2 199.3" stroke="#0060ff" stroke-width="44.0"/><path d="M433.8 176.6 L439.5 210.7" stroke="#0060ff" stroke-width="29.0"/><path d="M408.2 210.7 L419.6 233.5" stroke="#0060ff" stroke-width="22.0"/><path d="M448.0 216.4 L442.4 239.1 L425.3 261.9 L419.6 276.1" stroke="#0060ff" stroke-width="42.0"/><path d="M413.9 276.1 L442.4 301.7 L470.8 321.7 L504.9 335.9 L547.6 341.6 L590.3 350.1" stroke="#0060ff" stroke-width="45.0"/><path d="M476.5 310.3 L519.2 324.5 L561.8 334.5" stroke="#0060ff" stroke-width="23.0"/><path d="M504.9 296.0 L547.6 314.5 L584.6 323.1" stroke="#0060ff" stroke-width="13.0"/><path d="M402.5 267.6 L425.3 256.2 L448.0 279.0 L436.7 296.0 L408.2 290.4Z" fill="#0060ff" stroke="#0060ff" stroke-width="32.0"/><path d="M374.1 341.6 L396.8 330.2 L419.6 313.1" stroke="#0060ff" stroke-width="43.0"/><path d="M328.6 307.4 L339.9 324.5 L351.3 347.3 L362.7 358.6" stroke="#0060ff" stroke-width="29.0"/><path d="M351.3 313.1 L368.4 335.9" stroke="#0060ff" stroke-width="12.0"/><path d="M305.8 347.3 L317.2 364.3 L339.9 370.0 L362.7 367.2" stroke="#0060ff" stroke-width="13.0"/><path d="M325.7 358.6 L334.2 364.3" stroke="#0060ff" stroke-width="33.0"/><path d="M209.1 233.5 L217.6 256.2 L229.0 276.1 L248.9 290.4" stroke="#0060ff" stroke-width="43.0"/><path d="M214.8 239.1 L237.5 244.8 L257.4 256.2" stroke="#0060ff" stroke-width="28.0"/><path d="M226.1 222.1 L248.9 227.8" stroke="#0060ff" stroke-width="16.0"/><path d="M300.1 210.7 L311.5 199.3 L328.6 193.6" stroke="#0060ff" stroke-width="22.0"/><path d="M465.1 68.4 L487.9 65.6 L510.6 77.0 L533.4 88.4" stroke="#0060ff" stroke-width="34.0"/><path d="M499.3 122.5 L516.3 114.0 L533.4 99.7" stroke="#0060ff" stroke-width="29.0"/><path d="M470.8 153.8 L487.9 136.7" stroke="#0060ff" stroke-width="34.0"/><path d="M448.0 91.2 L465.1 114.0 L476.5 133.9" stroke="#0060ff" stroke-width="13.0"/><path d="M482.2 85.5 L504.9 96.9" stroke="#0060ff" stroke-width="12.0"/><path d="M516.3 82.7 L533.4 94.1" stroke="#0060ff" stroke-width="16.0"/><path d="M465.1 216.4 L476.5 199.3" stroke="#0060ff" stroke-width="35.0"/><path d="M493.6 239.1 L522.0 227.8 L544.8 210.7" stroke="#0060ff" stroke-width="35.0"/><path d="M499.3 247.7 L527.7 236.3" stroke="#0060ff" stroke-width="21.0"/><path d="M476.5 250.5 L504.9 244.8" stroke="#0060ff" stroke-width="41.0"/><path d="M527.7 256.2 L556.2 267.6 L584.6 296.0" stroke="#0060ff" stroke-width="13.0"/><path d="M561.8 216.4 L590.3 199.3" stroke="#0060ff" stroke-width="17.0"/><path d="M469.3 335.9 L503.4 347.3 L548.9 352.9" stroke="#0060ff" stroke-width="34.0"/><path d="M560.3 187.9 L605.8 165.2 L651.3 162.3 L696.9 176.6" stroke="#0060ff" stroke-width="17.0"/><path d="M571.7 182.2 L605.8 168.0" stroke="#0060ff" stroke-width="21.0"/><path d="M537.5 222.1 L571.7 210.7 L594.4 233.5" stroke="#0060ff" stroke-width="14.0"/><path d="M728.1 207.9 L753.7 196.5 L759.4 227.8 L733.8 253.4" stroke="#0060ff" stroke-width="50.0"/><path d="M676.9 267.6 L691.2 253.4 L705.4 267.6 L691.2 281.8 L676.9 267.6" stroke="#0060ff" stroke-width="33.0"/><path d="M708.2 244.8 L731.0 267.6 L708.2 290.4" stroke="#0060ff" stroke-width="29.0"/><path d="M662.7 227.8 L696.9 216.4 L719.6 233.5" stroke="#0060ff" stroke-width="14.0"/><path d="M651.3 313.1 L708.2 335.9 L753.7 381.4 L787.9 438.3" stroke="#0060ff" stroke-width="12.0"/><path d="M765.1 347.3 L787.9 335.9 L827.7 347.3" stroke="#0060ff" stroke-width="28.0"/><path d="M790.7 361.5 L816.3 381.4 L833.4 404.2" stroke="#0060ff" stroke-width="54.0"/><path d="M839.1 438.3 L844.8 472.4 L833.4 512.3" stroke="#0060ff" stroke-width="23.0"/><path d="M721.3 505.3 L761.1 442.8 L806.7 505.3 L818.0 579.3 L778.2 619.1 L789.6 676.0 L746.9 704.5 L690.0 715.9 L647.3 676.0 L641.7 596.4 L670.1 539.5Z" fill="#0060ff" stroke="#0060ff" stroke-width="0.0"/><path d="M744.1 457.0 L761.1 505.3 L783.9 539.5 L798.1 562.2" stroke="#0060ff" stroke-width="24.0"/><path d="M786.8 545.2 L789.6 573.6" stroke="#0060ff" stroke-width="22.0"/><path d="M778.2 579.3 L798.1 604.9 L818.0 624.8" stroke="#0060ff" stroke-width="49.0"/><path d="M815.2 639.1 L820.9 644.8" stroke="#0060ff" stroke-width="29.0"/><path d="M744.1 630.5 L761.1 624.8" stroke="#0060ff" stroke-width="12.0"/><path d="M826.6 428.5 L835.1 462.7 L840.8 491.1" stroke="#0060ff" stroke-width="31.0"/><path d="M818.0 437.1 L826.6 476.9 L829.4 513.9" stroke="#0060ff" stroke-width="12.0"/><path d="M630.3 704.5 L661.6 715.9 L690.0 710.2 L721.3 704.5 L746.9 698.8" stroke="#0060ff" stroke-width="21.0"/><path d="M655.9 715.9 L675.8 721.6" stroke="#0060ff" stroke-width="22.0"/><path d="M618.9 732.9 L630.3 721.6" stroke="#0060ff" stroke-width="23.0"/><path d="M567.7 778.5 L584.8 784.2" stroke="#0060ff" stroke-width="30.0"/><path d="M579.1 698.8 L604.7 710.2 L618.9 732.9 L607.5 761.4" stroke="#0060ff" stroke-width="15.0"/><path d="M560.3 665.9 L594.4 688.6 L617.2 722.8" stroke="#0060ff" stroke-width="13.0"/><path d="M554.6 711.4 L583.1 756.9" stroke="#0060ff" stroke-width="13.0"/><path d="M594.4 745.5 L628.6 768.3" stroke="#0060ff" stroke-width="12.0"/><path d="M417.2 602.1 L451.3 602.1 L491.1 613.5 L536.7 613.5 L553.7 641.9 L548.0 676.0 L542.4 704.5 L525.3 732.9 L496.8 741.5 L468.4 715.9 L445.6 710.2 L434.2 676.0 L417.2 641.9Z" fill="#0060ff" stroke="#0060ff" stroke-width="38.0"/><path d="M371.7 579.3 L394.4 590.7 L417.2 604.9" stroke="#0060ff" stroke-width="44.0"/><path d="M479.8 738.6 L542.4 710.2 L576.5 769.9 L513.9 800.1 L491.1 775.6Z" fill="#0060ff" stroke="#0060ff" stroke-width="32.0"/><path d="M383.9 586.2 L418.0 609.0" stroke="#0060ff" stroke-width="35.0"/><path d="M332.7 546.4 L355.5 574.9 L389.6 586.2" stroke="#0060ff" stroke-width="28.0"/><path d="M355.5 518.0 L401.0 552.1 L435.1 586.2" stroke="#0060ff" stroke-width="13.0"/><path d="M349.8 483.8 L389.6 512.3 L429.4 540.7" stroke="#0060ff" stroke-width="10.0"/><path d="M435.1 438.3 L469.3 421.2 L514.8 409.8 L560.3 387.1 L583.1 370.0" stroke="#0060ff" stroke-width="23.0"/><path d="M560.3 375.7 L583.1 364.3" stroke="#0060ff" stroke-width="34.0"/><path d="M503.4 409.8 L537.5 404.2" stroke="#0060ff" stroke-width="34.0"/><path d="M446.5 472.4 L480.6 455.4 L526.2 438.3 L571.7 409.8" stroke="#0060ff" stroke-width="15.0"/><path d="M389.6 495.2 L435.1 489.5 L480.6 483.8" stroke="#0060ff" stroke-width="10.0"/><path d="M594.4 313.1 L605.8 347.3 L594.4 381.4" stroke="#0060ff" stroke-width="22.0"/><path d="M275.8 227.8 L309.9 244.8 L332.7 279.0" stroke="#0060ff" stroke-width="14.0"/><path d="M435.1 108.3 L457.9 131.0 L480.6 119.7 L503.4 102.6" stroke="#0060ff" stroke-width="14.0"/><path d="M366.8 199.3 L389.6 187.9 L406.7 210.7" stroke="#0060ff" stroke-width="18.0"/><path d="M321.3 313.1 L349.8 335.9 L378.2 324.5" stroke="#0060ff" stroke-width="14.0"/><path d="M765.1 529.3 L787.9 552.1" stroke="#0060ff" stroke-width="20.0"/><path d="M300.1 222.1 L322.9 210.7" stroke="#0060ff" stroke-width="28.0"/><path d="M351.3 324.5 L368.4 347.3 L362.7 364.3" stroke="#0060ff" stroke-width="14.0"/><path d="M305.8 210.7 L334.2 187.9 L357.0 199.3 L351.3 239.1 L322.9 250.5Z" fill="#00d0ff" stroke="#00d0ff" stroke-width="0.0"/><path d="M351.3 222.1 L374.1 199.3 L402.5 210.7 L396.8 256.2 L362.7 267.6Z" fill="#00d0ff" stroke="#00d0ff" stroke-width="0.0"/><path d="M476.5 159.5 L487.9 199.3 L470.8 210.7 L459.4 182.2Z" fill="#00d0ff" stroke="#00d0ff" stroke-width="0.0"/><path d="M243.2 279.0 L285.9 284.7 L277.3 296.0 L248.9 293.2Z" fill="#00d0ff" stroke="#00d0ff" stroke-width="0.0"/><path d="M351.3 199.3 L374.1 187.9 L399.7 199.3 L402.5 233.5 L385.5 261.9 L357.0 256.2 L345.6 227.8 L351.3 199.3" stroke="#00d0ff" stroke-width="8.0"/><path d="M345.6 205.0 L339.9 224.9 L347.0 244.8" stroke="#00d0ff" stroke-width="18.0"/><path d="M362.7 193.6 L391.1 187.9" stroke="#00d0ff" stroke-width="11.0"/><path d="M419.6 179.4 L418.2 199.3" stroke="#00d0ff" stroke-width="38.0"/><path d="M433.8 176.6 L439.5 210.7" stroke="#00d0ff" stroke-width="23.0"/><path d="M408.2 210.7 L419.6 233.5" stroke="#00d0ff" stroke-width="16.0"/><path d="M448.0 216.4 L442.4 239.1 L425.3 261.9 L419.6 276.1" stroke="#00d0ff" stroke-width="36.0"/><path d="M413.9 276.1 L442.4 301.7 L470.8 321.7 L504.9 335.9 L547.6 341.6 L590.3 350.1" stroke="#00d0ff" stroke-width="39.0"/><path d="M476.5 310.3 L519.2 324.5 L561.8 334.5" stroke="#00d0ff" stroke-width="17.0"/><path d="M504.9 296.0 L547.6 314.5 L584.6 323.1" stroke="#00d0ff" stroke-width="7.0"/><path d="M402.5 267.6 L425.3 256.2 L448.0 279.0 L436.7 296.0 L408.2 290.4Z" fill="#00d0ff" stroke="#00d0ff" stroke-width="26.0"/><path d="M374.1 341.6 L396.8 330.2 L419.6 313.1" stroke="#00d0ff" stroke-width="37.0"/><path d="M328.6 307.4 L339.9 324.5 L351.3 347.3 L362.7 358.6" stroke="#00d0ff" stroke-width="23.0"/><path d="M351.3 313.1 L368.4 335.9" stroke="#00d0ff" stroke-width="6.0"/><path d="M305.8 347.3 L317.2 364.3 L339.9 370.0 L362.7 367.2" stroke="#00d0ff" stroke-width="7.0"/><path d="M325.7 358.6 L334.2 364.3" stroke="#00d0ff" stroke-width="27.0"/><path d="M209.1 233.5 L217.6 256.2 L229.0 276.1 L248.9 290.4" stroke="#00d0ff" stroke-width="37.0"/><path d="M214.8 239.1 L237.5 244.8 L257.4 256.2" stroke="#00d0ff" stroke-width="22.0"/><path d="M226.1 222.1 L248.9 227.8" stroke="#00d0ff" stroke-width="10.0"/><path d="M300.1 210.7 L311.5 199.3 L328.6 193.6" stroke="#00d0ff" stroke-width="16.0"/><path d="M465.1 68.4 L487.9 65.6 L510.6 77.0 L533.4 88.4" stroke="#00d0ff" stroke-width="28.0"/><path d="M499.3 122.5 L516.3 114.0 L533.4 99.7" stroke="#00d0ff" stroke-width="23.0"/><path d="M470.8 153.8 L487.9 136.7" stroke="#00d0ff" stroke-width="28.0"/><path d="M448.0 91.2 L465.1 114.0 L476.5 133.9" stroke="#00d0ff" stroke-width="7.0"/><path d="M482.2 85.5 L504.9 96.9" stroke="#00d0ff" stroke-width="6.0"/><path d="M516.3 82.7 L533.4 94.1" stroke="#00d0ff" stroke-width="10.0"/><path d="M465.1 216.4 L476.5 199.3" stroke="#00d0ff" stroke-width="29.0"/><path d="M493.6 239.1 L522.0 227.8 L544.8 210.7" stroke="#00d0ff" stroke-width="29.0"/><path d="M499.3 247.7 L527.7 236.3" stroke="#00d0ff" stroke-width="15.0"/><path d="M476.5 250.5 L504.9 244.8" stroke="#00d0ff" stroke-width="35.0"/><path d="M527.7 256.2 L556.2 267.6 L584.6 296.0" stroke="#00d0ff" stroke-width="7.0"/><path d="M561.8 216.4 L590.3 199.3" stroke="#00d0ff" stroke-width="11.0"/><path d="M469.3 335.9 L503.4 347.3 L548.9 352.9" stroke="#00d0ff" stroke-width="28.0"/><path d="M560.3 187.9 L605.8 165.2 L651.3 162.3 L696.9 176.6" stroke="#00d0ff" stroke-width="11.0"/><path d="M571.7 182.2 L605.8 168.0" stroke="#00d0ff" stroke-width="15.0"/><path d="M537.5 222.1 L571.7 210.7 L594.4 233.5" stroke="#00d0ff" stroke-width="8.0"/><path d="M728.1 207.9 L753.7 196.5 L759.4 227.8 L733.8 253.4" stroke="#00d0ff" stroke-width="44.0"/><path d="M676.9 267.6 L691.2 253.4 L705.4 267.6 L691.2 281.8 L676.9 267.6" stroke="#00d0ff" stroke-width="27.0"/><path d="M708.2 244.8 L731.0 267.6 L708.2 290.4" stroke="#00d0ff" stroke-width="23.0"/><path d="M662.7 227.8 L696.9 216.4 L719.6 233.5" stroke="#00d0ff" stroke-width="8.0"/><path d="M765.1 347.3 L787.9 335.9 L827.7 347.3" stroke="#00d0ff" stroke-width="22.0"/><path d="M790.7 361.5 L816.3 381.4 L833.4 404.2" stroke="#00d0ff" stroke-width="48.0"/><path d="M839.1 438.3 L844.8 472.4 L833.4 512.3" stroke="#00d0ff" stroke-width="17.0"/><path d="M721.3 513.9 L675.8 542.3 L655.9 579.3 L658.7 619.1 L675.8 661.8 L698.6 690.3 L721.3 704.5" stroke="#00d0ff" stroke-width="13.0"/><path d="M738.4 528.1 L698.6 556.6 L681.5 590.7 L687.2 630.5 L704.2 667.5 L732.7 693.1" stroke="#00d0ff" stroke-width="13.0"/><path d="M732.7 562.2 L709.9 590.7 L712.8 624.8 L727.0 656.1 L755.5 690.3" stroke="#00d0ff" stroke-width="12.0"/><path d="M709.9 494.0 L661.6 528.1 L636.0 573.6 L638.8 624.8 L658.7 670.4 L687.2 701.7" stroke="#00d0ff" stroke-width="10.0"/><path d="M744.1 579.3 L729.9 602.1 L732.7 630.5 L746.9 659.0 L772.5 681.7" stroke="#00d0ff" stroke-width="9.0"/><path d="M761.1 476.9 L744.1 499.7 L721.3 513.9" stroke="#00d0ff" stroke-width="11.0"/><path d="M778.2 505.3 L761.1 528.1 L738.4 545.2" stroke="#00d0ff" stroke-width="11.0"/><path d="M744.1 457.0 L761.1 505.3 L783.9 539.5 L798.1 562.2" stroke="#00d0ff" stroke-width="18.0"/><path d="M786.8 545.2 L789.6 573.6" stroke="#00d0ff" stroke-width="16.0"/><path d="M778.2 579.3 L798.1 604.9 L818.0 624.8" stroke="#00d0ff" stroke-width="43.0"/><path d="M815.2 639.1 L820.9 644.8" stroke="#00d0ff" stroke-width="23.0"/><path d="M744.1 630.5 L761.1 624.8" stroke="#00d0ff" stroke-width="6.0"/><path d="M826.6 428.5 L835.1 462.7 L840.8 491.1" stroke="#00d0ff" stroke-width="25.0"/><path d="M818.0 437.1 L826.6 476.9 L829.4 513.9" stroke="#00d0ff" stroke-width="6.0"/><path d="M630.3 704.5 L661.6 715.9 L690.0 710.2 L721.3 704.5 L746.9 698.8" stroke="#00d0ff" stroke-width="15.0"/><path d="M655.9 715.9 L675.8 721.6" stroke="#00d0ff" stroke-width="16.0"/><path d="M618.9 732.9 L630.3 721.6" stroke="#00d0ff" stroke-width="17.0"/><path d="M567.7 778.5 L584.8 784.2" stroke="#00d0ff" stroke-width="24.0"/><path d="M579.1 698.8 L604.7 710.2 L618.9 732.9 L607.5 761.4" stroke="#00d0ff" stroke-width="9.0"/><path d="M560.3 665.9 L594.4 688.6 L617.2 722.8" stroke="#00d0ff" stroke-width="7.0"/><path d="M554.6 711.4 L583.1 756.9" stroke="#00d0ff" stroke-width="7.0"/><path d="M594.4 745.5 L628.6 768.3" stroke="#00d0ff" stroke-width="6.0"/><path d="M417.2 602.1 L451.3 602.1 L491.1 613.5 L536.7 613.5 L553.7 641.9 L548.0 676.0 L542.4 704.5 L525.3 732.9 L496.8 741.5 L468.4 715.9 L445.6 710.2 L434.2 676.0 L417.2 641.9Z" fill="#00d0ff" stroke="#00d0ff" stroke-width="32.0"/><path d="M371.7 579.3 L394.4 590.7 L417.2 604.9" stroke="#00d0ff" stroke-width="38.0"/><path d="M479.8 738.6 L542.4 710.2 L576.5 769.9 L513.9 800.1 L491.1 775.6Z" fill="#00d0ff" stroke="#00d0ff" stroke-width="26.0"/><path d="M383.9 586.2 L418.0 609.0" stroke="#00d0ff" stroke-width="29.0"/><path d="M332.7 546.4 L355.5 574.9 L389.6 586.2" stroke="#00d0ff" stroke-width="22.0"/><path d="M355.5 518.0 L401.0 552.1 L435.1 586.2" stroke="#00d0ff" stroke-width="7.0"/><path d="M435.1 438.3 L469.3 421.2 L514.8 409.8 L560.3 387.1 L583.1 370.0" stroke="#00d0ff" stroke-width="17.0"/><path d="M560.3 375.7 L583.1 364.3" stroke="#00d0ff" stroke-width="28.0"/><path d="M503.4 409.8 L537.5 404.2" stroke="#00d0ff" stroke-width="28.0"/><path d="M446.5 472.4 L480.6 455.4 L526.2 438.3 L571.7 409.8" stroke="#00d0ff" stroke-width="9.0"/><path d="M594.4 313.1 L605.8 347.3 L594.4 381.4" stroke="#00d0ff" stroke-width="16.0"/><path d="M275.8 227.8 L309.9 244.8 L332.7 279.0" stroke="#00d0ff" stroke-width="8.0"/><path d="M435.1 108.3 L457.9 131.0 L480.6 119.7 L503.4 102.6" stroke="#00d0ff" stroke-width="8.0"/><path d="M366.8 199.3 L389.6 187.9 L406.7 210.7" stroke="#00d0ff" stroke-width="12.0"/><path d="M321.3 313.1 L349.8 335.9 L378.2 324.5" stroke="#00d0ff" stroke-width="8.0"/><path d="M765.1 529.3 L787.9 552.1" stroke="#00d0ff" stroke-width="14.0"/><path d="M263.1 227.8 L305.8 222.1 L311.5 256.2 L277.3 261.9Z" fill="#00d0ff" stroke="#00d0ff" stroke-width="0.0"/><path d="M300.1 222.1 L322.9 210.7" stroke="#00d0ff" stroke-width="22.0"/><path d="M351.3 324.5 L368.4 347.3 L362.7 364.3" stroke="#00d0ff" stroke-width="8.0"/><path d="M345.6 205.0 L339.9 224.9 L347.0 244.8" stroke="#50ffa0" stroke-width="12.0"/><path d="M362.7 193.6 L391.1 187.9" stroke="#50ffa0" stroke-width="5.0"/><path d="M419.6 179.4 L418.2 199.3" stroke="#50ffa0" stroke-width="32.0"/><path d="M433.8 176.6 L439.5 210.7" stroke="#50ffa0" stroke-width="17.0"/><path d="M408.2 210.7 L419.6 233.5" stroke="#50ffa0" stroke-width="10.0"/><path d="M448.0 216.4 L442.4 239.1 L425.3 261.9 L419.6 276.1" stroke="#50ffa0" stroke-width="30.0"/><path d="M413.9 276.1 L442.4 301.7 L470.8 321.7 L504.9 335.9 L547.6 341.6 L590.3 350.1" stroke="#50ffa0" stroke-width="33.0"/><path d="M476.5 310.3 L519.2 324.5 L561.8 334.5" stroke="#50ffa0" stroke-width="11.0"/><path d="M402.5 267.6 L425.3 256.2 L448.0 279.0 L436.7 296.0 L408.2 290.4Z" fill="#50ffa0" stroke="#50ffa0" stroke-width="20.0"/><path d="M374.1 341.6 L396.8 330.2 L419.6 313.1" stroke="#50ffa0" stroke-width="31.0"/><path d="M328.6 307.4 L339.9 324.5 L351.3 347.3 L362.7 358.6" stroke="#50ffa0" stroke-width="17.0"/><path d="M325.7 358.6 L334.2 364.3" stroke="#50ffa0" stroke-width="21.0"/><path d="M209.1 233.5 L217.6 256.2 L229.0 276.1 L248.9 290.4" stroke="#50ffa0" stroke-width="31.0"/><path d="M214.8 239.1 L237.5 244.8 L257.4 256.2" stroke="#50ffa0" stroke-width="16.0"/><path d="M226.1 222.1 L248.9 227.8" stroke="#50ffa0" stroke-width="4.0"/><path d="M300.1 210.7 L311.5 199.3 L328.6 193.6" stroke="#50ffa0" stroke-width="10.0"/><path d="M465.1 68.4 L487.9 65.6 L510.6 77.0 L533.4 88.4" stroke="#50ffa0" stroke-width="22.0"/><path d="M499.3 122.5 L516.3 114.0 L533.4 99.7" stroke="#50ffa0" stroke-width="17.0"/><path d="M470.8 153.8 L487.9 136.7" stroke="#50ffa0" stroke-width="22.0"/><path d="M516.3 82.7 L533.4 94.1" stroke="#50ffa0" stroke-width="4.0"/><path d="M465.1 216.4 L476.5 199.3" stroke="#50ffa0" stroke-width="23.0"/><path d="M493.6 239.1 L522.0 227.8 L544.8 210.7" stroke="#50ffa0" stroke-width="23.0"/><path d="M499.3 247.7 L527.7 236.3" stroke="#50ffa0" stroke-width="9.0"/><path d="M476.5 250.5 L504.9 244.8" stroke="#50ffa0" stroke-width="29.0"/><path d="M561.8 216.4 L590.3 199.3" stroke="#50ffa0" stroke-width="5.0"/><path d="M469.3 335.9 L503.4 347.3 L548.9 352.9" stroke="#50ffa0" stroke-width="22.0"/><path d="M560.3 187.9 L605.8 165.2 L651.3 162.3 L696.9 176.6" stroke="#50ffa0" stroke-width="5.0"/><path d="M571.7 182.2 L605.8 168.0" stroke="#50ffa0" stroke-width="9.0"/><path d="M728.1 207.9 L753.7 196.5 L759.4 227.8 L733.8 253.4" stroke="#50ffa0" stroke-width="38.0"/><path d="M676.9 267.6 L691.2 253.4 L705.4 267.6 L691.2 281.8 L676.9 267.6" stroke="#50ffa0" stroke-width="21.0"/><path d="M708.2 244.8 L731.0 267.6 L708.2 290.4" stroke="#50ffa0" stroke-width="17.0"/><path d="M765.1 347.3 L787.9 335.9 L827.7 347.3" stroke="#50ffa0" stroke-width="16.0"/><path d="M790.7 361.5 L816.3 381.4 L833.4 404.2" stroke="#50ffa0" stroke-width="42.0"/><path d="M839.1 438.3 L844.8 472.4 L833.4 512.3" stroke="#50ffa0" stroke-width="11.0"/><path d="M744.1 457.0 L761.1 505.3 L783.9 539.5 L798.1 562.2" stroke="#50ffa0" stroke-width="12.0"/><path d="M786.8 545.2 L789.6 573.6" stroke="#50ffa0" stroke-width="10.0"/><path d="M778.2 579.3 L798.1 604.9 L818.0 624.8" stroke="#50ffa0" stroke-width="37.0"/><path d="M815.2 639.1 L820.9 644.8" stroke="#50ffa0" stroke-width="17.0"/><path d="M826.6 428.5 L835.1 462.7 L840.8 491.1" stroke="#50ffa0" stroke-width="19.0"/><path d="M630.3 704.5 L661.6 715.9 L690.0 710.2 L721.3 704.5 L746.9 698.8" stroke="#50ffa0" stroke-width="9.0"/><path d="M655.9 715.9 L675.8 721.6" stroke="#50ffa0" stroke-width="10.0"/><path d="M618.9 732.9 L630.3 721.6" stroke="#50ffa0" stroke-width="11.0"/><path d="M567.7 778.5 L584.8 784.2" stroke="#50ffa0" stroke-width="18.0"/><path d="M417.2 602.1 L451.3 602.1 L491.1 613.5 L536.7 613.5 L553.7 641.9 L548.0 676.0 L542.4 704.5 L525.3 732.9 L496.8 741.5 L468.4 715.9 L445.6 710.2 L434.2 676.0 L417.2 641.9Z" fill="#50ffa0" stroke="#50ffa0" stroke-width="26.0"/><path d="M371.7 579.3 L394.4 590.7 L417.2 604.9" stroke="#50ffa0" stroke-width="32.0"/><path d="M479.8 738.6 L542.4 710.2 L576.5 769.9 L513.9 800.1 L491.1 775.6Z" fill="#50ffa0" stroke="#50ffa0" stroke-width="20.0"/><path d="M383.9 586.2 L418.0 609.0" stroke="#50ffa0" stroke-width="23.0"/><path d="M332.7 546.4 L355.5 574.9 L389.6 586.2" stroke="#50ffa0" stroke-width="16.0"/><path d="M435.1 438.3 L469.3 421.2 L514.8 409.8 L560.3 387.1 L583.1 370.0" stroke="#50ffa0" stroke-width="11.0"/><path d="M560.3 375.7 L583.1 364.3" stroke="#50ffa0" stroke-width="22.0"/><path d="M503.4 409.8 L537.5 404.2" stroke="#50ffa0" stroke-width="22.0"/><path d="M594.4 313.1 L605.8 347.3 L594.4 381.4" stroke="#50ffa0" stroke-width="10.0"/><path d="M366.8 199.3 L389.6 187.9 L406.7 210.7" stroke="#50ffa0" stroke-width="6.0"/><path d="M765.1 529.3 L787.9 552.1" stroke="#50ffa0" stroke-width="8.0"/><path d="M300.1 222.1 L322.9 210.7" stroke="#50ffa0" stroke-width="16.0"/><path d="M345.6 205.0 L339.9 224.9 L347.0 244.8" stroke="#ffe800" stroke-width="6.0"/><path d="M419.6 179.4 L418.2 199.3" stroke="#ffe800" stroke-width="26.0"/><path d="M433.8 176.6 L439.5 210.7" stroke="#ffe800" stroke-width="11.0"/><path d="M408.2 210.7 L419.6 233.5" stroke="#ffe800" stroke-width="4.0"/><path d="M448.0 216.4 L442.4 239.1 L425.3 261.9 L419.6 276.1" stroke="#ffe800" stroke-width="24.0"/><path d="M413.9 276.1 L442.4 301.7 L470.8 321.7 L504.9 335.9 L547.6 341.6 L590.3 350.1" stroke="#ffe800" stroke-width="27.0"/><path d="M476.5 310.3 L519.2 324.5 L561.8 334.5" stroke="#ffe800" stroke-width="5.0"/><path d="M402.5 267.6 L425.3 256.2 L448.0 279.0 L436.7 296.0 L408.2 290.4Z" fill="#ffe800" stroke="#ffe800" stroke-width="14.0"/><path d="M374.1 341.6 L396.8 330.2 L419.6 313.1" stroke="#ffe800" stroke-width="25.0"/><path d="M328.6 307.4 L339.9 324.5 L351.3 347.3 L362.7 358.6" stroke="#ffe800" stroke-width="11.0"/><path d="M325.7 358.6 L334.2 364.3" stroke="#ffe800" stroke-width="15.0"/><path d="M209.1 233.5 L217.6 256.2 L229.0 276.1 L248.9 290.4" stroke="#ffe800" stroke-width="25.0"/><path d="M214.8 239.1 L237.5 244.8 L257.4 256.2" stroke="#ffe800" stroke-width="10.0"/><path d="M300.1 210.7 L311.5 199.3 L328.6 193.6" stroke="#ffe800" stroke-width="4.0"/><path d="M465.1 68.4 L487.9 65.6 L510.6 77.0 L533.4 88.4" stroke="#ffe800" stroke-width="16.0"/><path d="M499.3 122.5 L516.3 114.0 L533.4 99.7" stroke="#ffe800" stroke-width="11.0"/><path d="M470.8 153.8 L487.9 136.7" stroke="#ffe800" stroke-width="16.0"/><path d="M465.1 216.4 L476.5 199.3" stroke="#ffe800" stroke-width="17.0"/><path d="M493.6 239.1 L522.0 227.8 L544.8 210.7" stroke="#ffe800" stroke-width="17.0"/><path d="M499.3 247.7 L527.7 236.3" stroke="#ffe800" stroke-width="3.0"/><path d="M476.5 250.5 L504.9 244.8" stroke="#ffe800" stroke-width="23.0"/><path d="M469.3 335.9 L503.4 347.3 L548.9 352.9" stroke="#ffe800" stroke-width="16.0"/><path d="M571.7 182.2 L605.8 168.0" stroke="#ffe800" stroke-width="3.0"/><path d="M728.1 207.9 L753.7 196.5 L759.4 227.8 L733.8 253.4" stroke="#ffe800" stroke-width="32.0"/><path d="M676.9 267.6 L691.2 253.4 L705.4 267.6 L691.2 281.8 L676.9 267.6" stroke="#ffe800" stroke-width="15.0"/><path d="M708.2 244.8 L731.0 267.6 L708.2 290.4" stroke="#ffe800" stroke-width="11.0"/><path d="M765.1 347.3 L787.9 335.9 L827.7 347.3" stroke="#ffe800" stroke-width="10.0"/><path d="M790.7 361.5 L816.3 381.4 L833.4 404.2" stroke="#ffe800" stroke-width="36.0"/><path d="M839.1 438.3 L844.8 472.4 L833.4 512.3" stroke="#ffe800" stroke-width="5.0"/><path d="M786.8 545.2 L789.6 573.6" stroke="#ffe800" stroke-width="4.0"/><path d="M778.2 579.3 L798.1 604.9 L818.0 624.8" stroke="#ffe800" stroke-width="31.0"/><path d="M815.2 639.1 L820.9 644.8" stroke="#ffe800" stroke-width="11.0"/><path d="M826.6 428.5 L835.1 462.7 L840.8 491.1" stroke="#ffe800" stroke-width="13.0"/><path d="M655.9 715.9 L675.8 721.6" stroke="#ffe800" stroke-width="4.0"/><path d="M618.9 732.9 L630.3 721.6" stroke="#ffe800" stroke-width="5.0"/><path d="M567.7 778.5 L584.8 784.2" stroke="#ffe800" stroke-width="12.0"/><path d="M417.2 602.1 L451.3 602.1 L491.1 613.5 L536.7 613.5 L553.7 641.9 L548.0 676.0 L542.4 704.5 L525.3 732.9 L496.8 741.5 L468.4 715.9 L445.6 710.2 L434.2 676.0 L417.2 641.9Z" fill="#ffe800" stroke="#ffe800" stroke-width="20.0"/><path d="M371.7 579.3 L394.4 590.7 L417.2 604.9" stroke="#ffe800" stroke-width="26.0"/><path d="M479.8 738.6 L542.4 710.2 L576.5 769.9 L513.9 800.1 L491.1 775.6Z" fill="#ffe800" stroke="#ffe800" stroke-width="14.0"/><path d="M383.9 586.2 L418.0 609.0" stroke="#ffe800" stroke-width="17.0"/><path d="M332.7 546.4 L355.5 574.9 L389.6 586.2" stroke="#ffe800" stroke-width="10.0"/><path d="M435.1 438.3 L469.3 421.2 L514.8 409.8 L560.3 387.1 L583.1 370.0" stroke="#ffe800" stroke-width="5.0"/><path d="M560.3 375.7 L583.1 364.3" stroke="#ffe800" stroke-width="16.0"/><path d="M503.4 409.8 L537.5 404.2" stroke="#ffe800" stroke-width="16.0"/><path d="M594.4 313.1 L605.8 347.3 L594.4 381.4" stroke="#ffe800" stroke-width="4.0"/><path d="M300.1 222.1 L322.9 210.7" stroke="#ffe800" stroke-width="10.0"/><path d="M419.6 179.4 L418.2 199.3" stroke="#ff7800" stroke-width="20.0"/><path d="M433.8 176.6 L439.5 210.7" stroke="#ff7800" stroke-width="5.0"/><path d="M448.0 216.4 L442.4 239.1 L425.3 261.9 L419.6 276.1" stroke="#ff7800" stroke-width="18.0"/><path d="M413.9 276.1 L442.4 301.7 L470.8 321.7 L504.9 335.9 L547.6 341.6 L590.3 350.1" stroke="#ff7800" stroke-width="21.0"/><path d="M402.5 267.6 L425.3 256.2 L448.0 279.0 L436.7 296.0 L408.2 290.4Z" fill="#ff7800" stroke="#ff7800" stroke-width="8.0"/><path d="M374.1 341.6 L396.8 330.2 L419.6 313.1" stroke="#ff7800" stroke-width="19.0"/><path d="M328.6 307.4 L339.9 324.5 L351.3 347.3 L362.7 358.6" stroke="#ff7800" stroke-width="5.0"/><path d="M325.7 358.6 L334.2 364.3" stroke="#ff7800" stroke-width="9.0"/><path d="M209.1 233.5 L217.6 256.2 L229.0 276.1 L248.9 290.4" stroke="#ff7800" stroke-width="19.0"/><path d="M214.8 239.1 L237.5 244.8 L257.4 256.2" stroke="#ff7800" stroke-width="4.0"/><path d="M465.1 68.4 L487.9 65.6 L510.6 77.0 L533.4 88.4" stroke="#ff7800" stroke-width="10.0"/><path d="M499.3 122.5 L516.3 114.0 L533.4 99.7" stroke="#ff7800" stroke-width="5.0"/><path d="M470.8 153.8 L487.9 136.7" stroke="#ff7800" stroke-width="10.0"/><path d="M465.1 216.4 L476.5 199.3" stroke="#ff7800" stroke-width="11.0"/><path d="M493.6 239.1 L522.0 227.8 L544.8 210.7" stroke="#ff7800" stroke-width="11.0"/><path d="M476.5 250.5 L504.9 244.8" stroke="#ff7800" stroke-width="17.0"/><path d="M469.3 335.9 L503.4 347.3 L548.9 352.9" stroke="#ff7800" stroke-width="10.0"/><path d="M728.1 207.9 L753.7 196.5 L759.4 227.8 L733.8 253.4" stroke="#ff7800" stroke-width="26.0"/><path d="M676.9 267.6 L691.2 253.4 L705.4 267.6 L691.2 281.8 L676.9 267.6" stroke="#ff7800" stroke-width="9.0"/><path d="M708.2 244.8 L731.0 267.6 L708.2 290.4" stroke="#ff7800" stroke-width="5.0"/><path d="M765.1 347.3 L787.9 335.9 L827.7 347.3" stroke="#ff7800" stroke-width="4.0"/><path d="M790.7 361.5 L816.3 381.4 L833.4 404.2" stroke="#ff7800" stroke-width="30.0"/><path d="M778.2 579.3 L798.1 604.9 L818.0 624.8" stroke="#ff7800" stroke-width="25.0"/><path d="M815.2 639.1 L820.9 644.8" stroke="#ff7800" stroke-width="5.0"/><path d="M826.6 428.5 L835.1 462.7 L840.8 491.1" stroke="#ff7800" stroke-width="7.0"/><path d="M567.7 778.5 L584.8 784.2" stroke="#ff7800" stroke-width="6.0"/><path d="M417.2 602.1 L451.3 602.1 L491.1 613.5 L536.7 613.5 L553.7 641.9 L548.0 676.0 L542.4 704.5 L525.3 732.9 L496.8 741.5 L468.4 715.9 L445.6 710.2 L434.2 676.0 L417.2 641.9Z" fill="#ff7800" stroke="#ff7800" stroke-width="14.0"/><path d="M371.7 579.3 L394.4 590.7 L417.2 604.9" stroke="#ff7800" stroke-width="20.0"/><path d="M479.8 738.6 L542.4 710.2 L576.5 769.9 L513.9 800.1 L491.1 775.6Z" fill="#ff7800" stroke="#ff7800" stroke-width="8.0"/><path d="M383.9 586.2 L418.0 609.0" stroke="#ff7800" stroke-width="11.0"/><path d="M332.7 546.4 L355.5 574.9 L389.6 586.2" stroke="#ff7800" stroke-width="4.0"/><path d="M560.3 375.7 L583.1 364.3" stroke="#ff7800" stroke-width="10.0"/><path d="M503.4 409.8 L537.5 404.2" stroke="#ff7800" stroke-width="10.0"/><path d="M300.1 222.1 L322.9 210.7" stroke="#ff7800" stroke-width="4.0"/><path d="M419.6 179.4 L418.2 199.3" stroke="#e80000" stroke-width="14.0"/><path d="M448.0 216.4 L442.4 239.1 L425.3 261.9 L419.6 276.1" stroke="#e80000" stroke-width="12.0"/><path d="M413.9 276.1 L442.4 301.7 L470.8 321.7 L504.9 335.9 L547.6 341.6 L590.3 350.1" stroke="#e80000" stroke-width="15.0"/><path d="M402.5 267.6 L425.3 256.2 L448.0 279.0 L436.7 296.0 L408.2 290.4Z" fill="#e80000" stroke="#e80000" stroke-width="2.0"/><path d="M374.1 341.6 L396.8 330.2 L419.6 313.1" stroke="#e80000" stroke-width="13.0"/><path d="M325.7 358.6 L334.2 364.3" stroke="#e80000" stroke-width="3.0"/><path d="M209.1 233.5 L217.6 256.2 L229.0 276.1 L248.9 290.4" stroke="#e80000" stroke-width="13.0"/><path d="M465.1 68.4 L487.9 65.6 L510.6 77.0 L533.4 88.4" stroke="#e80000" stroke-width="4.0"/><path d="M470.8 153.8 L487.9 136.7" stroke="#e80000" stroke-width="4.0"/><path d="M465.1 216.4 L476.5 199.3" stroke="#e80000" stroke-width="5.0"/><path d="M493.6 239.1 L522.0 227.8 L544.8 210.7" stroke="#e80000" stroke-width="5.0"/><path d="M476.5 250.5 L504.9 244.8" stroke="#e80000" stroke-width="11.0"/><path d="M469.3 335.9 L503.4 347.3 L548.9 352.9" stroke="#e80000" stroke-width="4.0"/><path d="M728.1 207.9 L753.7 196.5 L759.4 227.8 L733.8 253.4" stroke="#e80000" stroke-width="20.0"/><path d="M676.9 267.6 L691.2 253.4 L705.4 267.6 L691.2 281.8 L676.9 267.6" stroke="#e80000" stroke-width="3.0"/><path d="M790.7 361.5 L816.3 381.4 L833.4 404.2" stroke="#e80000" stroke-width="24.0"/><path d="M778.2 579.3 L798.1 604.9 L818.0 624.8" stroke="#e80000" stroke-width="19.0"/><path d="M417.2 602.1 L451.3 602.1 L491.1 613.5 L536.7 613.5 L553.7 641.9 L548.0 676.0 L542.4 704.5 L525.3 732.9 L496.8 741.5 L468.4 715.9 L445.6 710.2 L434.2 676.0 L417.2 641.9Z" fill="#e80000" stroke="#e80000" stroke-width="8.0"/><path d="M371.7 579.3 L394.4 590.7 L417.2 604.9" stroke="#e80000" stroke-width="14.0"/><path d="M479.8 738.6 L542.4 710.2 L576.5 769.9 L513.9 800.1 L491.1 775.6Z" fill="#e80000" stroke="#e80000" stroke-width="2.0"/><path d="M383.9 586.2 L418.0 609.0" stroke="#e80000" stroke-width="5.0"/><path d="M560.3 375.7 L583.1 364.3" stroke="#e80000" stroke-width="4.0"/><path d="M503.4 409.8 L537.5 404.2" stroke="#e80000" stroke-width="4.0"/><path d="M448.0 216.4 L442.4 239.1 L425.3 261.9 L419.6 276.1" stroke="#8c0000" stroke-width="6.0"/><path d="M413.9 276.1 L442.4 301.7 L470.8 321.7 L504.9 335.9 L547.6 341.6 L590.3 350.1" stroke="#8c0000" stroke-width="9.0"/><path d="M374.1 341.6 L396.8 330.2 L419.6 313.1" stroke="#8c0000" stroke-width="7.0"/><path d="M209.1 233.5 L217.6 256.2 L229.0 276.1 L248.9 290.4" stroke="#8c0000" stroke-width="7.0"/><path d="M476.5 250.5 L504.9 244.8" stroke="#8c0000" stroke-width="5.0"/><path d="M728.1 207.9 L753.7 196.5 L759.4 227.8 L733.8 253.4" stroke="#8c0000" stroke-width="14.0"/><path d="M790.7 361.5 L816.3 381.4 L833.4 404.2" stroke="#8c0000" stroke-width="18.0"/><path d="M778.2 579.3 L798.1 604.9 L818.0 624.8" stroke="#8c0000" stroke-width="13.0"/><path d="M417.2 602.1 L451.3 602.1 L491.1 613.5 L536.7 613.5 L553.7 641.9 L548.0 676.0 L542.4 704.5 L525.3 732.9 L496.8 741.5 L468.4 715.9 L445.6 710.2 L434.2 676.0 L417.2 641.9Z" fill="#8c0000" stroke="#8c0000" stroke-width="2.0"/><path d="M371.7 579.3 L394.4 590.7 L417.2 604.9" stroke="#8c0000" stroke-width="8.0"/><path d="M732.7 602.1 L761.1 590.7 L789.6 619.1 L795.3 653.3 L761.1 664.7 L738.4 641.9Z" fill="#0000a0" stroke="#0000a0" stroke-width="0.0"/><path d="M436.7 102.6 L476.5 96.9 L499.3 125.3 L465.1 142.4 L442.4 131.0Z" fill="#0000a0" stroke="#0000a0" stroke-width="0.0"/><path d="M351.3 199.3 L339.9 222.1 L345.6 244.8 L362.7 261.9" stroke="#0060ff" stroke-width="34.0"/><path d="M357.0 227.8 L359.9 250.5" stroke="#0060ff" stroke-width="34.0"/><path d="M408.2 182.2 L419.6 199.3 L419.6 222.1" stroke="#0060ff" stroke-width="33.0"/><path d="M362.7 187.9 L391.1 182.2 L408.2 193.6" stroke="#0060ff" stroke-width="18.0"/><path d="M503.9 668.9 L505.0 682.7" stroke="#00d0ff" stroke-width="6.9"/><path d="M464.0 669.6 L464.9 679.6" stroke="#00d0ff" stroke-width="6.3"/><path d="M470.2 649.6 L473.7 661.8" stroke="#00d0ff" stroke-width="4.5"/><path d="M484.9 670.6 L484.3 679.8" stroke="#00d0ff" stroke-width="5.3"/><path d="M507.0 635.7 L503.2 648.7" stroke="#00d0ff" stroke-width="6.5"/><path d="M484.2 654.4 L493.7 663.7" stroke="#00d0ff" stroke-width="5.2"/><path d="M505.3 622.4 L506.0 633.4" stroke="#00d0ff" stroke-width="4.0"/><path d="M533.2 645.0 L541.4 648.8" stroke="#00d0ff" stroke-width="5.9"/><path d="M506.7 619.7 L510.9 632.3" stroke="#00d0ff" stroke-width="6.6"/><path d="M486.6 704.5 L483.2 709.1" stroke="#00d0ff" stroke-width="5.1"/><path d="M513.5 667.7 L515.6 674.1" stroke="#00d0ff" stroke-width="3.9"/><path d="M471.7 647.7 L462.1 648.8" stroke="#00d0ff" stroke-width="3.3"/><path d="M540.0 672.8 L545.9 679.8" stroke="#00d0ff" stroke-width="4.5"/><path d="M500.2 699.7 L486.5 702.3" stroke="#00d0ff" stroke-width="3.6"/><path d="M519.2 707.9 L519.2 711.7" stroke="#00d0ff" stroke-width="5.1"/><path d="M510.1 693.1 L511.9 694.7" stroke="#00d0ff" stroke-width="4.4"/><path d="M451.4 629.8 L450.5 640.5" stroke="#00d0ff" stroke-width="3.3"/><path d="M506.8 734.5 L510.6 735.1" stroke="#00d0ff" stroke-width="5.1"/><path d="M555.1 776.6 L563.9 778.1" stroke="#00d0ff" stroke-width="4.6"/><path d="M520.3 733.0 L517.3 733.8" stroke="#00d0ff" stroke-width="6.7"/><path d="M534.5 726.2 L539.7 726.7" stroke="#00d0ff" stroke-width="3.6"/><path d="M506.9 786.3 L505.1 787.9" stroke="#00d0ff" stroke-width="3.0"/><path d="M507.3 745.6 L513.1 753.9" stroke="#00d0ff" stroke-width="5.2"/><path d="M502.9 738.1 L507.3 742.8" stroke="#00d0ff" stroke-width="4.0"/><path d="M512.6 744.4 L513.6 752.2" stroke="#00d0ff" stroke-width="5.5"/><path d="M536.4 737.4 L542.8 742.0" stroke="#00d0ff" stroke-width="6.2"/><path d="M551.2 750.6 L552.3 754.1" stroke="#00d0ff" stroke-width="6.7"/><path d="M489.6 755.6 L494.3 755.7" stroke="#00d0ff" stroke-width="4.8"/><path d="M515.6 753.0 L510.4 760.5" stroke="#00d0ff" stroke-width="5.7"/><path d="M351.3 199.3 L339.9 222.1 L345.6 244.8 L362.7 261.9" stroke="#00d0ff" stroke-width="28.0"/><path d="M357.0 227.8 L359.9 250.5" stroke="#00d0ff" stroke-width="28.0"/><path d="M408.2 182.2 L419.6 199.3 L419.6 222.1" stroke="#00d0ff" stroke-width="27.0"/><path d="M362.7 187.9 L391.1 182.2 L408.2 193.6" stroke="#00d0ff" stroke-width="12.0"/><path d="M448.9 634.5 L441.7 634.6" stroke="#50ffa0" stroke-width="6.1"/><path d="M508.4 688.7 L504.1 689.3" stroke="#50ffa0" stroke-width="3.1"/><path d="M530.1 631.9 L526.6 642.0" stroke="#50ffa0" stroke-width="5.5"/><path d="M451.3 624.8 L491.1 636.2 L519.6 636.2" stroke="#50ffa0" stroke-width="6.0"/><path d="M531.1 775.7 L532.5 777.9" stroke="#50ffa0" stroke-width="4.3"/><path d="M521.7 770.7 L527.7 772.5" stroke="#50ffa0" stroke-width="4.8"/><path d="M351.3 199.3 L339.9 222.1 L345.6 244.8 L362.7 261.9" stroke="#50ffa0" stroke-width="22.0"/><path d="M357.0 227.8 L359.9 250.5" stroke="#50ffa0" stroke-width="22.0"/><path d="M408.2 182.2 L419.6 199.3 L419.6 222.1" stroke="#50ffa0" stroke-width="21.0"/><path d="M362.7 187.9 L391.1 182.2 L408.2 193.6" stroke="#50ffa0" stroke-width="6.0"/><path d="M472.7 663.7 L467.9 670.6" stroke="#ffe800" stroke-width="5.6"/><path d="M427.4 629.6 L414.5 634.0" stroke="#ffe800" stroke-width="6.0"/><path d="M521.3 683.0 L520.8 685.8" stroke="#ffe800" stroke-width="5.2"/><path d="M502.7 718.3 L500.9 724.2" stroke="#ffe800" stroke-width="4.2"/><path d="M477.2 658.9 L470.4 662.7" stroke="#ffe800" stroke-width="3.2"/><path d="M548.1 675.4 L540.5 676.5" stroke="#ffe800" stroke-width="6.6"/><path d="M467.1 623.5 L469.2 632.5" stroke="#ffe800" stroke-width="5.3"/><path d="M469.4 619.6 L468.7 621.8" stroke="#ffe800" stroke-width="5.6"/><path d="M533.5 683.5 L526.2 690.7" stroke="#ffe800" stroke-width="6.2"/><path d="M482.7 670.6 L489.9 676.5" stroke="#ffe800" stroke-width="4.8"/><path d="M503.6 688.4 L496.4 698.4" stroke="#ffe800" stroke-width="5.7"/><path d="M445.3 648.8 L452.7 653.8" stroke="#ffe800" stroke-width="3.3"/><path d="M490.3 670.6 L496.0 680.7" stroke="#ffe800" stroke-width="4.1"/><path d="M465.4 643.6 L463.7 644.8" stroke="#ffe800" stroke-width="5.7"/><path d="M462.7 647.6 L485.5 664.7" stroke="#ffe800" stroke-width="4.0"/><path d="M542.8 741.3 L538.5 741.8" stroke="#ffe800" stroke-width="4.3"/><path d="M497.6 745.5 L487.0 747.0" stroke="#ffe800" stroke-width="5.1"/><path d="M534.3 745.9 L532.8 750.6" stroke="#ffe800" stroke-width="5.2"/><path d="M498.8 731.6 L496.0 732.6" stroke="#ffe800" stroke-width="3.7"/><path d="M497.8 741.7 L502.5 744.4" stroke="#ffe800" stroke-width="5.8"/><path d="M521.8 734.4 L524.1 735.9" stroke="#ffe800" stroke-width="5.7"/><path d="M516.3 786.5 L513.4 789.3" stroke="#ffe800" stroke-width="5.5"/><path d="M547.8 764.9 L544.7 767.1" stroke="#ffe800" stroke-width="6.6"/><path d="M533.1 742.7 L540.2 750.4" stroke="#ffe800" stroke-width="4.0"/><path d="M530.6 741.5 L526.5 747.2" stroke="#ffe800" stroke-width="6.3"/><path d="M519.0 788.8 L517.6 791.2" stroke="#ffe800" stroke-width="5.1"/><path d="M514.8 795.8 L509.4 800.7" stroke="#ffe800" stroke-width="3.1"/><path d="M571.5 771.9 L579.7 773.6" stroke="#ffe800" stroke-width="5.3"/><path d="M510.9 771.0 L502.1 773.8" stroke="#ffe800" stroke-width="6.2"/><path d="M533.3 742.1 L523.3 742.6" stroke="#ffe800" stroke-width="3.5"/><path d="M538.3 737.9 L535.7 739.6" stroke="#ffe800" stroke-width="5.0"/><path d="M351.3 199.3 L339.9 222.1 L345.6 244.8 L362.7 261.9" stroke="#ffe800" stroke-width="16.0"/><path d="M357.0 227.8 L359.9 250.5" stroke="#ffe800" stroke-width="16.0"/><path d="M408.2 182.2 L419.6 199.3 L419.6 222.1" stroke="#ffe800" stroke-width="15.0"/><path d="M478.8 655.9 L485.4 656.4" stroke="#ff7800" stroke-width="3.4"/><path d="M452.4 642.5 L454.0 647.2" stroke="#ff7800" stroke-width="6.5"/><path d="M436.1 621.9 L439.2 622.1" stroke="#ff7800" stroke-width="4.8"/><path d="M460.0 607.9 L457.5 610.9" stroke="#ff7800" stroke-width="7.0"/><path d="M528.8 714.0 L541.6 718.1" stroke="#ff7800" stroke-width="5.4"/><path d="M465.7 646.4 L468.9 647.2" stroke="#ff7800" stroke-width="3.3"/><path d="M528.4 708.0 L520.4 709.3" stroke="#ff7800" stroke-width="5.7"/><path d="M439.3 630.2 L449.5 633.2" stroke="#ff7800" stroke-width="3.7"/><path d="M488.5 688.5 L489.8 699.3" stroke="#ff7800" stroke-width="3.4"/><path d="M545.6 667.2 L541.9 673.7" stroke="#ff7800" stroke-width="5.7"/><path d="M565.0 763.2 L570.3 766.5" stroke="#ff7800" stroke-width="3.4"/><path d="M532.6 741.6 L528.2 751.8" stroke="#ff7800" stroke-width="4.8"/><path d="M531.5 722.8 L526.9 723.2" stroke="#ff7800" stroke-width="5.8"/><path d="M542.9 739.1 L544.3 740.5" stroke="#ff7800" stroke-width="3.5"/><path d="M510.2 790.1 L507.2 791.0" stroke="#ff7800" stroke-width="6.3"/><path d="M494.5 760.5 L494.4 770.5" stroke="#ff7800" stroke-width="3.3"/><path d="M557.9 770.5 L555.6 773.9" stroke="#ff7800" stroke-width="6.7"/><path d="M534.3 781.3 L542.5 781.9" stroke="#ff7800" stroke-width="6.7"/><path d="M533.6 784.2 L541.3 790.1" stroke="#ff7800" stroke-width="4.0"/><path d="M542.0 734.5 L539.6 741.8" stroke="#ff7800" stroke-width="4.0"/><path d="M552.2 741.5 L549.9 743.9" stroke="#ff7800" stroke-width="3.2"/><path d="M351.3 199.3 L339.9 222.1 L345.6 244.8 L362.7 261.9" stroke="#ff7800" stroke-width="10.0"/><path d="M357.0 227.8 L359.9 250.5" stroke="#ff7800" stroke-width="10.0"/><path d="M408.2 182.2 L419.6 199.3 L419.6 222.1" stroke="#ff7800" stroke-width="9.0"/><path d="M442.2 675.6 L443.1 677.5" stroke="#e80000" stroke-width="5.3"/><path d="M518.4 614.4 L520.3 627.4" stroke="#e80000" stroke-width="5.2"/><path d="M431.3 611.2 L432.2 615.2" stroke="#e80000" stroke-width="3.6"/><path d="M502.0 627.4 L498.0 632.6" stroke="#e80000" stroke-width="5.2"/><path d="M536.5 710.0 L541.1 722.3" stroke="#e80000" stroke-width="6.5"/><path d="M471.5 681.1 L478.9 688.6" stroke="#e80000" stroke-width="5.8"/><path d="M450.9 700.2 L452.5 706.9" stroke="#e80000" stroke-width="6.2"/><path d="M469.9 687.8 L464.8 694.3" stroke="#e80000" stroke-width="6.6"/><path d="M439.9 681.6 L433.6 685.1" stroke="#e80000" stroke-width="4.2"/><path d="M450.5 682.2 L438.8 685.0" stroke="#e80000" stroke-width="6.5"/><path d="M442.6 615.8 L445.5 619.0" stroke="#e80000" stroke-width="3.2"/><path d="M357.0 227.8 L359.9 250.5" stroke="#e80000" stroke-width="4.0"/><path d="M528.7 756.7 L522.9 758.1" stroke="#8c0000" stroke-width="3.7"/><path d="M524.3 786.3 L532.6 790.0" stroke="#8c0000" stroke-width="4.1"/><path d="M536.0 765.8 L532.3 769.8" stroke="#8c0000" stroke-width="6.7"/><path d="M509.1 738.3 L508.5 746.0" stroke="#8c0000" stroke-width="5.2"/><path d="M371.2 207.9 L385.5 207.9 L388.3 233.5 L374.1 239.1Z" fill="#0000a0" stroke="#0000a0" stroke-width="0.0"/><path d="M562.3 653.3 L593.6 647.6 L604.9 704.5 L576.5 732.9 L559.4 704.5Z" fill="#0000a0" stroke="#0000a0" stroke-width="0.0"/></g>
<use href="#stk1"/>
</g>
<use href="#isl"/>
<use href="#frame"/>
<text x="816.5" y="914" font-size="73" fill="#111">(f)</text>
</g>
<g transform="translate(0.0,2782.5)">
<use href="#base"/><use href="#grid"/>
<g clip-path="url(#seaclip)"><rect x="173.0" y="47.3" width="778.8" height="904.2" fill="#0000d4"/>
<g filter="url(#b3)" stroke-linecap="round" stroke-linejoin="round" fill="none"><path d="M480.6 449.7 L560.3 415.5 L617.2 358.6 L674.1 358.6 L708.2 438.3 L674.1 495.2 L617.2 529.3 L560.3 597.6 L514.8 586.2 L469.3 529.3Z" fill="#0000a0" stroke="#0000a0" stroke-width="0.0"/><path d="M287.2 210.7 L344.1 170.9 L401.0 153.8 L457.9 199.3 L435.1 256.2 L389.6 284.7 L332.7 290.4 L292.9 256.2Z" fill="#0000a0" stroke="#0000a0" stroke-width="0.0"/><path d="M594.4 205.0 L674.1 193.6 L662.7 279.0 L628.6 324.5 L594.4 279.0Z" fill="#0000a0" stroke="#0000a0" stroke-width="0.0"/><path d="M412.4 142.4 L457.9 79.8 L526.2 85.5 L531.8 142.4 L480.6 182.2Z" fill="#0060ff" stroke="#0060ff" stroke-width="0.0"/><path d="M463.6 74.1 L503.4 79.8 L526.2 96.9" stroke="#0060ff" stroke-width="34.0"/><path d="M429.4 125.3 L457.9 102.6 L492.0 91.2" stroke="#0060ff" stroke-width="15.0"/><path d="M480.6 131.0 L514.8 119.7 L526.2 102.6" stroke="#0060ff" stroke-width="14.0"/><path d="M412.4 148.1 L457.9 153.8 L492.0 142.4" stroke="#0060ff" stroke-width="14.0"/><path d="M429.4 128.2 L446.5 114.0" stroke="#0060ff" stroke-width="21.0"/><path d="M474.9 111.1 L497.7 102.6" stroke="#0060ff" stroke-width="21.0"/><path d="M213.2 233.5 L224.6 256.2 L247.3 273.3 L275.8 284.7 L304.2 290.4" stroke="#0060ff" stroke-width="42.0"/><path d="M218.9 227.8 L236.0 216.4" stroke="#0060ff" stroke-width="21.0"/><path d="M247.3 227.8 L275.8 239.1 L298.6 256.2" stroke="#0060ff" stroke-width="12.0"/><path d="M304.2 290.4 L327.0 307.4 L332.7 335.9" stroke="#0060ff" stroke-width="35.0"/><path d="M321.3 347.3 L349.8 358.6 L378.2 347.3 L406.7 324.5 L429.4 307.4" stroke="#0060ff" stroke-width="35.0"/><path d="M349.8 324.5 L372.5 313.1" stroke="#0060ff" stroke-width="11.0"/><path d="M449.3 185.1 L460.7 207.9" stroke="#0060ff" stroke-width="38.0"/><path d="M469.3 176.6 L492.0 187.9" stroke="#0060ff" stroke-width="14.0"/><path d="M452.2 261.9 L469.3 290.4 L503.4 318.8 L548.9 335.9 L583.1 347.3" stroke="#0060ff" stroke-width="31.0"/><path d="M435.1 307.4 L480.6 330.2 L526.2 341.6 L571.7 352.9" stroke="#0060ff" stroke-width="34.0"/><path d="M457.9 250.5 L492.0 279.0 L537.5 307.4 L577.4 324.5" stroke="#0060ff" stroke-width="20.0"/><path d="M480.6 256.2 L509.1 249.4 L526.2 267.6" stroke="#0060ff" stroke-width="35.0"/><path d="M526.2 233.5 L560.3 210.7" stroke="#0060ff" stroke-width="12.0"/><path d="M537.5 205.0 L571.7 182.2 L617.2 168.0 L662.7 168.0 L696.9 182.2" stroke="#0060ff" stroke-width="28.0"/><path d="M560.3 210.7 L594.4 189.1 L651.3 180.5 L691.2 194.8" stroke="#0060ff" stroke-width="18.0"/><path d="M728.1 207.9 L753.7 200.5 L759.4 233.5 L736.7 255.1" stroke="#0060ff" stroke-width="50.0"/><path d="M674.1 256.2 L696.9 244.8 L719.6 267.6 L702.5 290.4 L679.8 279.0 L674.1 256.2" stroke="#0060ff" stroke-width="21.0"/><path d="M696.9 246.0 L716.8 264.8" stroke="#0060ff" stroke-width="33.0"/><path d="M662.7 227.8 L685.5 210.7 L708.2 227.8" stroke="#0060ff" stroke-width="13.0"/><path d="M759.4 347.3 L787.9 330.2 L827.7 341.6" stroke="#0060ff" stroke-width="28.0"/><path d="M790.7 358.6 L816.3 378.5 L833.4 404.2" stroke="#0060ff" stroke-width="54.0"/><path d="M833.4 438.3 L844.8 472.4 L839.1 506.6" stroke="#0060ff" stroke-width="22.0"/><path d="M790.7 511.4 L782.2 545.5 L773.7 579.7" stroke="#0060ff" stroke-width="25.0"/><path d="M779.4 534.1 L794.7 568.3 L810.6 602.4 L822.0 636.6" stroke="#0060ff" stroke-width="56.0"/><path d="M628.6 699.1 L674.1 715.1 L731.0 706.0 L765.1 692.3" stroke="#0060ff" stroke-width="27.0"/><path d="M662.7 716.2 L691.2 723.0" stroke="#0060ff" stroke-width="28.0"/><path d="M594.4 568.3 L611.5 625.2 L617.2 670.7" stroke="#0060ff" stroke-width="16.0"/><path d="M560.3 534.1 L577.4 591.0" stroke="#0060ff" stroke-width="10.0"/><path d="M554.6 659.3 L583.1 687.8 L617.2 699.1" stroke="#0060ff" stroke-width="13.0"/><path d="M537.5 727.6 L560.3 756.0 L571.7 795.9" stroke="#0060ff" stroke-width="12.0"/><path d="M560.3 716.2 L594.4 744.7 L617.2 773.1" stroke="#0060ff" stroke-width="17.0"/><path d="M577.4 733.3 L600.1 750.4" stroke="#0060ff" stroke-width="21.0"/><path d="M617.2 438.3 L634.3 483.8" stroke="#0060ff" stroke-width="13.0"/><path d="M383.9 579.7 L412.4 593.9 L457.9 601.3 L503.4 608.1 L537.5 630.9 L554.6 665.0 L548.9 699.1" stroke="#0060ff" stroke-width="36.0"/><path d="M406.7 599.6 L418.0 633.7 L435.1 670.7 L457.9 699.1 L480.6 716.2" stroke="#0060ff" stroke-width="45.0"/><path d="M494.9 702.0 L517.6 727.6" stroke="#0060ff" stroke-width="58.0"/><path d="M511.9 727.6 L517.6 761.7" stroke="#0060ff" stroke-width="48.0"/><path d="M480.6 773.1 L503.4 793.0 L531.8 784.5" stroke="#0060ff" stroke-width="22.0"/><path d="M503.4 750.4 L526.2 773.1 L531.8 807.3" stroke="#0060ff" stroke-width="35.0"/><path d="M332.7 552.1 L361.1 580.5 L401.0 586.2" stroke="#0060ff" stroke-width="28.0"/><path d="M349.8 512.3 L378.2 495.2 L418.0 478.1 L457.9 449.7 L503.4 426.9 L548.9 409.8" stroke="#0060ff" stroke-width="14.0"/><path d="M418.0 478.1 L457.9 449.7 L503.4 426.9" stroke="#0060ff" stroke-width="16.0"/><path d="M435.1 449.7 L469.3 426.9 L514.8 409.8 L560.3 392.8 L583.1 370.0" stroke="#0060ff" stroke-width="34.0"/><path d="M446.5 438.3 L480.6 422.4" stroke="#0060ff" stroke-width="21.0"/><path d="M355.5 540.7 L401.0 552.1 L446.5 574.9" stroke="#0060ff" stroke-width="12.0"/><path d="M583.1 358.6 L600.1 381.4 L594.4 409.8" stroke="#0060ff" stroke-width="12.0"/><path d="M585.9 364.3 L597.3 381.4" stroke="#0060ff" stroke-width="21.0"/><path d="M463.6 74.1 L503.4 79.8 L526.2 96.9" stroke="#00d0ff" stroke-width="28.0"/><path d="M429.4 125.3 L457.9 102.6 L492.0 91.2" stroke="#00d0ff" stroke-width="9.0"/><path d="M480.6 131.0 L514.8 119.7 L526.2 102.6" stroke="#00d0ff" stroke-width="8.0"/><path d="M412.4 148.1 L457.9 153.8 L492.0 142.4" stroke="#00d0ff" stroke-width="8.0"/><path d="M429.4 128.2 L446.5 114.0" stroke="#00d0ff" stroke-width="15.0"/><path d="M474.9 111.1 L497.7 102.6" stroke="#00d0ff" stroke-width="15.0"/><path d="M213.2 233.5 L224.6 256.2 L247.3 273.3 L275.8 284.7 L304.2 290.4" stroke="#00d0ff" stroke-width="36.0"/><path d="M218.9 227.8 L236.0 216.4" stroke="#00d0ff" stroke-width="15.0"/><path d="M247.3 227.8 L275.8 239.1 L298.6 256.2" stroke="#00d0ff" stroke-width="6.0"/><path d="M304.2 290.4 L327.0 307.4 L332.7 335.9" stroke="#00d0ff" stroke-width="29.0"/><path d="M321.3 347.3 L349.8 358.6 L378.2 347.3 L406.7 324.5 L429.4 307.4" stroke="#00d0ff" stroke-width="29.0"/><path d="M349.8 324.5 L372.5 313.1" stroke="#00d0ff" stroke-width="5.0"/><path d="M449.3 185.1 L460.7 207.9" stroke="#00d0ff" stroke-width="32.0"/><path d="M469.3 176.6 L492.0 187.9" stroke="#00d0ff" stroke-width="8.0"/><path d="M452.2 261.9 L469.3 290.4 L503.4 318.8 L548.9 335.9 L583.1 347.3" stroke="#00d0ff" stroke-width="25.0"/><path d="M435.1 307.4 L480.6 330.2 L526.2 341.6 L571.7 352.9" stroke="#00d0ff" stroke-width="28.0"/><path d="M457.9 250.5 L492.0 279.0 L537.5 307.4 L577.4 324.5" stroke="#00d0ff" stroke-width="14.0"/><path d="M480.6 256.2 L509.1 249.4 L526.2 267.6" stroke="#00d0ff" stroke-width="29.0"/><path d="M526.2 233.5 L560.3 210.7" stroke="#00d0ff" stroke-width="6.0"/><path d="M537.5 205.0 L571.7 182.2 L617.2 168.0 L662.7 168.0 L696.9 182.2" stroke="#00d0ff" stroke-width="22.0"/><path d="M560.3 210.7 L594.4 189.1 L651.3 180.5 L691.2 194.8" stroke="#00d0ff" stroke-width="12.0"/><path d="M728.1 207.9 L753.7 200.5 L759.4 233.5 L736.7 255.1" stroke="#00d0ff" stroke-width="44.0"/><path d="M674.1 256.2 L696.9 244.8 L719.6 267.6 L702.5 290.4 L679.8 279.0 L674.1 256.2" stroke="#00d0ff" stroke-width="15.0"/><path d="M696.9 246.0 L716.8 264.8" stroke="#00d0ff" stroke-width="27.0"/><path d="M662.7 227.8 L685.5 210.7 L708.2 227.8" stroke="#00d0ff" stroke-width="7.0"/><path d="M696.9 307.4 L731.0 358.6 L753.7 415.5 L776.5 472.4 L793.6 529.3" stroke="#00d0ff" stroke-width="46.0"/><path d="M759.4 347.3 L787.9 330.2 L827.7 341.6" stroke="#00d0ff" stroke-width="22.0"/><path d="M790.7 358.6 L816.3 378.5 L833.4 404.2" stroke="#00d0ff" stroke-width="48.0"/><path d="M833.4 438.3 L844.8 472.4 L839.1 506.6" stroke="#00d0ff" stroke-width="16.0"/><path d="M790.7 511.4 L782.2 545.5 L773.7 579.7" stroke="#00d0ff" stroke-width="19.0"/><path d="M779.4 534.1 L794.7 568.3 L810.6 602.4 L822.0 636.6" stroke="#00d0ff" stroke-width="50.0"/><path d="M634.3 534.1 L674.1 500.0 L731.0 500.0 L765.1 522.8 L787.9 568.3 L787.9 647.9 L765.1 693.5 L708.2 710.5 L651.3 704.8 L617.2 670.7 L634.3 613.8 L645.6 568.3Z" fill="#00d0ff" stroke="#00d0ff" stroke-width="0.0"/><path d="M628.6 699.1 L674.1 715.1 L731.0 706.0 L765.1 692.3" stroke="#00d0ff" stroke-width="21.0"/><path d="M662.7 716.2 L691.2 723.0" stroke="#00d0ff" stroke-width="22.0"/><path d="M554.6 659.3 L583.1 687.8 L617.2 699.1" stroke="#00d0ff" stroke-width="7.0"/><path d="M537.5 727.6 L560.3 756.0 L571.7 795.9" stroke="#00d0ff" stroke-width="6.0"/><path d="M560.3 716.2 L594.4 744.7 L617.2 773.1" stroke="#00d0ff" stroke-width="11.0"/><path d="M577.4 733.3 L600.1 750.4" stroke="#00d0ff" stroke-width="15.0"/><path d="M617.2 438.3 L634.3 483.8" stroke="#00d0ff" stroke-width="7.0"/><path d="M429.4 613.8 L480.6 611.0 L526.2 625.2 L543.2 665.0 L526.2 693.5 L480.6 687.8 L446.5 665.0Z" fill="#00d0ff" stroke="#00d0ff" stroke-width="0.0"/><path d="M383.9 579.7 L412.4 593.9 L457.9 601.3 L503.4 608.1 L537.5 630.9 L554.6 665.0 L548.9 699.1" stroke="#00d0ff" stroke-width="30.0"/><path d="M406.7 599.6 L418.0 633.7 L435.1 670.7 L457.9 699.1 L480.6 716.2" stroke="#00d0ff" stroke-width="39.0"/><path d="M494.9 702.0 L517.6 727.6" stroke="#00d0ff" stroke-width="52.0"/><path d="M511.9 727.6 L517.6 761.7" stroke="#00d0ff" stroke-width="42.0"/><path d="M480.6 773.1 L503.4 793.0 L531.8 784.5" stroke="#00d0ff" stroke-width="16.0"/><path d="M503.4 750.4 L526.2 773.1 L531.8 807.3" stroke="#00d0ff" stroke-width="29.0"/><path d="M332.7 552.1 L361.1 580.5 L401.0 586.2" stroke="#00d0ff" stroke-width="22.0"/><path d="M349.8 512.3 L378.2 495.2 L418.0 478.1 L457.9 449.7 L503.4 426.9 L548.9 409.8" stroke="#00d0ff" stroke-width="8.0"/><path d="M418.0 478.1 L457.9 449.7 L503.4 426.9" stroke="#00d0ff" stroke-width="10.0"/><path d="M435.1 449.7 L469.3 426.9 L514.8 409.8 L560.3 392.8 L583.1 370.0" stroke="#00d0ff" stroke-width="28.0"/><path d="M446.5 438.3 L480.6 422.4" stroke="#00d0ff" stroke-width="15.0"/><path d="M355.5 540.7 L401.0 552.1 L446.5 574.9" stroke="#00d0ff" stroke-width="6.0"/><path d="M583.1 358.6 L600.1 381.4 L594.4 409.8" stroke="#00d0ff" stroke-width="6.0"/><path d="M585.9 364.3 L597.3 381.4" stroke="#00d0ff" stroke-width="15.0"/><path d="M463.6 74.1 L503.4 79.8 L526.2 96.9" stroke="#50ffa0" stroke-width="22.0"/><path d="M429.4 128.2 L446.5 114.0" stroke="#50ffa0" stroke-width="9.0"/><path d="M474.9 111.1 L497.7 102.6" stroke="#50ffa0" stroke-width="9.0"/><path d="M213.2 233.5 L224.6 256.2 L247.3 273.3 L275.8 284.7 L304.2 290.4" stroke="#50ffa0" stroke-width="30.0"/><path d="M218.9 227.8 L236.0 216.4" stroke="#50ffa0" stroke-width="9.0"/><path d="M304.2 290.4 L327.0 307.4 L332.7 335.9" stroke="#50ffa0" stroke-width="23.0"/><path d="M321.3 347.3 L349.8 358.6 L378.2 347.3 L406.7 324.5 L429.4 307.4" stroke="#50ffa0" stroke-width="23.0"/><path d="M449.3 185.1 L460.7 207.9" stroke="#50ffa0" stroke-width="26.0"/><path d="M452.2 261.9 L469.3 290.4 L503.4 318.8 L548.9 335.9 L583.1 347.3" stroke="#50ffa0" stroke-width="19.0"/><path d="M435.1 307.4 L480.6 330.2 L526.2 341.6 L571.7 352.9" stroke="#50ffa0" stroke-width="22.0"/><path d="M457.9 250.5 L492.0 279.0 L537.5 307.4 L577.4 324.5" stroke="#50ffa0" stroke-width="8.0"/><path d="M480.6 256.2 L509.1 249.4 L526.2 267.6" stroke="#50ffa0" stroke-width="23.0"/><path d="M537.5 205.0 L571.7 182.2 L617.2 168.0 L662.7 168.0 L696.9 182.2" stroke="#50ffa0" stroke-width="16.0"/><path d="M560.3 210.7 L594.4 189.1 L651.3 180.5 L691.2 194.8" stroke="#50ffa0" stroke-width="6.0"/><path d="M728.1 207.9 L753.7 200.5 L759.4 233.5 L736.7 255.1" stroke="#50ffa0" stroke-width="38.0"/><path d="M674.1 256.2 L696.9 244.8 L719.6 267.6 L702.5 290.4 L679.8 279.0 L674.1 256.2" stroke="#50ffa0" stroke-width="9.0"/><path d="M696.9 246.0 L716.8 264.8" stroke="#50ffa0" stroke-width="21.0"/><path d="M702.5 313.1 L736.7 364.3 L759.4 421.2 L782.2 478.1 L794.7 523.6" stroke="#50ffa0" stroke-width="24.0"/><path d="M759.4 347.3 L787.9 330.2 L827.7 341.6" stroke="#50ffa0" stroke-width="16.0"/><path d="M790.7 358.6 L816.3 378.5 L833.4 404.2" stroke="#50ffa0" stroke-width="42.0"/><path d="M833.4 438.3 L844.8 472.4 L839.1 506.6" stroke="#50ffa0" stroke-width="10.0"/><path d="M790.7 511.4 L782.2 545.5 L773.7 579.7" stroke="#50ffa0" stroke-width="13.0"/><path d="M779.4 534.1 L794.7 568.3 L810.6 602.4 L822.0 636.6" stroke="#50ffa0" stroke-width="44.0"/><path d="M662.7 522.8 L674.1 579.7 L691.2 642.2 L708.2 693.5" stroke="#50ffa0" stroke-width="10.0"/><path d="M691.2 505.7 L708.2 562.6 L731.0 625.2 L742.4 682.1" stroke="#50ffa0" stroke-width="10.0"/><path d="M731.0 511.4 L753.7 562.6 L770.8 613.8 L773.7 665.0" stroke="#50ffa0" stroke-width="10.0"/><path d="M645.6 585.3 L657.0 642.2 L674.1 687.8" stroke="#50ffa0" stroke-width="8.0"/><path d="M628.6 699.1 L674.1 715.1 L731.0 706.0 L765.1 692.3" stroke="#50ffa0" stroke-width="15.0"/><path d="M662.7 716.2 L691.2 723.0" stroke="#50ffa0" stroke-width="16.0"/><path d="M560.3 716.2 L594.4 744.7 L617.2 773.1" stroke="#50ffa0" stroke-width="5.0"/><path d="M577.4 733.3 L600.1 750.4" stroke="#50ffa0" stroke-width="9.0"/><path d="M440.8 622.3 L480.6 636.6 L503.4 670.7" stroke="#50ffa0" stroke-width="6.0"/><path d="M383.9 579.7 L412.4 593.9 L457.9 601.3 L503.4 608.1 L537.5 630.9 L554.6 665.0 L548.9 699.1" stroke="#50ffa0" stroke-width="24.0"/><path d="M406.7 599.6 L418.0 633.7 L435.1 670.7 L457.9 699.1 L480.6 716.2" stroke="#50ffa0" stroke-width="33.0"/><path d="M494.9 702.0 L517.6 727.6" stroke="#50ffa0" stroke-width="46.0"/><path d="M511.9 727.6 L517.6 761.7" stroke="#50ffa0" stroke-width="36.0"/><path d="M480.6 773.1 L503.4 793.0 L531.8 784.5" stroke="#50ffa0" stroke-width="10.0"/><path d="M503.4 750.4 L526.2 773.1 L531.8 807.3" stroke="#50ffa0" stroke-width="23.0"/><path d="M332.7 552.1 L361.1 580.5 L401.0 586.2" stroke="#50ffa0" stroke-width="16.0"/><path d="M418.0 478.1 L457.9 449.7 L503.4 426.9" stroke="#50ffa0" stroke-width="4.0"/><path d="M435.1 449.7 L469.3 426.9 L514.8 409.8 L560.3 392.8 L583.1 370.0" stroke="#50ffa0" stroke-width="22.0"/><path d="M446.5 438.3 L480.6 422.4" stroke="#50ffa0" stroke-width="9.0"/><path d="M585.9 364.3 L597.3 381.4" stroke="#50ffa0" stroke-width="9.0"/><path d="M463.6 74.1 L503.4 79.8 L526.2 96.9" stroke="#ffe800" stroke-width="16.0"/><path d="M429.4 128.2 L446.5 114.0" stroke="#ffe800" stroke-width="3.0"/><path d="M474.9 111.1 L497.7 102.6" stroke="#ffe800" stroke-width="3.0"/><path d="M213.2 233.5 L224.6 256.2 L247.3 273.3 L275.8 284.7 L304.2 290.4" stroke="#ffe800" stroke-width="24.0"/><path d="M218.9 227.8 L236.0 216.4" stroke="#ffe800" stroke-width="3.0"/><path d="M304.2 290.4 L327.0 307.4 L332.7 335.9" stroke="#ffe800" stroke-width="17.0"/><path d="M321.3 347.3 L349.8 358.6 L378.2 347.3 L406.7 324.5 L429.4 307.4" stroke="#ffe800" stroke-width="17.0"/><path d="M449.3 185.1 L460.7 207.9" stroke="#ffe800" stroke-width="20.0"/><path d="M452.2 261.9 L469.3 290.4 L503.4 318.8 L548.9 335.9 L583.1 347.3" stroke="#ffe800" stroke-width="13.0"/><path d="M435.1 307.4 L480.6 330.2 L526.2 341.6 L571.7 352.9" stroke="#ffe800" stroke-width="16.0"/><path d="M480.6 256.2 L509.1 249.4 L526.2 267.6" stroke="#ffe800" stroke-width="17.0"/><path d="M537.5 205.0 L571.7 182.2 L617.2 168.0 L662.7 168.0 L696.9 182.2" stroke="#ffe800" stroke-width="10.0"/><path d="M728.1 207.9 L753.7 200.5 L759.4 233.5 L736.7 255.1" stroke="#ffe800" stroke-width="32.0"/><path d="M674.1 256.2 L696.9 244.8 L719.6 267.6 L702.5 290.4 L679.8 279.0 L674.1 256.2" stroke="#ffe800" stroke-width="3.0"/><path d="M696.9 246.0 L716.8 264.8" stroke="#ffe800" stroke-width="15.0"/><path d="M759.4 347.3 L787.9 330.2 L827.7 341.6" stroke="#ffe800" stroke-width="10.0"/><path d="M790.7 358.6 L816.3 378.5 L833.4 404.2" stroke="#ffe800" stroke-width="36.0"/><path d="M833.4 438.3 L844.8 472.4 L839.1 506.6" stroke="#ffe800" stroke-width="4.0"/><path d="M790.7 511.4 L782.2 545.5 L773.7 579.7" stroke="#ffe800" stroke-width="7.0"/><path d="M779.4 534.1 L794.7 568.3 L810.6 602.4 L822.0 636.6" stroke="#ffe800" stroke-width="38.0"/><path d="M628.6 699.1 L674.1 715.1 L731.0 706.0 L765.1 692.3" stroke="#ffe800" stroke-width="9.0"/><path d="M662.7 716.2 L691.2 723.0" stroke="#ffe800" stroke-width="10.0"/><path d="M577.4 733.3 L600.1 750.4" stroke="#ffe800" stroke-width="3.0"/><path d="M457.9 614.9 L503.4 622.9" stroke="#ffe800" stroke-width="4.0"/><path d="M383.9 579.7 L412.4 593.9 L457.9 601.3 L503.4 608.1 L537.5 630.9 L554.6 665.0 L548.9 699.1" stroke="#ffe800" stroke-width="18.0"/><path d="M406.7 599.6 L418.0 633.7 L435.1 670.7 L457.9 699.1 L480.6 716.2" stroke="#ffe800" stroke-width="27.0"/><path d="M494.9 702.0 L517.6 727.6" stroke="#ffe800" stroke-width="40.0"/><path d="M511.9 727.6 L517.6 761.7" stroke="#ffe800" stroke-width="30.0"/><path d="M480.6 773.1 L503.4 793.0 L531.8 784.5" stroke="#ffe800" stroke-width="4.0"/><path d="M503.4 750.4 L526.2 773.1 L531.8 807.3" stroke="#ffe800" stroke-width="17.0"/><path d="M332.7 552.1 L361.1 580.5 L401.0 586.2" stroke="#ffe800" stroke-width="10.0"/><path d="M435.1 449.7 L469.3 426.9 L514.8 409.8 L560.3 392.8 L583.1 370.0" stroke="#ffe800" stroke-width="16.0"/><path d="M446.5 438.3 L480.6 422.4" stroke="#ffe800" stroke-width="3.0"/><path d="M585.9 364.3 L597.3 381.4" stroke="#ffe800" stroke-width="3.0"/><path d="M463.6 74.1 L503.4 79.8 L526.2 96.9" stroke="#ff7800" stroke-width="10.0"/><path d="M213.2 233.5 L224.6 256.2 L247.3 273.3 L275.8 284.7 L304.2 290.4" stroke="#ff7800" stroke-width="18.0"/><path d="M304.2 290.4 L327.0 307.4 L332.7 335.9" stroke="#ff7800" stroke-width="11.0"/><path d="M321.3 347.3 L349.8 358.6 L378.2 347.3 L406.7 324.5 L429.4 307.4" stroke="#ff7800" stroke-width="11.0"/><path d="M449.3 185.1 L460.7 207.9" stroke="#ff7800" stroke-width="14.0"/><path d="M435.1 307.4 L480.6 330.2 L526.2 341.6 L571.7 352.9" stroke="#ff7800" stroke-width="10.0"/><path d="M480.6 256.2 L509.1 249.4 L526.2 267.6" stroke="#ff7800" stroke-width="11.0"/><path d="M537.5 205.0 L571.7 182.2 L617.2 168.0 L662.7 168.0 L696.9 182.2" stroke="#ff7800" stroke-width="4.0"/><path d="M728.1 207.9 L753.7 200.5 L759.4 233.5 L736.7 255.1" stroke="#ff7800" stroke-width="26.0"/><path d="M696.9 246.0 L716.8 264.8" stroke="#ff7800" stroke-width="9.0"/><path d="M759.4 347.3 L787.9 330.2 L827.7 341.6" stroke="#ff7800" stroke-width="4.0"/><path d="M790.7 358.6 L816.3 378.5 L833.4 404.2" stroke="#ff7800" stroke-width="30.0"/><path d="M779.4 534.1 L794.7 568.3 L810.6 602.4 L822.0 636.6" stroke="#ff7800" stroke-width="32.0"/><path d="M662.7 716.2 L691.2 723.0" stroke="#ff7800" stroke-width="4.0"/><path d="M383.9 579.7 L412.4 593.9 L457.9 601.3 L503.4 608.1 L537.5 630.9 L554.6 665.0 L548.9 699.1" stroke="#ff7800" stroke-width="12.0"/><path d="M406.7 599.6 L418.0 633.7 L435.1 670.7 L457.9 699.1 L480.6 716.2" stroke="#ff7800" stroke-width="21.0"/><path d="M494.9 702.0 L517.6 727.6" stroke="#ff7800" stroke-width="34.0"/><path d="M511.9 727.6 L517.6 761.7" stroke="#ff7800" stroke-width="24.0"/><path d="M503.4 750.4 L526.2 773.1 L531.8 807.3" stroke="#ff7800" stroke-width="11.0"/><path d="M332.7 552.1 L361.1 580.5 L401.0 586.2" stroke="#ff7800" stroke-width="4.0"/><path d="M435.1 449.7 L469.3 426.9 L514.8 409.8 L560.3 392.8 L583.1 370.0" stroke="#ff7800" stroke-width="10.0"/><path d="M463.6 74.1 L503.4 79.8 L526.2 96.9" stroke="#e80000" stroke-width="4.0"/><path d="M213.2 233.5 L224.6 256.2 L247.3 273.3 L275.8 284.7 L304.2 290.4" stroke="#e80000" stroke-width="12.0"/><path d="M304.2 290.4 L327.0 307.4 L332.7 335.9" stroke="#e80000" stroke-width="5.0"/><path d="M321.3 347.3 L349.8 358.6 L378.2 347.3 L406.7 324.5 L429.4 307.4" stroke="#e80000" stroke-width="5.0"/><path d="M449.3 185.1 L460.7 207.9" stroke="#e80000" stroke-width="8.0"/><path d="M435.1 307.4 L480.6 330.2 L526.2 341.6 L571.7 352.9" stroke="#e80000" stroke-width="4.0"/><path d="M480.6 256.2 L509.1 249.4 L526.2 267.6" stroke="#e80000" stroke-width="5.0"/><path d="M728.1 207.9 L753.7 200.5 L759.4 233.5 L736.7 255.1" stroke="#e80000" stroke-width="20.0"/><path d="M696.9 246.0 L716.8 264.8" stroke="#e80000" stroke-width="3.0"/><path d="M790.7 358.6 L816.3 378.5 L833.4 404.2" stroke="#e80000" stroke-width="24.0"/><path d="M779.4 534.1 L794.7 568.3 L810.6 602.4 L822.0 636.6" stroke="#e80000" stroke-width="26.0"/><path d="M383.9 579.7 L412.4 593.9 L457.9 601.3 L503.4 608.1 L537.5 630.9 L554.6 665.0 L548.9 699.1" stroke="#e80000" stroke-width="6.0"/><path d="M406.7 599.6 L418.0 633.7 L435.1 670.7 L457.9 699.1 L480.6 716.2" stroke="#e80000" stroke-width="15.0"/><path d="M494.9 702.0 L517.6 727.6" stroke="#e80000" stroke-width="28.0"/><path d="M511.9 727.6 L517.6 761.7" stroke="#e80000" stroke-width="18.0"/><path d="M503.4 750.4 L526.2 773.1 L531.8 807.3" stroke="#e80000" stroke-width="5.0"/><path d="M435.1 449.7 L469.3 426.9 L514.8 409.8 L560.3 392.8 L583.1 370.0" stroke="#e80000" stroke-width="4.0"/><path d="M213.2 233.5 L224.6 256.2 L247.3 273.3 L275.8 284.7 L304.2 290.4" stroke="#8c0000" stroke-width="6.0"/><path d="M728.1 207.9 L753.7 200.5 L759.4 233.5 L736.7 255.1" stroke="#8c0000" stroke-width="14.0"/><path d="M790.7 358.6 L816.3 378.5 L833.4 404.2" stroke="#8c0000" stroke-width="18.0"/><path d="M779.4 534.1 L794.7 568.3 L810.6 602.4 L822.0 636.6" stroke="#8c0000" stroke-width="20.0"/><path d="M406.7 599.6 L418.0 633.7 L435.1 670.7 L457.9 699.1 L480.6 716.2" stroke="#8c0000" stroke-width="9.0"/><path d="M494.9 702.0 L517.6 727.6" stroke="#8c0000" stroke-width="22.0"/><path d="M511.9 727.6 L517.6 761.7" stroke="#8c0000" stroke-width="12.0"/><path d="M722.5 324.5 L753.7 381.4 L773.7 438.3" stroke="#0000a0" stroke-width="4.0"/><path d="M702.5 579.7 L736.7 574.0 L753.7 602.4 L742.4 630.9 L708.2 625.2Z" fill="#0000a0" stroke="#0000a0" stroke-width="0.0"/><path d="M483.5 642.2 L514.8 659.3" stroke="#0060ff" stroke-width="46.0"/><path d="M483.5 642.2 L514.8 659.3" stroke="#00d0ff" stroke-width="40.0"/><path d="M483.5 642.2 L514.8 659.3" stroke="#50ffa0" stroke-width="34.0"/><path d="M483.5 642.2 L514.8 659.3" stroke="#ffe800" stroke-width="28.0"/><path d="M483.5 642.2 L514.8 659.3" stroke="#ff7800" stroke-width="22.0"/><path d="M483.5 642.2 L514.8 659.3" stroke="#e80000" stroke-width="16.0"/><path d="M483.5 642.2 L514.8 659.3" stroke="#8c0000" stroke-width="10.0"/></g>
<use href="#stk0"/>
</g>
<use href="#isl"/>
<use href="#frame"/>
<text x="816.5" y="914" font-size="73" fill="#111">(g)</text>
</g>
<g transform="translate(807.4,2782.5)">
<use href="#base"/><use href="#grid"/>
<g clip-path="url(#seaclip)"><rect x="173.0" y="47.3" width="778.8" height="904.2" fill="#000098"/>
<g filter="url(#b3)" stroke-linecap="round" stroke-linejoin="round" fill="none"><path d="M213.2 222.1 L304.2 205.0 L315.6 279.0 L264.4 290.4 L213.2 267.6Z" fill="#0000fa" stroke="#0000fa" stroke-width="0.0"/><path d="M412.4 142.4 L457.9 79.8 L526.2 85.5 L531.8 142.4 L480.6 182.2Z" fill="#0000fa" stroke="#0000fa" stroke-width="0.0"/><path d="M309.9 296.0 L412.4 301.7 L480.6 279.0 L526.2 307.4 L480.6 335.9 L401.0 347.3 L332.7 375.7 L309.9 347.3Z" fill="#0000fa" stroke="#0000fa" stroke-width="0.0"/><path d="M332.7 552.1 L355.5 495.2 L401.0 461.1 L446.5 432.6 L503.4 404.2 L560.3 392.8" stroke="#0000fa" stroke-width="16.0"/><path d="M537.5 222.1 L571.7 193.6 L617.2 170.9 L674.1 165.2 L731.0 182.2" stroke="#0000fa" stroke-width="14.0"/><path d="M753.7 210.7 L731.0 279.0 L753.7 335.9 L799.3 358.6" stroke="#0000fa" stroke-width="14.0"/><path d="M839.1 415.5 L844.8 483.8 L816.3 552.1 L805.0 609.0 L816.3 665.9" stroke="#0000fa" stroke-width="14.0"/><path d="M548.9 609.0 L594.4 665.9 L628.6 722.8 L674.1 734.2" stroke="#0000fa" stroke-width="24.0"/><path d="M378.9 580.9 L464.2 580.9 L578.0 637.8 L663.4 734.6 L578.0 797.2 L521.1 819.9 L481.3 780.1 L435.8 711.8 L407.3 637.8Z" fill="#0000fa" stroke="#0000fa" stroke-width="0.0"/><path d="M304.2 187.9 L349.8 153.8 L418.0 142.4 L469.3 153.8 L480.6 210.7 L457.9 267.6 L412.4 301.7 L349.8 307.4 L315.6 267.6Z" fill="#0060ff" stroke="#0060ff" stroke-width="0.0"/><path d="M379.8 173.2 L357.0 193.1 L345.6 221.6 L351.3 250.0 L368.4 267.1" stroke="#0060ff" stroke-width="35.0"/><path d="M391.1 187.4 L368.4 210.2 L362.7 235.8 L374.1 255.7" stroke="#0060ff" stroke-width="31.0"/><path d="M396.8 198.8 L379.8 221.6 L385.5 250.0 L408.2 255.7" stroke="#0060ff" stroke-width="18.0"/><path d="M413.9 181.7 L436.7 178.9 L456.6 193.1 L448.0 221.6" stroke="#0060ff" stroke-width="38.0"/><path d="M419.6 224.4 L436.7 238.6" stroke="#0060ff" stroke-width="29.0"/><path d="M442.4 255.7 L459.4 267.1 L476.5 261.4" stroke="#0060ff" stroke-width="38.0"/><path d="M413.9 281.3 L428.1 289.9 L442.4 284.2" stroke="#0060ff" stroke-width="36.0"/><path d="M419.6 295.5 L436.7 312.6" stroke="#0060ff" stroke-width="29.0"/><path d="M334.2 346.8 L345.6 363.8 L362.7 352.4" stroke="#0060ff" stroke-width="30.0"/><path d="M339.9 329.7 L362.7 324.0 L385.5 312.6" stroke="#0060ff" stroke-width="19.0"/><path d="M311.5 352.4 L325.7 369.5 L351.3 375.2" stroke="#0060ff" stroke-width="14.0"/><path d="M328.6 292.7 L342.8 304.1" stroke="#0060ff" stroke-width="31.0"/><path d="M214.8 221.6 L223.3 250.0 L237.5 272.8 L257.4 287.0" stroke="#0060ff" stroke-width="39.0"/><path d="M226.1 221.6 L234.7 238.6" stroke="#0060ff" stroke-width="28.0"/><path d="M243.2 221.6 L266.0 227.3 L285.9 238.6" stroke="#0060ff" stroke-width="12.0"/><path d="M502.1 82.2 L524.9 93.6" stroke="#0060ff" stroke-width="35.0"/><path d="M433.8 110.6 L462.3 124.8 L476.5 147.6" stroke="#0060ff" stroke-width="14.0"/><path d="M462.3 73.6 L482.2 90.7" stroke="#0060ff" stroke-width="12.0"/><path d="M519.2 104.9 L533.4 90.7" stroke="#0060ff" stroke-width="12.0"/><path d="M487.9 238.6 L504.9 255.7 L522.0 261.4" stroke="#0060ff" stroke-width="35.0"/><path d="M476.5 272.8 L499.3 295.5 L527.7 312.6 L547.6 335.4" stroke="#0060ff" stroke-width="12.0"/><path d="M476.5 324.0 L487.9 332.5" stroke="#0060ff" stroke-width="21.0"/><path d="M519.2 221.6 L547.6 210.2" stroke="#0060ff" stroke-width="11.0"/><path d="M465.1 215.9 L476.5 198.8" stroke="#0060ff" stroke-width="11.0"/><path d="M502.3 242.7 L503.0 251.8" stroke="#0060ff" stroke-width="6.9"/><path d="M535.8 271.7 L537.7 273.5" stroke="#0060ff" stroke-width="9.0"/><path d="M523.4 265.9 L519.8 267.6" stroke="#0060ff" stroke-width="5.2"/><path d="M551.4 212.0 L551.1 212.3" stroke="#0060ff" stroke-width="8.1"/><path d="M505.2 246.7 L498.2 248.4" stroke="#0060ff" stroke-width="6.0"/><path d="M520.3 249.2 L516.7 251.3" stroke="#0060ff" stroke-width="6.9"/><path d="M558.6 278.3 L554.5 283.9" stroke="#0060ff" stroke-width="5.6"/><path d="M546.0 225.7 L541.0 225.7" stroke="#0060ff" stroke-width="5.5"/><path d="M483.5 215.0 L485.5 217.2" stroke="#0060ff" stroke-width="7.4"/><path d="M725.3 193.6 L753.7 205.0 L753.7 239.1 L731.0 267.6 L713.9 301.7" stroke="#0060ff" stroke-width="30.0"/><path d="M734.4 236.4 L734.8 239.3" stroke="#0060ff" stroke-width="5.2"/><path d="M720.6 308.7 L716.6 309.4" stroke="#0060ff" stroke-width="7.1"/><path d="M787.9 347.3 L816.3 370.0 L833.4 392.8" stroke="#0060ff" stroke-width="38.0"/><path d="M788.9 410.5 L790.5 413.6" stroke="#0060ff" stroke-width="6.6"/><path d="M834.9 364.0 L836.5 364.3" stroke="#0060ff" stroke-width="8.9"/><path d="M833.4 426.9 L844.8 472.4 L833.4 518.0 L810.6 552.1 L799.3 597.6 L810.6 631.7" stroke="#0060ff" stroke-width="11.0"/><path d="M840.9 602.0 L848.5 602.9" stroke="#0060ff" stroke-width="4.7"/><path d="M825.6 630.6 L828.8 630.8" stroke="#0060ff" stroke-width="6.4"/><path d="M841.4 598.6 L836.4 603.4" stroke="#0060ff" stroke-width="7.5"/><path d="M828.1 499.3 L831.3 503.4" stroke="#0060ff" stroke-width="7.4"/><path d="M818.4 475.2 L818.5 476.1" stroke="#0060ff" stroke-width="8.0"/><path d="M788.8 558.4 L784.9 560.7" stroke="#0060ff" stroke-width="8.0"/><path d="M820.4 532.1 L828.2 537.4" stroke="#0060ff" stroke-width="7.4"/><path d="M841.5 475.6 L841.3 478.9" stroke="#0060ff" stroke-width="8.9"/><path d="M850.8 522.3 L851.0 525.0" stroke="#0060ff" stroke-width="6.4"/><path d="M792.7 513.5 L793.4 519.8" stroke="#0060ff" stroke-width="5.8"/><path d="M794.3 620.1 L798.9 625.3" stroke="#0060ff" stroke-width="7.2"/><path d="M827.3 551.8 L823.8 552.5" stroke="#0060ff" stroke-width="8.3"/><path d="M786.8 476.7 L788.3 482.6" stroke="#0060ff" stroke-width="7.9"/><path d="M842.4 536.2 L843.3 538.3" stroke="#0060ff" stroke-width="8.8"/><path d="M832.6 486.8 L832.0 488.1" stroke="#0060ff" stroke-width="4.5"/><path d="M790.0 566.9 L797.1 568.4" stroke="#0060ff" stroke-width="4.2"/><path d="M339.1 569.6 L373.2 589.5 L407.3 603.7" stroke="#0060ff" stroke-width="30.0"/><path d="M480.6 609.0 L526.2 620.4 L560.3 654.5 L594.4 688.6" stroke="#0060ff" stroke-width="13.0"/><path d="M560.3 722.8 L594.4 756.9 L628.6 745.5" stroke="#0060ff" stroke-width="13.0"/><path d="M537.5 620.4 L548.9 643.1" stroke="#0060ff" stroke-width="16.0"/><path d="M519.3 789.2 L521.2 789.5" stroke="#0060ff" stroke-width="4.7"/><path d="M619.1 698.5 L619.9 704.8" stroke="#0060ff" stroke-width="6.3"/><path d="M565.1 635.9 L565.8 636.5" stroke="#0060ff" stroke-width="4.1"/><path d="M526.2 678.8 L522.6 685.1" stroke="#0060ff" stroke-width="4.5"/><path d="M564.0 636.2 L557.3 638.9" stroke="#0060ff" stroke-width="5.4"/><path d="M541.5 772.5 L541.0 774.0" stroke="#0060ff" stroke-width="6.7"/><path d="M534.2 668.7 L538.3 671.6" stroke="#0060ff" stroke-width="4.8"/><path d="M524.1 657.0 L524.7 658.7" stroke="#0060ff" stroke-width="4.8"/><path d="M623.4 710.9 L623.1 712.3" stroke="#0060ff" stroke-width="6.0"/><path d="M506.0 718.0 L506.1 718.1" stroke="#0060ff" stroke-width="5.9"/><path d="M586.0 773.4 L584.2 773.6" stroke="#0060ff" stroke-width="6.2"/><path d="M565.5 691.8 L569.1 693.1" stroke="#0060ff" stroke-width="7.6"/><path d="M542.2 642.5 L542.7 642.7" stroke="#0060ff" stroke-width="5.1"/><path d="M635.4 728.1 L630.1 728.4" stroke="#0060ff" stroke-width="7.7"/><path d="M583.1 760.8 L585.7 765.0" stroke="#0060ff" stroke-width="5.9"/><path d="M518.8 656.6 L522.7 665.6" stroke="#0060ff" stroke-width="8.7"/><path d="M542.3 789.9 L540.2 791.3" stroke="#0060ff" stroke-width="7.0"/><path d="M546.9 728.0 L539.6 733.7" stroke="#0060ff" stroke-width="4.7"/><path d="M528.8 710.4 L523.3 712.8" stroke="#0060ff" stroke-width="7.3"/><path d="M637.1 719.0 L638.2 720.1" stroke="#0060ff" stroke-width="5.9"/><path d="M503.3 662.7 L504.9 663.4" stroke="#0060ff" stroke-width="6.2"/><path d="M332.7 540.7 L366.8 574.9 L401.0 609.0" stroke="#0060ff" stroke-width="14.0"/><path d="M377.1 566.4 L375.2 571.6" stroke="#0060ff" stroke-width="4.2"/><path d="M412.4 605.0 L413.9 606.3" stroke="#0060ff" stroke-width="8.0"/><path d="M387.6 502.8 L386.1 503.6" stroke="#0060ff" stroke-width="5.3"/><path d="M396.5 557.8 L397.0 558.3" stroke="#0060ff" stroke-width="4.7"/><path d="M344.1 518.0 L389.6 495.2 L429.4 461.1 L469.3 432.6" stroke="#0060ff" stroke-width="8.0"/><path d="M339.9 159.0 L385.5 141.9 L459.4 153.3 L465.1 198.8 L448.0 255.7 L413.9 295.5 L362.7 306.9 L328.6 278.5 L322.9 221.6Z" fill="#00d0ff" stroke="#00d0ff" stroke-width="0.0"/><path d="M379.8 173.2 L357.0 193.1 L345.6 221.6 L351.3 250.0 L368.4 267.1" stroke="#00d0ff" stroke-width="29.0"/><path d="M391.1 187.4 L368.4 210.2 L362.7 235.8 L374.1 255.7" stroke="#00d0ff" stroke-width="25.0"/><path d="M396.8 198.8 L379.8 221.6 L385.5 250.0 L408.2 255.7" stroke="#00d0ff" stroke-width="12.0"/><path d="M413.9 181.7 L436.7 178.9 L456.6 193.1 L448.0 221.6" stroke="#00d0ff" stroke-width="32.0"/><path d="M419.6 224.4 L436.7 238.6" stroke="#00d0ff" stroke-width="23.0"/><path d="M442.4 255.7 L459.4 267.1 L476.5 261.4" stroke="#00d0ff" stroke-width="32.0"/><path d="M413.9 281.3 L428.1 289.9 L442.4 284.2" stroke="#00d0ff" stroke-width="30.0"/><path d="M419.6 295.5 L436.7 312.6" stroke="#00d0ff" stroke-width="23.0"/><path d="M334.2 346.8 L345.6 363.8 L362.7 352.4" stroke="#00d0ff" stroke-width="24.0"/><path d="M339.9 329.7 L362.7 324.0 L385.5 312.6" stroke="#00d0ff" stroke-width="13.0"/><path d="M311.5 352.4 L325.7 369.5 L351.3 375.2" stroke="#00d0ff" stroke-width="8.0"/><path d="M328.6 292.7 L342.8 304.1" stroke="#00d0ff" stroke-width="25.0"/><path d="M214.8 221.6 L223.3 250.0 L237.5 272.8 L257.4 287.0" stroke="#00d0ff" stroke-width="33.0"/><path d="M226.1 221.6 L234.7 238.6" stroke="#00d0ff" stroke-width="22.0"/><path d="M243.2 221.6 L266.0 227.3 L285.9 238.6" stroke="#00d0ff" stroke-width="6.0"/><path d="M502.1 82.2 L524.9 93.6" stroke="#00d0ff" stroke-width="29.0"/><path d="M433.8 110.6 L462.3 124.8 L476.5 147.6" stroke="#00d0ff" stroke-width="8.0"/><path d="M462.3 73.6 L482.2 90.7" stroke="#00d0ff" stroke-width="6.0"/><path d="M519.2 104.9 L533.4 90.7" stroke="#00d0ff" stroke-width="6.0"/><path d="M487.9 238.6 L504.9 255.7 L522.0 261.4" stroke="#00d0ff" stroke-width="29.0"/><path d="M476.5 272.8 L499.3 295.5 L527.7 312.6 L547.6 335.4" stroke="#00d0ff" stroke-width="6.0"/><path d="M476.5 324.0 L487.9 332.5" stroke="#00d0ff" stroke-width="15.0"/><path d="M519.2 221.6 L547.6 210.2" stroke="#00d0ff" stroke-width="5.0"/><path d="M465.1 215.9 L476.5 198.8" stroke="#00d0ff" stroke-width="5.0"/><path d="M553.5 234.7 L561.9 237.4" stroke="#00d0ff" stroke-width="4.7"/><path d="M529.3 231.8 L524.4 239.4" stroke="#00d0ff" stroke-width="8.6"/><path d="M530.0 244.9 L535.6 249.3" stroke="#00d0ff" stroke-width="8.2"/><path d="M532.8 222.0 L530.8 226.4" stroke="#00d0ff" stroke-width="6.4"/><path d="M519.5 232.4 L519.4 232.8" stroke="#00d0ff" stroke-width="4.2"/><path d="M725.3 193.6 L753.7 205.0 L753.7 239.1 L731.0 267.6 L713.9 301.7" stroke="#00d0ff" stroke-width="24.0"/><path d="M736.9 220.1 L736.7 222.3" stroke="#00d0ff" stroke-width="5.4"/><path d="M713.3 196.1 L722.7 196.9" stroke="#00d0ff" stroke-width="7.2"/><path d="M718.8 217.8 L717.6 220.7" stroke="#00d0ff" stroke-width="7.7"/><path d="M756.0 297.4 L760.2 304.8" stroke="#00d0ff" stroke-width="5.9"/><path d="M718.8 286.6 L718.6 287.0" stroke="#00d0ff" stroke-width="5.4"/><path d="M750.4 262.8 L749.2 263.0" stroke="#00d0ff" stroke-width="5.5"/><path d="M753.7 220.6 L759.2 227.7" stroke="#00d0ff" stroke-width="5.3"/><path d="M787.9 347.3 L816.3 370.0 L833.4 392.8" stroke="#00d0ff" stroke-width="32.0"/><path d="M825.4 403.4 L819.0 408.8" stroke="#00d0ff" stroke-width="5.2"/><path d="M802.8 405.2 L802.3 406.5" stroke="#00d0ff" stroke-width="4.6"/><path d="M837.7 412.8 L839.0 418.1" stroke="#00d0ff" stroke-width="5.9"/><path d="M828.1 349.1 L832.1 356.1" stroke="#00d0ff" stroke-width="5.0"/><path d="M833.4 426.9 L844.8 472.4 L833.4 518.0 L810.6 552.1 L799.3 597.6 L810.6 631.7" stroke="#00d0ff" stroke-width="5.0"/><path d="M796.9 612.0 L796.5 614.0" stroke="#00d0ff" stroke-width="8.0"/><path d="M801.8 598.3 L806.0 605.6" stroke="#00d0ff" stroke-width="4.5"/><path d="M841.1 457.7 L845.9 461.2" stroke="#00d0ff" stroke-width="7.3"/><path d="M841.8 632.7 L846.3 637.1" stroke="#00d0ff" stroke-width="6.1"/><path d="M793.9 603.1 L787.7 603.8" stroke="#00d0ff" stroke-width="4.9"/><path d="M339.1 569.6 L373.2 589.5 L407.3 603.7" stroke="#00d0ff" stroke-width="24.0"/><path d="M480.6 609.0 L526.2 620.4 L560.3 654.5 L594.4 688.6" stroke="#00d0ff" stroke-width="7.0"/><path d="M560.3 722.8 L594.4 756.9 L628.6 745.5" stroke="#00d0ff" stroke-width="7.0"/><path d="M537.5 620.4 L548.9 643.1" stroke="#00d0ff" stroke-width="10.0"/><path d="M490.5 644.3 L488.3 648.7" stroke="#00d0ff" stroke-width="8.5"/><path d="M570.9 699.1 L563.6 702.6" stroke="#00d0ff" stroke-width="8.6"/><path d="M573.7 666.2 L575.9 668.0" stroke="#00d0ff" stroke-width="4.2"/><path d="M494.3 611.5 L494.1 611.8" stroke="#00d0ff" stroke-width="7.8"/><path d="M591.2 740.9 L591.9 748.0" stroke="#00d0ff" stroke-width="6.0"/><path d="M584.8 734.0 L584.9 735.0" stroke="#00d0ff" stroke-width="7.3"/><path d="M592.2 670.5 L586.9 676.7" stroke="#00d0ff" stroke-width="7.0"/><path d="M554.2 753.4 L559.4 754.7" stroke="#00d0ff" stroke-width="8.6"/><path d="M538.2 637.2 L537.7 637.6" stroke="#00d0ff" stroke-width="4.9"/><path d="M332.7 540.7 L366.8 574.9 L401.0 609.0" stroke="#00d0ff" stroke-width="8.0"/><path d="M377.1 534.8 L376.1 536.4" stroke="#00d0ff" stroke-width="5.7"/><path d="M375.9 582.8 L377.5 583.1" stroke="#00d0ff" stroke-width="4.7"/><path d="M423.2 589.3 L425.1 592.8" stroke="#00d0ff" stroke-width="4.2"/><path d="M381.1 562.1 L382.5 566.0" stroke="#00d0ff" stroke-width="7.2"/><path d="M387.0 566.6 L382.0 572.1" stroke="#00d0ff" stroke-width="6.9"/><path d="M366.5 512.5 L364.2 522.1" stroke="#00d0ff" stroke-width="4.1"/><path d="M380.8 580.7 L386.3 581.9" stroke="#00d0ff" stroke-width="7.2"/><path d="M412.4 601.1 L412.6 602.9" stroke="#00d0ff" stroke-width="6.8"/><path d="M379.8 173.2 L357.0 193.1 L345.6 221.6 L351.3 250.0 L368.4 267.1" stroke="#50ffa0" stroke-width="23.0"/><path d="M391.1 187.4 L368.4 210.2 L362.7 235.8 L374.1 255.7" stroke="#50ffa0" stroke-width="19.0"/><path d="M396.8 198.8 L379.8 221.6 L385.5 250.0 L408.2 255.7" stroke="#50ffa0" stroke-width="6.0"/><path d="M413.9 181.7 L436.7 178.9 L456.6 193.1 L448.0 221.6" stroke="#50ffa0" stroke-width="26.0"/><path d="M419.6 224.4 L436.7 238.6" stroke="#50ffa0" stroke-width="17.0"/><path d="M442.4 255.7 L459.4 267.1 L476.5 261.4" stroke="#50ffa0" stroke-width="26.0"/><path d="M413.9 281.3 L428.1 289.9 L442.4 284.2" stroke="#50ffa0" stroke-width="24.0"/><path d="M419.6 295.5 L436.7 312.6" stroke="#50ffa0" stroke-width="17.0"/><path d="M334.2 346.8 L345.6 363.8 L362.7 352.4" stroke="#50ffa0" stroke-width="18.0"/><path d="M339.9 329.7 L362.7 324.0 L385.5 312.6" stroke="#50ffa0" stroke-width="7.0"/><path d="M328.6 292.7 L342.8 304.1" stroke="#50ffa0" stroke-width="19.0"/><path d="M214.8 221.6 L223.3 250.0 L237.5 272.8 L257.4 287.0" stroke="#50ffa0" stroke-width="27.0"/><path d="M226.1 221.6 L234.7 238.6" stroke="#50ffa0" stroke-width="16.0"/><path d="M502.1 82.2 L524.9 93.6" stroke="#50ffa0" stroke-width="23.0"/><path d="M487.9 238.6 L504.9 255.7 L522.0 261.4" stroke="#50ffa0" stroke-width="23.0"/><path d="M476.5 324.0 L487.9 332.5" stroke="#50ffa0" stroke-width="9.0"/><path d="M725.3 193.6 L753.7 205.0 L753.7 239.1 L731.0 267.6 L713.9 301.7" stroke="#50ffa0" stroke-width="18.0"/><path d="M787.9 347.3 L816.3 370.0 L833.4 392.8" stroke="#50ffa0" stroke-width="26.0"/><path d="M339.1 569.6 L373.2 589.5 L407.3 603.7" stroke="#50ffa0" stroke-width="18.0"/><path d="M537.5 620.4 L548.9 643.1" stroke="#50ffa0" stroke-width="4.0"/><path d="M515.1 750.3 L514.1 750.9" stroke="#50ffa0" stroke-width="5.9"/><path d="M578.6 745.7 L579.9 748.7" stroke="#50ffa0" stroke-width="7.2"/><path d="M569.4 636.7 L563.5 638.4" stroke="#50ffa0" stroke-width="7.7"/><path d="M625.8 700.4 L630.5 706.7" stroke="#50ffa0" stroke-width="8.2"/><path d="M514.0 671.3 L514.7 673.2" stroke="#50ffa0" stroke-width="5.9"/><path d="M598.5 668.5 L604.0 672.3" stroke="#50ffa0" stroke-width="8.1"/><path d="M508.5 696.8 L500.9 703.1" stroke="#50ffa0" stroke-width="7.1"/><path d="M527.4 762.0 L524.8 762.9" stroke="#50ffa0" stroke-width="6.1"/><path d="M535.1 656.7 L544.6 658.7" stroke="#50ffa0" stroke-width="8.5"/><path d="M509.8 725.0 L503.8 731.5" stroke="#50ffa0" stroke-width="6.4"/><path d="M379.8 173.2 L357.0 193.1 L345.6 221.6 L351.3 250.0 L368.4 267.1" stroke="#ffe800" stroke-width="17.0"/><path d="M391.1 187.4 L368.4 210.2 L362.7 235.8 L374.1 255.7" stroke="#ffe800" stroke-width="13.0"/><path d="M413.9 181.7 L436.7 178.9 L456.6 193.1 L448.0 221.6" stroke="#ffe800" stroke-width="20.0"/><path d="M419.6 224.4 L436.7 238.6" stroke="#ffe800" stroke-width="11.0"/><path d="M442.4 255.7 L459.4 267.1 L476.5 261.4" stroke="#ffe800" stroke-width="20.0"/><path d="M413.9 281.3 L428.1 289.9 L442.4 284.2" stroke="#ffe800" stroke-width="18.0"/><path d="M419.6 295.5 L436.7 312.6" stroke="#ffe800" stroke-width="11.0"/><path d="M334.2 346.8 L345.6 363.8 L362.7 352.4" stroke="#ffe800" stroke-width="12.0"/><path d="M328.6 292.7 L342.8 304.1" stroke="#ffe800" stroke-width="13.0"/><path d="M214.8 221.6 L223.3 250.0 L237.5 272.8 L257.4 287.0" stroke="#ffe800" stroke-width="21.0"/><path d="M226.1 221.6 L234.7 238.6" stroke="#ffe800" stroke-width="10.0"/><path d="M502.1 82.2 L524.9 93.6" stroke="#ffe800" stroke-width="17.0"/><path d="M487.9 238.6 L504.9 255.7 L522.0 261.4" stroke="#ffe800" stroke-width="17.0"/><path d="M476.5 324.0 L487.9 332.5" stroke="#ffe800" stroke-width="3.0"/><path d="M725.3 193.6 L753.7 205.0 L753.7 239.1 L731.0 267.6 L713.9 301.7" stroke="#ffe800" stroke-width="12.0"/><path d="M787.9 347.3 L816.3 370.0 L833.4 392.8" stroke="#ffe800" stroke-width="20.0"/><path d="M770.1 350.2 L773.5 353.4" stroke="#ffe800" stroke-width="6.7"/><path d="M855.6 359.9 L854.7 362.7" stroke="#ffe800" stroke-width="4.0"/><path d="M830.7 366.6 L832.7 369.6" stroke="#ffe800" stroke-width="7.5"/><path d="M840.2 345.7 L848.7 346.7" stroke="#ffe800" stroke-width="8.7"/><path d="M773.9 366.9 L778.4 374.9" stroke="#ffe800" stroke-width="8.6"/><path d="M817.9 364.3 L815.4 366.1" stroke="#ffe800" stroke-width="7.1"/><path d="M805.2 351.2 L803.8 351.9" stroke="#ffe800" stroke-width="5.5"/><path d="M835.7 379.5 L831.2 380.9" stroke="#ffe800" stroke-width="4.6"/><path d="M339.1 569.6 L373.2 589.5 L407.3 603.7" stroke="#ffe800" stroke-width="12.0"/><path d="M379.8 173.2 L357.0 193.1 L345.6 221.6 L351.3 250.0 L368.4 267.1" stroke="#ff7800" stroke-width="11.0"/><path d="M391.1 187.4 L368.4 210.2 L362.7 235.8 L374.1 255.7" stroke="#ff7800" stroke-width="7.0"/><path d="M413.9 181.7 L436.7 178.9 L456.6 193.1 L448.0 221.6" stroke="#ff7800" stroke-width="14.0"/><path d="M419.6 224.4 L436.7 238.6" stroke="#ff7800" stroke-width="5.0"/><path d="M442.4 255.7 L459.4 267.1 L476.5 261.4" stroke="#ff7800" stroke-width="14.0"/><path d="M413.9 281.3 L428.1 289.9 L442.4 284.2" stroke="#ff7800" stroke-width="12.0"/><path d="M419.6 295.5 L436.7 312.6" stroke="#ff7800" stroke-width="5.0"/><path d="M334.2 346.8 L345.6 363.8 L362.7 352.4" stroke="#ff7800" stroke-width="6.0"/><path d="M328.6 292.7 L342.8 304.1" stroke="#ff7800" stroke-width="7.0"/><path d="M214.8 221.6 L223.3 250.0 L237.5 272.8 L257.4 287.0" stroke="#ff7800" stroke-width="15.0"/><path d="M226.1 221.6 L234.7 238.6" stroke="#ff7800" stroke-width="4.0"/><path d="M502.1 82.2 L524.9 93.6" stroke="#ff7800" stroke-width="11.0"/><path d="M487.9 238.6 L504.9 255.7 L522.0 261.4" stroke="#ff7800" stroke-width="11.0"/><path d="M725.3 193.6 L753.7 205.0 L753.7 239.1 L731.0 267.6 L713.9 301.7" stroke="#ff7800" stroke-width="6.0"/><path d="M787.9 347.3 L816.3 370.0 L833.4 392.8" stroke="#ff7800" stroke-width="14.0"/><path d="M808.9 624.0 L806.6 628.7" stroke="#ff7800" stroke-width="7.5"/><path d="M808.6 462.1 L808.1 463.1" stroke="#ff7800" stroke-width="5.6"/><path d="M796.7 534.6 L791.5 537.6" stroke="#ff7800" stroke-width="8.4"/><path d="M820.8 475.9 L820.9 476.0" stroke="#ff7800" stroke-width="8.5"/><path d="M815.6 582.2 L815.6 582.4" stroke="#ff7800" stroke-width="5.3"/><path d="M339.1 569.6 L373.2 589.5 L407.3 603.7" stroke="#ff7800" stroke-width="6.0"/><path d="M406.6 599.3 L414.7 602.2" stroke="#ff7800" stroke-width="8.4"/><path d="M357.8 554.5 L357.6 554.6" stroke="#ff7800" stroke-width="8.0"/><path d="M349.6 536.9 L353.8 545.6" stroke="#ff7800" stroke-width="4.7"/><path d="M387.8 502.6 L392.2 508.6" stroke="#ff7800" stroke-width="4.6"/><path d="M405.7 576.5 L402.2 577.9" stroke="#ff7800" stroke-width="5.2"/><path d="M413.9 181.7 L436.7 178.9 L456.6 193.1 L448.0 221.6" stroke="#e80000" stroke-width="8.0"/><path d="M442.4 255.7 L459.4 267.1 L476.5 261.4" stroke="#e80000" stroke-width="8.0"/><path d="M413.9 281.3 L428.1 289.9 L442.4 284.2" stroke="#e80000" stroke-width="6.0"/><path d="M214.8 221.6 L223.3 250.0 L237.5 272.8 L257.4 287.0" stroke="#e80000" stroke-width="9.0"/><path d="M502.1 82.2 L524.9 93.6" stroke="#e80000" stroke-width="5.0"/><path d="M487.9 238.6 L504.9 255.7 L522.0 261.4" stroke="#e80000" stroke-width="5.0"/><path d="M717.3 195.7 L721.9 197.1" stroke="#e80000" stroke-width="4.1"/><path d="M718.1 214.6 L717.2 214.8" stroke="#e80000" stroke-width="8.3"/><path d="M736.8 221.5 L731.5 223.6" stroke="#e80000" stroke-width="8.2"/><path d="M736.0 243.9 L735.2 245.2" stroke="#e80000" stroke-width="4.3"/><path d="M759.7 265.4 L760.9 267.8" stroke="#e80000" stroke-width="7.7"/><path d="M722.6 255.3 L723.6 255.5" stroke="#e80000" stroke-width="5.1"/><path d="M707.7 308.5 L700.4 309.4" stroke="#e80000" stroke-width="4.1"/><path d="M787.9 347.3 L816.3 370.0 L833.4 392.8" stroke="#e80000" stroke-width="8.0"/><path d="M820.6 337.1 L824.1 339.3" stroke="#e80000" stroke-width="8.3"/><path d="M785.4 355.5 L790.8 362.4" stroke="#e80000" stroke-width="8.8"/><path d="M817.3 397.6 L815.5 397.8" stroke="#e80000" stroke-width="5.0"/><path d="M783.0 378.9 L782.4 378.9" stroke="#e80000" stroke-width="4.1"/><path d="M846.5 377.1 L840.3 378.0" stroke="#e80000" stroke-width="4.6"/><path d="M816.7 372.8 L820.2 379.4" stroke="#e80000" stroke-width="5.3"/><path d="M809.0 426.8 L810.4 436.5" stroke="#e80000" stroke-width="6.4"/><path d="M844.6 384.3 L844.7 390.6" stroke="#e80000" stroke-width="5.7"/><path d="M413.0 609.4 L441.5 615.1 L469.9 646.4 L504.1 637.8 L538.2 666.3 L549.6 700.4 L543.9 734.6 L561.0 774.4 L538.2 791.5 L509.8 768.7 L492.7 734.6 L481.3 711.8 L452.9 694.7 L430.1 666.3 L415.9 637.8Z" fill="#e80000" stroke="#e80000" stroke-width="3.0"/><path d="M373.9 513.0 L371.6 514.4" stroke="#e80000" stroke-width="5.5"/><path d="M372.4 503.3 L367.6 506.7" stroke="#e80000" stroke-width="7.3"/><path d="M356.6 565.4 L353.3 566.2" stroke="#e80000" stroke-width="5.4"/><path d="M369.0 507.4 L373.0 511.8" stroke="#e80000" stroke-width="4.3"/><path d="M397.4 563.2 L397.0 568.6" stroke="#e80000" stroke-width="6.7"/><path d="M416.0 583.4 L424.7 584.4" stroke="#e80000" stroke-width="7.0"/><path d="M393.3 576.4 L399.0 577.9" stroke="#e80000" stroke-width="4.2"/><path d="M294.4 233.0 L325.7 227.3 L325.7 284.2 L300.1 284.2Z" fill="#0000fa" stroke="#0000fa" stroke-width="0.0"/><path d="M371.9 576.3 L371.7 577.6" stroke="#0060ff" stroke-width="4.7"/><path d="M384.1 592.3 L376.3 594.3" stroke="#0060ff" stroke-width="4.1"/><path d="M345.2 572.9 L345.1 573.1" stroke="#0060ff" stroke-width="7.4"/><path d="M412.3 591.8 L410.5 591.8" stroke="#0060ff" stroke-width="8.8"/><path d="M401.7 595.6 L401.0 600.4" stroke="#0060ff" stroke-width="6.7"/><path d="M600.3 696.5 L595.6 697.7" stroke="#0060ff" stroke-width="3.4"/><path d="M568.9 727.8 L561.4 733.2" stroke="#0060ff" stroke-width="3.1"/><path d="M600.3 760.8 L598.7 760.9" stroke="#0060ff" stroke-width="3.3"/><path d="M598.6 696.8 L602.1 705.0" stroke="#0060ff" stroke-width="3.1"/><path d="M568.5 702.7 L569.7 705.2" stroke="#0060ff" stroke-width="6.0"/><path d="M532.0 640.1 L531.5 644.6" stroke="#0060ff" stroke-width="5.7"/><path d="M553.0 633.5 L560.0 633.7" stroke="#0060ff" stroke-width="5.4"/><path d="M608.9 755.4 L607.2 755.9" stroke="#0060ff" stroke-width="4.6"/><path d="M513.5 634.4 L513.4 634.5" stroke="#0060ff" stroke-width="4.6"/><path d="M526.1 713.7 L527.7 716.8" stroke="#00d0ff" stroke-width="5.0"/><path d="M455.1 679.6 L455.2 679.9" stroke="#00d0ff" stroke-width="3.7"/><path d="M459.2 635.6 L459.7 643.0" stroke="#00d0ff" stroke-width="5.8"/><path d="M489.4 646.8 L489.2 648.2" stroke="#00d0ff" stroke-width="3.1"/><path d="M476.9 703.3 L478.7 707.1" stroke="#00d0ff" stroke-width="3.4"/><path d="M507.1 683.1 L498.6 687.9" stroke="#00d0ff" stroke-width="3.1"/><path d="M477.6 666.9 L479.3 674.5" stroke="#00d0ff" stroke-width="3.1"/><path d="M494.5 691.9 L496.0 701.7" stroke="#00d0ff" stroke-width="3.6"/><path d="M441.5 625.9 L444.5 630.6" stroke="#00d0ff" stroke-width="4.5"/><path d="M446.7 686.7 L449.0 686.9" stroke="#00d0ff" stroke-width="4.4"/><path d="M511.3 678.3 L513.1 688.0" stroke="#00d0ff" stroke-width="3.4"/><path d="M435.4 652.4 L431.8 655.3" stroke="#00d0ff" stroke-width="5.4"/><path d="M363.7 593.9 L356.8 600.7" stroke="#00d0ff" stroke-width="5.1"/><path d="M359.0 591.8 L363.4 594.8" stroke="#00d0ff" stroke-width="6.9"/><path d="M569.0 738.5 L560.4 740.0" stroke="#00d0ff" stroke-width="3.7"/><path d="M596.1 712.3 L595.3 714.0" stroke="#00d0ff" stroke-width="5.4"/><path d="M577.6 768.3 L577.0 774.2" stroke="#00d0ff" stroke-width="4.0"/><path d="M603.9 708.4 L601.4 711.9" stroke="#00d0ff" stroke-width="5.6"/><path d="M586.8 685.4 L580.0 691.8" stroke="#00d0ff" stroke-width="5.2"/><path d="M598.6 745.3 L607.3 748.3" stroke="#00d0ff" stroke-width="4.1"/><path d="M524.3 641.1 L525.4 643.7" stroke="#00d0ff" stroke-width="5.1"/><path d="M589.9 772.9 L595.2 776.9" stroke="#00d0ff" stroke-width="3.2"/><path d="M525.5 646.1 L524.0 649.6" stroke="#00d0ff" stroke-width="5.2"/><path d="M521.0 623.0 L519.6 626.2" stroke="#00d0ff" stroke-width="3.1"/><path d="M541.9 679.8 L545.2 683.3" stroke="#00d0ff" stroke-width="5.7"/><path d="M533.2 645.2 L526.2 645.4" stroke="#00d0ff" stroke-width="3.7"/><path d="M547.4 690.3 L551.1 698.0" stroke="#00d0ff" stroke-width="5.3"/><path d="M547.5 670.9 L546.0 674.8" stroke="#00d0ff" stroke-width="5.0"/><path d="M624.4 750.7 L628.1 755.8" stroke="#00d0ff" stroke-width="5.9"/><path d="M547.3 644.2 L547.3 644.9" stroke="#00d0ff" stroke-width="4.3"/><path d="M581.7 675.3 L578.3 677.2" stroke="#00d0ff" stroke-width="4.5"/><path d="M614.7 704.1 L621.1 710.1" stroke="#00d0ff" stroke-width="4.0"/><path d="M558.6 672.0 L558.7 680.9" stroke="#00d0ff" stroke-width="5.0"/><path d="M616.5 729.2 L622.5 736.0" stroke="#00d0ff" stroke-width="3.2"/><path d="M621.7 710.7 L629.3 711.0" stroke="#00d0ff" stroke-width="3.5"/><path d="M524.3 610.8 L523.1 611.1" stroke="#00d0ff" stroke-width="5.0"/><path d="M602.5 721.6 L602.5 722.0" stroke="#00d0ff" stroke-width="4.5"/><path d="M537.7 644.1 L537.6 648.1" stroke="#00d0ff" stroke-width="3.1"/><path d="M559.4 654.7 L549.6 656.5" stroke="#00d0ff" stroke-width="3.1"/><path d="M554.6 690.4 L554.5 691.1" stroke="#00d0ff" stroke-width="3.9"/><path d="M395.3 598.3 L396.4 598.4" stroke="#50ffa0" stroke-width="5.9"/><path d="M342.7 563.5 L346.1 564.1" stroke="#50ffa0" stroke-width="9.0"/><path d="M412.2 591.0 L411.7 591.1" stroke="#50ffa0" stroke-width="6.9"/><path d="M355.8 568.9 L349.8 569.7" stroke="#50ffa0" stroke-width="6.9"/><path d="M537.5 626.1 L542.7 629.5" stroke="#50ffa0" stroke-width="3.9"/><path d="M595.1 760.5 L596.3 762.3" stroke="#50ffa0" stroke-width="3.0"/><path d="M637.8 742.7 L631.2 747.0" stroke="#50ffa0" stroke-width="5.0"/><path d="M551.2 640.6 L554.1 646.7" stroke="#50ffa0" stroke-width="4.0"/><path d="M561.8 697.8 L554.5 701.9" stroke="#50ffa0" stroke-width="5.4"/><path d="M553.1 646.8 L557.2 650.8" stroke="#50ffa0" stroke-width="5.4"/><path d="M607.9 702.5 L610.2 705.0" stroke="#50ffa0" stroke-width="4.1"/><path d="M572.6 739.4 L572.8 739.6" stroke="#50ffa0" stroke-width="4.7"/><path d="M620.4 738.9 L614.7 740.5" stroke="#50ffa0" stroke-width="3.0"/><path d="M584.1 781.2 L583.4 781.6" stroke="#50ffa0" stroke-width="4.4"/><path d="M554.6 695.3 L552.1 700.4" stroke="#50ffa0" stroke-width="4.2"/><path d="M540.3 677.3 L536.1 681.4" stroke="#50ffa0" stroke-width="5.7"/><path d="M596.0 710.2 L593.4 713.9" stroke="#50ffa0" stroke-width="3.3"/><path d="M430.4 620.1 L431.3 621.0" stroke="#ffe800" stroke-width="4.6"/><path d="M443.8 677.9 L440.8 687.0" stroke="#ffe800" stroke-width="4.9"/><path d="M540.8 736.2 L535.8 737.6" stroke="#ffe800" stroke-width="4.4"/><path d="M487.8 702.7 L487.4 707.2" stroke="#ffe800" stroke-width="4.9"/><path d="M542.7 780.9 L534.0 784.0" stroke="#ffe800" stroke-width="3.8"/><path d="M534.3 764.1 L533.8 768.1" stroke="#ffe800" stroke-width="5.1"/><path d="M486.2 668.9 L485.9 669.4" stroke="#ffe800" stroke-width="4.7"/><path d="M451.8 642.4 L451.2 648.6" stroke="#ffe800" stroke-width="3.8"/><path d="M511.5 678.7 L508.0 683.7" stroke="#ffe800" stroke-width="3.2"/><path d="M494.0 653.9 L495.8 655.1" stroke="#ffe800" stroke-width="4.3"/><path d="M499.8 681.1 L502.1 683.2" stroke="#ffe800" stroke-width="5.3"/><path d="M451.8 674.9 L446.5 682.0" stroke="#ffe800" stroke-width="3.9"/><path d="M420.2 627.9 L425.8 630.8" stroke="#ffe800" stroke-width="6.9"/><path d="M474.4 660.7 L467.0 661.2" stroke="#ffe800" stroke-width="4.0"/><path d="M508.6 688.0 L500.8 691.3" stroke="#ffe800" stroke-width="3.1"/><path d="M443.7 674.3 L445.5 682.4" stroke="#ffe800" stroke-width="3.2"/><path d="M525.4 751.4 L524.8 754.2" stroke="#ffe800" stroke-width="4.5"/><path d="M509.7 681.8 L512.2 685.0" stroke="#ffe800" stroke-width="4.2"/><path d="M603.4 693.8 L607.1 698.1" stroke="#ffe800" stroke-width="3.8"/><path d="M617.5 750.7 L617.7 755.4" stroke="#ffe800" stroke-width="4.4"/><path d="M596.2 741.7 L595.5 749.4" stroke="#ffe800" stroke-width="3.3"/><path d="M588.6 692.1 L581.6 695.4" stroke="#ffe800" stroke-width="5.0"/><path d="M583.1 744.7 L583.2 745.2" stroke="#ffe800" stroke-width="5.4"/><path d="M597.1 727.7 L597.1 727.8" stroke="#ffe800" stroke-width="5.6"/><path d="M543.1 669.8 L548.2 675.7" stroke="#ffe800" stroke-width="3.5"/><path d="M550.9 649.9 L549.1 651.0" stroke="#ffe800" stroke-width="3.1"/><path d="M570.4 699.3 L564.3 700.1" stroke="#ffe800" stroke-width="4.2"/><path d="M606.3 733.1 L602.2 740.9" stroke="#ffe800" stroke-width="4.0"/><path d="M570.8 758.6 L567.1 763.4" stroke="#ffe800" stroke-width="3.8"/><path d="M591.0 695.8 L583.4 698.6" stroke="#ffe800" stroke-width="4.3"/><path d="M566.2 667.5 L566.5 668.3" stroke="#ffe800" stroke-width="4.9"/><path d="M565.8 671.9 L567.4 673.3" stroke="#ffe800" stroke-width="3.2"/><path d="M423.4 625.9 L423.3 626.5" stroke="#ff7800" stroke-width="6.8"/><path d="M474.5 674.7 L483.0 679.1" stroke="#ff7800" stroke-width="3.7"/><path d="M546.1 751.4 L547.4 755.2" stroke="#ff7800" stroke-width="4.9"/><path d="M529.8 669.9 L526.6 673.3" stroke="#ff7800" stroke-width="3.3"/><path d="M522.5 772.9 L514.8 775.9" stroke="#ff7800" stroke-width="3.5"/><path d="M479.2 685.3 L483.6 686.3" stroke="#ff7800" stroke-width="4.0"/><path d="M510.3 739.8 L505.4 745.6" stroke="#ff7800" stroke-width="5.0"/><path d="M518.8 702.8 L512.7 706.9" stroke="#ff7800" stroke-width="3.6"/><path d="M509.2 693.2 L508.5 693.4" stroke="#ff7800" stroke-width="4.1"/><path d="M510.1 664.2 L509.6 665.3" stroke="#ff7800" stroke-width="3.3"/><path d="M424.6 624.1 L433.5 627.7" stroke="#ff7800" stroke-width="6.9"/><path d="M518.9 694.2 L511.3 696.3" stroke="#ff7800" stroke-width="6.3"/><path d="M494.8 668.7 L486.0 669.0" stroke="#ff7800" stroke-width="4.1"/><path d="M484.6 683.7 L490.4 686.8" stroke="#ff7800" stroke-width="5.1"/><path d="M496.8 674.4 L496.7 674.6" stroke="#ff7800" stroke-width="6.2"/><path d="M508.4 680.5 L510.4 680.6" stroke="#ff7800" stroke-width="6.6"/><path d="M472.2 703.7 L475.4 705.3" stroke="#ff7800" stroke-width="6.9"/><path d="M610.3 709.2 L619.2 709.4" stroke="#ff7800" stroke-width="4.7"/><path d="M569.7 720.9 L573.1 724.7" stroke="#ff7800" stroke-width="3.4"/><path d="M577.2 728.3 L578.8 729.3" stroke="#ff7800" stroke-width="3.9"/><path d="M513.0 614.4 L511.3 618.8" stroke="#ff7800" stroke-width="3.7"/><path d="M539.1 658.9 L537.4 663.6" stroke="#ff7800" stroke-width="5.9"/><path d="M569.4 658.6 L569.7 661.9" stroke="#ff7800" stroke-width="4.2"/><path d="M574.7 753.4 L576.4 754.2" stroke="#ff7800" stroke-width="5.9"/><path d="M544.8 688.1 L540.4 694.9" stroke="#ff7800" stroke-width="4.0"/><path d="M405.5 588.5 L408.6 589.8" stroke="#e80000" stroke-width="7.6"/><path d="M396.0 607.6 L396.9 608.3" stroke="#e80000" stroke-width="5.2"/><path d="M393.6 605.3 L395.0 607.4" stroke="#e80000" stroke-width="5.7"/><path d="M355.5 576.2 L364.4 578.8" stroke="#e80000" stroke-width="7.9"/><path d="M348.1 576.0 L340.9 583.0" stroke="#e80000" stroke-width="5.5"/><path d="M460.9 636.9 L460.9 637.6" stroke="#8c0000" stroke-width="4.5"/><path d="M506.3 715.5 L508.2 721.0" stroke="#8c0000" stroke-width="6.9"/><path d="M455.9 635.7 L454.8 641.3" stroke="#8c0000" stroke-width="5.7"/><path d="M440.8 627.1 L438.8 632.4" stroke="#8c0000" stroke-width="5.0"/><path d="M466.5 654.6 L471.6 659.5" stroke="#8c0000" stroke-width="5.3"/><path d="M521.0 661.8 L521.3 663.0" stroke="#8c0000" stroke-width="6.0"/><path d="M426.9 658.5 L426.5 659.0" stroke="#8c0000" stroke-width="5.6"/><path d="M479.5 709.4 L472.0 712.8" stroke="#8c0000" stroke-width="4.1"/><path d="M447.4 651.9 L454.3 656.4" stroke="#8c0000" stroke-width="4.1"/><path d="M503.3 667.4 L502.9 674.3" stroke="#8c0000" stroke-width="5.5"/><path d="M508.2 761.4 L501.1 767.1" stroke="#8c0000" stroke-width="6.0"/><path d="M503.5 717.9 L506.5 723.8" stroke="#8c0000" stroke-width="5.2"/><path d="M542.2 750.8 L549.1 754.3" stroke="#8c0000" stroke-width="3.6"/><path d="M491.6 697.2 L500.2 698.8" stroke="#8c0000" stroke-width="3.8"/><path d="M419.3 627.2 L415.2 631.0" stroke="#8c0000" stroke-width="6.6"/><path d="M529.0 772.7 L524.9 781.2" stroke="#8c0000" stroke-width="4.5"/><path d="M450.5 634.4 L448.3 634.7" stroke="#8c0000" stroke-width="4.6"/><path d="M467.2 670.9 L471.6 671.2" stroke="#8c0000" stroke-width="4.3"/><path d="M505.3 702.7 L504.2 703.0" stroke="#8c0000" stroke-width="3.9"/><path d="M506.9 755.4 L511.6 759.3" stroke="#8c0000" stroke-width="4.1"/><path d="M510.4 727.8 L505.3 729.6" stroke="#8c0000" stroke-width="6.9"/><path d="M440.5 658.4 L437.8 658.7" stroke="#8c0000" stroke-width="6.9"/><path d="M510.1 654.6 L509.3 655.1" stroke="#8c0000" stroke-width="3.6"/><path d="M490.5 701.2 L488.4 709.2" stroke="#8c0000" stroke-width="6.6"/><path d="M449.2 657.4 L443.6 663.1" stroke="#8c0000" stroke-width="5.0"/><path d="M492.2 729.4 L492.8 736.9" stroke="#8c0000" stroke-width="6.2"/><path d="M515.5 722.5 L515.7 722.5" stroke="#8c0000" stroke-width="4.1"/><path d="M512.5 735.4 L512.3 738.3" stroke="#8c0000" stroke-width="4.9"/><path d="M534.3 785.7 L537.8 795.0" stroke="#8c0000" stroke-width="6.7"/><path d="M545.8 697.9 L544.3 698.2" stroke="#8c0000" stroke-width="5.7"/><path d="M474.6 677.9 L483.0 677.9" stroke="#8c0000" stroke-width="6.0"/><path d="M468.1 680.9 L468.9 684.5" stroke="#8c0000" stroke-width="4.1"/><path d="M508.4 661.5 L507.0 670.5" stroke="#8c0000" stroke-width="3.7"/><path d="M444.1 658.6 L443.0 663.4" stroke="#8c0000" stroke-width="4.4"/><path d="M545.5 695.6 L545.5 695.6" stroke="#8c0000" stroke-width="6.7"/><path d="M535.2 765.2 L537.5 766.0" stroke="#8c0000" stroke-width="3.6"/><path d="M508.8 748.7 L508.2 749.2" stroke="#8c0000" stroke-width="3.0"/><path d="M491.2 689.0 L491.8 689.9" stroke="#8c0000" stroke-width="6.8"/><path d="M441.4 656.9 L441.5 657.0" stroke="#8c0000" stroke-width="4.8"/><path d="M518.4 666.6 L508.6 668.7" stroke="#8c0000" stroke-width="4.3"/><path d="M483.1 677.3 L483.9 679.0" stroke="#8c0000" stroke-width="6.6"/><path d="M533.1 749.0 L533.6 752.7" stroke="#8c0000" stroke-width="6.2"/><path d="M422.2 644.9 L426.6 652.8" stroke="#8c0000" stroke-width="4.1"/><path d="M459.9 659.6 L457.7 666.5" stroke="#8c0000" stroke-width="6.2"/><path d="M488.8 680.7 L491.2 681.2" stroke="#8c0000" stroke-width="3.1"/><path d="M425.5 627.0 L415.6 627.8" stroke="#8c0000" stroke-width="3.7"/><path d="M449.6 654.1 L446.9 654.9" stroke="#8c0000" stroke-width="3.8"/><path d="M441.8 623.1 L444.8 626.3" stroke="#8c0000" stroke-width="6.1"/><path d="M521.4 775.8 L523.7 783.7" stroke="#8c0000" stroke-width="4.5"/><path d="M467.9 701.3 L470.9 702.9" stroke="#8c0000" stroke-width="3.7"/><path d="M502.9 725.3 L499.6 733.7" stroke="#8c0000" stroke-width="6.3"/><path d="M379.8 198.8 L396.8 193.1 L402.5 215.9 L391.1 238.6 L374.1 233.0Z" fill="#0000a0" stroke="#0000a0" stroke-width="0.0"/><path d="M435.2 203.1 L438.1 205.9" stroke="#0000a0" stroke-width="8.0"/><path d="M351.3 289.9 L385.5 284.2 L396.8 301.2 L362.7 312.6Z" fill="#0000a0" stroke="#0000a0" stroke-width="0.0"/><path d="M453.7 85.0 L493.6 87.9 L499.3 119.2 L465.1 119.2Z" fill="#0000a0" stroke="#0000a0" stroke-width="0.0"/><path d="M503.8 752.9 L497.0 757.3" stroke="#0000a0" stroke-width="6.0"/><path d="M445.7 650.7 L445.8 654.1" stroke="#0000a0" stroke-width="6.9"/><path d="M450.3 662.7 L454.3 669.3" stroke="#0000a0" stroke-width="5.2"/><path d="M458.6 648.6 L455.6 650.3" stroke="#0000a0" stroke-width="5.8"/><path d="M514.1 735.6 L514.9 735.7" stroke="#0000a0" stroke-width="5.5"/><path d="M525.7 682.2 L532.8 683.4" stroke="#0000a0" stroke-width="5.9"/><path d="M514.6 705.8 L513.8 706.1" stroke="#0000a0" stroke-width="4.5"/><path d="M543.8 695.9 L549.2 696.4" stroke="#0000a0" stroke-width="4.6"/><path d="M522.4 701.3 L526.4 704.2" stroke="#0000a0" stroke-width="6.1"/><path d="M501.2 722.3 L501.4 722.6" stroke="#0000a0" stroke-width="3.2"/><path d="M524.5 753.6 L521.9 755.1" stroke="#0000a0" stroke-width="3.2"/><path d="M445.9 683.0 L452.9 687.6" stroke="#0000a0" stroke-width="3.9"/></g>
<use href="#stk1"/>
</g>
<use href="#isl"/>
<use href="#frame"/>
<text x="816.5" y="914" font-size="73" fill="#111">(h)</text>
</g>
<text x="148" y="159.1" font-size="49" text-anchor="end" fill="#1a1a1a">40°N</text>
<text x="148" y="327.8" font-size="49" text-anchor="end" fill="#1a1a1a">38°N</text>
<text x="148" y="495.2" font-size="49" text-anchor="end" fill="#1a1a1a">36°N</text>
<text x="148" y="659.4" font-size="49" text-anchor="end" fill="#1a1a1a">34°N</text>
<text x="148" y="821.1" font-size="49" text-anchor="end" fill="#1a1a1a">32°N</text>
<text x="148" y="983.6" font-size="49" text-anchor="end" fill="#1a1a1a">30°N</text>
<text x="148" y="1086.6" font-size="49" text-anchor="end" fill="#1a1a1a">40°N</text>
<text x="148" y="1255.3" font-size="49" text-anchor="end" fill="#1a1a1a">38°N</text>
<text x="148" y="1422.7" font-size="49" text-anchor="end" fill="#1a1a1a">36°N</text>
<text x="148" y="1586.9" font-size="49" text-anchor="end" fill="#1a1a1a">34°N</text>
<text x="148" y="1748.6" font-size="49" text-anchor="end" fill="#1a1a1a">32°N</text>
<text x="148" y="1911.1" font-size="49" text-anchor="end" fill="#1a1a1a">30°N</text>
<text x="148" y="2014.1" font-size="49" text-anchor="end" fill="#1a1a1a">40°N</text>
<text x="148" y="2182.8" font-size="49" text-anchor="end" fill="#1a1a1a">38°N</text>
<text x="148" y="2350.2" font-size="49" text-anchor="end" fill="#1a1a1a">36°N</text>
<text x="148" y="2514.4" font-size="49" text-anchor="end" fill="#1a1a1a">34°N</text>
<text x="148" y="2676.1" font-size="49" text-anchor="end" fill="#1a1a1a">32°N</text>
<text x="148" y="2838.6" font-size="49" text-anchor="end" fill="#1a1a1a">30°N</text>
<text x="148" y="2941.6" font-size="49" text-anchor="end" fill="#1a1a1a">40°N</text>
<text x="148" y="3110.3" font-size="49" text-anchor="end" fill="#1a1a1a">38°N</text>
<text x="148" y="3277.7" font-size="49" text-anchor="end" fill="#1a1a1a">36°N</text>
<text x="148" y="3441.9" font-size="49" text-anchor="end" fill="#1a1a1a">34°N</text>
<text x="148" y="3603.6" font-size="49" text-anchor="end" fill="#1a1a1a">32°N</text>
<text x="148" y="3766.1" font-size="49" text-anchor="end" fill="#1a1a1a">30°N</text>
<text x="235.3" y="3796" font-size="49" text-anchor="middle" fill="#1a1a1a">118°E</text>
<text x="380.7" y="3796" font-size="49" text-anchor="middle" fill="#1a1a1a">120°E</text>
<text x="526.1" y="3796" font-size="49" text-anchor="middle" fill="#1a1a1a">122°E</text>
<text x="671.5" y="3796" font-size="49" text-anchor="middle" fill="#1a1a1a">124°E</text>
<text x="816.9" y="3796" font-size="49" text-anchor="middle" fill="#1a1a1a">126°E</text>
<text x="1042.7" y="3796" font-size="49" text-anchor="middle" fill="#1a1a1a">118°E</text>
<text x="1188.1" y="3796" font-size="49" text-anchor="middle" fill="#1a1a1a">120°E</text>
<text x="1333.5" y="3796" font-size="49" text-anchor="middle" fill="#1a1a1a">122°E</text>
<text x="1478.9" y="3796" font-size="49" text-anchor="middle" fill="#1a1a1a">124°E</text>
<text x="1624.3" y="3796" font-size="49" text-anchor="middle" fill="#1a1a1a">126°E</text>
<text x="1769.7" y="3796" font-size="49" text-anchor="middle" fill="#1a1a1a">128°E</text>
<rect x="1785" y="37.4" width="46.700000000000045" height="3707.1" fill="url(#jet)" stroke="#262626" stroke-width="1.5"/>
<text x="1852" y="3761.8" font-size="46" fill="#404040">0</text>
<path d="M1794.7 2817.7H1831.7" stroke="#262626" stroke-width="2"/>
<text x="1852" y="2835.0" font-size="46" fill="#404040">0.005</text>
<path d="M1794.7 1891.0H1831.7" stroke="#262626" stroke-width="2"/>
<text x="1852" y="1908.2" font-size="46" fill="#404040">0.01</text>
<path d="M1794.7 964.2H1831.7" stroke="#262626" stroke-width="2"/>
<text x="1852" y="981.5" font-size="46" fill="#404040">0.015</text>
<text x="1852" y="54.7" font-size="46" fill="#404040">0.02</text>
<text transform="translate(2052,1889.5) rotate(-90)" font-size="62" text-anchor="middle" fill="#262626">LRC (m/s)</text>
</svg></body></html>
